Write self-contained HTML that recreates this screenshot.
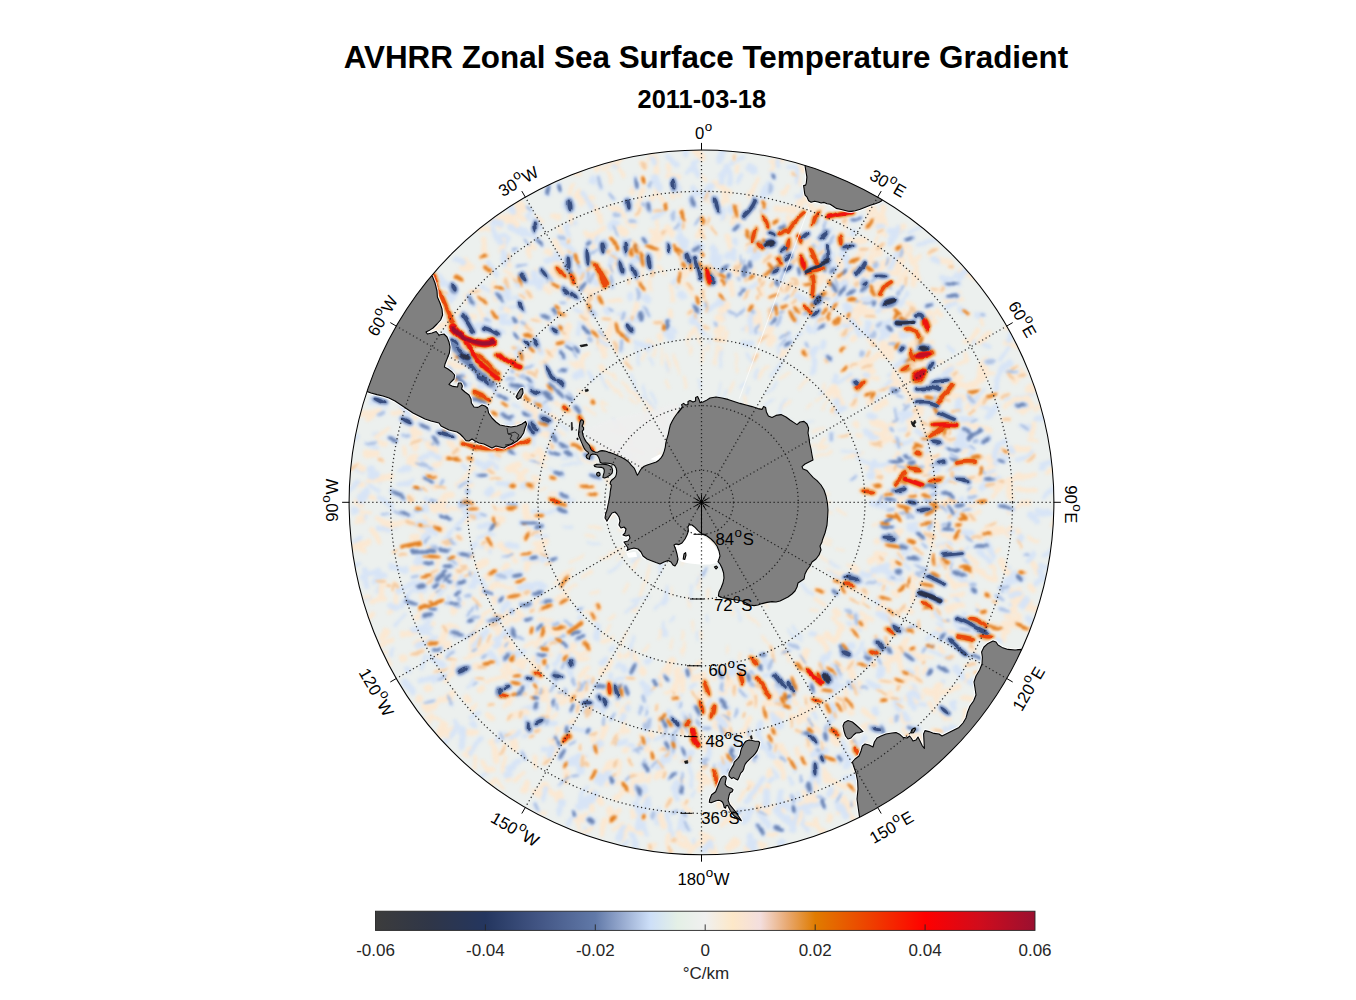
<!DOCTYPE html>
<html><head><meta charset="utf-8"><title>AVHRR Zonal Sea Surface Temperature Gradient</title>
<style>html,body{margin:0;padding:0;background:#fff}svg{display:block}text{font-family:"Liberation Sans",sans-serif}</style></head><body>
<svg width="1356" height="1000" viewBox="0 0 1356 1000">
<defs>
<clipPath id="clip"><circle cx="701.5" cy="502.3" r="352.4"/></clipPath>
<linearGradient id="cb" x1="0" x2="1" y1="0" y2="0"><stop offset="0.00%" stop-color="#3c3c3c"/><stop offset="8.33%" stop-color="#2f3648"/><stop offset="16.67%" stop-color="#24365f"/><stop offset="25.00%" stop-color="#435685"/><stop offset="33.33%" stop-color="#6179a8"/><stop offset="37.50%" stop-color="#98abd0"/><stop offset="41.67%" stop-color="#cddff8"/><stop offset="45.83%" stop-color="#e4f0e6"/><stop offset="50.00%" stop-color="#f0f0f0"/><stop offset="54.17%" stop-color="#fde8c8"/><stop offset="58.33%" stop-color="#f3dede"/><stop offset="62.50%" stop-color="#e8a870"/><stop offset="66.67%" stop-color="#e07c00"/><stop offset="75.00%" stop-color="#ee4000"/><stop offset="83.33%" stop-color="#ff0000"/><stop offset="91.67%" stop-color="#d00c1c"/><stop offset="100.00%" stop-color="#9a1030"/></linearGradient>
<filter id="b1" x="-5%" y="-5%" width="110%" height="110%"><feGaussianBlur stdDeviation="0.9"/></filter>
<filter id="b2" x="-5%" y="-5%" width="110%" height="110%"><feGaussianBlur stdDeviation="1.8"/></filter>
</defs>
<rect width="1356" height="1000" fill="#fff"/>
<g clip-path="url(#clip)">
<rect x="347.1" y="147.90000000000003" width="708.8" height="708.8" fill="#ecf0ee"/>
<filter id="nb1" x="-3%" y="-3%" width="106%" height="106%" color-interpolation-filters="sRGB"><feTurbulence type="fractalNoise" baseFrequency="0.05" numOctaves="2" seed="5" result="t"/><feDisplacementMap in="SourceGraphic" in2="t" scale="8" xChannelSelector="R" yChannelSelector="G" result="d"/><feGaussianBlur in="d" stdDeviation="1.5"/></filter>
<g filter="url(#nb1)" fill="none" stroke-linecap="round" stroke-linejoin="round">
<path stroke="#fbe8d2" stroke-width="2.6" d="M669.1 540.8l-2.3 7.3M709.8 589.3l.1 9M699.7 576.2l-.3 13.5M642.4 583.3l-3 15.2M749.9 371l2.7 -6.5M621 548.9l-12.7 3.8M720.3 360.2l0 -11.7M718.9 501.4l15.9 6.2M660.9 419.9l-7.9 -10.3M791.4 521.8l15.4 2.8M734.1 512.4l7.6 .7M657.7 486.5l-11.7 .1M820.3 537l11 2M743.1 493.2l7.3 -3.1M606.5 411.9l-4.9 -8.8M727.9 546.2l9.4 7.3M696.9 521l.2 15.3M594.2 536l-8 -.6M717.6 457.1l3.1 -5.2M670.2 501l-12.2 6.2M614.7 613.8l-6.1 5.4M664.4 518.4l-9.9 7.7M701.3 463.3l-5.1 -14.1M747.6 531.2l5 3.2M576.4 585.3l-11.5 4.9M609.3 553.8l-9.3 4.5M589.2 399.1l-10.1 -9.7M648.5 644.2l-5.9 8M625.3 636.3l-3.6 5.6M690 445.1l.9 -6M811.8 445.8l12.6 -.8M788.3 469.4l6 -9.3M675.7 437.6l-1.7 -9.7M602.2 528.7l-11.3 -2.1M735 475.9l15 -4.4M717.1 438.3l3.9 -3.9M760 518.4l11.8 -4M846.2 458.3l15.7 -6.8M838 549l6.8 2.5M692.6 538.2l-.6 9.4M700.4 345.1l-2.8 -11M688 596.6l1.4 10.6M723.2 485.8l6.6 -5M634.9 605.4l-3.5 4.8M758.7 378.7l9.4 -12.7M660.7 458.4l-2.9 -9.2M744.8 405.2l-.2 -8.9M629.5 503.1l-11 4.1M730.8 393.7l2.9 -13M758.1 431l10.3 -9.3M650.6 566.8l-6.2 14.8M779.8 378.6l9.9 -5.8M637.2 602.3l-2.9 9.2M732.5 434l3.3 -4.5M683.9 421.7l.1 -14.4M559.4 494.2l-9.6 -.2M765.9 600.3l3.4 6.3M743.2 442.2l-.4 -7.8M613.7 456.4l-12 -1.2M823.7 542.3l6.7 1.4M783.9 488.4l11 .3M843.8 459.3l15.4 -3.1M768.7 456.5l3 -6M763.8 479.9l10.7 -11.2M672.3 467.8l-14.1 -6.2M648.1 539.1l-8.9 6.6M714.3 362.9l3.5 -16.6M625 433.6l-5.4 -9.6M774.4 571.8l3.8 8.2M653.1 356.8l1.3 -6.5M766.2 559.3l4.5 5.5M835.3 414.5l8.3 -4.8M809.9 534.5l9.7 6M762.2 637.1l5.4 7.1M633.6 470.5l-5 -5.6M823 513.3l10.3 .4M801.7 563.8l8.4 5.1M823.4 409.5l6 -11.5M707.4 351.1l1.5 -8.6M626 633.5l-6 14.5M743.6 524.3l16.1 2.3M728.7 506.2l16.3 .6M729.8 460.8l7.3 -9.3M727.5 599.5l4.4 15.3M737.4 370.7l-1.6 -14.7M684.5 536.9l-4.8 3.9M675.7 543.5l-6.2 9.9M576.4 414.8l-12.7 -2.2M694.7 474.1l-6 -6.6M545.9 488.8l-6.9 .9M662.9 365.3l-.6 -15.1M613.3 377.9l-10.1 -8.9M583.6 555.7l-14.2 8.5M747.4 613l11.8 12.6M671.9 640.7l0 8.5M632.3 444.6l-3.3 -7.6M769.5 549.9l11.3 7.1M821.3 497.6l7.7 -1.8M662.6 425.3l0 -17.1M593 570.1l-11.1 6.8M689.6 354.5l-.5 -5.6M753 482.6l14.4 -6.1M596 461.5l-15.5 -3.1M565.1 475l-6.4 .4M820.2 556.3l11.7 5.6M744.6 562l3.2 10.3M695.9 459.8l3 -6.5M707.8 542.1l7.3 7.7M744.7 562.2l9 8.1M812.6 506.9l16.9 -3.9M616.4 488.3l-10.8 -8.5M819.1 502l3.5 4.3M685.1 544.1l-5.8 10M783.7 409.9l7.6 -9M650.1 402.1l-13 -8.4M615 380.7l-1.4 -6.2M680.7 632.3l1.5 6M695.5 455l-5.5 -13.3M654.3 408.2l-9.2 -7.1M677.8 498l-6.8 -.1M650.3 484.2l-10.9 -6.5M838.9 509l7.8 5.6M796 439.8l4.5 -5.6M642.8 465.9l-9.8 -6.9M740.2 653.4l-.9 6.7M773.1 559.6l8.8 6.3M624.4 553.1l-7.7 5.9M762.1 515.2l9.7 6.9M610.4 479.8l-7.7 -2.1M615.2 392.6l-8.1 -12.5M725.6 478.4l8.9 -6.1M687.4 389l-2.4 -13.2M834.8 574.5l7.6 2.9M773.7 502.5l15.1 5M681.5 502l-16.7 2.8M564.5 436l-8 -3.8M755.5 418.9l6.2 -8.5M668.9 389.9l-3.7 -7.2M654.1 415l-7.3 -13.3M812.8 433.6l9.9 -4.3M833.9 413.3l5 -2.2M670.1 447.8l-1.8 -5.6M817 457.1l14.3 -6.1M686.3 346l.1 -7.3M801.6 496.1l16.3 4.2M806.4 408.4l4.7 -3.4M626.6 486.9l-5.9 -2.1M722.5 511.2l11.3 2M756.1 468l8.2 -2.3M629.3 583.9l-6.1 8.6M605.5 456.3l-12.8 -4.4M668.3 373.5l.7 -5.7M751.3 559.1l3 15.1M773.7 543.4l5.4 5.2M691.3 621.8l1.8 9.7M644.7 453.4l-12.7 -4.1M809.5 530.8l6.8 5.6M685 640.7l1.1 8.6M614.6 452.4l-14.3 -7.1M789.9 461.8l12.1 -.9M607.3 404.2l-5.2 -2.8M673.3 418.4l-.1 -11.3M639.8 556.3l-6.5 13.1M620.4 509.1l-11.7 7.3M631.4 523.5l-10.1 5M815.9 401.8l6.6 -5.9M640.1 399.4l-7.2 -7.2M620.7 463.8l-11.2 -10.5M636.6 404.2l-6.9 -5.5M630.5 390.6l-4.2 -4.2M609.3 625.1l-7.5 9.6M748.8 485.3l12.9 -10.3M595.7 415.6l-11.1 -6.2M668.1 529.2l-11.1 11.5M702.4 362.3l.2 -11.4M679 372.7l-3.5 -16M801 462.9l6.6 -5.8M660.5 630.1l-2.2 8.7M622.6 396.9l-5.2 -6M622.6 434.2l-12.2 -4.2M828.4 568.7l14.8 5.2M832.1 573.5l5 5.8M688.3 473.5l-3.1 -6.7M846.5 565.7l7.2 6.5M639.8 402.4l-5 -11.4M687.4 558.5l-4.3 5.9M693.6 526.7l-.4 15M728.4 551.5l2.4 6.1M815.2 598l10.3 6.6M599.4 609.1l-12.9 5.1M799.2 389l9.4 -10.9M736 446.9l3.8 -15M620 455.2l-4.6 -6.5M647.9 422.7l-3.4 -14.9M784.1 532.5l13.1 -0M701.2 630.5l1.3 9.6M671.6 367.5l-3.8 -11M572.2 570.8l-6.7 5.5M786.8 435.2l2.9 -6.1M670 586.2l.5 9.2M630.5 393l-8.6 -11.4M683.5 647.8l.5 5.5M749.8 488.1l10.4 -5.4M598.6 592.3l-7.7 2.3M819.4 445.5l4.9 -7.2M737.7 520.1l10.9 .5M564.3 575.5l-9.4 7.1M642.3 359.6l2.4 -8.4M812.4 609.6l7.3 1.2M787.2 493l16.6 -3.8M669.8 543.1l-5.2 9.9M721.1 533.8l6.8 11.6M725.8 644.2l1.4 7.5M700 481.7l-0 -6M627.6 360.1l-3.7 -4.1M817.8 449.5l10.1 -3.9"/>
<path stroke="#d7e4f6" stroke-width="4.0" d="M832.9 175.8l9.9 7.1M630 745.8l2.6 1.5M988.5 477.2l4.2 7.9M503.1 333.4l-7.4 -3M966.5 423.3l5.9 -5M701.2 737l-4.3 5.7M692.5 172.7l.4 -5.6M940.5 633.7l1.3 4.1M935.5 545.3l16.4 -1.4M687.4 241l-9.6 -3.2M647.4 705.5l-2.3 2.4M842.3 740.5l1.9 8.9M1008.8 665.3l1.7 -11.9M909.8 370.9l10.7 -12.5M492.2 547.5l-11.4 -.5M455.3 669.3l-6.2 6M473.4 679.5l-5.5 8.6M682.1 815.9l-5.3 14.9M719.9 264.8l-.6 -7.6M824.4 643.6l4.7 10.9M711.2 700.4l-6.1 10.5M1036.9 514.9l15.3 -2.5M427 655.3l-6.2 12.2M472.6 336.4l-5.1 -13.9M379 433.8l-3.9 .3M842.3 337.8l9.6 -8.8M578.4 334.2l.3 -11.5M447.4 506.6l-5.1 1.3M433.5 469.7l-9.7 -3.1M664.2 738.1l-5.5 -1.3M598 350.6l1.3 -7.7M525.4 715.9l.9 5.9M925.5 603.2l15.2 9.6M448.4 429.5l3 -3M454 720.8l6.9 11.8M988.4 472.4l3.7 -2.6M411.4 514.9l-2.8 2M926.9 638l14 -5.8M855.9 623.2l10.5 3.7M883.7 324.7l6.9 -5M619.1 252.2l5.8 -13.5M448.4 650.6l1.2 5.8M884.4 520.3l3.8 1.8M768.3 739.6l11.8 13.1M534.9 582.7l-4.2 6.5M587.7 787l-8.6 13.8M802 203.3l2.4 -15.9M682.8 821.1l2 3.3M787.3 775.8l5.3 7.6M846.2 310.2l1.5 -16M740 810l11.1 3.9M881.6 388.7l9 -7M796.4 335.8l3.2 -2.2M545.8 794.6l-.2 4M674.1 739.7l9.4 10.1M612.1 646.4l-1.5 3.3M491.6 469.9l-15.2 -9.2M671.9 726.8l2 8.4M397.5 526.8l-6.8 -4.5M630.1 208.4l1.3 -5.1M453.1 529l-10.7 11.9M448.7 597.7l1.3 4.1M363.3 471l-7.1 -3.2M676.5 333l-3 -3.5M937.3 625.5l6.5 8.4M872.5 579.3l13.4 9.9M866.5 197.7l-3.7 -10.3M684.5 671.4l-4.5 9.7M515.4 305.1l-13 1.8M956.5 574.6l8.2 9M972.3 399l6.4 -5.6M498 459l-10.6 -7.3M740.6 217.4l-3.1 -8.7M625.9 841.5l-4.2 4.4M695.3 790.4l-4 4.8M545.2 587.1l-9.3 -5M935.9 565.9l10 -7.5M491.3 457.2l-2.8 -6.3M761.1 334.7l-3.3 -6.9M517.6 372.1l.6 -16.3M482 353.8l-12.5 4.1M881.7 208.5l-2.2 -12.3M1015.8 397.8l16.4 -4.7M540.5 286.8l-6.7 -11.2M465.4 665.3l-5.9 3.8M899.1 558.2l11.1 11.7M590.6 379.2l-2.9 -6.9M403.1 471.1l-5.8 .7M966.3 500.5l14.4 3M569.5 651.9l-1.5 2.6M506.9 315.3l-16.5 -3.6M690.2 768.5l2.1 16.7M418.5 589.9l-6.6 2.9M802.7 813.7l2.4 16.6M422.9 345.7l-15.9 5.6M596.7 301.5l-1.7 -8.3M594.9 242.9l2.3 -5.7M919.3 323l11.1 -5M853.6 654.9l9.7 -13M1010.1 604l6.5 -4.9M589.2 315.2l-15.8 -5.2M874.6 310.8l15 -5.7M808.1 703.9l9.1 13.9M465.6 312.5l-3.2 -.9M505 245.3l3.8 -7.3M520.4 668l-3.9 3.8M765.1 676.9l10.4 -2.3M449.7 303.1l6.6 -11M363.8 515.4l-1.5 6.2M825.2 235.1l6.2 -5.6M490 291.6l-8.3 -4.7M931.2 595.3l12.6 9.4M900.2 364.1l7.9 -8M913.6 688.1l2.5 3.3M359.6 537.5l-8.8 12.8M801.9 825.2l6.7 8M973.2 402.1l11 -10.9M915.8 705.1l11.7 -1.7M743.1 330.1l7.3 -4.7M837.4 266.4l-.1 -3.7M436.6 285l-2.8 -1.9M721.9 318.8l-0 -4.1M508.7 297.2l-10.3 -8M429.7 621.7l-10.9 5.1M427.7 502l-1.9 5.6M407 413.2l-2.6 -2M901.2 304.2l6.4 -11.8M651.3 658.2l-5.5 3.1M901.1 700.4l-2.7 11.4M584.8 827.9l1.8 10.3M947.3 345.7l4.7 4M533.5 731.7l-9.7 4.5M926.6 455.6l4.9 -16.6M468.3 397.4l-5.7 -.5M543.8 692.5l-5.5 -.5M877.6 739.6l.5 5.9M438.6 385.1l-12.2 -7.6M497.4 467.2l-6.2 -3.8M605.9 658.4l-5.5 4.7M895.3 366l7.7 -5.8M852.3 679l6.4 12.7M731 163.1l11.3 -5.9M681.3 247.5l-3.2 -2.8M782.3 251l16 -4.4M571 241.4l-6 -13.8M624.3 676.8l-10.3 3.8M611.9 672.7l-.6 8.5M372 597.6l-14.6 3.8M535.3 441.4l-6.5 -12M554.5 750.6l-12.8 -.8M404.1 615.3l-8.2 10.9M898.2 555.4l13.9 -7.3M877.5 600.6l1.4 5.7M728.5 314.5l-5 -10.9M571.4 817.4l-3.8 8.5M632.9 264.1l-.9 -10.1M964.6 613.5l-1.8 4.4M442.7 505l-14.3 1.4M896.4 579.5l5.6 .2M856.9 457.2l13.4 7.8M957.3 551.6l1.6 3.1M494.8 535.4l-16.6 1.8M941.9 681.1l-2.4 5.3M587 804l-3 -2.6M789.7 256.2l2.5 -12M567.9 205.3l.4 -7.5M535.9 703.9l-13.1 7.1M681 694.3l-3.3 10.2M727.9 195.5l-7.3 -14.7M476 626.9l-2.4 6.3M776.9 684.5l5.7 3.4M666.9 812.3l2.7 13.2M402.1 383.7l-8.7 -12.2M442.5 325.4l-5.8 .5M446.5 737.9l-2.9 4.7M908.4 525.2l10.7 -.6M832.7 683.8l-2.2 12.5M771.7 769.4l5.4 7.4M525.9 217.2l3.1 -6.1M439.5 672.6l-4 7.8M925.9 647l15.9 7.1M576.6 224l-11.1 4M449.4 551.8l-15.8 -5.9M1043.5 555.3l7.4 -5.6M919.2 243.7l17.3 -4.2M1000 359.8l8.9 -13M380.3 491.5l-13.1 -7.6M742.6 291.5l15.3 -9.4M381.1 482l-.1 -4.7M982.6 470.7l16.1 7.2M979 403.4l15.7 5.3M391.6 650l-1.4 7.3M693.8 839.1l3.7 8.3M922 484.3l3.7 -.4M686.6 173.8l11.5 -13.1M642.7 820.6l5 14M434.3 535l-8 -1.8M955 275.4l7 -5.2M661.8 675.2l-7.8 9.1M848.4 624.2l13.1 5.7M429.5 442.7l-8.9 -4.1M781 355.9l-1.3 -9.9M899.7 495.3l16.4 -3.7M386.1 407l-15.7 -3.6M761.4 736.4l-1.7 12.3M626.2 317.6l-7.8 -4.3M404.6 356.6l-16 -2.1M638.6 296.2l.8 -3M377.3 447.8l-9.1 -2.7M519.4 407.1l-5 -2.6M734.3 222.8l-3.6 -15.4M889.6 239l13.6 -9.2M527.7 675.5l-1.9 11.4M954.1 595.3l7.1 10M870.3 789.8l-1 7.5M658.5 809.1l-1.5 14.1M918.1 446.5l5.9 -4.7M489.4 552.1l.5 -7.7M435.8 580.8l-15.2 -4.2M815.8 323.3l10.3 2M487.1 772.3l-10.3 6.8M778.4 799l13.7 10.2M952.8 647.8l8.4 1.1M765.9 256l6.6 -16.3M446.6 585.5l-8.3 9.6M547.9 624.7l-4 -.5M1006.4 585.4l6.4 -5M837.4 383.7l13.3 -8.3M597.2 684l-4.4 2.8M771.3 693.1l5.5 1.6M819 768.4l-.6 14.3M678.4 286.6l.1 -3.4M412.5 480.2l-13.7 4.8M789.4 167l9.4 1.4M911.2 440.9l10.7 6.5M957.4 551.2l11 -5.3M861 786.7l6.8 2.9M466.2 467.5l-3.3 -3.2M765.9 197.4l2 -12.8M461.7 576l-1.4 16M853.4 396.8l9.5 -8.3M948.3 559.1l4.5 -.3M748.9 250.9l2.6 -15.9M972.7 339.6l15 7.4M858.9 659.4l-1.9 7.6M1000 560.8l10.3 6.5M382.8 583.5l-4.4 8M618.7 167.2l-11.4 -5.5M837.7 328.1l3.9 -3M1016 461.1l14.8 -9.1M779.8 801.4l-5.3 9.5M471.8 665l-9.7 7.7M889.8 375.8l3.1 -1.9M931.1 490.7l4.5 -5.9M797.6 794l1.8 5.7M843.1 182.8l-.6 -4.8M883.1 329.1l5.7 -4.3M429.8 634l-16.3 -5.5M529.1 293.3l-15.8 3.3M668.9 824.5l5.6 13.7M909.8 231.7l11.1 -5.8M901.3 428.5l9 .1M585.3 756.3l-14.6 6.9M807.2 715.7l-.6 17.5M922.8 331.5l3.4 -6.3M470.6 483.1l-9.6 3.8M441 277.4l-13.5 -6.2M721.5 314.1l-2.6 -13.6M877.2 399.3l-.2 -4.3M619.4 663.9l-2.2 3M881.5 427.5l8.2 -1.5M999.1 531.2l16.7 -.8M681.3 270.1l.8 -6.8M386.2 391.9l-8.2 -4.5M1044.2 497.7l10.8 -11.6M1005.4 399l3.4 -.4M526.4 228.9l-6.9 -.7M941.9 444.4l14.5 -7.9M881 217.7l2 -5.1M891.8 739l14.4 7.6M430.7 368.4l-.6 -11.5M476.6 603.9l.6 4.4M916 467l6.8 -2.3M464.6 364.8l-4 -3.2M676 730.7l-6.5 7.7M567.7 659.2l-6.2 8.3M522.9 752.2l1.4 8.9M886.2 264l2.1 -5.9M431.1 468.1l-9.2 -5.3M968.4 445.4l8.2 3.6M714.4 764.2l2.9 8.4M753.2 241.5l7.8 -.4M862.7 304.6l9.9 -2.2M743.4 270l2.1 -10M740.8 689.1l5.4 8.5M640.7 261l-3.5 -4.2M825.9 230.1l.5 -8.6M627.4 241.9l4.1 -2M485.3 422.4l-4 -1.7M442.8 347.4l-2.7 -5.6M575.9 356.3l-2.5 -8.6M890.5 289.7l-.5 -5.6M755.7 333.4l3.3 -9M509.5 643l-2.5 3.6M908.6 479l3.3 1.5M516.7 249.8l-4.7 .6M418 576l-5 1.2M615.6 711.5l-3.9 8.4M916.4 565.1l10.6 1.9M408.6 597l-2.5 4.2M484.9 516.6l-5.4 -1.6M802.8 314.5l8.4 -5.4M433.6 699.4l-9 2.5M437.5 437.8l-7.4 5.5M646.2 709.7l-.1 5.2M695.3 225.5l5.1 -9.7M894.7 533.8l3.9 3.6M511.9 553.7l-8.8 3.8M538.7 464.6l-8.4 -5M920.1 390.5l4.2 -.7M573.9 741.3l-4.2 3.3M579.3 683.1l-.3 6.3M562.7 691.8l-4 1M892.4 420.6l5.5 -1.8M895.4 417.9l-1.6 -9.1M637.8 251.4l-.9 -5.4M780.2 757.1l4 4.9M837.5 668.2l4.3 7.7M855.1 301.1l3.3 .6M673.4 230.5l4.3 -7.1M907.5 627.3l8.6 -2.1M819.6 296.7l8.2 1.1M918.8 341.5l3.2 .6M967.2 489l3.9 -3M388.2 513.2l-7.3 .1M934 398.4l2.6 -2M488.3 330l-3.9 .3M641.1 706.2l-1.5 6.9M902.5 406l5.6 1.1M639.7 747.1l-3.7 5.9M612.7 309.8l-4.5 -2.1M781.4 652.7l9.1 -1.9M450 696.1l1.6 8M776.6 684.1l2.2 3.7M850.7 478.4l5.6 -2.4M636.6 279.5l-.6 -4.6M780.3 282.1l4.5 -10.2M878 504.7l4.6 -10.1M470.3 576.6l-1.1 -4.8M891.1 344.9l5.5 -.7M649.6 211.5l-4.6 -7.6M500.1 733.1l3.8 7M677.7 811.4l-5.1 1.6M740.6 293.1l.5 -5M556.1 702.4l1.3 6.8M543.6 688.6l-3.3 5.1M1001 585.3l2.4 6.6M899.4 513.6l3.4 -1.9M928.6 499l4.2 .5M563.8 633.5l-7 5.8M938.2 506.4l7.4 6.3M927.8 644.2l5.9 .8M532.9 366.4l-10.2 2.5M952 563.7l-0 5.2M521.5 358.2l-2.8 -8.5M826.3 724.5l1 10.9M873.3 337.3l1.5 -5.5M974.7 608.9l3.9 .7M522.2 428.7l-.1 -4.5M645 204.9l-2.9 -1.7M549 400.1l-6.3 4.4M613.5 275.5l-4.5 -9.4M475.3 632.6l-7.1 4.7M961.8 462.4l3.3 -2.4M444.5 677l-5.8 2.6M946.8 618.4l1.9 2.6M477.1 649.1l-4.7 .7M528.6 342.5l-3 -1.5M376.7 442.1l-10 2.6M546.3 664.5l-.3 3.5M735 314.6l-8.1 -3.6M384.4 412.8l-6.8 3.2M898 624.8l7.9 6.3M741.3 265.9l-.3 -10.7M865.3 581.5l10.9 .3M665.3 729.8l-2.3 6.2M799.6 775.7l3 6.9M422.1 490.7l-9.2 -1.2M642.4 747.7l-9.3 3.9M572.3 628.3l-7.7 -7.8M408.7 405.3l-6.8 .6M808.1 719.5l3.8 7.1M461.4 529.7l-4.1 .5M477.6 682.8l-4.1 3.2M547.5 282.3l-.5 -8.6M863.9 651.7l5.7 1.9M751 237.9l3.7 -5.3M401.8 514.9l-9.1 -3.9M528.8 209l-3.9 -3.2M973.7 442l4.6 -.7M838.2 288.6l-3.1 -10.1M546.4 643.7l-6.8 3.5M536.7 406.9l-2.5 -6.5M928.5 463l9.4 .6M971.5 421.9l5.3 -2.1M439.2 589l-4.2 2.2M716.6 326.1l-.9 -3.3M690.8 714.6l-1.1 10.2M767.2 743l3 6.5M569.5 776.8l-8.2 6.5M926.4 645.6l-3.7 6.5M783.7 299.2l4.2 -4.2M605.8 335.2l-5.8 -5.2M832.7 675.3l3 3.6M852.1 737.2l4.1 9.2M556.6 683.9l-5.9 6.8M473.3 553l-4.9 -.5M835.8 665.7l8 7.6M980 468.2l3.7 4.5M900 290.5l3.9 -3.6M726.1 283.5l1.3 -4.1M734.8 733.7l1.5 10M886.6 510.7l6.5 -.8M479.6 443.2l-8.4 -6.7M706.4 568l-3.4 7.9M486.7 443.2l-9.8 2.3M809 347.9l-3 -4.1M739.3 280l-.7 -3.5M816.8 795.5l9.2 4.1M849.8 802l.8 5.3M574.4 397.7l-4.4 -5.5M759.1 810.8l7.5 3M524.3 265.6l-8.5 .2M828.9 719.5l1.1 9.1M586 682.7l-4 1.6M962.9 558.3l5.4 6.9M965.5 536.4l5.9 3.7M898 395.3l5.2 1.8M568.5 296.5l3.6 -6.4M524.4 324.4l-3.2 -2.7M616.8 235.5l-4.4 -8.6M432.8 291.6l-5.9 2.6M951 453.8l7.3 3.4M577.1 775.4l-5.1 .7M860.9 687.3l6.4 1.2M686.7 716.3l-.2 5.9M895.6 466.3l9.6 2.7M628.9 338.8l-2.8 -3.4M425.4 465.9l-9.7 -2.8M839.1 794.7l-1.7 6.2M800.4 654.4l5.6 9M781.8 345.6l4.5 -6.3M683.5 822.4l4.4 7M582.8 683.9l-5.7 5.8M891.1 388.6l6.5 2.3M565 689.5l-.3 5.6M900 256.9l2.4 -8.6M681.5 773l0 10.2M735.4 316.9l7.7 -7.3M449.5 604.1l-5.1 0M606.5 683.5l3.4 4.2M473.5 607.4l-5.3 7.8M644.7 722.9l.4 4.7M1024.5 555.8l4.3 -.9M604 717.4l-1 8.7M743 272.9l.1 -3.2M899.5 512.8l4.2 0M680.5 722.7l5.3 7.8M877.8 658l3.1 6.2M917.9 575.5l3.7 .3M528.4 243l-3.6 -4.2M721.4 714.3l7.2 6.4M963.4 512.2l7.1 -2.4M749.1 727.4l-1.2 7.2"/>
<path stroke="#fbe8d2" stroke-width="4.0" d="M362.5 521.6l-5.7 1.5M939.6 646l3.3 5.6M970.3 573.1l1.1 4.4M543.5 467.5l-9.3 -6.9M370.8 596.6l-13.5 3.4M503.7 790.3l-8.5 -12.2M881.2 504.6l4.5 -.8M867.4 334.4l4.8 -7.2M550.4 654.4l-3 1.1M542.1 449.7l-4.1 -.3M784.1 692.6l9.2 -1.8M496.8 448.5l-7.4 1.8M761.1 787.7l-.8 6.2M852.1 567.8l5.1 2.7M408 361.3l-10.6 8.1M587.1 812.3l-11.8 7.3M508.9 265.2l-.3 -9.1M584.1 800.8l-6.1 7.9M917.6 574l15.4 -.4M982.3 325.2l-2.1 -11M501.6 669.7l7.6 12.8M725.9 817.6l4.3 5.1M495.2 602.8l-7.4 -14.4M841.3 809.7l-3.4 2.4M553.8 332.6l-8.3 -11.7M936.4 630.9l17.1 2.5M707.1 179.7l-12.7 -9.9M522.7 774.8l-8 4.9M616.2 696.8l3.1 7.6M460.7 571.3l-10.6 -3.6M500.6 351.1l-14.2 -7.3M556.8 392.9l-3.6 .2M873.6 526.8l6.7 -1.1M701.4 706.9l10.7 8.7M385.2 652.7l-3.6 -.1M435 386.6l-2.5 -8.2M1005.6 328.9l3 -3.7M403.2 403.4l-3 -1M590.1 668.4l-10.1 8.4M734.6 816.9l-13.9 8.3M457.6 406.8l-3 1.9M645 720.1l6.9 15.7M832.8 618l12.1 11.2M384.5 445l-5.9 -3.7M396.9 523.2l-8.7 -2.5M762.1 295.1l-.2 -5.5M684.1 835.3l7.2 11.4M1007 511l14.4 -9.4M1003.7 612.4l16.5 1.4M492.3 643.6l-8.1 6.4M897.1 389.2l8.7 -9.4M716 333l3 -6.9M824.4 768.6l5.4 6.6M538.8 810.6l5.4 2M405.5 369.3l-4.7 -2.7M884 432.9l5.3 -1.4M677.1 282.3l-.4 -7.6M737.4 812.4l6.1 8.2M901.9 649l9.8 -.1M546.7 552.7l-8.4 -6.1M514.5 589.1l-16.8 -4.9M478.4 342.5l-10 -.8M912 250.6l-1.1 -3.3M923.2 333.7l12.8 -12M930.8 255.8l-.2 -3.6M611.9 636.3l-10.2 5.1M858.9 749.2l-1 8.9M824.1 829.9l.9 4.4M802.1 169.4l-1.7 -3M990.9 496.6l14 -11.3M827.8 308.6l-5.8 -16M561.2 789.8l.2 12.6M571.2 225.2l.3 -8.7M881.3 310.1l5.7 -2M442.8 722.1l-9.8 -5.7M904.3 729l1.5 5M940.2 713.5l9.9 5.4M536.6 686.4l1.7 10.7M848.1 381.1l4.6 -2.4M824.1 388.4l.5 -3.7M561.3 235.5l-4.4 -9.2M699.7 662.7l-11.9 11.1M863.1 739.4l2.2 6.2M738 230.1l-5.2 -7.3M438.5 562.7l-3.6 17.3M580.9 690.1l.5 7.1M558.9 316.6l-2.3 -4.7M775.5 760.1l6.1 12.1M395.8 360.1l1.1 -4.1M732.6 192.9l-13.7 -6.9M849.9 813.8l5.9 8.3M445.2 730.4l1.3 5.2M986.9 672.8l9.7 7.2M476.7 703.5l-3.9 5.1M576.4 814.8l1.3 16M918.3 345.6l15.4 -2.9M693.8 297.2l-8.7 -12.3M761.7 220.9l3.1 -12.9M1045.9 473.9l11 -6.4M934.1 699l11.5 9.1M671.8 689.2l-7.5 4.9M454.6 661.8l-3.7 8.2M869 262.1l1.8 -4.6M859.6 614.6l13.6 5M899.9 351.3l13.6 -8.8M420.7 411.1l-9.9 11.6M467.2 437.6l-9.8 -11.3M876.8 265l12.8 -5.4M500.7 492.7l-9.9 4.5M546.6 539.7l-12.3 5.1M934.8 600.2l-.6 17.3M503.2 676.7l-16.7 4.8M858.8 682.1l1.3 6.1M608.6 667.2l-7.7 1.1M905.2 404.2l4.8 -3M1001.1 587.5l9.9 .2M869 401.8l3.6 -8.6M472.9 328.9l-3.5 7M761.4 656l1 9.2M451.1 456.2l-10.6 4.3M528.9 355.6l-3.2 -1.6M906.5 376.3l4.4 -8.4M887.5 223.6l-6.3 -12.4M818.5 667.6l4.1 10M1005.7 454.6l7.5 -.7M950.3 505.3l8.4 -1.6M862.3 294.3l3.1 -11.4M925.6 576.8l-2.4 7M842.9 728l7.4 10.2M611 181l-2.7 -8.3M440 362.8l-15.7 2.4M707.1 684.4l-5.4 9.3M660.4 341.7l4.6 -12.1M981.5 374l11.2 -1.3M539 599.8l-8.5 6.3M719.7 286.4l5.3 -7.2M620 763.4l-7 16.4M932.7 402.9l3 -1.2M466.9 302.6l-2.1 -7.5M970 505.9l4.8 1M871.4 251.6l5.6 -14.4M746.2 248.2l8.8 -9.5M1019.5 589.2l3.9 6M1011.6 656.2l3.3 .4M467.1 443.3l-4 -.1M564.3 269.7l-7.3 -11.2M1046.8 463.5l3.3 .4M842.4 272.6l-3.9 -14.2M520.5 618.2l-5.3 2.9M544.1 452.1l-5.6 13.6M1029.2 473l5.2 .9M482.7 348l-4.6 -.4M914.6 336.7l2.2 -2.9M478.3 514l-5.5 -3.2M525.5 364.2l-17.1 .1M514.4 670.8l-8.9 2.3M434.6 328.1l-2.8 4.5M674.3 301.5l-2.5 -17.5M744.9 790.1l-6.4 11.1M844.2 324.8l9.1 -5.4M689.3 338.8l2.8 -4.4M925.4 692.5l7.1 3M426.1 638.3l-10.6 3.9M554.2 270.1l-0 -3.4M459.2 554.1l-.4 12.4M770.8 300.5l6.1 -12.3M536.6 413.7l-11.5 -9.9M402.6 417.2l.7 -11.7M978 683.4l15.1 -3.9M722.7 680.9l3.1 10.3M779.4 761l3 16.3M875.5 288.6l14 -5.9M558.3 403.9l-9.9 -1.4M933.4 317.1l-0 3.6M800.2 184l-1.1 -6.2M657.9 241.3l-1.1 -13.8M941.4 439.7l8.5 .3M979 370.6l7.3 -3.5M624.1 822.8l-9.6 7.5M892.3 647.1l12.3 7M472.3 486.1l-6.6 2.1M404.2 364l-10.1 -9.8M387.4 428.9l-10.4 7.9M548.7 378.5l-8 -16.1M909.7 322.1l-1.4 -5.6M468.2 508.6l-16.2 -1.1M497.2 377.5l-5.7 -1.1M645.5 796.9l-.3 8.8M915.6 337.4l13.2 -5.5M750.5 687.7l2 9.5M476.2 396.9l-10.5 -1.8M636.1 307.5l2 -11.8M939.3 493.6l2.9 1M924.7 365.6l16.7 -3.5M997.2 576.4l-2.7 -10.3M423.8 602.2l-5.3 10.5M430.5 525.6l-6.4 -8M867.4 468.9l13.6 4.4M997.9 680.3l7.3 -1.3M714.2 768.2l6.8 0M874.4 298.1l10.3 -13.4M706.6 817.1l5.8 1.3M946.3 300.5l17.1 -1.3M570.4 194.4l3 -11M422.1 599.7l-1.3 -5.9M579 654.1l-12.1 -8.8M557.5 789.9l.2 10.9M687.4 260.2l.5 -4.3M630.3 824.9l-8.8 14.3M628.7 826.7l14 5.9M831.1 758.2l3.9 2M757.1 324l-5.8 -8.1M954 583.1l11.2 2.7M649.2 773.1l-1.8 8.5M604.4 684.2l2.9 17.5M863.3 375.9l14.4 3.3M915.8 668.6l5 15.4M781.5 745.7l1.6 3.4M626.5 688l-9.8 4.3M512 698.4l-8.6 7.7M842.3 189.3l6.2 -8.4M876.8 580l17.2 3.4M847.8 654.4l.9 3.1M989.5 553.3l9.3 -3.7M434.5 623l-4.2 4.5M398.8 590.7l-3.8 11.9M740 221.8l-2.8 -16.9M374.3 497.6l-14.1 -2.8M559.5 600.4l-5.6 -.4M620.4 300.2l-10.8 -.6M967.8 362.8l-1.5 -9.4M516.3 618.7l-12.7 5M543.9 783.7l-8.3 11.3M551.6 417.6l-5.5 -2.2M980.6 694.1l1.5 2.9M391.6 640.1l-11.6 4.3M390.2 394.3l-2 -3.5M603.9 170.2l9.1 -9M826.5 322l4.5 -1M504.6 217.9l-4.3 -1.5M780.7 193l5.3 -6.8M925.3 531.8l10.5 14.6M759.3 844l5.1 0M434.9 316.8l-.7 -5.6M871.6 442.5l-.8 -4.6M956.5 365l12.7 -4.8M474 466.5l-10.5 12.3M972.1 567.7l9.1 4.4M832.4 724.9l2 3.3M853.7 573.9l5.1 5.1M933.8 291l3.2 -3.7M915 654.5l16.1 2.8M560.7 625l-5.5 1M538.5 534.9l-10.7 -4.2M876.7 220.8l-3.1 -8.9M764.6 832.3l11.9 1.1M1028.4 440.3l7.6 2M655.5 224.3l1.4 -8.1M952 549.8l10 3M727.8 667.4l2.2 3.4M1011.4 446.4l6.5 -1.5M447.1 459.7l-4.7 -.7M869.1 590.4l-7.9 14.4M576.3 367.2l-7.6 -4.4M893.3 684.1l7.9 1.3M557.2 244.3l-3.1 -3.5M644.1 779.9l-4.9 1.2M883.7 656.9l7.6 -.6M974.3 515l4.4 -3.2M989 563.1l4.6 1.9M537.2 679.3l-2.2 3.2M700.9 730.2l-1.4 8.2M478.3 393.4l-4.7 -5.9M908.5 346.3l13.1 -4.6M753.4 194.2l4.4 -16M589.2 798.3l2.2 11.4M460 427.5l-7.4 -1.7M964.5 340l4.3 -.9M771 174.3l5.2 -12.8M910.9 690.8l12.6 6.4M438.9 499.9l-6.1 6.3M760.9 843.3l2.9 7.7M601.5 744l-.3 6.5M792.8 716.4l12.6 2.4M1019.4 529.5l1.9 7.6M880.6 435.5l7.8 2.7M429.1 537.8l-10.7 -9.7M552.9 789.4l5.1 7.9M770.6 806.8l5 -.9M540 418.3l-12.4 10.9M435.1 590.1l-4.4 6.8M885.6 235.4l-10.6 -10.4M546 437.5l-3 -2.2M545 756.7l-.1 6.3M432.4 719.5l-3.1 3.6M829.3 273.8l10.9 6.6M881.9 772.8l8.4 8.3M864.8 616.7l2.2 11.3M474 654.4l-4.4 -1.8M590.1 342.7l-4.4 -7.9M402.4 408.5l-4.6 -9M975.9 605.2l9.7 12.1M662 271.5l-3.3 -6M942.4 316.2l-4.6 -4.6M510.3 777.7l-3.2 1.6M532.9 639.9l-8 6.8M432.1 713.6l-5.6 4.4M857.1 435.6l3.5 .5M590.9 651.7l-9.9 1.8M516 330.4l4.7 -17.1M898.2 338.1l2.5 -7.9M687.5 258.3l10.6 -6.7M593.1 825.5l-10.7 9.2M528.8 257.1l-1.5 -9.1M631.4 651.5l-6.9 6M770.4 710.8l1.9 3.4M608.7 255.5l4.4 -7.1M606.5 335.5l1.6 -6.3M542.3 221.8l-6.5 -5.7M468.8 554.4l-15 6.3M384 598.2l-11.7 3.1M499 629.3l-6.5 -.3M845.8 690.8l1.7 4.7M519.9 365.9l-12.8 -12.1M714.8 728.6l11.5 5M736.7 170.6l.3 -5.4M738 275.5l2.2 -6.2M615.8 212.1l-6.5 -4.4M910.9 262.7l9.9 -6.1M912.4 761.3l4.9 5.4M909 679l8.1 3M402.3 373.5l-11.5 -6.7M941.4 546.2l10.1 10.9M553.5 621.3l-15.4 -2.1M755.3 311.8l-8.3 3.4M869 258.6l9.1 5.6M881.8 768.5l.3 5.2M814.8 780.4l.8 7.8M392 606.3l-3.2 5.5M716 846.5l.8 6.1M704.1 836.5l2.1 5.3M964.5 723.5l.3 5.3M969.1 675.1l-2.9 6.8M919.3 428l5.6 -1.5M723.8 745.1l7.5 9M367.6 511.6l-13 -2.8M723.2 342.7l3.7 -10.2M623.8 176.7l-4.3 -7.9M718.7 183l-3.3 -2.7M390.3 665.3l-3.3 -4.1M447.7 343.5l-6.3 -2.3M996.3 654.1l11.5 7.3M531.7 663.4l-13.6 -2.8M512.1 277.1l-7.9 -7.5M944 369.7l6.3 .9M504.3 756l-.5 17.3M850 323.4l10.2 -8.4M558.6 671.5l-.3 6.9M476.1 362.2l-4.7 1.9M997.3 528.1l10.9 7.4M438.5 502l-13.3 .8M534.7 397.4l-10.3 .2M679.4 195.8l.1 -9.1M478 653.5l-13.7 3.6M825.3 742l-.1 7.7M659.5 240.2l-10.7 -9.9M820.9 252.2l1.7 -4.7M638.8 274l2.2 -3.2M684.8 251.5l-7.2 -8.3M843 226.9l2.1 -5.1M724.2 745.3l-7.4 .1M575.4 173.4l3.3 2.3M1053.9 516l-4.2 10.8M969.9 567.8l14.8 2.3M672.5 752l1.3 4.9M556 713.9l-10.8 7.8M483.7 317.2l-8.5 -14.1M379.6 411.8l-14.2 8.3M658.5 258.9l.7 -4.6M474.5 705.8l-3.7 1.4M539.3 480.4l-5.1 -4.6M477.7 626.1l-2.7 2.8M660 724.7l5.4 16.7M789.7 797.4l-2 3.3M608.9 283.3l2.9 -10.9M476.1 756.7l-3.5 10.3M621 824.1l-1.3 4.1M550.6 699.3l-16.4 -.5M952.3 641.2l7 -1.7M565.2 255.6l-8.3 .5M650.6 290.5l0 -8.5M944.2 394.3l11.4 -5.1M789.4 656.2l1 6.9M959.5 462.5l15.5 -4.4M491.3 609l-9.9 8.3M683.3 804.1l7.5 8.3M1029.2 538l8.3 2.9M929.5 702.3l4.4 8.3M456.2 726.6l-8.7 3.7M874.2 262.7l3.7 -.3M878.7 390.5l10.4 -3.3M448.4 293.6l-7.2 -2.9M680 727.1l1.3 7.4M929.5 253.1l7.7 -3.7M832.9 712.4l3.4 4.4M445.1 489.1l-10.2 -4.1M919.5 346.5l-3.7 -5.9M688.6 665.5l3.3 10.5M926.7 533.1l4.2 1.6M765.2 584.4l6.4 2.1M613.2 773l-1.5 5.8M849.5 368l7.2 -3.4M514.7 348.4l-4.3 -1.6M761.2 295.3l-4.9 -7.9M536.3 482.6l-5.3 3.9M485.5 666.5l-8.5 -.1M905 316.4l5 -6.1M525.9 428.7l-6.8 -4.6M508.5 259.5l-1.3 -6.4M884.2 637.8l3.2 9.2M395.4 584.4l-.8 6.8M965.9 664.9l8.3 -.1M433.8 577.1l-8 6.9M392.8 585.1l-4.8 -.7M486.2 542.6l-4 2M729.7 727.5l.1 7M509 733l-3.9 2.9M948.9 471.1l6.6 -5.9M865.4 356.1l3.7 -5.2M438.1 571.5l-8.3 2.9M915 315.2l-1.9 -6.7M878 691.1l6.3 3.8M421.6 651.1l-10.3 2.4M953.4 374.6l3.3 -2.4M975.3 672.9l7.2 1.2M938.9 399.9l9.5 1.1M744.6 713.1l-1 3.8M528.6 590.6l-4.5 2.6M923.5 661.6l-1.4 2.9M913 412.5l4.9 -4.6M538.8 532.3l-9.1 3.6M782.9 291.9l-7.2 -6.5M482.8 401.1l-4.6 -2.4M641.4 740.7l-3.8 5.8M733.2 218l4.7 -6.5M938.5 599.2l8.5 2.7M530.3 331.2l-5.3 -6.6M532.5 735.3l-3.5 1.7M921.7 421.1l5.7 4M946.1 658.2l4.6 .7M790.6 295.1l5.8 -6.3M526.2 298.9l-6 -5.4M638.6 253.8l-.1 -4.2M480.5 605.2l-6.7 -6.3M660.6 683.5l-.9 3.7M897.5 551.6l6.6 8.8M479.2 289.9l-9.2 2.6M1018.9 376.3l6.3 -2.5M385.1 581.5l-7.7 -.5M906.8 360l6.8 -3.8M720.9 668.1l-2.4 5.8M949.1 517l6.7 -6M842.1 699.1l1.7 11M565.7 775l1.5 7.6M838.7 435.9l11 -.4M495 433.2l-7.8 .9M609.5 319.3l-6.6 -.6M872 344.6l4.1 .5M506 745.6l-6.2 7.6M617 739.1l-.7 5.7M791.5 279.9l5.8 .6M578.5 705.3l-1.5 8.8M746.7 244.4l3.8 -4.7M525 693.6l-9.4 -.3M769.5 646.4l1.7 3.2M896.7 703.6l6.7 4.4M808.1 194.6l5.5 -9.6M583.9 761.8l3.3 2.9M878.1 232.1l5.1 -2.3M899.9 647.6l5.8 7.2M661.1 749.2l8.3 .6M949.1 266.9l4 -.9M1001.4 398.3l7 -3.3M836.9 697.5l7.1 4.2M500.1 455.3l-4.2 -.8M863.1 603.6l7.3 4.8M405.7 555.2l-7.5 -.2M512.8 713.7l-5 4M832.3 294.9l6.2 -4.5M866.4 316.3l8.7 -0M693.6 290.6l-5.7 -5.6M943.5 424.9l5.4 -7.1M893.5 442.1l8.5 2.4M980.4 456.8l3.6 .8M656.6 759.5l5.8 8.9M938.5 608.5l2.5 5.3M552.2 394.2l-6.3 -1.1M540.3 721.9l-7 2.5M657.4 684.8l-7.4 6.6M911.7 310.9l-.9 -3.2M901.9 628.7l9.6 2.1M871.3 663.1l4.3 1.9M757.3 805.8l.8 5.2M501.3 478.4l-10.4 .2M579.5 744.7l.8 5M554.2 356.6l-6.8 -7.7M770.3 287.7l3.4 -7M480.8 637.2l-2.5 9.8M629.7 759.4l3.6 4.7M493.6 704.5l-4.7 .2M821.3 741.8l.3 7.1M712.6 741.5l2 5.9M886.9 618.1l4.2 7.9M596.9 744.3l-.9 10M940.5 290l2.2 -4.5M594.2 677.7l-2.3 7.5M748.6 736.2l.3 9.9M745.4 298.7l2.5 -7.9M808.3 786.6l.5 4.2M445.6 670.6l-10.4 1.8M971.9 537.9l10.9 -.6M968.5 397.2l3 -1.6M539.2 321.7l-8.4 -1.5M584 291l-1.7 -6.9M945.3 528.4l5.5 1.9M720.8 340.7l-5.7 -1.4M770 651.7l4.5 10M665.5 772.2l-2.2 4.2M617.3 260.4l-5.6 -3.1M744.5 281l-.9 -9.4M724.9 671.4l3.6 8.4M896.7 613.1l3 3.5M882.6 494.3l2.8 3.5M568.3 298.7l.2 -7.8M881.5 499l6.1 -8.7M691.4 761.8l-9.1 -.6M658 724.7l.3 4.8M532.8 608.1l-4 .3M430.5 527.3l-10.8 -.9M552 562.7l-5.3 2.3M930.1 431.6l5.8 -3.6M649.1 259.3l-4.8 -4.3M935.5 729.8l8.2 1.7M717.6 233.4l-4.2 -6.9M615.5 736.3l-3.5 7.5M913.9 676.3l8.9 6.3M776.3 744.9l-1.3 6.3M749.3 784.8l-1.5 4.6M947.3 545.3l5.2 3.8M942 619.3l6.4 2.2M567.6 333.9l-5 -2M424.1 651.2l-9.2 2.7M489.6 636l-3 6.3M738.3 270.9l-3.6 -5M1017.5 539.9l2.6 9.4M631.5 368.9l-6.8 -7.1M536.5 376.7l-8 -5.6M455.2 356.8l-1.5 -5.9M925.5 438.4l10.7 -1M578 681.7l-2.9 10.6M805.6 738.7l1.3 7.3M759.2 340.9l9.4 -4.6M475.3 425l-8 -4.5M421.4 439.9l-10.3 3.4M905.4 672.7l7.5 4.1M640.5 250.3l-6.1 -8.8M790.9 718.4l2 6.4M872.8 393l-.9 8.1M455.7 660.9l-9.6 -1.4M570.7 253l-3.1 -1.9M617.1 760.3l-4.5 5.8M553.7 446.2l-3.1 -2.9M671.4 690.6l2.1 6.4M910.4 398.8l9.1 -2.6M687.1 799.3l-1 5.3M422.1 376.9l-4.2 -2M520.1 376.4l-3.3 -2.6M889.1 697.9l9.2 1.3M735.2 159.8l-0 -3.8M704.5 239.2l-3.3 -9.4M708.7 224.7l1.1 -7.2M726.1 709.7l.6 10.6M442.4 401.8l-6.8 -1.5M520.1 277l-1 -4M795.2 176.8l-2.7 -3.1M806.6 697.2l-.6 8.3M905.6 285.9l.2 -8.5M907.2 361.6l8.4 -1.9M930.8 286.8l6.8 1.4M695.6 316.9l-.3 -5.2M832.1 411.7l3.5 -4.1M669 751.8l-4.4 4.2M610.5 254.2l-5 -3M918.6 620.9l1.5 6.8M534.4 454.7l-3.2 -.7M805.2 760.2l-.7 3.1M657.5 703.9l1.1 6.2M1023.6 626l7 1.1M640.8 285.7l-3.6 -5.4M443 626.2l2.7 7.2M947.2 437.6l7.7 .2M717.9 270.4l-7.3 -6.6M762 213.1l-.6 -4.1M669.4 846.7l2.1 4.8M540.8 351l-1.6 -4.6M597.4 345l-.3 -7.3M935 391.1l5.7 -2.9M358.6 462.8l-8 6.7M716.5 273.5l3.3 -2.4M464.3 377.9l-9.3 -4.6M881.9 591l2.7 -5M472.5 573.7l-7.8 3.7M663.7 211.6l-10.5 .3M867.9 491.3l7.2 .8M484 678.6l-7.8 -.4M722.2 756.9l1.3 7.2M850.2 599.5l7.3 4.1M993 602.4l3.2 1M627.1 283.1l.3 -4M480.9 441.2l-4.8 -2.9M709.6 328.5l-4.4 -1.4M636.9 215.4l3.6 -9M556.5 643.5l-6.5 2M722.7 787.8l4.2 1.8M936.5 421.2l7.7 -4.6M580.8 289.8l-2.7 -5.1M537.3 374.8l-.7 -3.5M912 548l8.7 6M787.6 270.8l2.8 -3.9M494.9 511.4l-1.9 -3.2M773.7 258.4l8.5 -6.4M399.6 588.8l-4.6 -5.9M550.2 758.3l-5.6 5.7M816 169.3l-7.6 -2.2M479.2 347.4l-9.7 -2.7M876.2 635.6l3.1 8.4M426.3 525.7l-10.2 -1.5M516.9 282.8l-2.9 -3.9M818.3 216.9l-.3 -7.9M898.2 754.6l-.8 8.4M948.1 433.2l2.1 -5M633.3 678.5l-7.5 -.6M988.3 526.6l8.5 -3.8M521.3 340.5l-4 -4.8M853.1 684.2l3.4 10.4M507.2 635.1l-1.1 3.1M818.4 255.9l3.6 -3.9M595.7 732.9l-5.6 2M948.9 419.7l5.3 -.2M945.8 657.4l7.5 -.7M542.2 606.6l-3.5 4.4M969.7 412.4l5.7 -3.1M394.6 549.5l-2.3 2.7M426.6 491.6l-4.1 -4M556.2 735.9l-3.1 5.5M948.4 482.9l7.2 1.2M933.4 456.1l7.2 -1.2M921.4 473.9l9.2 1.1M693.7 691.5l4.5 9.1M442.4 542.2l9.1 -3.4M458.4 570.1l9.2 -2.3"/>
<path stroke="#fbe8d2" stroke-width="5.5" d="M372.5 471.8l-4.3 10.2M789.1 691.5l7.3 14.2M908.3 365.8l14 -3M761.6 328.9l-3.6 -15.5M843.8 331.9l3.7 -1.8M901.1 758.4l10.2 .2M372.2 572.3l-4.1 2.7M669.5 168.4l.3 -2.2M831 294.7l1 -8.5M480 345.6l-9.3 -7.6M597.4 212.3l-5.4 -8.1M902.5 253.1l3.9 -8.4M437.5 510.9l-3.8 -2.4M675 684.6l-.4 8.5M633.6 656.3l3 5.9M1010.2 620.2l9.3 -1.7M745.1 848.2l8.6 6M464.6 478.9l-5.6 6.9M389.7 523.4l-7.7 -2.6M920 414.8l-.2 -9.7M809.6 207.8l12.4 -.6M550 251.1l-3.1 -1M883.1 770.6l1.8 .3M454.5 670.4l-7.9 10.3M882.5 433.6l11.1 -11.5M807 696.4l-2.3 .7M910.9 428.8l6 -15.2M497.6 581.9l-5.6 4.5M561.5 387.4l-4.5 .6M887.6 785.7l3.4 1.3M1010.3 590l9.5 3.7M766.6 714.6l-.6 3.6M749.8 275l1.4 -5.3M818.3 252.7l7.5 -1.6M932.5 751.2l14.8 2.7M576 196.8l4.1 -5.5M706 280l-9.2 -6.7M905.5 318.3l2.4 -4.2M886.3 664.7l1.6 5.1M525.4 480.8l-11.8 -11.1M735.6 268.3l1.7 -5.9M955.9 294.4l2.5 -.6M603.4 686.5l-1.5 6.2M577.4 692.4l1.9 1.4M515.6 595.9l-2.4 -.4M462.4 434.8l-3.1 -2.5M522.3 218.4l-8.4 -5.8M632.1 193.1l4 -9.5M510.9 629.3l-1.5 -0M632.1 319.5l-10.7 -1.9M841.6 628.9l-4.8 9.7M475.9 512.2l-3 -.4M821.3 313.5l-.9 -1.5M911.3 737.9l4 6.2M364.9 549.9l-4.4 -2.2M911.2 726.4l7.8 13.7M581.5 277.8l-10.7 2.8M704.1 845.6l11.2 9.3M799.2 207.3l7.2 -11.2M955.2 731.4l6.9 12.5M833.6 280.1l10.4 -5.8M603.6 370.4l-1 -3.6M732.6 223.3l2.5 -6.7M438.1 551l-2.3 -1.6M557.7 696l-2.9 3.8M702.4 784l-.4 6M535 408.3l-7.8 1.7M425.4 412l-12.7 .1M1022.7 411.5l7.2 -7.9M421.2 330.2l-13.3 -5.5M384.3 582.6l-2.9 15.1M501.8 436.1l-7.7 12.4M535.4 658.1l-4.4 13.2M554.5 753.5l-.8 1.6M529.5 356.7l-3.4 -.5M948.8 573.8l5.5 11.3M812.1 790.3l4.3 14.9M903 317.8l2 -6.8M717.7 207.5l-2.6 -6.3M536.9 561.2l-5.9 2.9M669.3 317.7l.8 -5.2M387.9 368.8l-8.2 -5M968.7 556l6.8 6.8M709.8 843.9l-4.1 -.2M516 562.1l-2.4 -1.7M596.2 171.3l4 -10.6M891.6 388.3l6.2 -7M579.6 202.6l.6 -6.8M802 803.1l-2 16.3M483.6 688.2l-2 3.2M541.6 635l-5.1 8.7M848.6 240.9l2.5 -.8M886.4 470.3l14.7 .7M619.9 782.5l-11.5 .7M869.5 559.6l11.6 -3.4M1015.4 400.2l11.4 -3.5M930.2 419.9l5.6 -4M783.8 804.3l-2.3 9.7M618.7 654.4l.9 2.2M767.5 788.1l-1.7 12.9M552.2 286.5l-2.1 -4M472.6 269.4l-9.9 -1.2M942.8 692.7l14.8 -6.5M807.6 826.1l7.5 1.2M444.9 701l-6.1 -1.6M778.3 267.3l10.7 -6.3M361.9 485.5l-10.5 .4M451.5 699.4l-1.9 .7M681.4 779.5l-2 10.4M474.1 731.5l-11 1.7M606 279.1l6.4 -10.2M908.6 382.3l12.4 -5.1M887.8 600.2l-8.9 9.7M442.8 402.4l-7.7 -8.1M893.8 461.4l4.6 -6.9M405.6 453.1l-.9 -6.2M514.3 658.4l-5.1 3.6M866.5 366.2l3.8 -5.7M488.6 714.7l3.8 4.7M545.8 362.3l9.2 -12.7M522.7 664.3l-1.2 1.9M968 405.2l1.2 -2.8M508.8 667l-2.7 -.5M439.8 463.9l-6.5 .1M946.1 727.8l2.1 1.6M980.5 657l6 5.7M973.8 426.6l15.3 5.8M545.1 634.9l-4.8 3.7M891.6 264.9l7.8 -7.5M995.8 625.1l11.1 5.4M629.8 705l-7.1 6.8M915.1 575.5l.8 3.1M749.5 197.2l1.4 -2.3M673.2 195.2l-1.8 -2M916.7 761.8l3 4.2M662 771.2l-6 7.1M492.4 291.8l-.3 -11.1M890.6 357.2l-.1 -8M851.1 273.8l9.8 13.2M624 214.7l-7.7 -6.9M822.8 638.1l4.1 15.5M986.6 467.9l5.5 -4M465.1 314.6l-7.4 -2.6M535.1 758.5l.8 9.3M393.9 375.7l-14.3 -7.3M950 563.1l3 6.4M730.7 294.5l1.5 -12.9M457.1 631.1l-8.4 -4.6M446.9 510.2l-14.8 -5.2M811.4 796.7l3.8 5.7M692 335l7.8 -13.6M518.3 694.1l-9.9 9.2M720.1 282.2l-1.8 -3.9M426.2 613.8l-9.9 3.9M1008.6 481.7l12 -4.7M948.1 538.1l6.7 .8M454.4 329.2l-.3 -1.9M593.2 737.7l2.1 15.6M478 664.8l-6.3 1.5M587.2 659.2l-11.8 .6M474.7 364.8l-1.3 -1.3M452.2 494.1l-8.8 3M627.6 732.5l-8 .6M431.1 686.2l-5 3M639.2 277.1l.3 -2.1M1012.1 448.2l15.4 .1M678 670.2l-1.3 12.4M610.8 660.9l-8.9 11.2M705.7 834.8l-4.5 6.9M903.5 678.4l1.2 5.6M558 729.8l.8 1.5M507.4 263.1l-2 -6.7M710.2 201.1l2.5 -3.9M575.6 643.8l-13.9 2.6M947.2 302.4l9.1 -5.2M418 630.8l-15.6 4.5M722.8 714.7l6.2 13.2M868.9 392.7l-1.7 -2.1M839.6 398.4l3.7 4.1M627.7 749.8l-1.2 1.8M923 486.3l4.7 2.7M559.5 217.5l-6.9 -2M573.6 721.7l-7.7 6.4M869.8 221.4l-2.3 -14.9M788.4 227l-.8 -9.9M678.3 176.4l-4.6 -.6M501.7 221.7l-14.9 -2.8M912.5 285.1l-.1 -12.5M803.3 172.5l15.7 -4.2M510 637.8l-1.5 2.9M493.1 769.2l-3.7 .4M878.2 269.5l8.6 -7.4M1014.7 382.4l7.8 -11.7M885 614.2l8.5 1.2M487 254.8l-3.4 -15.4M607.4 338.1l4.7 -15.3M954.5 534.1l6.1 1.7M876.2 540.4l2.6 .1M678.3 831.7l2 4.9M402.9 522l-15 5M547.4 291.7l-4.9 -4.2M580.9 373.6l1.9 -12.9M797.6 203.2l4.6 -6.4M543.5 782.3l10.7 10.2M852.9 368l12.6 -7.6M437.4 327l-13.3 -8M461.4 603.6l-9.6 9.2M555.4 419.4l-1.4 -1.1M951.5 396.2l11.8 2.3M728.6 251.4l-1.9 -15.5M653.3 845.8l-2.7 3.4M884.7 663.4l14.3 -6.5M751.9 211.8l-.7 -7.1M637.4 205.8l5.6 -14.7M479.1 363.4l-10 -4M898.2 283.8l7.7 -13.3M565.9 593.8l-7.4 5M906.3 413.2l4.5 10.8M535.6 225.8l-2.7 -2.4M807.8 358.4l2 -5.3M951.2 525.4l4.2 5.4M497.7 626.2l-.7 8.9M913.4 584.7l-1.4 16.3M797.6 751.1l.6 4M466.2 331.5l-3.7 1.7M815.6 820.7l4.4 10.7M854.7 403l-1.8 1.2M884.5 284.2l-4.3 -8.9M857.7 426.8l-2.5 -3.3M996 488.2l6.7 -1.1M873.9 795.7l.8 14M1029.9 586.2l4.3 2.1M647.7 205.1l5.7 -7.9M623.7 712.7l-.6 15.3M683.5 675.5l-1.5 14.5M1025.2 604.4l12.1 5.1M656.6 240.2l11.6 -9.5M555.4 418.5l-9.5 -4.7M853.7 802l-7.2 9.5M906.7 699.2l8 4M829.9 780.4l13.6 9M433.5 706.8l-8.9 -2.1M801.2 711.3l-2.1 10M635.7 774.4l-4.3 .5M701 833.7l11.1 6.5M380 542.7l-9.3 -11.9M971.4 338.9l5.1 -7.8M952.8 595.7l8 -1.9M824.8 774.3l1.2 6.7M590.9 237.2l11.4 -8.4M401.8 399.1l-14 -7.6M457 607.4l-5.3 .4M439.9 298.9l-11.8 -.1M524.8 347.3l-4.4 -5.8M1031.6 435.4l3 -11.7M893.4 378.5l4.8 -9M511.9 643.7l.4 6M581.8 361.9l5.7 -7M843.1 799.1l4.7 11.9M500.4 222.6l-3.8 -1.6M984.3 629.4l2.4 7.8M982.7 572.7l12.6 6.9M949.3 299l6 -2.4M545.8 457.6l-7.5 -8M955.7 378.5l6.7 -1.8M745 296.9l.8 -2.2M869.5 794.5l1.9 10.7M952.2 371l1 2.8M594.7 247.4l-7.5 -13.3M1034.6 408.3l4.4 -2.9M551.6 741.9l4.4 11.2M502.4 510.2l-7.3 1.1M618.8 811.4l-7.4 7.8M1004.8 343.9l13.1 3.5M607.2 338.1l-5.2 -2.4M678.2 680.2l-4.3 6.4M909.9 326.6l9.7 -.7M848.9 712.3l1.4 .7M764.4 688.4l6.9 14.7M646.9 159.6l8.6 -2.9M962.9 421.6l12.1 7.6M586.1 280.9l-10.5 -9M1031.2 390.9l-2 -4.6M525.4 617.2l-11.3 -7.3M665.3 203l-9 -11.4M805.6 744.6l7.4 10M529.3 564.1l-1.7 6.2M877.8 780.9l7.6 -1.9M403.6 400.4l-4.2 -1.6M546 688.2l-2.9 6M661.5 339.6l-2.2 -3.7M810.1 724l13.3 9.4M453.2 630.3l-.4 3M804.9 793.2l2.5 10.2M1024.7 502.9l4 .3M946.3 394.5l10.9 -7.9M926.3 569.7l3.4 .6M720.4 310.6l5.5 -7.2M530.2 671.7l-3.6 5.1M857.9 257.2l5.1 -2.5M587.1 292.6l1 -5.7M473.6 316.8l-5.4 -.6M855.5 588.1l6.1 .5M572.5 693.4l-11.8 9.3M462.6 368.5l-13.1 -6.3M741.6 731l0 3M746.3 329.6l5.9 -1.8M1028 601l1.6 .1M971.5 650.3l3.3 1.5M617.8 163.6l4.4 -7.9M725.1 219l-5.9 -12.8M964.9 385.8l7.2 -4.1M532.6 277.3l1.9 -7.2M671.2 234.5l-5.1 -8.5M965.3 710.7l-1.1 10.3M872.2 298.2l9.3 3M1033.2 563.5l2.5 10.4M656.7 252.8l.4 -4.4M909.3 304.1l3.3 2M764.9 702.7l13.3 -.6M955.8 538.9l6.8 -2.6M526.4 376.3l-9.7 -11.6M954.6 438.8l4.9 .2M538.3 319.9l-1.4 -1.3M1008.8 529l3.4 -2.3M454.8 694.7l-9.4 4.4M489.1 576.7l-2.4 -2.1M372.4 613.6l-7.8 6.3M604 821.2l-2.5 13.3M678.5 177.2l-11.1 -3.2M433.7 479.7l-4 4.5M886.3 348.8l9.2 -9.4M635.4 783.1l-3.6 9.8M719.4 796.9l.4 9.8M888.3 272l5.8 .1M495.3 748.1l1.7 14.4M1016.5 475.1l13.4 -1.1M600.7 703.9l-3.5 3.5M876.1 254.9l1 -7.7M522.7 431.3l-7.5 -7.8M500.1 250.9l2.9 -6.7M546 540.8l-9.4 12.4M811.8 307.4l3.1 -6.8M1014.9 622.3l.8 1.8M484 324.9l.7 -8.7M513.7 650.9l-4.3 1.3M985.1 478.5l8.4 -3.9M721.2 331.6l1.8 -3.2M1009 652.7l13.4 2.5M822.4 690.5l9.1 1.1M809.6 705.7l-3.9 14M938.2 290.1l1.1 -1.7M792.9 210.8l-1.5 -2.5M880.1 253.8l.1 -1.8M482 762.1l4.8 8.4M1002.7 630.3l1.7 9.8M609 764.1l-5.6 10.3M556.2 436.9l-11 -3.5M669.5 833.3l-.9 10.2M897.3 656.1l6 12.3M762.3 805.1l5.3 5.5M459.9 437.6l-5.4 -7.1M869.6 359.2l8.9 -3.8M884.6 539.6l8.3 -4.8M937.8 703.1l7.1 14.2M624.2 789.2l-7.5 9.3M749.1 781.2l8 8.2M916.7 329.8l9.5 5.4M815 245.4l1.6 -3M918.5 658l3.9 3.6M405.4 656.2l-3.7 2.4M879.8 554.5l5.6 .1M562.3 693l-7.2 5.9M712.8 774.1l4.8 9.8M651.1 155.3l-.4 -2.7M502.8 240.1l-2.7 -2.2M540.7 448.1l-13 9M769.6 770.2l-.9 6.2M753.8 274.7l-2 -8.4M548.9 705.1l-4.4 13.1M698.7 842.8l-7.9 10.2M820.9 301.3l2.2 -6.8M864.2 362.8l-1.5 -8.1M571.9 644.2l-6.5 5.3M419.6 698.3l-.5 1.9M766 233.6l1.2 -6.7M829.5 815l-.7 3.9M419.9 433.7l-7.7 -5.4M1003.3 623.3l5.8 1.1M488.7 228.2l-13.2 -.7M948.6 609.2l13.6 -4.1M899.9 715.6l8.7 8.5M501.9 519.4l-7.7 -.1M652.1 734.4l-11.4 9.8M424.4 457.9l-5 -.1M714.2 257.6l-0 -8.1M526.4 470.6l-8.3 8.1M631.6 810.6l1.4 4.5M500.1 647.7l5.2 15.3M577.2 268.5l-.9 -4.9M935.6 521.8l8.3 14.3M506.7 566.1l-3.1 2.7M713.5 675.9l-.6 1.4M806.6 246.9l3.1 -15.4M440.6 699.4l-12.1 9.1M979.4 342.2l9.4 -7.9M891.9 721.9l3.8 -2.5M820.6 750.5l-6 14.8M489.7 465.7l-7.1 8.5M1013.6 596.1l2.6 .6M792.3 817.4l4 6.1M535 519.3l-13.7 3M899.5 498.9l12 -5.9M593.7 197.5l-8.6 3.1M360.8 516.9l-1.6 .8M935.7 312.5l1.1 -1.1M485.1 440.4l2.7 7.5M518.4 611l-6.5 -.3M720.5 338.5l-.6 -2.3M900.8 612.4l10.6 -1.7M632.4 319.6l5.5 -15.5M701.2 737.4l6.3 14M865.3 662.5l7.3 -.8M607.2 284.1l-14 7.3M591.7 335.4l-4.5 -6.3M872 213l-.7 -6.5M381.4 383l-1.6 -6.3M1007.2 405.3l8.6 -3M535.8 516.3l-10.1 5.3M845.4 284.4l-0 -13.5M919.9 432.5l9.8 -.3M651.5 345.5l-3.4 -3.9M937 441.7l8.5 6.1M962.6 697.5l12.7 2.8M507.9 309.8l-2 -2M975.5 405.8l6.1 -4.8M840.5 666.7l3.4 3.2M716.4 208.8l6.8 -7.4M591.1 327.4l-2.3 -6M778.2 745.5l7.8 9.5M656.8 172l-.6 -11.8M474.1 371.1l-9.7 -5.4M880 795.7l6.6 9.7M750.8 718.3l-7.6 14.4M403.3 406.9l-2.1 -3.1M424.1 396.2l-2.5 1M893.6 591.5l4 3.5M619 762l-8.3 .3M770.9 163.3l12.3 -4.7M397.5 362.9l-8.5 5.4M561.8 254l-6.6 -13M487.4 544.7l-1.3 4.1M492.9 781.1l-3 3.7M385.5 523.3l-8.9 -5.4M423.1 564.8l-9.8 5M888.6 472.5l12 -7.4M1019.4 488.8l15 2M532.3 246.4l-2.5 -3M871.5 286.5l15 -5.5M904.4 388.8l12.4 6.9M934 406.9l5.8 -1.4M403.1 411l-8.9 2M435.4 442.9l-8 .9M540 433.9l-4.1 -10.3M809.6 206.3l.2 -10.8M774.8 685.2l2.7 15.3M717.7 723.7l-.7 3M905.6 467l4.5 .7M850.8 301.1l9.4 1.2M569.2 736.3l-5.2 5.1M606.7 274.6l-3.6 -3.6M930.2 533l3.8 3M486.9 398.6l-2.5 -3.1M920.2 537.9l1.5 .9M467.7 348.7l-8 -1.8M987.4 485.5l7.4 -1.6M1000.2 481.6l2.7 1.2M580.8 279.3l1.3 -6.7M836.1 663.2l2.9 2.4M819.7 663l2.8 5.5M452.8 543.3l-8.8 -.6M568.1 243.5l1.1 -2.3M918.6 315.2l-1.4 -3.3M460.7 538.8l-2.8 -1.5M498.1 523.3l-3.2 3.6M940.8 559.4l4.9 6.5M911 362.2l4.6 4.7M723.4 729l1.5 4.9M841.8 334.8l3.4 -4M587.5 304.1l3.9 -7.7M901 647.7l2 5.9M769.2 318.3l.2 -7.8M517.5 364.7l-3 -5M760.2 286.1l4.4 -3.9M459.6 571.6l-3.9 -1M546.5 716l-5.6 1M616.1 350l-2 -8.6M893.6 470.4l1.4 -4.3M904 606.7l-2.3 5.8M911.6 372.3l7.1 .3M777.2 703.4l8 4.9M965.7 477.7l8 -1.5M591.4 706.6l-5.3 6.1M881 681l7.9 1.7M953 473.9l.5 3.6M881.2 557.7l1.1 1.6M873 442.8l7.6 4M451.2 420.1l-7.2 -1.2M507.8 287.3l-2.1 -8.3M940 432.6l4.8 4M471.7 505.7l-7.1 -5.4M745.5 668.8l-.6 8.9M851.7 403.6l3 -3.9M663.6 233.1l.6 -1.6M670.8 799.3l-3.8 7.1M648.8 846.3l.7 2.8M759.3 281.9l.3 -2.8M464.1 404.7l-7.3 1.4M763.5 261.8l6.2 -5.5M705.2 199.3l3.3 -5.7M707.6 310.7l-2 -9.3M847.1 615.7l6.1 2.2M851.9 739.1l-1.7 4M442.3 586.4l-2.1 -1M843 221.9l2.4 -3.4M591.2 706.8l-4.7 8.4M794.8 284.1l2.3 -1.4M972.3 644.7l1.6 3.2M737.7 268.1l2.8 -3M926 433.5l1.9 -.3M569.3 732.3l-1.2 2.8M908.1 434.4l2.4 -1.4M794.6 312.4l7.7 -3.5M853.6 284.9l3.7 -2.3M953.3 411.7l6.8 -2.3M675.1 839.5l-.2 2.2M691.1 757.2l-.6 4.9M464.7 565.4l-3.7 1M718 274.7l-3.8 -3.1M651.4 275.2l1.3 -4.2M537.8 666.3l.1 2.7M792.1 263.6l.4 -3.1M644.8 168.3l-3.8 -5.2M382.1 460.1l-2.7 -.7M755 251.1l.2 -4M786.1 290.5l4.5 -6.2M687.7 313l3.8 -2.8M522.5 713.5l-1.2 3.7M457.5 448.7l-4.1 4.9M493.6 472.6l-5 -3.5M583 757.5l-1.3 6M539.7 729.8l-4.9 .5M727.2 283l-2.3 -5.1M852.3 661.7l-2.6 6.5M782 312.6l1.7 -2M917.9 343.3l4.5 3.7M968.8 516.7l5.5 4M414.3 522.8l-6.6 -1.8M495.3 624.7l-5 1.5M544.9 690.8l-4.4 1.7M798.5 729.1l6.4 3M660.8 322.7l-4.9 -.1M463.2 340.1l-3.3 .9M426.3 478.6l-2.5 .1M818.1 320.6l7.3 -3.3M782.7 313.3l2 -8M587.1 270.1l4.9 -6.8M547.2 365.1l-2.2 -3.8M681.1 259.6l-1.7 -8.2M466.2 441.2l-3.2 -4.6M899.3 687.2l-2.6 3.2M1004 420.2l6.1 -.9M501.9 617l-6.2 -1.4M902.3 512l6.3 .2M1012.6 370.2l4 -3.7M682 228.6l.2 -4.6M860.7 250.5l5.9 -.4M437.1 367.4l-1.4 -4.6M864 588.7l2.5 3.4M785.7 335.1l1.1 -1.9M757.5 298.3l.3 -2.6M633.4 319.9l-.2 -4.9M735.4 686.2l-.6 8M585.9 685.1l-1.7 4.5M751.4 677l7.8 2.7M940.2 386.1l8 2.1M753.7 360.1l3.2 -5.9M474.7 518.1l-3.5 -2.6M755.7 696l-.4 9.5M877.8 443.3l2.7 .2M917.9 590.8l7.7 -.1M877.3 248.7l6.9 -4.6M587.7 319l-7.5 -3.3M750.3 703.2l-3 1M437.1 552.4l-7.4 -5M954.7 465.9l6.6 -3.6M546.5 554.8l-4 -1.1M879 477l2.5 1M862.9 368.7l7.3 -3.6M706.7 765.1l-3.3 4.8M940.6 509.3l5.1 -4.6M559.9 276.4l-1.8 -4.3M783.8 652.1l3.2 1.2M984.8 402.5l2.5 -3.4M948.9 500.3l6.4 1.6M704.7 298l.2 -8.1M851 273l6.1 -5.5M472.7 555.1l-4.7 .8M920.6 390.6l7.6 -5.3M635.2 775.9l-4.3 2.3M531.3 296.9l-3.3 -5.6M620 264.9l-3.9 -.7M1008.8 372.6l5 7.5M411.4 499.7l-3.1 -4.1M755.4 685.2l1.9 1.5M961 548.3l1.5 3.5M1027.1 459.7l5.8 -4.4M922.6 401.9l4 -.2M793.8 302.8l1.4 -3.3M948.8 517.1l3.1 -2.9M826.5 361.5l.1 -2.5M538.1 689l-2.5 4.8M795.3 259.7l2.5 -2.6M781.2 308l6.7 -2.5M574.7 695.9l-4.1 5.4M503.2 289.9l-8.7 -3.2M852.4 629.6l5.6 7.6M933.3 554.8l1.7 9.1M773.3 222.7l4.3 -3M780.9 696.8l2.5 8.9M912.6 450.3l4.8 -5.4M723.1 299.4l-2.4 -5.3M507 405.9l-5.9 -3M898.4 480.5l8.1 3M838.5 324.7l1.2 -7.9M476.5 508.7l-8.7 .3M835.3 325.4l3.6 -3.1M1004.4 449.6l3.8 1.4M470.9 502.1l-8.7 .7M823.4 690.7l8.4 1.4M527.3 524.3l-4.5 -.5M457.7 379.6l-3.2 -2.2M773.6 268.1l6.1 -2.5M923.7 610l7.4 -3M922 438.2l5.7 .5M950.7 391.4l1.8 -6.1M455.4 556.8l-6.1 2.4M910.3 578.4l-2 7.2M921 525.2l6.3 -2M496 525.8l-3.9 -7.6M842.1 351.5l3.1 -3.8M907.6 736.7l4 3.9M566.9 654.8l-2.1 5.2M961.3 515l5.2 5M926.2 644.5l7.3 .5M430.1 575.6l-8.5 1.7M781.1 259.1l-.8 -4.1M566.9 578.7l-6.4 6.5M702.4 255.9l-2.1 -3.9M768.3 297.4l8.4 -2.9M848.7 317.3l1.6 -3.9M832.6 307.8l4 -3.8M697 302.9l1.2 -5.5"/>
<path stroke="#fbe8d2" stroke-width="7.0" d="M432.5 323.9l-.6 -.7M433.1 447.1l-3.8 -1.4M753.4 759.7l1.3 1.9M972.8 384l9.6 -7.3M853.7 242.7l9.1 -2.4M515.4 671.6l-4.7 .8M517.4 661.4l.8 1.2M493.2 742.4l-.7 -.6M470.7 515.3l-10.6 -8.2M528.3 785.2l-4.8 5.9M874.5 421.1l12.9 7.4M498.4 392.5l-1.6 -.8M998.3 452l-.5 -1.4M849.8 324.7l-.5 -14.9M981.2 537.4l10.2 -9M720.1 319l-.1 -1M980.1 373.5l4.6 -13.2M569.5 647.5l-7.7 6.3M896.9 271.9l3.4 -11.1M835.8 759.6l5.8 -.9M605.1 346.3l-.6 -5.9M852.3 340l1.7 -1.6M817.4 284.8l5.1 -7.7M445 627.7l-3.3 13.6M606.8 333.3l.2 -.9M844.2 279.7l5 -8.9M526.3 712.9l-13.5 1.7M843.1 316.6l3.8 -2M434.8 486.5l-2.7 -12.6M556.9 632.9l-12.7 -7.5M879 553.5l1.3 10.1M657.5 233.7l-1 -1.4M376.2 453.5l-10 1.6M359.2 502l-.6 -.8M935.9 505.9l12.1 -3M1014.5 601.8l6.8 -2.2M736.3 841.4l-7.1 8.3M372.7 414.1l-13.1 -.5M525.6 275.7l-1.1 -.7M871.7 342.1l-3.4 -11.8M904.7 778.8l.3 .5M782.3 356.3l8 -10.3M828 634.5l5.9 5.8M782.5 286.5l.1 -.6M972.4 490.1l2 .3M415.4 445.9l-2 -13.3M856.8 625.6l7.8 -1.4M794.3 258.1l10.8 -9.5M721.8 311.1l2.9 -3.5M528.3 730.6l-1.5 .2M438.8 655.4l-.6 0M829.4 731l8 12.1M997.4 532.4l5 -2.3M679.9 843.6l5.7 3.1M925.3 670.6l.4 .7M862.2 709.7l11.5 7.3M515.2 215.8l3.9 -12.6M362.9 466.6l-3.2 -1.5M779.9 680.1l4.5 1.1M474.1 747.3l-3.6 .9M850.7 661.8l3.6 14.2M790.8 311.7l12.5 -3.5M728.8 277l8.6 -10M520.9 210.1l-.5 -5M385.2 632.3l-3.2 5.2M516.4 224.6l-7.5 -5.6M892 562.8l1.7 5.5M901.4 648.3l4.5 -7.3M865.3 727.5l10 -1.8M652.1 248.8l1.9 -10.8M878.9 444.6l11.6 -6.9M448.1 645l-8.6 2.9M538.8 417.6l-10.5 -2.6M882.3 232l-1.4 -13.1M933 730.9l.7 1.7M833.7 793l-.6 2.1M604.5 728.1l-4.1 13.5M660.7 816.1l1.8 8M518.5 464.7l-10.5 3.7M432 561.1l-5.3 -1.3M504.7 736.2l-2.8 0M496.6 298.3l-.5 -.5M871.7 272.7l-.1 -14.9M804.8 651l-2 11.4M835.5 611l1.5 3.1M898.6 230.4l2.9 -4.2M939.3 685.6l-1.8 3.9M682.4 279.1l4.1 -9.6M474.5 634.7l-1.3 12.5M503.2 645.3l1.1 5.4M534.6 792.1l5.3 3.1M588.3 705l-13 -1.3M600.2 221.4l-.1 -3.1M990.2 459.2l1.9 -.6M625.7 233.1l-7 -3.7M703.8 692.8l-4.9 12.1M416.1 538.1l-3.3 1.1M889.1 467.9l5.7 -9.4M906.7 764l5.7 -.6M936.4 259.8l13.6 1.8M918 277.8l-1.9 -11.7M861.3 311.3l9.7 -.2M879.6 218.5l3.3 -11.1M836.2 397.1l.8 -3.7M389.1 478.7l-14.9 .2M575.8 364.4l-.6 -1.1M1019.1 408.9l7.4 -8.6M383.6 529.4l-.4 -.5M481.7 588.6l.8 4.8M770.4 341.9l1.7 -3M1001.3 560.9l6.7 10.5M812.9 801.3l.1 2.7M484.7 561.4l-5.5 3.8M469.3 519.6l-.7 .7M587.8 679l-3.5 11M510.1 554l-9.9 -8.7M914.4 576.8l.6 .2M726.5 199.5l-3.9 -11.4M875.3 406.9l10.2 -4M511.3 736.1l5.2 11.6M467.7 698.9l-.6 0M701.8 157.5l-8.7 -9.8M589 314.1l-2.6 -2.6M872.2 432.8l9.1 2.4M962.3 271.1l11.1 7M976.7 479.1l9.8 -1.5M950.7 379.5l12.6 7.1M962.7 450.3l2.5 -1.5M701.7 675l-7.5 3.8M645.5 739.6l1.5 9.6M673.5 662.2l-8.5 10.3M413.9 455.2l-2.9 4.1M427.1 605.9l-3 -4M581.8 816.6l.2 1.8M847.9 576.7l6.1 12.2M996.9 483.3l3.9 2.5M445.1 503.1l-3.2 2.4M797.3 259.8l2.3 -9M856.7 768.5l1.3 .1M852.1 312.5l12.5 -7.6M973.7 704.4l-.8 11.9M386.5 400.9l-6.8 .3M755.9 788.6l-3.6 8.2M470.9 269.1l-7.1 -9.2M565.5 771.8l1.2 6.5M927.3 325.6l.8 -2.8M922.6 743.3l3.3 -0M926.9 314l2 -.9M949.8 380l-.5 -12.5M367 541.6l-11.4 5.8M568.1 340.5l.6 -13.9M641 668.8l2.8 3.2M451.9 446l-1.7 -2M486.2 645.3l-4.8 7.7M639.6 816l5.1 3.5M416.2 463.5l-5.6 .2M884.3 355.7l-.5 -12.5M641.8 773.4l-1.5 1M501 224.7l-2.5 -5M453.1 322.2l-11.7 3.9M809.1 673.7l6.1 2.1M927.4 442.4l2 -4.6M866.7 368.3l4.9 3.1M1011.9 624.2l6.5 -2.8M443.9 724.2l-4.5 10.9M491.4 376.6l-.4 -1.3M924.8 470.9l5.5 -13.9M483.1 620.9l-2.1 2.2M727.8 803.5l2.2 5.4M731.1 681.7l-9.2 10M509.3 613l-1.6 2.2M558.2 266.7l-3.5 -12.2M468.9 752.8l-2.4 .6M885.4 788.4l-5.7 12M885.9 695.7l2.3 -.9M896.1 536.2l4 -3.1M767.8 335.5l3.7 -7.9M931.9 485.2l11.2 -7M768.7 231l-6.4 -12.7M807.9 705.9l4.8 3.6M512.2 732.3l-12.4 6.9M441.8 529.8l-12.1 -5.3M698.9 776.2l8.9 5.9M909.4 259.3l-.8 -3.3M849 328.6l8.3 -5.4M1006.3 616.4l7.7 -8.1M913 357.4l5 -12.5M928.9 691.9l8.5 3.9M454 578l.3 5.4M434.2 451.2l-.4 -.4M699.5 234.8l3.8 -4.5M608.5 810.8l3.1 8.3M775.4 713.2l5.9 3.7M1027.2 388.5l12 -1.7M778 210.1l13.9 -.5M893.7 336.9l.6 -.3M846.8 586.8l3.5 .7M828.3 393.5l5.9 -5.3M867.8 572.2l4.4 .1M816.6 637.7l5.4 2.9M525 507.1l3.5 11.7M506.1 598.1l-12.6 2.6M633.7 225.8l-6.2 -3.1M603.1 355.2l-3.1 -6.8M860.7 285.6l4.9 -11.9M421.2 311l-3.4 .6M960.9 514.7l10.3 4.8M1010.7 485.5l1.4 10.8M527.9 454.9l-2.3 .6M594.1 791.5l6.8 11.8M560.6 269.5l-6.5 4M548 690.2l-5 6.2M670.2 670.4l-8.8 6.5M641.4 281.4l-2.1 -7.5M764.6 275l4.6 -4.5M563.1 342.2l-6.6 1.5M899.7 589.6l5.1 -4.7M462.3 280l-7.2 -4.2M615.2 818l-4.9 4.3M848 299.6l6.9 -.8M446.5 432.1l-4.1 2.5M860.6 622.2l2.3 2.5M543.3 629l-2.3 7.5M904.6 508.5l1.5 2.5M544.5 660.8l-1.2 2.7M896.1 514.4l4 6.3M933.9 407.1l4.6 5.6M930.8 502.6l4.6 4.8M589.6 310.1l-2 -4.3M530.8 336.5l-5 -2.7M813.3 305.1l3.1 -4.4M516.2 694.1l-4.3 1.9M534.8 684.8l2.1 2.5M829.5 318.1l.6 -6.8M790.7 689.3l1.9 3.9M432.8 603.2l-2.6 -1.9M804.8 283.3l6.3 -.2M823.6 312.3l2.5 -5.6M519.3 674.7l-4 1M853 750.8l2.5 3.5M899.6 746.3l4 3.1M643.6 816.3l.1 2.8M682.5 250.9l-5.6 -2.5M461.4 357.4l-4.6 -.5M672.4 697.6l4.9 .5M534.2 698.5l-2.5 -1.4M769.1 245.7l-6 -5M842.2 587.3l3.1 5.8M725.8 278l-4.9 -4.5M563.8 316l-5.2 -2.5M811.4 278.5l1.5 -4M834.6 322.4l3.5 -5.2M805.5 355.8l-1.3 -3M831.4 284.9l-2.5 -3.3M492 545.8l-4 -5.7M514 656.1l-2.7 2.6M938.7 477l4.4 .5M567.1 762.1l-3.3 3.6M973.4 458.1l6.9 -1M894.4 317l2 -4.7M594.3 772.1l-3.8 5M821.6 296.2l3.5 -3.3M597.1 335.5l-5.1 -4.9M634.1 255.1l-.8 -4.3M492.4 662.9l-7.8 1.2M486.3 256.3l-4.8 1.3M776.5 315.1l-2.1 -6.6M518.9 684.6l-7.7 -1.1M643.1 291.5l-1.9 -7.2M871 757.3l4.5 6.1M513.4 484.3l-2.4 -.6M894.8 679.4l7.4 2.7M784.3 707.8l4.9 1.9M531.1 627.3l-.9 3.4M945.2 554.8l4.8 -1.4M749.3 311.1l3.8 -3M942.6 433.5l1.5 -6.3M925.7 521.7l4.4 -0M569.7 737.3l-2.6 -1M912.1 650l2.4 -1M955 538l3.2 -2.1M988.3 397.6l7.6 -3.3M871.7 396.4l1.3 -3.1M683.4 266.7l-.3 -3.5M596.9 263.7l-5.4 -2.4M978.8 473l1.9 -6.5M932.5 506.8l2.2 -4M956.1 538.2l2.8 -7.4M825.3 705.9l3.6 5M666 715.6l-6 3.7M903.6 670.9l3.8 2.9M926.1 513.4l6.7 -4.3M594.6 747.4l1.5 6.3M882.1 700.2l2.6 .1M841.5 370l3.5 -1.8M472.4 459l-3.3 -1M637.9 253.6l-1.5 -8.3M907.9 541.4l4.7 1.8M767.9 264.8l3.2 4.3M893.8 309.9l6.3 4.2M849.8 263.1l8.4 -4.2M837.9 276.1l4.3 -4.3M866.8 265.9l5.3 3.2M867.9 228.2l4.2 -6.3M733.9 205.8l3.1 10.4M762.9 201.8l2.2 4.4M747.8 278.1l4.4 -2.2M721.9 279.8l2.2 4.4M790.9 311.8l4.2 8.4M795.9 307.8l3.2 4.3M963.8 310.9l4.3 3.2M899.1 343.8l-3.2 4.3M745.9 229.8l2.1 6.4M895.8 250.1l4.3 -3.2M871.9 285.8l4.2 8.4M899.8 318l5.4 1.1M919.9 342.2l2.2 -4.4M907.9 362.1l4.3 -4.3M924.8 396l7.4 1.1M915.8 446l4.4 1.1M873.8 485.6l4.4 -.7M885.8 495l7.4 0M897.8 506l10.4 2.1M908.8 496l6.4 0M922.8 495l6.4 0M887.8 516l8.4 1M881.8 524l7.4 1.1M887.8 544l10.4 2.1M866.8 395.1l3.3 -2.2M967.8 392l10.4 -2.1M903.8 372l8.4 -2.1M959.8 519l6.4 1.1M956.8 525l3.4 0M984.8 535l7.4 0M978.8 502l4.4 -1.1M896.8 562.9l3.3 2.2M942.8 558.9l5.3 3.2M962.8 568l7.4 1.1M620 685.8l2.1 10.4M827.8 667.9l8.3 6.2M791.9 677.8l3.1 10.4M797.9 664.8l4.2 5.3M764 707.8l2.1 8.4M770 735.8l1.1 6.4M774 727.8l1.1 4.4M807.9 727.9l4.3 4.3M825.8 755.9l8.4 4.2M847.8 785.9l6.3 4.2M623.9 783.8l3.2 6.4M673 743.8l1.1 4.4M652 751.8l1.1 6.4M667.9 719.8l2.1 6.4M787.9 759.8l5.2 8.3M801.9 757.8l2.2 4.4M845.9 699.8l4.2 6.3M835.9 703.8l4.2 6.3M859.8 664l6.4 1.1M841.9 645.8l3.2 4.3M727.9 755.8l2.2 4.4M643 737.8l1.1 5.4M782.9 693.8l2.1 6.4M518.9 352.8l3.2 6.4M554.8 307.9l3.3 2.2M559.9 326.9l2.3 2.3M529.8 347.9l4.3 3.2M484.8 268.9l4.4 2.2M519 276.8l2.1 8.4M552.8 282.9l4.3 3.2M478.8 296.9l6.3 5.3M493.9 310.8l3.2 6.4M598.9 296.8l3.2 6.4M448.8 460l8.4 -2.1M474.8 394.9l8.3 6.2M536.1 403l3.3 3.3M540.6 422.6l4.9 2.4M492.5 413.5l3.4 1.7M572.2 445.1l7.9 3.2M448.8 458.7l10.9 1.6M528.6 484.3l4.9 .8M558.7 503.9l6.4 .8M581.2 485.1l9.4 .8M588.7 493.3l6.4 1.6M507.5 509.2l7.9 -.8M536.1 515.2l6.4 -.8M549.6 477.5l4.9 .8M591.8 402.2l1.8 1.8M548.2 386.4l3.2 4.8M524.1 397l4.8 3.2M929.8 572.9l8.4 3.1M921.8 584l8.4 2.1M833.8 579.9l4.4 2.2M879.8 596.9l10.4 3.1M887.8 611.9l4.3 3.2M989.8 626l10.4 1M1015.8 623.9l10.4 4.1M981.8 611l4.4 1.1M986.8 594.9l2.4 1.2M907.8 628.9l4.4 2.2M1019.8 572.9l3.4 1.1M815.8 589.9l4.4 2.2M965.8 571l4.4 1.1M643 177.8l1.1 4.4M666 203.8l1.1 5.4M683 209.8l1 10.4M701.9 217.8l2.1 6.4M574.9 254.8l2.1 7.4M647.8 245.9l8.4 3.1M641 253.8l2.1 10.4M673.9 244.8l5.2 9.3M689 258.8l1 11.4M616 323.8l2.1 8.4M619.9 331.8l8.2 10.3M678 271.8l1 10.4M699.9 262.8l2.1 5.4M663.9 325.8l1.1 3.4M427.8 475l6.4 1.1M414.8 487.9l3.4 1.1M416.8 508.5l3.4 .9M423.8 556l15.4 1M434.8 529l4.4 1.1M419.8 525l2.4 .5M524.9 539.2l4.2 -5.3M520.8 554l10.4 -1M516.8 582l8.4 -2.1M510.8 598l8.4 -2.1M490.8 572l4.4 -1.1M542.8 609l8.4 -2.1M560.8 603.1l6.3 -4.2M554.8 629l8.4 -2.1M556.8 640l4.4 1.1M584.9 642.8l5.2 7.3M542.8 646.9l4.4 2.2M428.8 643l8.4 -1M592.9 614.8l2.2 4.4M596.9 604.9l2.3 2.3"/>
<path stroke="#d7e4f6" stroke-width="5.5" d="M475.7 543.1l-2.8 2M607.1 772.9l-5.4 10M597.1 625.5l-.1 14.6M411 595.5l-10.7 10M622.6 666.6l.6 2.7M495.2 274.1l-6.7 -9.2M1040.2 468.7l2.1 .1M490 654.4l7 8.7M485.7 585.7l-3.4 -.5M510.2 632.9l-1.9 2.4M830.2 790.6l-.3 3.2M914 337.8l4.7 -11.7M919 430.9l8.6 9.8M843.5 685.9l-.4 1.8M522.5 234l-10.8 -7.7M606.6 344.6l-8.7 -6.8M755.3 791.5l-9.9 11.5M406.7 668l-.1 2.8M1021.4 603.9l5.5 -5.6M463.9 262.9l-7.9 -4.8M945 727.9l1 2.8M903.1 443.8l4.6 -.1M995.3 457.2l5.3 -12.8M778.2 164.5l-.3 -3.1M812.5 373l1.3 -12.5M858.7 781.8l3.5 4.9M695.6 685.4l-3 2.2M649.1 346.3l-14.3 -3.5M591 682.9l-13.3 4.2M716.7 716l8 9.7M847.1 326.7l-1.8 -.4M512.6 422.6l-6.6 2.1M878.3 226.9l4.6 -1.2M792.5 765.5l.1 4.5M654 163.3l-2.6 -5.1M1006.4 580.1l11.9 -.5M551.7 748.5l-1.5 7.2M995.4 389.4l2.6 -15.5M355.9 437.1l-1 -1.3M580.7 374.7l-.5 -2.3M896.3 461l7.1 -1.2M900.3 304.7l2.9 -1.6M763 779l-6.8 9.7M746.8 235.1l1.7 -1.7M750.1 835.5l2.7 14.1M864 300.8l8.3 -3.5M517.7 731.2l-6.7 6.1M473.8 723.4l-1.1 1.5M485.5 633.1l-10.8 12.2M751.8 810.7l-3 8.3M440.6 458.4l-11.1 -6.7M544.9 652.9l-7.3 8.5M678 231.4l2.7 -14M560.9 655.4l-6 9.6M891.4 529.3l1.2 1.2M887.6 334.5l3.3 -3.5M760.7 722.7l-1.3 12.1M507.9 482.9l-9.8 2M969.9 682l8.9 -1.4M677.4 782.4l-2.5 4M682.5 823l.8 4.2M517.9 359.8l-3.3 -11.1M557.2 677.4l-3.4 2.6M796 195.9l5 -0M870.1 477l3.4 -1.6M822.4 658.5l-.4 9.8M954.5 622.5l5.7 9.4M867.7 682.4l11.2 5.3M649 346.7l-1.4 -1.4M464.6 519.2l-8.2 8.5M495.3 524.4l-13.9 2.2M462.5 730.5l-2.9 3M499.1 241.8l-5.8 -14M574.1 250.6l-11.5 -8.2M898.6 776.2l9.7 12.8M1041.6 465.1l11.5 -.5M591.7 206.9l-7 -13.5M677 163.8l-7.9 -7.2M760.9 745.9l13 10M555.6 724l-11.9 1.3M505.1 365.4l-4.4 -4.5M925 499.8l2.1 -.3M378.8 579.7l-3.5 .8M1038.6 572.5l2.8 5.7M751.5 331.2l-1.7 -14.4M831.9 306.4l5 -9.5M777.7 700.9l10.9 1.4M468.3 509.7l-4 1.2M720.5 764.2l6.4 12.4M559 809.5l.7 4.1M816.7 254l4.2 -9.4M1004.1 442.1l1.5 -2.1M861.5 573.8l8.1 -.1M963.4 532.9l9.5 1.1M426 456.1l-6.2 2.5M525 652.7l-10.2 3.1M809.6 805.8l8.7 -1.4M514.2 213.9l-6.1 -12.7M986.6 542.5l5.7 12.7M376.5 570.5l-14.6 6.4M823.6 346.7l1.1 -4.4M409.1 483.4l-6.6 .2M723.3 218.8l-.4 -9.1M473.2 355.8l-4.5 -1.7M859.1 333.8l-7.9 -12.9M832.6 666l9.3 12.1M419.1 583l-10.4 2.3M486.8 475.2l-9.7 -2.1M853 234.1l1.9 -2.9M488 448.9l-6.9 -5.1M530.5 438l-2.7 .8M907.4 670.1l4.9 3.4M871.3 436.7l5.3 .2M596 703.8l7.6 6.5M977.2 703l3.3 -5.6M937.9 378.6l12.7 -9.8M556.6 437.6l-10.8 -9.8M838 412.5l7.4 -5.2M703.6 332.3l-10.2 -12.3M656.5 737.7l9.6 -1.1M749.6 753l-3.6 10.6M409.6 468.6l-5.8 .6M994.2 462.5l2.6 -1.7M977.7 316.6l.3 -2M795.5 181.4l2.3 -10M690.6 757l-6.2 4.4M1029.6 562.3l4.9 -7.9M1007.7 341.9l5.1 -11.9M827.2 243.3l8.1 -2.7M503.9 263.1l-1.8 -12.5M828.5 654.6l-1.4 5.1M947 657.6l2 .8M956.1 442.6l6.3 -10.1M890.2 490.2l3.4 2.1M557.8 258l-11.8 3.3M812 331.5l1.7 -3.8M941.9 277.9l9.4 .2M793.5 821.7l-3.2 9M667.8 724.6l-.1 2.2M559.3 258.9l-3 -6.2M497.1 622.4l-3.7 1M733.9 243l.3 -1.9M457.3 725.8l-6 9.5M838.5 404.1l-1.8 -3.5M1005.5 582l11.6 -2.4M509 603.3l-6.2 7.7M973.1 638.5l1.5 -9.5M734.8 711.9l-.7 2.4M865.2 648.7l2.6 15.8M581.9 274.2l1 -3.3M721.7 181.6l.2 -7.8M483.3 580l-4.5 1.7M429 501.4l-2.2 -1.6M533.2 282.3l-8.4 .6M811 633.3l3.4 1.6M954.1 702.3l0 4.3M709.4 842.9l2.8 4.1M409.3 413.9l-9 -11.9M358.6 564.8l-5.5 2.8M890.9 243.8l7.2 -13.1M403.3 682.2l9.1 10.6M761.7 656.9l6.1 9M882.8 568.9l7.9 6.1M799.3 806.6l-4.8 12.4M515.7 545l-10.3 -.7M607.5 265.6l7.8 -9.3M731.9 663.7l7.7 10.6M433 676.9l-13.9 4.2M624.5 714.1l-2.4 6.6M908.6 697.3l5.6 11.7M820.6 699l1.5 1.8M804.2 804.9l4.3 7.1M535.6 234.2l-8.9 -1.6M936.5 739.1l4.1 -2.6M501.2 242.4l-6.1 -7M508.5 258.2l-4.3 -4.7M389.7 529.7l-11.1 -.1M629.4 298.7l-1 -3.1M711.4 745l-5.6 15.3M434 531.4l-12.4 -6M450.6 347l-1.8 2.4M581.4 617.9l-1.9 .8M864.9 738.9l-6.4 6.6M672.6 752.9l-8.9 3.2M427.7 510.9l-5.1 -.6M364.7 571l3.1 13.5M814.7 256.6l-2.4 -5.8M1003.4 455l4.3 2.5M625 826.4l-6 12.3M652.4 218.5l14 -7.4M674.4 787.8l3 11.7M791.3 247.8l5.7 -6.1M1014.3 572.2l-7 6.7M814 777.2l-2.7 7.4M882.8 799.9l-5.7 2.3M871.4 470.2l3.1 -7.3M987.9 417.3l9.4 -11.4M834.5 381.9l.8 -6.2M892.6 233.9l5.4 -8.2M971.4 455.2l2.1 -1.6M979.9 551.6l8.2 8M890.2 576.8l-.1 2.1M936 611.1l5.8 10M541 396.6l-2.2 -4.9M826.5 689.8l9 1.7M674.2 281.3l3.2 -4.4M957.4 444.2l9 -7.9M639.1 817.4l-.3 10M478.1 713.8l-6.6 3.6M643.4 826.7l-1.7 -.1M1037.7 509.6l10.6 -.5M648.4 737.9l-10.2 11.9M389.2 565.1l1.2 1.7M609.2 702.8l-1.2 1.3M635.1 802.2l4.1 9.5M508 293.1l-2.7 -6.4M743.3 342.7l7.4 -.4M635.5 260.2l2.8 -1.4M625.5 741.6l-7.9 1.3M457.3 343.3l-12 -8.6M1025.3 429.1l3.7 -1.4M946.8 470.2l14.1 -2.5M541.3 228l-9.4 -10.2M913.1 694.6l3.5 1.7M786.9 816.6l5.7 14.6M982.2 487.9l4.2 -2.2M758 256.6l-7.6 -10.3M957.9 506.4l3.4 -7.6M629.4 669.1l1.4 2M729.5 183.5l-1.1 -14.7M508.2 686.2l-2.1 8M947.9 308.8l7.3 -4.2M796.9 321.7l-3.9 -10.4M896.9 414l8.7 -.4M862.3 299.2l4.8 -.1M546.2 787.9l-1.2 11.3M469.4 386.2l-2.2 .2M956.9 442.8l14.1 4.4M629.5 707.6l.5 1.6M560.7 327.5l-2.1 -.3M958.4 438.8l6.2 -2.5M1039.6 566.6l8 3.7M772.8 779.6l-2.8 3.6M873.3 466.8l15.7 -2.4M958.7 278.6l12 -10.7M425.6 523.8l-9.3 -.8M383.7 575.9l-12.3 -3.3M476 574.6l-4.9 12.6M583 730.4l-9.9 -2.4M390.8 506.2l-11.1 -8.3M403.6 372.2l-4.4 -1.4M866.3 650.9l1.9 .2M425.7 536l-6.5 8.3M577.3 347.5l-8.9 -4.1M431.3 627.1l-15.6 2.2M710.2 310l11.8 -10.8M903.7 714.7l4.4 4.9M844.9 648.9l6.5 -4M1019.6 539.7l2.2 -2.2M524.4 677.6l-7.7 3.9M762.9 657.6l1.1 4.5M755.4 842.8l.4 12.7M395 606.3l-7.2 -1.5M521.6 433.5l-4.6 9.6M403.9 569.6l-14.8 -5.3M865.5 375l2 .4M535.7 560.2l-11 -2M563.5 641.6l-12.5 -.4M701.2 246.5l-5.1 -3.1M947 551.6l4.4 12.7M1013.3 596l7.6 -2M750.4 843.1l-1.4 2.4M786.2 344.6l3.8 -6.4M685.5 155.1l-1.6 -5.9M880.3 338.7l3 -2.1M460.9 730.4l1.6 15.1M412.4 585l-12.3 6.7M509.9 774.1l-3.9 .6M868.6 749.5l.4 3.1M889.9 267l7.2 -13.3M806.7 331.2l-.3 -3.6M995.8 639.6l5.4 2.1M434.5 637.9l-10.5 5.6M1036 582.5l11.9 -5.4M528.1 484l-5.2 .7M956 428.5l1 -4.5M489.4 463.4l-5.6 3.4M513.6 492.9l-11.5 4M685 713.9l-1.8 10.6M679.4 189.3l-4.1 -9.2M479.9 440.9l-1.5 1.4M874.2 766l-3.3 8.8M780.7 791.7l-2.1 15M1005.6 588.6l3.3 1.5M894.5 700.4l4.1 10M579 756.5l-14.6 7.1M879.1 614.6l11.1 7.8M647.6 300.2l-3.1 -1.7M505.2 235.2l-3.4 -.1M503.5 222.9l-10.8 -1.2M1011.5 447l1.3 3.6M738 180.5l3.8 -5.9M480.2 738.9l-9.1 13.7M937.6 485.9l13.5 -5.3M855.1 616.3l2.8 7.3M454.1 651.9l-7.3 5.6M984.7 439.9l1.5 1M564.9 303.2l-2.7 .1M435.4 500.2l-3 -.1M582.9 608.9l-3.7 -.1M578.1 265.9l-1.4 -2.1M739.3 813l-2.2 1.5M1008.4 373.2l9 -.7M455 562.4l-5.6 -4.4M697.2 251.2l.9 -1.6M875.2 265.7l2 -2.4M683.4 813.3l1.6 2.6M967.7 396l6 4.1M1000.4 609.9l7.2 2M673.1 218.5l2.7 -8.1M896.4 294l1.8 -2.4M861.1 355l1 -3.2M645.4 760.2l1.8 9.2M467.2 491.4l-1 2M622.6 318.7l1.6 -7.4M903.6 410.5l4.8 -4.8M512.4 378.5l-5.1 0M829.2 267.1l2.6 -1.3M1021.6 425.9l6.1 4.4M996.5 596.9l7.1 1.9M769.6 194.4l.8 -8.5M516.1 389.8l-5.2 -7.6M655.9 762.3l-3.8 4.4M707.1 759l-3.9 2.2M490.8 321l-3.2 -1.8M467.4 503.7l-7.2 2.7M901.7 478.1l5.7 -1.4M571.2 708.2l-.6 4.8M942.9 526.1l5.6 -1.7M872.9 281l2.4 -3.3M455.5 635.1l-1 1.8M917.7 573.4l6.8 -4.6M969.2 585.9l5.4 -.1M524.5 376.7l-.4 -1.9M573 678.1l.3 5.2M681.6 703.7l-.5 3.6M985.9 360.4l7.8 -.5M696.2 720.6l1.8 3.4M897.4 438.1l1.4 9M672.5 738.3l1 6M771.9 660.6l-1 9.2M438.1 548.6l-4.8 -1.8M469.8 596.7l-2.9 -.5M780.6 313.6l2.9 -1.8M443.6 481.9l-2.4 2.2M455.9 374.9l-6.4 -7M504.3 577.5l-8.5 -2.7M849.1 681.8l3 6.7M914.2 351.6l7.6 -5.4M931.8 492.9l4.9 -.9M653.7 813.2l-.4 5.3M465.7 502.1l-6 1M454.5 544.3l-5.3 -4.8M816.7 224.7l1.1 -5.5M649.6 187.2l2.3 -4.5M458.5 606.1l-5.9 -.4M648.1 314.7l-3.7 -7.9M529.2 378l-8.5 -1.4M981.8 313.8l2.4 -.1M635.5 222.5l-5.3 -.7M615.4 215.4l3.3 -.2M705.6 306.5l-.6 -2.6M930.3 527.2l.5 -4.8M629.1 778l-1.9 2.4M428.9 538.6l-2.9 2.7M547.1 601.3l-5 1.6M558.2 623.3l-3.5 2.3M720.3 726.2l2.6 7.5M734.7 708.7l-.8 8.1M598.4 249.8l-8.9 3.4M459.4 597.3l-.7 3M751.7 682.7l.7 2.5M722.8 684.6l-.4 5.2M905 363.4l4.4 -4.2M923.3 543.7l3.3 2M513.6 371.6l-1.6 -.7M595 314.8l-5.6 -5M485.8 655.9l-1.8 1.3M612.5 281.5l-1 -2.2M829.5 244.2l3.7 -7.4M515.6 505.9l-6.4 -1.6M422.2 510.8l-7.1 -.1M790.4 644.6l6.6 3.2M572.8 256.5l-3.1 6M703.9 759.9l1.8 4.9M563.3 239.5l-4.2 -2.6M906.6 514.8l1.5 1.6M531.6 386.1l-4.2 -1.3M685 716.4l-.8 9.2M860.9 283.9l2.9 -5.3M552.8 279.9l-6.1 -5.3M601 186.2l-2.7 -7.8M1000 587.8l8.9 -2.3M673.4 747.9l-0 3.9M877.4 326.8l3 -3.3M748.3 745.4l-2.5 4.8M588.8 341.3l-.6 -4.3M831.3 439.7l0 -6.6M643.1 695.3l1.2 4.7M512.5 610l-.2 2.7M929.6 590.9l1.5 7.6M846.3 611.5l3.4 2.8M961.7 629.5l7.7 1.6M771.4 311.4l4.6 -5.5M790.5 795.7l3.6 5.5M591 281.9l3 -7.9M819.2 673.9l-.3 9.6M467.9 482.5l-7 4.2M496.8 390.7l-.3 -2.6M649 719.8l-2.2 8.8M777.2 325l3.4 -7.9M533.5 802.7l4.4 5.5M925.5 498.6l3 2.3M816.5 749.6l2.1 .4M813.5 249l-.1 -2.4M969.3 496.2l7.1 -.6M449.2 577.7l-9 1.3M742.6 670.1l-5 2.7M896.3 717.3l.3 3.2M454.3 343.8l-7.9 -2.6M589.1 281.5l-1 -9.5M522.4 638l-3.3 -.5M546.7 720.5l0 4.1M408.7 433.8l-5.5 .4M638.2 298l-1.1 -7.5M611.6 286.8l-.6 -8.4M702.7 727.8l6.9 1.5M905 511.8l7.9 4.9M753.2 754.2l2.3 7.4M749 273.9l-2.8 -5.1M753.3 313.9l-1.7 -1.8M750.7 671.6l3.6 3.2M479.1 616.3l-6.8 1.3M620.9 349.7l.9 -8M932.8 485.9l4 -2.9M891.3 427.6l2.8 1.6M735.6 756.8l.7 8.2M780.6 337.8l8.4 -4.7M871.5 335.6l2 -2.5M612.8 198.5l-3.9 -6.1M891.7 577.5l2.3 .5M512.4 629.3l4.2 8.6M875.2 649l1.2 4.8M537.8 698.1l-4.8 -.7M665.1 674.7l4 4.7M998.5 460.5l5 1.3M772.1 323.5l3.5 -4.3M621 685.4l-4.5 5M485.9 474.4l-7.2 .2M809.6 783.7l-1.3 4.2M444.5 517.2l-3.2 -2.4M573.8 349.9l-7.6 -5M817.3 328.7l7.7 -4.9M728.8 770.5l5.2 4.9M512.1 415l-6.5 2.1M579.6 351.3l-4.1 -4.3M449.2 575.8l-5.8 5.7M451.6 582.3l-4.9 -1.6M491.3 592.7l-7.7 -.7M495.3 524.1l-4.1 7M572.7 811.6l1.9 4M515.6 454.5l-5.5 -3M947.4 507.9l5.4 6.4M604.5 685l-9.2 2.6M948.4 527.7l1.2 -4.8M457.5 603.7l-8.9 .4M873.6 304.3l1.1 -3.7M554.7 699.4l-1.5 6.2M582.1 291l4.3 -8.3M564.7 750l-5 8.2M573.4 705l-2.5 8M462.1 376.3l-8.5 1.1M760.4 653.7l3.8 1.8M540.9 244.3l-4.3 -5.4M675.6 773.1l-5 4.7M567.9 727.7l-.9 6.3M516.6 322.2l-3.5 -4.2M841.5 273.4l3.4 -3.8"/>
<path stroke="#d7e4f6" stroke-width="7.0" d="M924.1 326.1l2.9 -.7M741.6 749.6l3.6 2.2M759.2 253.7l3.7 -9.8M738 664.9l-8 8.9M781.5 682.8l1.3 .2M842.6 754.5l6.4 4.1M673.1 337.4l-5.8 -5.4M489.7 324.4l-13.6 2M813.2 753.7l11.7 -4.5M725.7 256.3l.3 -.5M832.1 681.8l5.6 4.7M1028.6 616.4l3.4 5.3M683 296.7l-1.5 -2.5M561.3 802.4l-.2 1.3M375.6 474.7l-5.7 1.1M507.1 631.2l-11.2 9M567.3 206.7l-.3 -3M797.2 296.1l11.4 6.8M569 666.2l1.4 5.9M692.2 320.3l6.1 -10.9M721 174.2l4.8 -8.4M432.9 372.6l-.7 -8.4M542.2 351.5l-2 -1.4M840.1 805.6l7.7 12M366.3 491.5l-5.9 7M903.3 419.4l5.9 -4.1M449.2 297.2l2 -4.7M830.9 705.9l2.1 12M596.7 704.2l-11.4 7.5M441.6 666.2l-8.5 -8.2M539.3 286.6l4.3 -9.4M585.6 800.3l-7.1 6M500.2 644.4l-4.3 2.6M606.1 311.5l-.5 -.8M384.8 399.2l-9 -.9M956.2 514.5l.9 -.7M517.4 284.2l.1 -1.2M962.7 419l9 -1.1M960.2 409.4l-1.5 -8.5M704.2 197.1l9.2 -11.6M777.9 686.9l6.9 11.2M600.7 743l-7 7.4M901.3 335.1l14.3 -1.4M872.6 502.6l11.9 3.8M512.6 321.6l-5.1 1.1M936.3 737.3l3.8 6.3M773.3 714.2l6.2 10.5M956 667.1l7.5 10.1M762.8 198.3l2.9 -8.9M697.1 174.7l-3.6 -9.6M881.9 331.9l5.2 -.2M545.6 410.7l-8.1 -9.4M469.6 514.5l-1.3 -.4M539.4 585.1l.5 3.5M744.3 818.8l-.2 1.4M646.7 806.3l-3.5 7.8M866.9 432.8l4 1.6M816.3 317.4l5 -3.7M772.7 233.6l-.9 -2.5M1036.5 418.3l6.7 -.9M509.7 573.5l-12.3 4.4M708.6 842.8l-4.8 8.8M536.2 282.5l-2.5 -10M448.5 284.6l-11.6 -4.7M755.5 169.2l-6.7 -2.7M934 260.4l2.7 .8M504.5 735.2l-7.1 4.2M945.5 375.7l.5 -.3M642.9 788l1.2 2.4M639.9 790.9l-1.4 6.6M658.3 188.9l-3 -11.2M910 530.1l7 .6M855.2 775.9l-9.8 3.1M715.8 278.1l1.2 -8.4M357.2 483.2l-7.7 7.8M502.9 323.9l-1.4 -8.6M804.2 265.8l2.8 -5.5M732.3 257.9l-.2 -6.9M545.7 555.7l-2.6 3.7M596.4 793.4l-6.2 4.9M586.4 278.1l-9.2 -7.5M915.3 695.8l2.8 1.4M810.9 677.5l12.4 -6.5M781.4 802.6l11.8 5.1M843.1 285l-.3 -.5M960.9 310.4l4.3 1.4M848.5 763.3l-1 2.3M417.5 562.1l5 -11.5M422.8 588.6l-8.7 -5M642.4 683.7l5.5 8.5M762.6 210.6l3.4 -1.7M785.4 703.7l-.3 5.2M597.5 281.7l-.8 -.7M723.9 762.3l4.5 5.4M1001 370.1l9.1 -7.3M899.7 368.2l3.4 -2.2M610 228.4l5.2 -4.7M730.6 211.2l.6 -2.7M356 509.5l-.5 .4M478.7 515.9l-2.1 .1M593.1 180.8l-.5 -.3M667 754.5l-1.8 5.8M423.4 644.1l-4.7 1.5M482.8 386.1l-2.5 1M691.6 752.9l.1 .7M576.5 376.1l.3 -1.4M812.5 354.7l4.3 -5.4M670.2 712.2l-1.7 10.6M872.9 568.6l13.3 -1.7M849.8 310.5l-3.8 -4.9M406 569.6l-.4 .4M685.2 245.9l-5 -7.9M598.7 775.9l-1.3 3.3M807.5 312.8l4 -8.9M848.2 266.9l-5.1 -11.8M781.7 842.4l-.3 .5M663.5 760.2l-5.7 7.2M759.9 812.7l8 12.1M534.8 679.2l1.2 3M688.1 754.6l.8 8.3M638.1 318.9l-6.4 -.2M813.1 263.1l11.8 -2.8M871.4 415.1l3 1.6M631.9 834.7l3.2 13.1M888.8 755.3l4.8 5.9M648.4 800.9l.7 4.7M371.1 471.1l-1.3 -2.9M716.2 263.5l-3.2 -14.1M891.1 230.5l1.5 -.7M1031.5 514.7l5 6.9M579.7 764.8l-.8 6.8M930.2 473.3l5.6 -5.5M881.1 669l-2.2 6.5M573.6 761.2l-1.1 .5M531.8 585.4l-10.5 2.2M951 727.8l5 2.4M490.9 491.7l-2.4 2.9M517.9 761.5l-7.9 7.2M866.6 332.8l1 -8.2M718.9 160.6l5.3 -8M469.6 328.9l-9.4 -11.2M876 709l1.7 3.2M766.5 793.8l.3 9.9M697.2 193.9l-3.3 -3.5M754.9 257.7l.6 .2M933.4 490.5l1.2 .3M1003.9 611.1l.6 .1M775.7 809.3l10.2 10.4M830.7 269.2l1.4 -14M503.1 597.8l-2.9 3.1M864.9 289l2.3 -2.3M640.8 319.7l.1 -8.2M970.8 590.2l3.4 1.5M536.5 704.4l-1.5 3.1M563.9 369.6l-3.7 -.6M893 490.7l3 -.3M536.1 558.1l-3.7 .9M798.8 273.7l-1.1 -3.9M697.9 310.7l-4.5 -5.2M646 242.4l-2.8 -3.5M396.1 391l-6.7 .5M555.7 672.7l1 5.9M861.6 289.6l6.7 -3.5M521.8 688l-4.9 6.5M886 647.9l4.7 5.3M922.7 487.5l3.9 -1.4M547 193.5l1.4 -6.9M461.1 590.2l-4.3 3.8M757.5 825.4l3.9 7.4M943.3 634.5l-2.2 4.4M909.4 463.2l2.7 -1M555.4 738.8l3.6 6.6M909.9 727.4l5.8 1.7M681.7 786.5l-.6 3.7M775.4 827.8l6.5 2.4M886.4 523l4.6 -4.2M722.9 270.9l3.5 -4.7M839.2 646.5l2.5 6.8M445.5 571.6l-4.5 6.5M510.5 653.9l-5.6 4.6M951.3 459.1l7.1 1.9M840 293.6l3.2 -5.3M431.1 351.3l-2.5 -1.3M892.8 392.5l5.1 -1.7M589.6 817.7l3.4 3.1M731.2 751.2l2 5.7M487 410.5l-4.4 -1.9M750 266.6l1 -3.2M477.6 427.9l-5.8 -4.7M804.6 731.5l3.6 1.2M548.3 318.4l-4.7 -2.5M917.6 534.4l7.5 2.7M773.7 177.7l-.5 -2.4M880.1 726.1l2.4 7M899.2 459.1l2.6 2M776.6 284.9l-1.2 -3.2M588.5 729.8l-1.2 2.1M497.8 618.5l-7.5 3.1M824.9 271.3l1.3 -6M540.8 526.5l-3.5 2M544.8 654.1l-6.2 .6M587.7 243.3l2 -1.4M832 590.7l3.8 2.9M625.4 688l2.5 7.9M743.3 274.4l2.9 -7.1M962.6 429.8l6.3 4.8M562.7 357.5l-2 -5.7M547.7 396.1l-5.1 -2.3M517.8 337.5l-2.6 -4M956.3 505.9l7.6 -.8M570.1 272.7l-1.4 -2.1M932 670.4l-2.4 2.7M693.5 250.4l4.4 -3.6M732.1 748.7l1.2 3M528.6 602.5l-6.8 .7M751.4 753l4.1 4.6M436.3 441.9l-1.9 -5.3M823.1 261.2l2.4 -4.4M779.8 227.1l4.4 -2.2M830.9 272.1l4.3 -4.3M945.8 283l10.4 1M947.8 297l8.4 -1M925.8 306.1l4.4 -2.2M739.9 294.2l3.2 -4.3M729.9 278.2l1.1 -3.4M851.8 220l8.4 -2.1M828.9 354.8l1.1 3.4M787.8 345.1l3.3 -2.2M733.9 230.1l4.3 -4.3M831.9 283.8l4.2 6.3M847.9 294.1l4.3 -4.3M887.8 327.9l4.4 2.2M906.8 240.1l5.4 -2.1M947.8 448l10.4 1M888.8 462l10.4 0M928.8 485l7.4 1.1M985.8 479l8.4 0M943.8 493.9l8.4 4.2M881.8 528l12.4 1M899.8 544.9l5.4 2.1M975.8 546l10.4 0M943.8 530l8.4 0M999.8 506l10.4 1M1017.8 406.1l5.4 -2.1M885.8 500l8.4 1M908.8 558l9.4 1M855.9 384.1l2.3 -2.3M905.8 455.9l3.3 2.2M983.8 441l4.4 -1.1M629.9 672.2l4.2 -8.4M654 681.8l1.1 4.4M687 669.8l1.1 6.4M695.9 707.8l3.2 6.4M717.9 671.8l4.2 6.3M811.9 683.8l3.2 6.4M865.8 656l4.4 1.1M760.9 665.8l2.2 4.4M748 675.8l1.1 4.4M784.8 698.1l3.3 -2.2M837.9 755.8l3.2 4.3M826 733.8l1.1 4.4M665.9 743.8l2.2 4.4M682.9 747.8l2.1 6.4M732.9 759.8l2.2 4.4M809 785.8l1.1 4.4M794 805.8l1.1 4.4M822.9 799.8l2.1 6.4M720.9 699.8l4.2 6.3M644.9 763.8l2.1 6.4M637.9 787.8l2.1 6.4M610.9 777.8l2.2 4.4M662.9 719.8l2.1 6.4M496.8 294.9l6.3 5.3M552.9 310.8l2.2 3.3M583.9 325.8l4.2 5.3M550.9 384.8l6.2 8.3M510.8 385l8.4 2.1M530.8 388.9l6.3 4.2M541.8 418.9l5.3 4.2M420.8 424.9l8.4 3.1M388.8 438.9l6.4 2.1M456.9 376.9l8.3 8.3M468.9 296.8l4.2 6.3M551.2 436.1l4.8 4.8M560.2 443.6l6.4 3.2M551.1 451.2l7.9 2.4M566.2 451.8l4.8 4.8M515 385l6.4 1.6M545.1 397l4.8 3.2M557.2 392.5l6.4 3.2M567.7 395.5l4.8 3.2M527.1 377.4l3.3 3.3M503 415l6.4 3.2M500 395.5l6.4 2.4M472.9 398.5l12.4 3.9M442.8 434.6l9.4 3.1M554.1 472.3l9.4 2.4M560.2 494.8l7.9 2.4M558.7 508.3l6.4 2.4M591.8 475.3l7.9 2.4M442.8 515.9l6.4 2.4M584.2 452.7l6.4 3.2M524.1 412l6.4 3.2M575.3 407.5l4.8 6.3M971.8 656l8.4 2.1M905.8 653.9l8.3 6.2M939.8 666.9l6.4 3.2M1016.9 575.9l4.3 4.3M955.8 571.9l8.4 4.2M895.8 572l4.4 1.1M648 203.8l1.1 5.4M635 179.8l1 8.4M692 198.8l1.1 5.4M559 184.8l1.1 5.4M667 321.8l1.1 6.4M424.8 477.9l7.4 3.2M392.8 492.9l10.4 4.1M400.8 512.9l6.4 2.1M520.8 523l16.4 1M440.8 549l8.4 1M460.8 554l8.4 1M423.8 563l7.4 1.1M445.8 567l4.4 -1.1M436.8 579.1l6.4 -2.1M432.8 585.1l4.4 -2.2M418.8 587l4.4 -1.1M458.8 583l5.4 -1.1M404.8 601.9l10.4 3.1M428.8 609l6.4 1.1M423.8 617l8.4 -1M450.8 634l12.4 2.1M434.8 649l6.4 -1.1M532.8 593l8.4 -1M512.8 576l8.4 -1M524.8 619.1l4.4 -2.2M536.8 629.1l5.3 -3.2M545.8 603l4.4 -1.1M569.8 633l7.4 -1.1M576.8 638l6.4 -1.1M562.9 641.9l2.3 2.3M551.8 559.1l3.4 -1.1M468.8 621.1l2.4 -1.2"/>
<path stroke="#d7e4f6" stroke-width="2.6" d="M665.4 585.6l-3.2 16.6M713.3 435.3l-1.1 -6.1M727.6 445.7l2.4 -8.3M650.9 518.3l-10.7 5.8M683.9 417.9l-3.4 -12.2M632.9 478.2l-11.9 -5.7M634.3 637.1l-5.5 12.1M787.3 543.3l12.2 10.9M733.5 605l7.3 15.7M787.4 503.2l9.6 5.1M647.2 351.7l-5.5 -7M646.4 396.8l-1.8 -12.4M818.8 394.3l3.8 -4.2M789.7 483.6l11.1 -6M800.7 584.4l11.5 9.2M574.2 500.1l-6 1M697.2 632.2l-.4 7.4M751.8 362.5l-4.2 -10.1M599.3 545.6l-11.2 -3.1M706.5 443.3l2.4 -8.2M771 477.7l10.2 -6.7M557.9 473.6l-8.8 -5.1M650.8 402.7l-10 -7.2M572 459.7l-9.4 -.7M681.8 464.9l1.1 -16.5M709 343.6l-.4 -8.5M696 451.7l2.1 -11.6M725.2 487.1l7.9 -9.8M830.7 560.2l7.6 5.5M577.8 464.9l-15.1 1.2M842.9 451.3l16.4 .5M802.1 424l11.5 -2.4M780 435.7l11.1 -13M780.2 415l5.9 -15.8M722.1 496.6l14.5 -5.3M638.8 364.3l-4.1 -16.8M618.4 426.1l-6.1 -7.6M675 534.9l-4.3 12.9M748.2 455.4l3 -7.3M687.4 426.1l.4 -6.5M630.5 456.8l-12 -10.6M770.7 528.8l14 -1.5M714.6 551l-.7 10.8M674.2 616.9l-3.4 5.2M568.6 503.8l-12.5 4.5M793.1 633.4l2.7 4.9M723 400.7l5.2 -8.5M637.1 389.9l-5 -15.5M733.4 467.4l-.8 -9.8M725.8 456.8l6 -8.2M689.4 544.2l-1.6 6.5M765 487.1l10.6 -5.6M662.6 510.1l-14 5.9M746.7 393.9l2.9 -5.4M790.9 529.7l14.1 3.1M665.7 590.4l-2.3 15.1M543.5 511l-11.3 -.1M765.1 391.9l11.6 -9.6M683.8 463.8l-3.9 -16.4M637.6 602.1l-10.9 9.1M769.5 375.6l8 -10.7M734.6 462.3l13 -10.2M663.3 627.5l-1.4 8.2M659 410.3l-9.6 -8.3M699.5 388.9l-.9 -8.7M557 452.4l-9.3 -6.3M763.2 407l9.8 -9.2M630.9 644.3l-1 12.5M606.4 386.6l-5.7 -12.5M691.4 445.9l-.5 -5.5M622.3 562.5l-14.8 8.6M717.3 477l4.2 -5.6M738.3 451.7l6.3 -10.9M669.4 552.3l-9.7 13M654.6 550.4l-7.7 8.2M691.5 584.3l-1.1 16.3M697.5 454.2l-1.8 -14.9M653 510.6l-16.6 .1M639.6 554.9l-5.8 6.8M580.9 463.7l-6 -9.5M668 372.6l-.9 -10.1M557.3 508.9l-14.8 3.9M708.7 470.7l5.6 -7M656.6 403.1l-6 -10.7M762.2 517.7l6.3 -2M717.1 556.7l5.6 11.5M788.4 630.3l12.2 9.8M762 452.4l2.2 -14.7M637.8 601.5l-2.8 4.8M719.6 367.2l1.5 -14.6M828.6 571.1l12.8 8.5M773.7 570.9l8.8 5.4M647.5 595.5l-15.3 5.4M761.7 511.8l9.5 .7M677.1 475.1l-11.9 -9M775.1 371.1l9.8 -13.4M690 519.4l-7.7 9.8M694.6 416.6l5.2 -14.4M716.9 399.7l3.4 -16.6M653.6 509l-9.4 -2.4M742.9 474.1l14.9 -7.6M706.7 615.5l.8 6.3M666.3 600.1l-11.4 9M749.6 649.3l6.2 7.2M765.8 482.3l7.2 -4.1M664.4 622.8l.1 14.3M705.2 449.3l-1.8 -16.5M689.5 517.2l-9.3 6.8M786.2 457.7l8.2 -3.1M547.3 536.7l-10.9 -.4M741.3 388.5l4.1 -4.3M698.7 577.4l-2.2 7.2M789.9 544.9l11.9 7.8M792.8 626.1l8.6 9.7M571 527.6l-6.4 -.3M651.9 363.5l-2.9 -5.7M755.7 379.4l2 -8.8M567.1 431.2l-9.5 -7.6M742.8 523l10.6 4M663 562.6l-1 10.4"/>
<path stroke="#fbe8d2" stroke-width="8.5" d="M507.5 697.5l-8.6 -2.3M568.2 736.2l-5 5.4M540.1 675.8l-7.4 -3.1M751.9 240.5l3.3 -12.1M757.6 242.6l5.8 5.8M763.8 215.5l4.4 11M779.6 233.4l6.8 -5.7M812.8 224.5l4.3 -13M839.9 235.5l1.1 11.1M801.6 256.4l2.7 12.2M805.7 305.5l4.6 6.9M777.8 258.5l2.4 6M924.5 318.4l3.9 13.2M915.3 356.7l17.3 -4.3M914.6 378.4l9.7 -5.8M902.5 371.3l8 -4.5M911.8 349.5l3.3 11.1M859.7 387.4l4.7 -5.9M790.1 238.5l-2.2 10.1M798.8 234.5l2.3 8.1M914.7 379.5l10.6 -7.1M914.5 453.9l7.1 1.2M908.5 466.9l11.1 2.2M929.5 481.1l11.1 -1.1M861.5 490.9l11.1 1.1M856.6 389.3l4.9 -3.7M699.8 701.5l3.3 11.1M688.4 719.6l-4.8 4.8M703.8 681.5l5.4 13M715.1 705.5l-3.3 13.1M608.9 682.5l1.1 10.1M750.6 655.6l7.7 8.8M739.8 673.5l3.3 11.1M817.8 671.5l3.3 11.1M814.6 698.7l4.9 3.7M831.6 728.6l5.7 6.8M853.8 747.5l4.5 9M506.4 447.3l10.2 -2M558.7 268.6l6.7 8.9M570.8 274.5l4.5 9M600.8 276.5l4.5 9M580.8 418.5l1.5 3M564.5 405.7l3.8 3.8M550.8 500.8l8.6 1.7M579.5 417.8l3 3M587.8 447.1l2.3 2.3M922.5 602.7l10 5.5M845.5 584.9l9.1 1.1M979.5 634.9l11.1 1.1M885.5 628.7l6.9 4.6M870.5 649.8l7 2.3M707.7 268.4l2.1 13.3"/>
<path stroke="#d7e4f6" stroke-width="8.5" d="M561 676.2l-6.4 -1.8M873 728.6l6 .7M599 695.1l1.2 4.4M531.1 679l-4.9 -1.9M464.8 667.7l-7 3.9M499.2 689l-.4 4.8M571.1 659.4l2.4 6M528.4 723.6l-.2 6.3M542.4 720.1l-6.5 3.1M507.1 687.1l-4.2 1.9M590.8 703.7l-7.6 -.2M764.4 245.5l10.2 -2.9M770.5 232.8l5 2.5M781.5 250.3l5.9 -3.6M785.7 259.4l4.7 -5.9M801.6 238.4l6.8 -5.7M820.6 238.4l6.8 -6.8M771.5 272.2l6 -2.4M785.6 270.4l3.8 -3.8M843.5 249.1l11.1 -2.2M875.5 274.9l11.1 1.1M863.5 284.3l3.9 -2.6M882.4 304.5l13.2 -3.9M920.4 346.7l9.3 1.5M927.6 370.4l5.7 -6.8M900.6 350.4l2.8 -2.8M811.6 315.4l6.8 -5.7M815.6 302.4l4.8 -4.8M855.6 382.6l2.8 2.8M931.5 383.1l17.1 -3.2M937.5 382.1l11.1 -2.2M931.5 440.9l9.1 1.1M937.5 462l6.1 0M896.5 490.2l8.1 -2.3M907.5 501.9l9.1 1.1M917.5 510.1l11.1 -2.2M957.5 478.9l11.1 2.2M883.5 537.9l11.1 1.1M614.8 685.5l3.3 11.1M603.8 697.5l2.3 7M673.8 719.5l3.5 7M787.8 681.5l4.5 9M823.3 672.5l5.5 11M841.5 651.8l7 3.5M808.6 735.6l6.7 7.8M821.9 755.5l1.3 5.1M814.9 763.5l1.1 11.1M456.6 348.6l6.8 6.8M468.6 364.6l6.8 6.8M452.6 340.6l4.8 4.8M476.5 375.7l8.9 5.6M459.5 354.3l9 4.5M451.8 284.5l2.3 7M520.7 274.6l4.7 5.9M518.7 302.5l4.5 8M541.6 270.6l5.7 6.8M562.6 288.7l4.9 3.7M570.5 292.7l6.9 4.6M551.5 328.7l5.9 3.6M524.6 341.6l3.8 3.8M534.7 340.6l3.7 4.9M546.7 366.5l6.6 10.9M532.7 423.6l4.7 5.9M374.5 398.8l11 4.4M402.5 418.8l9 4.5M440.5 432.8l13 4.3M528.4 425.2l5.2 6.9M541.8 417.9l7 3.5M529.8 389.4l8.5 3.4M551 374.1l5.2 6.9M558.5 380.1l5.2 6.9M481.7 377.1l8.3 8.3M845.5 577.9l13.1 2.2M891.5 625.7l6.9 4.6M877.7 641.5l4.6 6.9M941.6 707.6l6.8 5.7M568.9 200.5l1.1 10.1M534.9 221.5l1.1 9.1M566.9 257.5l1.1 11.1M602.9 243.5l1.1 9.1M587 249.5l1.1 13.1M619.9 261.5l2.2 11.1M626.9 243.5l1.1 9.1M631.8 265.5l3.4 9M647.9 255.5l2.2 11.1M666.9 244.5l1.2 8.1M686.9 253.5l2.3 9.1M711.9 273.5l1.1 9.1M714.8 199.5l3.3 11.1M627.9 200.5l1.2 8.1M672.9 179.5l1.1 9.1M627.7 325.5l4.6 6.9"/>
<path stroke="#fbe8d2" stroke-width="10.0" d="M454 328Q460 335 464 337.2Q468 339.4 472.5 341.2Q477 343 482 343.5Q487 344 493 342"/>
<path stroke="#fbe8d2" stroke-width="8.6" d="M828 216Q840 213 852 211M933 425Q944 424 955 425M906 479Q914 482 922 485M691 728Q693 738 698 745M808 670Q816 678 822 683M466 342Q472 353 475.5 358Q479 363 483.5 367Q488 371 498 378.6M499 355Q505 361 508.5 362.5Q512 364 521 367"/>
<path stroke="#d7e4f6" stroke-width="8.6" d="M807 271Q816 267 820 265Q824 263 829 261M898 323Q906 324 912 322M452 344Q460 353 464.5 359Q469 365 475 371Q481 377 493 385M920 593Q930 596 940 601"/>
<path stroke="#fbe8d2" stroke-width="7.6" d="M788 230Q794 220 802 214M811 250Q815 260 818 264M808 271.6Q816 270.4 824 268.4M814 276Q816 286 814 296M881 295Q886 286 892 283M906 330Q912 328 918 337M938 402Q947 395 952 385M930 436Q938 432 941 427M895 484Q902 476 906 473M957 463Q966 461 974 462M758 678Q762 688 770 696M714 770Q717 778 716 786M476 354Q483 358 486 361.5Q489 365 497 374M434 277Q438 287 440 292.5Q442 298 444.5 304Q447 310 453 323M463 443Q475 448 482 449Q489 450 496 449.3Q503 448.6 509 447.3Q515 446 529 439.4M474.6 392.6Q482.1 395.6 489.6 400.1M970 618Q978 620 986 626M958 637Q966 638 974 640M595 264Q600 274 606 284"/>
<path stroke="#d7e4f6" stroke-width="7.6" d="M744 217Q752 210 755 202M826 246Q829 254 828 261M856 274Q862 267 864 263M915 315Q922 313 923 318M918 388Q928 386 940 390M918 402Q926 400 936 405M940 413Q948 417 954 419M944 555Q952 554 962 553M776 676Q781 682 784 686M463 315Q469 323 473 331M485 329Q493 331 498 335M926 576Q936 580 944 584M956 618Q966 622 971 625Q976 628 985 632M950 640Q958 648 966 654M694 258Q697 268 700 278"/>
<path stroke="#d7e4f6" stroke-width="6.4" d="M968 439Q974 435 979 432M413 551Q423 550 435 551"/>
<path stroke="#fbe8d2" stroke-width="6.4" d="M610 240Q616 246 618 250M401 547Q411 545 421 543M419 610Q425 606 430 605Q435 604 441 601M567 631Q575 627 581 623"/>
</g>
<filter id="nb2" x="-3%" y="-3%" width="106%" height="106%" color-interpolation-filters="sRGB"><feTurbulence type="fractalNoise" baseFrequency="0.05" numOctaves="2" seed="5" result="t"/><feDisplacementMap in="SourceGraphic" in2="t" scale="7" xChannelSelector="R" yChannelSelector="G" result="d"/><feGaussianBlur in="d" stdDeviation="1.0"/></filter>
<g filter="url(#nb2)" fill="none" stroke-linecap="round" stroke-linejoin="round">
<path fill="#f3cda6" d="M873.3 262.7a2.8 1 -5.3 1 0 5.5 -.5a2.8 1 -5.3 1 0 -5.5 .5zM904 466.7a3.9 1.5 8.3 1 0 7.7 1.1a3.9 1.5 8.3 1 0 -7.7 -1.1zM877.9 390.8a6.4 1.2 -17.7 1 0 12.1 -3.9a6.4 1.2 -17.7 1 0 -12.1 3.9zM449.2 294a4.8 1.2 -157.9 1 0 -8.9 -3.6a4.8 1.2 -157.9 1 0 8.9 3.6zM849.2 300.9a6.4 1.6 7.3 1 0 12.7 1.6a6.4 1.6 7.3 1 0 -12.7 -1.6zM570.3 735.1a5.3 1.6 135.7 1 0 -7.6 7.4a5.3 1.6 135.7 1 0 7.6 -7.4zM679.9 726.2a4.7 1.2 80.1 1 0 1.6 9.2a4.7 1.2 80.1 1 0 -1.6 -9.2zM928.7 253.5a5.2 1.4 -25.6 1 0 9.3 -4.5a5.2 1.4 -25.6 1 0 -9.3 4.5zM607.8 275.7a4.2 1.6 -135.3 1 0 -6 -5.9a4.2 1.6 -135.3 1 0 6 5.9zM928.9 531.9a4.1 1.5 38.6 1 0 6.4 5.1a4.1 1.5 38.6 1 0 -6.4 -5.1zM832.4 711.7a3.7 1.2 52.4 1 0 4.5 5.8a3.7 1.2 52.4 1 0 -4.5 -5.8zM487.9 399.9a3.6 1.5 -128.7 1 0 -4.6 -5.7a3.6 1.5 -128.7 1 0 4.6 5.7zM446 489.4a6.4 1.3 -158.2 1 0 -11.9 -4.7a6.4 1.3 -158.2 1 0 11.9 4.7zM918.8 537a2.5 1.5 31.1 1 0 4.3 2.6a2.5 1.5 31.1 1 0 -4.3 -2.6zM919.9 347.3a4.4 1.3 -121.8 1 0 -4.6 -7.5a4.4 1.3 -121.8 1 0 4.6 7.5zM688.3 664.6a6.4 1.3 72.5 1 0 3.8 12.2a6.4 1.3 72.5 1 0 -3.8 -12.2zM469.3 349.1a5.7 1.6 -167.2 1 0 -11.2 -2.5a5.7 1.6 -167.2 1 0 11.2 2.5zM925.9 532.8a3.2 1.4 20.9 1 0 5.9 2.3a3.2 1.4 20.9 1 0 -5.9 -2.3zM764.3 584.1a4.3 1.2 18.5 1 0 8.1 2.7a4.3 1.2 18.5 1 0 -8.1 -2.7zM613.5 772.1a3.9 1.1 104.9 1 0 -2 7.5a3.9 1.1 104.9 1 0 2 -7.5zM848.7 368.4a4.9 1 -25.6 1 0 8.8 -4.2a4.9 1 -25.6 1 0 -8.8 4.2zM515.5 348.7a3.2 1.2 -159.6 1 0 -6 -2.2a3.2 1.2 -159.6 1 0 6 2.2zM761.7 296.1a5.5 1.4 -121.9 1 0 -5.8 -9.4a5.5 1.4 -121.9 1 0 5.8 9.4zM537.1 482a4.2 1.3 -216.3 1 0 -6.7 4.9a4.2 1.3 -216.3 1 0 6.7 -4.9zM486.4 666.5a5.2 1.3 180.8 1 0 -10.3 -.1a5.2 1.3 180.8 1 0 10.3 .1zM985.7 485.9a5.4 1.7 -12.4 1 0 10.6 -2.3a5.4 1.7 -12.4 1 0 -10.6 2.3zM904.4 317.1a4.8 1.2 -51 1 0 6.1 -7.5a4.8 1.2 -51 1 0 -6.1 7.5zM998.7 480.9a3.1 1.7 24 1 0 5.7 2.5a3.1 1.7 24 1 0 -5.7 -2.5zM580.5 280.9a5.1 1.6 -79 1 0 1.9 -9.9a5.1 1.6 -79 1 0 -1.9 9.9zM834.9 662.1a3.6 1.4 39.7 1 0 5.5 4.6a3.6 1.4 39.7 1 0 -5.5 -4.6zM818.9 661.5a4.7 1.6 63.2 1 0 4.3 8.5a4.7 1.6 63.2 1 0 -4.3 -8.5zM454.5 543.4a6.1 1.6 184.1 1 0 -12.1 -.9a6.1 1.6 184.1 1 0 12.1 .9zM567.4 245a2.9 1.5 -65.4 1 0 2.4 -5.3a2.9 1.5 -65.4 1 0 -2.4 5.3zM526.6 429.2a5 1 -146 1 0 -8.3 -5.6a5 1 -146 1 0 8.3 5.6zM919.2 316.8a3.5 1.6 -112.3 1 0 -2.6 -6.4a3.5 1.6 -112.3 1 0 2.6 6.4zM508.7 260.4a4.1 1.2 -101.1 1 0 -1.6 -8.1a4.1 1.2 -101.1 1 0 1.6 8.1zM883.9 636.9a5.8 1.4 71.1 1 0 3.7 10.9a5.8 1.4 71.1 1 0 -3.7 -10.9zM395.5 583.5a4.3 1.3 96.4 1 0 -1 8.6a4.3 1.3 96.4 1 0 1 -8.6zM965 665a5.1 1.3 -.5 1 0 10.1 -.1a5.1 1.3 -.5 1 0 -10.1 .1zM434.4 576.5a6.2 1.3 139.5 1 0 -9.4 8a6.2 1.3 139.5 1 0 9.4 -8zM462.1 539.6a3.2 1.5 208.3 1 0 -5.7 -3.1a3.2 1.5 208.3 1 0 5.7 3.1zM499.2 522.1a4 1.6 131.2 1 0 -5.3 6.1a4 1.6 131.2 1 0 5.3 -6.1zM393.7 585.2a3.3 1.4 188.7 1 0 -6.6 -1a3.3 1.4 188.7 1 0 6.6 1zM487 542.2a3.1 1.4 153.4 1 0 -5.6 2.8a3.1 1.4 153.4 1 0 5.6 -2.8zM729.7 726.6a4.4 1.2 89.5 1 0 .1 8.8a4.4 1.2 89.5 1 0 -.1 -8.8zM939.8 558.1a5.7 1.7 53.2 1 0 6.9 9.2a5.7 1.7 53.2 1 0 -6.9 -9.2zM509.7 732.5a3.3 1.2 143.6 1 0 -5.4 4a3.3 1.2 143.6 1 0 5.4 -4zM909.9 361a5 1.5 45.4 1 0 7 7.1a5 1.5 45.4 1 0 -7 -7.1zM722.9 727.4a4.2 1.5 72.8 1 0 2.5 8a4.2 1.5 72.8 1 0 -2.5 -8zM948.2 471.7a5.3 1.2 -41.9 1 0 7.9 -7.1a5.3 1.2 -41.9 1 0 -7.9 7.1zM864.8 356.9a4.1 1.4 -54.3 1 0 4.8 -6.6a4.1 1.4 -54.3 1 0 -4.8 6.6zM439 571.2a5.3 1.3 160.4 1 0 -9.9 3.5a5.3 1.3 160.4 1 0 9.9 -3.5zM915.2 316.1a4.4 1.1 -106.1 1 0 -2.4 -8.4a4.4 1.1 -106.1 1 0 2.4 8.4zM877.2 690.6a4.6 1.2 30.8 1 0 7.9 4.7a4.6 1.2 30.8 1 0 -7.9 -4.7zM422.4 650.9a6.2 1.3 166.7 1 0 -12 2.8a6.2 1.3 166.7 1 0 12 -2.8zM840.8 336.1a4.3 1.6 -50 1 0 5.5 -6.5a4.3 1.6 -50 1 0 -5.5 6.5zM952.7 375.1a3 1.4 -36.6 1 0 4.7 -3.5a3 1.4 -36.6 1 0 -4.7 3.5zM974.4 672.8a4.6 1.1 9.2 1 0 9 1.5a4.6 1.1 9.2 1 0 -9 -1.5zM938 399.8a5.7 1.2 6.8 1 0 11.3 1.3a5.7 1.2 6.8 1 0 -11.3 -1.3zM744.8 712.3a2.9 1.2 104.9 1 0 -1.5 5.5a2.9 1.2 104.9 1 0 1.5 -5.5zM529.4 590.2a3.5 1.3 150.6 1 0 -6.1 3.4a3.5 1.3 150.6 1 0 6.1 -3.4zM923.9 660.8a2.5 1.4 116.8 1 0 -2.3 4.5a2.5 1.4 116.8 1 0 2.3 -4.5zM912.4 413.2a4.3 1.1 -42.8 1 0 6.3 -5.8a4.3 1.1 -42.8 1 0 -6.3 5.8zM586.8 305.6a6 1.6 -63.4 1 0 5.3 -10.6a6 1.6 -63.4 1 0 -5.3 10.6zM900.5 646.1a4.8 1.4 70.9 1 0 3.1 9a4.8 1.4 70.9 1 0 -3.1 -9zM769.2 320a5.6 1.7 -88.5 1 0 .3 -11.1a5.6 1.7 -88.5 1 0 -.3 11.1zM518.3 366.1a4.5 1.5 -121.2 1 0 -4.7 -7.8a4.5 1.5 -121.2 1 0 4.7 7.8zM539.7 531.9a5.8 1.2 158.5 1 0 -10.8 4.3a5.8 1.2 158.5 1 0 10.8 -4.3zM783.6 292.5a5.7 1.3 -137.7 1 0 -8.5 -7.7a5.7 1.3 -137.7 1 0 8.5 7.7zM758.9 287.2a4.6 1.4 -41.9 1 0 6.8 -6.1a4.6 1.4 -41.9 1 0 -6.8 6.1zM483.6 401.5a3.5 1.4 -152.7 1 0 -6.2 -3.2a3.5 1.4 -152.7 1 0 6.2 3.2zM641.9 740a4.4 1.2 123.2 1 0 -4.8 7.3a4.4 1.2 123.2 1 0 4.8 -7.3zM461.2 572a3.7 1.5 194.6 1 0 -7.1 -1.8a3.7 1.5 194.6 1 0 7.1 1.8zM548.2 715.7a4.5 1.6 170.4 1 0 -8.9 1.5a4.5 1.6 170.4 1 0 8.9 -1.5zM732.7 218.7a4.9 1.4 -53.9 1 0 5.8 -7.9a4.9 1.4 -53.9 1 0 -5.8 7.9zM937.7 598.9a5.4 1.1 17.4 1 0 10.2 3.2a5.4 1.1 17.4 1 0 -10.2 -3.2zM530.8 331.9a5.1 1 -128.8 1 0 -6.4 -8a5.1 1 -128.8 1 0 6.4 8zM533.4 734.9a2.8 1.4 154.2 1 0 -5.1 2.5a2.8 1.4 154.2 1 0 5.1 -2.5zM921 420.6a4.4 1.4 35.2 1 0 7.2 5.1a4.4 1.4 35.2 1 0 -7.2 -5.1zM616.5 351.6a6.1 1.5 -103.3 1 0 -2.8 -11.8a6.1 1.5 -103.3 1 0 2.8 11.8zM945.2 658.1a3.2 1.3 8.4 1 0 6.3 .9a3.2 1.3 8.4 1 0 -6.3 -.9zM789.9 295.7a5.2 1.3 -47.3 1 0 7 -7.6a5.2 1.3 -47.3 1 0 -7 7.6zM526.9 299.5a4.9 1 -138.2 1 0 -7.4 -6.6a4.9 1 -138.2 1 0 7.4 6.6zM638.6 254.7a3 1.1 -91.2 1 0 -.1 -6a3 1.1 -91.2 1 0 .1 6zM893.1 472a3.9 1.5 -71.9 1 0 2.4 -7.5a3.9 1.5 -71.9 1 0 -2.4 7.5zM904.6 605.2a4.8 1.6 111.3 1 0 -3.5 8.9a4.8 1.6 111.3 1 0 3.5 -8.9zM909.9 372.2a5.2 1.6 2.1 1 0 10.4 .4a5.2 1.6 2.1 1 0 -10.4 -.4zM775.8 702.5a6.3 1.5 31.6 1 0 10.8 6.6a6.3 1.5 31.6 1 0 -10.8 -6.6zM481.2 605.9a5.5 1.1 223.3 1 0 -8 -7.5a5.5 1.1 223.3 1 0 8 7.5zM660.8 682.7a2.8 1.1 103.9 1 0 -1.4 5.5a2.8 1.1 103.9 1 0 1.4 -5.5zM896.9 550.8a6.4 1 53 1 0 7.7 10.2a6.4 1 53 1 0 -7.7 -10.2zM480.1 289.7a5.7 1.4 -195.9 1 0 -11 3.1a5.7 1.4 -195.9 1 0 11 -3.1zM1018.1 376.6a4.3 1.3 -21.6 1 0 8 -3.2a4.3 1.3 -21.6 1 0 -8 3.2zM386 581.6a4.8 1.3 183.8 1 0 -9.5 -.6a4.8 1.3 183.8 1 0 9.5 .6zM964 478a5.7 1.5 -10.4 1 0 11.2 -2.1a5.7 1.5 -10.4 1 0 -11.2 2.1zM592.4 705.3a5.7 1.4 130.8 1 0 -7.5 8.6a5.7 1.4 130.8 1 0 7.5 -8.6zM879.4 680.6a5.7 1.4 11.8 1 0 11.2 2.3a5.7 1.4 11.8 1 0 -11.2 -2.3zM952.8 472.2a3.5 1.7 82.5 1 0 .9 6.9a3.5 1.7 82.5 1 0 -.9 -6.9zM906.1 360.4a4.8 1.1 -29.4 1 0 8.3 -4.7a4.8 1.1 -29.4 1 0 -8.3 4.7zM880.3 556.3a2.6 1.6 56 1 0 2.9 4.3a2.6 1.6 56 1 0 -2.9 -4.3zM871.5 442a5.9 1.5 28 1 0 10.5 5.6a5.9 1.5 28 1 0 -10.5 -5.6zM452.8 420.4a5.3 1.5 -170.3 1 0 -10.5 -1.8a5.3 1.5 -170.3 1 0 10.5 1.8zM508.2 288.9a5.9 1.7 -104.5 1 0 -3 -11.5a5.9 1.7 -104.5 1 0 3 11.5zM721.3 667.3a4 1.1 112.2 1 0 -3.1 7.5a4 1.1 112.2 1 0 3.1 -7.5zM948.5 517.6a5.4 1.3 -41.9 1 0 8 -7.2a5.4 1.3 -41.9 1 0 -8 7.2zM842 698.2a6.5 1.3 81 1 0 2 12.8a6.5 1.3 81 1 0 -2 -12.8zM938.8 431.5a4.7 1.6 39.9 1 0 7.3 6.1a4.7 1.6 39.9 1 0 -7.3 -6.1zM565.6 774.1a4.8 1.2 78.5 1 0 1.9 9.3a4.8 1.2 78.5 1 0 -1.9 -9.3zM837.8 436a6.4 1.3 -1.9 1 0 12.8 -.4a6.4 1.3 -1.9 1 0 -12.8 .4zM495.9 433.1a4.8 1.2 -186.2 1 0 -9.6 1.1a4.8 1.2 -186.2 1 0 9.6 -1.1zM610.4 319.4a4.2 1.3 -174.5 1 0 -8.4 -.8a4.2 1.3 -174.5 1 0 8.4 .8zM473 506.6a6.1 1.5 216.9 1 0 -9.8 -7.3a6.1 1.5 216.9 1 0 9.8 7.3zM871.1 344.5a3 1.3 6.9 1 0 5.9 .7a3 1.3 6.9 1 0 -5.9 -.7zM506.5 744.9a5.8 1.1 129.2 1 0 -7.4 9a5.8 1.1 129.2 1 0 7.4 -9zM617.1 738.2a3.8 1.2 97.3 1 0 -1 7.5a3.8 1.2 97.3 1 0 1 -7.5zM790.6 279.8a3.8 1.4 6 1 0 7.6 .8a3.8 1.4 6 1 0 -7.6 -.8zM745.6 667.1a6.1 1.5 94 1 0 -.8 12.2a6.1 1.5 94 1 0 .8 -12.2zM578.6 704.4a5.4 1.2 99.5 1 0 -1.8 10.6a5.4 1.2 99.5 1 0 1.8 -10.6zM850.7 404.9a4.1 1.5 -51.9 1 0 5.1 -6.5a4.1 1.5 -51.9 1 0 -5.1 6.5zM663 234.6a2.5 1.5 -71 1 0 1.6 -4.8a2.5 1.5 -71 1 0 -1.6 4.8zM671.6 797.9a5.7 1.7 118.2 1 0 -5.4 10a5.7 1.7 118.2 1 0 5.4 -10zM746.1 245a3.9 1.1 -50.8 1 0 5 -6.1a3.9 1.1 -50.8 1 0 -5 6.1zM525.9 693.6a5.6 1.1 182 1 0 -11.2 -.4a5.6 1.1 182 1 0 11.2 .4zM648.4 844.7a3.1 1.5 75.3 1 0 1.6 6a3.1 1.5 75.3 1 0 -1.6 -6zM759.2 283.5a3.1 1.6 -83.8 1 0 .7 -6.1a3.1 1.6 -83.8 1 0 -.7 6.1zM769.1 645.6a2.7 1.4 62.1 1 0 2.6 4.8a2.7 1.4 62.1 1 0 -2.6 -4.8zM465.8 404.4a5.4 1.6 -190.8 1 0 -10.6 2a5.4 1.6 -190.8 1 0 10.6 -2zM895.9 703.1a4.9 1 33.7 1 0 8.2 5.4a4.9 1 33.7 1 0 -8.2 -5.4zM807.7 195.4a6.4 1.4 -60.3 1 0 6.4 -11.2a6.4 1.4 -60.3 1 0 -6.4 11.2zM762.2 262.9a5.8 1.7 -41.5 1 0 8.7 -7.7a5.8 1.7 -41.5 1 0 -8.7 7.7zM704.4 200.7a4.9 1.4 -60 1 0 4.9 -8.6a4.9 1.4 -60 1 0 -4.9 8.6zM708 312.3a6.4 1.6 -102.1 1 0 -2.7 -12.6a6.4 1.6 -102.1 1 0 2.7 12.6zM845.6 615.2a4.9 1.6 19.5 1 0 9.2 3.3a4.9 1.6 19.5 1 0 -9.2 -3.3zM583.2 761.2a3.1 1.4 41.7 1 0 4.6 4.1a3.1 1.4 41.7 1 0 -4.6 -4.1zM852.5 737.6a3.8 1.7 112.8 1 0 -3 7.1a3.8 1.7 112.8 1 0 3 -7.1zM443.8 587.1a2.8 1.6 203.9 1 0 -5.2 -2.3a2.8 1.6 203.9 1 0 5.2 2.3zM877.3 232.5a3.7 1.1 -24.6 1 0 6.7 -3.1a3.7 1.1 -24.6 1 0 -6.7 3.1zM842 223.2a3.7 1.7 -55.2 1 0 4.3 -6.1a3.7 1.7 -55.2 1 0 -4.3 6.1zM592 705.4a6.5 1.6 118.9 1 0 -6.3 11.3a6.5 1.6 118.9 1 0 6.3 -11.3zM899.4 646.9a5.5 1 50.8 1 0 7 8.6a5.5 1 50.8 1 0 -7 -8.6zM793.4 284.9a3 1.4 -30.7 1 0 5.1 -3a3 1.4 -30.7 1 0 -5.1 3zM660.2 749.2a5 1.4 4.3 1 0 10.1 .8a5 1.4 4.3 1 0 -10.1 -.8zM948.2 267.1a2.9 1.3 -12.8 1 0 5.7 -1.3a2.9 1.3 -12.8 1 0 -5.7 1.3zM1000.6 398.6a4.8 1.4 -25 1 0 8.7 -4a4.8 1.4 -25 1 0 -8.7 4zM836.1 697a5 1.3 30.7 1 0 8.6 5.1a5 1.3 30.7 1 0 -8.6 -5.1zM501 455.4a3 1 -169.8 1 0 -6 -1.1a3 1 -169.8 1 0 6 1.1zM971.5 643.3a3.5 1.6 63.2 1 0 3.1 6.2a3.5 1.6 63.2 1 0 -3.1 -6.2zM736.6 269.3a3.7 1.7 -47.3 1 0 5 -5.4a3.7 1.7 -47.3 1 0 -5 5.4zM924.4 433.8a2.6 1.6 -9.2 1 0 5.2 -.8a2.6 1.6 -9.2 1 0 -5.2 .8zM570 730.7a3.2 1.5 113.3 1 0 -2.5 5.8a3.2 1.5 113.3 1 0 2.5 -5.8zM906.7 435.2a3.1 1.7 -30.4 1 0 5.3 -3.1a3.1 1.7 -30.4 1 0 -5.3 3.1zM862.4 603.1a5.3 1.3 33.6 1 0 8.7 5.8a5.3 1.3 33.6 1 0 -8.7 -5.8zM793.1 313.1a5.9 1.6 -24.2 1 0 10.7 -4.8a5.9 1.6 -24.2 1 0 -10.7 4.8zM406.6 555.2a4.6 1.3 181.7 1 0 -9.3 -.3a4.6 1.3 181.7 1 0 9.3 .3zM513.5 713.1a4.1 1.1 141.3 1 0 -6.4 5.1a4.1 1.1 141.3 1 0 6.4 -5.1zM852.2 285.8a3.8 1.6 -31.3 1 0 6.6 -4a3.8 1.6 -31.3 1 0 -6.6 4zM831.5 295.5a4.7 1.2 -35.8 1 0 7.7 -5.5a4.7 1.2 -35.8 1 0 -7.7 5.5zM865.5 316.3a5.2 1.2 -.3 1 0 10.5 -0a5.2 1.2 -.3 1 0 -10.5 0zM951.8 412.3a5.2 1.7 -18.7 1 0 9.9 -3.4a5.2 1.7 -18.7 1 0 -9.9 3.4zM694.3 291.2a4.9 1.3 -135.9 1 0 -7 -6.8a4.9 1.3 -135.9 1 0 7 6.8zM942.9 425.6a5.4 1.4 -52.8 1 0 6.5 -8.6a5.4 1.4 -52.8 1 0 -6.5 8.6zM892.6 441.9a5.3 1.3 15.6 1 0 10.3 2.9a5.3 1.3 15.6 1 0 -10.3 -2.9zM675.2 837.8a2.8 1.5 95.6 1 0 -.5 5.5a2.8 1.5 95.6 1 0 .5 -5.5zM979.5 456.6a2.7 1.2 12.2 1 0 5.4 1.2a2.7 1.2 12.2 1 0 -5.4 -1.2zM656.1 758.7a6.2 1.2 56.7 1 0 6.8 10.4a6.2 1.2 56.7 1 0 -6.8 -10.4zM938.1 607.6a3.8 1.2 64.5 1 0 3.3 6.9a3.8 1.2 64.5 1 0 -3.3 -6.9zM553.1 394.3a4.1 1.3 -170.2 1 0 -8.1 -1.4a4.1 1.3 -170.2 1 0 8.1 1.4zM691.3 755.5a4.1 1.5 97.4 1 0 -1.1 8.2a4.1 1.5 97.4 1 0 1.1 -8.2zM466.3 565a3.5 1.7 165.1 1 0 -6.9 1.8a3.5 1.7 165.1 1 0 6.9 -1.8zM541.1 721.6a4.6 1 160.2 1 0 -8.7 3.2a4.6 1 160.2 1 0 8.7 -3.2zM658.1 684.2a5.8 1.2 138 1 0 -8.7 7.8a5.8 1.2 138 1 0 8.7 -7.8zM912 311.8a2.5 1.4 -106 1 0 -1.4 -4.9a2.5 1.4 -106 1 0 1.4 4.9zM901 628.5a5.8 1.2 12.5 1 0 11.4 2.5a5.8 1.2 12.5 1 0 -11.4 -2.5zM870.5 662.7a3.2 1.1 24.5 1 0 5.9 2.7a3.2 1.1 24.5 1 0 -5.9 -2.7zM719.3 275.8a4.1 1.5 -140.7 1 0 -6.4 -5.2a4.1 1.5 -140.7 1 0 6.4 5.2zM757.1 804.9a3.5 1.3 80.8 1 0 1.1 7a3.5 1.3 80.8 1 0 -1.1 -7zM650.9 276.7a3.9 1.5 -72.6 1 0 2.3 -7.4a3.9 1.5 -72.6 1 0 -2.3 7.4zM537.8 664.7a3 1.5 88.9 1 0 .1 6a3 1.5 88.9 1 0 -.1 -6zM791.8 265.3a3.2 1.7 -81.8 1 0 .9 -6.4a3.2 1.7 -81.8 1 0 -.9 6.4zM502.2 478.3a6.1 1.2 -181.2 1 0 -12.2 .3a6.1 1.2 -181.2 1 0 12.2 -.3zM579.3 743.8a3.5 1.2 80.6 1 0 1.1 6.8a3.5 1.2 80.6 1 0 -1.1 -6.8zM554.8 357.2a6 1 -131.5 1 0 -8 -9a6 1 -131.5 1 0 8 9zM769.9 288.5a4.8 1.2 -64.2 1 0 4.2 -8.6a4.8 1.2 -64.2 1 0 -4.2 8.6zM481 636.3a5.9 1.4 104.3 1 0 -2.9 11.5a5.9 1.4 104.3 1 0 2.9 -11.5zM645.7 169.6a4.9 1.5 -126.1 1 0 -5.7 -7.9a4.9 1.5 -126.1 1 0 5.7 7.9zM629.1 758.6a3.9 1.1 52.4 1 0 4.7 6.1a3.9 1.1 52.4 1 0 -4.7 -6.1zM383.7 460.5a3 1.6 -166 1 0 -5.9 -1.5a3 1.6 -166 1 0 5.9 1.5zM494.5 704.4a3.3 1.1 177.7 1 0 -6.5 .3a3.3 1.1 177.7 1 0 6.5 -.3zM821.2 740.9a4.4 1.1 87.4 1 0 .4 8.9a4.4 1.1 87.4 1 0 -.4 -8.9zM754.9 252.7a3.7 1.6 -87.6 1 0 .3 -7.3a3.7 1.6 -87.6 1 0 -.3 7.3zM712.3 740.6a4 1.2 71.3 1 0 2.6 7.6a4 1.2 71.3 1 0 -2.6 -7.6zM785.2 291.9a5.5 1.7 -53.7 1 0 6.5 -8.8a5.5 1.7 -53.7 1 0 -6.5 8.8zM886.5 617.3a5.4 1.1 61.8 1 0 5.1 9.5a5.4 1.1 61.8 1 0 -5.1 -9.5zM597 743.4a5.9 1.2 95.3 1 0 -1.1 11.8a5.9 1.2 95.3 1 0 1.1 -11.8zM940.1 290.8a3.4 1.4 -64.1 1 0 2.9 -6.1a3.4 1.4 -64.1 1 0 -2.9 6.1zM594.5 676.9a4.8 1.4 107.3 1 0 -2.9 9.2a4.8 1.4 107.3 1 0 2.9 -9.2zM686.4 314a4 1.6 -36.4 1 0 6.5 -4.8a4 1.6 -36.4 1 0 -6.5 4.8zM748.6 735.3a5.9 1.1 88.5 1 0 .3 11.7a5.9 1.1 88.5 1 0 -.3 -11.7zM745.1 299.6a5 1.4 -72.1 1 0 3.1 -9.6a5 1.4 -72.1 1 0 -3.1 9.6zM808.2 785.7a3 1.1 83.1 1 0 .7 5.9a3 1.1 83.1 1 0 -.7 -5.9zM446.5 670.5a6.2 1.1 170.1 1 0 -12.2 2.1a6.2 1.1 170.1 1 0 12.2 -2.1zM971 538a6.4 1.2 -3.3 1 0 12.7 -.7a6.4 1.2 -3.3 1 0 -12.7 .7zM523 711.9a3.6 1.5 108.6 1 0 -2.3 6.8a3.6 1.5 108.6 1 0 2.3 -6.8zM458.5 447.4a4.8 1.6 -230.1 1 0 -6.2 7.4a4.8 1.6 -230.1 1 0 6.2 -7.4zM967.7 397.6a2.6 1 -27.6 1 0 4.6 -2.4a2.6 1 -27.6 1 0 -4.6 2.4zM540 321.9a5.2 1.3 -169.5 1 0 -10.1 -1.9a5.2 1.3 -169.5 1 0 10.1 1.9zM584.2 291.9a4.5 1.3 -103.7 1 0 -2.1 -8.7a4.5 1.3 -103.7 1 0 2.1 8.7zM944.5 528.1a3.8 1 18.8 1 0 7.2 2.5a3.8 1 18.8 1 0 -7.2 -2.5zM721.7 340.9a3.8 1.1 -166.3 1 0 -7.5 -1.8a3.8 1.1 -166.3 1 0 7.5 1.8zM495 473.6a4.7 1.5 -145 1 0 -7.7 -5.4a4.7 1.5 -145 1 0 7.7 5.4zM769.7 650.9a6.4 1 66 1 0 5.2 11.7a6.4 1 66 1 0 -5.2 -11.7zM666 771.4a3.3 1.4 117.3 1 0 -3 5.8a3.3 1.4 117.3 1 0 3 -5.8zM618.1 260.8a4.1 1.3 -150.6 1 0 -7.1 -4a4.1 1.3 -150.6 1 0 7.1 4zM583.3 755.8a4.7 1.6 102.1 1 0 -2 9.2a4.7 1.6 102.1 1 0 2 -9.2zM744.6 281.9a5.6 1 -95.3 1 0 -1 -11.2a5.6 1 -95.3 1 0 1 11.2zM724.6 670.6a5.5 1.3 66.7 1 0 4.3 10.1a5.5 1.3 66.7 1 0 -4.3 -10.1zM896.2 612.4a3.2 1.3 49.3 1 0 4.1 4.8a3.2 1.3 49.3 1 0 -4.1 -4.8zM882 493.6a3.2 1 50.8 1 0 4 4.9a3.2 1 50.8 1 0 -4 -4.9zM568.3 299.6a4.8 1.3 -88.8 1 0 .2 -9.6a4.8 1.3 -88.8 1 0 -.2 9.6zM541.4 729.7a4.1 1.7 174.2 1 0 -8.1 .8a4.1 1.7 174.2 1 0 8.1 -.8zM881 499.8a6.2 1.4 -54.8 1 0 7.2 -10.2a6.2 1.4 -54.8 1 0 -7.2 10.2zM692.3 761.8a5.5 1.1 183.5 1 0 -10.9 -.7a5.5 1.1 183.5 1 0 10.9 .7zM658 723.8a3.3 1.2 86.9 1 0 .4 6.6a3.3 1.2 86.9 1 0 -.4 -6.6zM727.9 284.6a4.5 1.6 -113.7 1 0 -3.6 -8.2a4.5 1.6 -113.7 1 0 3.6 8.2zM853 660.2a5.1 1.5 111.6 1 0 -3.8 9.5a5.1 1.5 111.6 1 0 3.8 -9.5zM533.7 608a2.9 1.3 176.4 1 0 -5.8 .4a2.9 1.3 176.4 1 0 5.8 -.4zM780.9 313.8a2.9 1.6 -49.8 1 0 3.8 -4.5a2.9 1.6 -49.8 1 0 -3.8 4.5zM916.7 342.2a4.6 1.5 39.1 1 0 7.1 5.8a4.6 1.5 39.1 1 0 -7.1 -5.8zM967.5 515.7a5 1.5 36 1 0 8.2 5.9a5 1.5 36 1 0 -8.2 -5.9zM415.9 523.2a5.1 1.6 194.8 1 0 -9.8 -2.6a5.1 1.6 194.8 1 0 9.8 2.6zM431.4 527.4a6.3 1 184.7 1 0 -12.6 -1a6.3 1 184.7 1 0 12.6 1zM552.8 562.4a3.8 1 156.8 1 0 -7 3a3.8 1 156.8 1 0 7 -3zM929.4 432.1a4.3 1.4 -31.4 1 0 7.4 -4.5a4.3 1.4 -31.4 1 0 -7.4 4.5zM496.9 624.2a4.3 1.5 163.3 1 0 -8.1 2.4a4.3 1.5 163.3 1 0 8.1 -2.4zM546.4 690.2a4 1.6 158.9 1 0 -7.5 2.9a4 1.6 158.9 1 0 7.5 -2.9zM649.8 259.9a4.1 1.1 -138.2 1 0 -6.2 -5.5a4.1 1.1 -138.2 1 0 6.2 5.5zM797 728.4a5.2 1.6 25.4 1 0 9.4 4.5a5.2 1.6 25.4 1 0 -9.4 -4.5zM934.6 729.6a5.1 1.1 11.7 1 0 10 2.1a5.1 1.1 11.7 1 0 -10 -2.1zM662.5 322.7a4.1 1.4 -178.7 1 0 -8.1 -.2a4.1 1.4 -178.7 1 0 8.1 .2zM718 234.1a4.9 1.1 -121.1 1 0 -5.1 -8.5a4.9 1.1 -121.1 1 0 5.1 8.5zM464.8 339.7a3.3 1.6 -194.7 1 0 -6.5 1.7a3.3 1.6 -194.7 1 0 6.5 -1.7zM427.9 478.5a2.9 1.5 -182.7 1 0 -5.8 .3a2.9 1.5 -182.7 1 0 5.8 -.3zM615.8 735.5a5 1.2 114.9 1 0 -4.2 9.1a5 1.2 114.9 1 0 4.2 -9.1zM816.6 321.2a5.6 1.7 -24.2 1 0 10.3 -4.6a5.6 1.7 -24.2 1 0 -10.3 4.6zM913.2 675.8a6.4 1.3 35.4 1 0 10.4 7.4a6.4 1.3 35.4 1 0 -10.4 -7.4zM782.3 314.9a5.8 1.6 -76 1 0 2.8 -11.2a5.8 1.6 -76 1 0 -2.8 11.2zM776.5 744a4.1 1 101.9 1 0 -1.7 8.1a4.1 1 101.9 1 0 1.7 -8.1zM749.6 783.9a3.3 1.1 107.7 1 0 -2 6.4a3.3 1.1 107.7 1 0 2 -6.4zM586.2 271.5a5.8 1.7 -54.6 1 0 6.8 -9.5a5.8 1.7 -54.6 1 0 -6.8 9.5zM548 366.6a3.8 1.5 -119.9 1 0 -3.8 -6.7a3.8 1.5 -119.9 1 0 3.8 6.7zM946.5 544.7a4.1 1 36 1 0 6.7 4.9a4.1 1 36 1 0 -6.7 -4.9zM681.4 261.2a5.9 1.5 -101.7 1 0 -2.4 -11.5a5.9 1.5 -101.7 1 0 2.4 11.5zM941.1 619a4.3 1.1 19.4 1 0 8.1 2.8a4.3 1.1 19.4 1 0 -8.1 -2.8zM467.1 442.5a4.5 1.6 -124.9 1 0 -5.1 -7.3a4.5 1.6 -124.9 1 0 5.1 7.3zM900.3 685.9a3.7 1.7 128.6 1 0 -4.6 5.8a3.7 1.7 128.6 1 0 4.6 -5.8zM1002.3 420.4a4.7 1.5 -8.2 1 0 9.4 -1.4a4.7 1.5 -8.2 1 0 -9.4 1.4zM568.4 334.2a3.6 1.1 -158.5 1 0 -6.7 -2.6a3.6 1.1 -158.5 1 0 6.7 2.6zM424.9 650.9a5.7 1.1 163.7 1 0 -10.9 3.2a5.7 1.1 163.7 1 0 10.9 -3.2zM489.9 635.1a4.4 1.1 115.5 1 0 -3.8 7.9a4.4 1.1 115.5 1 0 3.8 -7.9zM738.8 271.6a4 1.4 -126.2 1 0 -4.7 -6.4a4 1.4 -126.2 1 0 4.7 6.4zM1017.3 539a5.8 1 74.3 1 0 3.1 11.1a5.8 1 74.3 1 0 -3.1 -11.1zM503.5 617.3a4.8 1.6 192.8 1 0 -9.4 -2.1a4.8 1.6 192.8 1 0 9.4 2.1zM900.7 512a4.8 1.6 2.1 1 0 9.6 .4a4.8 1.6 2.1 1 0 -9.6 -.4zM632.1 369.6a5.8 1.3 -133.7 1 0 -8 -8.4a5.8 1.3 -133.7 1 0 8 8.4zM537.2 377.2a5.8 1.3 -145.1 1 0 -9.5 -6.6a5.8 1.3 -145.1 1 0 9.5 6.6zM1011.4 371.3a4.4 1.5 -42.8 1 0 6.4 -5.9a4.4 1.5 -42.8 1 0 -6.4 5.9zM455.5 357.7a3.9 1 -104.4 1 0 -1.9 -7.6a3.9 1 -104.4 1 0 1.9 7.6zM682 230.3a3.9 1.5 -87.2 1 0 .4 -7.9a3.9 1.5 -87.2 1 0 -.4 7.9zM859 250.6a4.6 1.5 -4.4 1 0 9.2 -.7a4.6 1.5 -4.4 1 0 -9.2 .7zM924.6 438.5a6.3 1.1 -5.5 1 0 12.5 -1.2a6.3 1.1 -5.5 1 0 -12.5 1.2zM578.3 680.9a6.4 1 105.1 1 0 -3.3 12.4a6.4 1 105.1 1 0 3.3 -12.4zM805.4 737.8a4.6 1 79.7 1 0 1.6 9.1a4.6 1 79.7 1 0 -1.6 -9.1zM758.4 341.3a6.1 1.2 -26.4 1 0 11 -5.4a6.1 1.2 -26.4 1 0 -11 5.4zM476.1 425.4a5.5 1.4 -150.8 1 0 -9.6 -5.4a5.5 1.4 -150.8 1 0 9.6 5.4zM437.6 368.9a4.1 1.4 -106.9 1 0 -2.4 -7.8a4.1 1.4 -106.9 1 0 2.4 7.8zM422.2 439.6a6.3 1.3 -198.1 1 0 -12.1 3.9a6.3 1.3 -198.1 1 0 12.1 -3.9zM863 587.4a3.8 1.7 53.7 1 0 4.5 6.1a3.8 1.7 53.7 1 0 -4.5 -6.1zM784.9 336.5a2.8 1.5 -59.6 1 0 2.8 -4.8a2.8 1.5 -59.6 1 0 -2.8 4.8zM904.6 672.3a5.2 1.4 28.8 1 0 9.1 5a5.2 1.4 28.8 1 0 -9.1 -5zM757.3 300a2.9 1.5 -83.3 1 0 .7 -5.8a2.9 1.5 -83.3 1 0 -.7 5.8zM641 251a6.2 1.1 -124.7 1 0 -7.1 -10.3a6.2 1.1 -124.7 1 0 7.1 10.3zM790.6 717.6a4.3 1.1 72.6 1 0 2.6 8.2a4.3 1.1 72.6 1 0 -2.6 -8.2zM633.5 321.6a4.1 1.7 -92.4 1 0 -.3 -8.2a4.1 1.7 -92.4 1 0 .3 8.2zM872.9 392.1a5 1.2 96.1 1 0 -1.1 9.9a5 1.2 96.1 1 0 1.1 -9.9zM456.6 661a5.7 1.2 188.3 1 0 -11.4 -1.7a5.7 1.2 188.3 1 0 11.4 1.7zM571.5 253.5a2.7 1.3 -149 1 0 -4.7 -2.8a2.7 1.3 -149 1 0 4.7 2.8zM735.6 684.5a5.6 1.6 94.4 1 0 -.9 11.2a5.6 1.6 94.4 1 0 .9 -11.2zM586.4 683.6a4.1 1.5 110.7 1 0 -2.9 7.6a4.1 1.5 110.7 1 0 2.9 -7.6zM617.7 759.6a4.6 1.2 127.8 1 0 -5.6 7.2a4.6 1.2 127.8 1 0 5.6 -7.2zM554.4 446.9a3 1.1 -137 1 0 -4.4 -4.1a3 1.1 -137 1 0 4.4 4.1zM671.2 689.7a4.3 1.1 71.9 1 0 2.7 8.2a4.3 1.1 71.9 1 0 -2.7 -8.2zM909.6 399.1a5.6 1 -16.2 1 0 10.8 -3.1a5.6 1 -16.2 1 0 -10.8 3.1zM749.8 676.5a5.8 1.6 19.1 1 0 10.9 3.8a5.8 1.6 19.1 1 0 -10.9 -3.8zM687.3 798.4a3.6 1.4 100.2 1 0 -1.3 7.1a3.6 1.4 100.2 1 0 1.3 -7.1zM422.9 377.3a3.2 1.3 -155 1 0 -5.8 -2.7a3.2 1.3 -155 1 0 5.8 2.7zM520.8 377a3 1.3 -141.8 1 0 -4.7 -3.7a3 1.3 -141.8 1 0 4.7 3.7zM938.6 385.7a5.8 1.5 14.9 1 0 11.2 3a5.8 1.5 14.9 1 0 -11.2 -3zM752.9 361.6a5 1.6 -61.8 1 0 4.7 -8.8a5 1.6 -61.8 1 0 -4.7 8.8zM476.1 519.1a3.8 1.5 217.2 1 0 -6.1 -4.6a3.8 1.5 217.2 1 0 6.1 4.6zM888.2 697.8a5.5 1.3 8 1 0 11 1.5a5.5 1.3 8 1 0 -11 -1.5zM735.2 160.7a2.8 1 -90.2 1 0 -0 -5.6a2.8 1 -90.2 1 0 0 5.6zM755.7 694.3a6.4 1.6 92.2 1 0 -.5 12.8a6.4 1.6 92.2 1 0 .5 -12.8zM704.8 240a5.9 1.1 -109.3 1 0 -3.9 -11.1a5.9 1.1 -109.3 1 0 3.9 11.1zM708.6 225.6a4.5 1.4 -81.3 1 0 1.4 -8.9a4.5 1.4 -81.3 1 0 -1.4 8.9zM876.2 443.2a3 1.6 4.2 1 0 6 .4a3 1.6 4.2 1 0 -6 -.4zM916.3 590.8a5.5 1.5 -1.1 1 0 11 -.2a5.5 1.5 -1.1 1 0 -11 .2zM726.1 708.8a6.2 1 86.7 1 0 .7 12.4a6.2 1 86.7 1 0 -.7 -12.4zM443.3 402a4.4 1.1 -167.6 1 0 -8.5 -1.9a4.4 1.1 -167.6 1 0 8.5 1.9zM520.3 277.8a3 1.4 -103.5 1 0 -1.4 -5.7a3 1.4 -103.5 1 0 1.4 5.7zM875.9 249.6a5.8 1.7 -33.9 1 0 9.6 -6.5a5.8 1.7 -33.9 1 0 -9.6 6.5zM795.8 177.5a3 1.1 -131.4 1 0 -3.9 -4.5a3 1.1 -131.4 1 0 3.9 4.5zM589.2 319.7a5.7 1.4 -156.4 1 0 -10.5 -4.6a5.7 1.4 -156.4 1 0 10.5 4.6zM751.8 702.7a3.2 1.6 161.2 1 0 -6.1 2.1a3.2 1.6 161.2 1 0 6.1 -2.1zM806.7 696.3a5.1 1.3 94 1 0 -.7 10.1a5.1 1.3 94 1 0 .7 -10.1zM905.6 286.8a5.1 1 -88.3 1 0 .3 -10.3a5.1 1 -88.3 1 0 -.3 10.3zM906.3 361.8a5.2 1.3 -12.9 1 0 10.1 -2.3a5.2 1.3 -12.9 1 0 -10.1 2.3zM929.9 286.7a4.4 1 11.6 1 0 8.5 1.8a4.4 1 11.6 1 0 -8.5 -1.8zM438.5 553.3a6.1 1.5 214.4 1 0 -10.1 -6.9a6.1 1.5 214.4 1 0 10.1 6.9zM695.7 317.8a3.5 1.3 -93.8 1 0 -.5 -7a3.5 1.3 -93.8 1 0 .5 7zM831.5 412.4a3.6 1.2 -49.4 1 0 4.7 -5.5a3.6 1.2 -49.4 1 0 -4.7 5.5zM669.7 751.2a3.9 1.3 136.4 1 0 -5.7 5.4a3.9 1.3 136.4 1 0 5.7 -5.4zM953.3 466.7a5.4 1.5 -28.6 1 0 9.5 -5.2a5.4 1.5 -28.6 1 0 -9.5 5.2zM548.1 555.2a3.7 1.5 195.6 1 0 -7.1 -2a3.7 1.5 195.6 1 0 7.1 2zM611.2 254.7a3.8 1.3 -149.1 1 0 -6.5 -3.9a3.8 1.3 -149.1 1 0 6.5 3.9zM918.4 620a4.4 1.4 77.7 1 0 1.9 8.5a4.4 1.4 77.7 1 0 -1.9 -8.5zM535.3 454.9a2.5 1.1 -167.8 1 0 -4.9 -1.1a2.5 1.1 -167.8 1 0 4.9 1.1zM877.5 476.4a3 1.6 21.1 1 0 5.5 2.1a3 1.6 21.1 1 0 -5.5 -2.1zM805.4 759.4a2.5 1.2 103 1 0 -1.1 4.9a2.5 1.2 103 1 0 1.1 -4.9zM657.3 703a4 1.3 79.7 1 0 1.4 7.9a4 1.3 79.7 1 0 -1.4 -7.9zM1022.7 625.9a4.5 1.2 9.3 1 0 8.8 1.4a4.5 1.2 9.3 1 0 -8.8 -1.4zM641.3 286.5a4.1 1.2 -124 1 0 -4.6 -6.9a4.1 1.2 -124 1 0 4.6 6.9zM861.4 369.5a5.7 1.5 -26 1 0 10.3 -5a5.7 1.5 -26 1 0 -10.3 5zM707.7 763.7a4.5 1.5 124.2 1 0 -5.1 7.5a4.5 1.5 124.2 1 0 5.1 -7.5zM939.3 510.4a5.1 1.7 -41.7 1 0 7.6 -6.8a5.1 1.7 -41.7 1 0 -7.6 6.8zM442.7 625.3a4.8 1.2 69.3 1 0 3.4 8.9a4.8 1.2 69.3 1 0 -3.4 -8.9zM946.3 437.6a4.7 1.4 1.8 1 0 9.5 .3a4.7 1.4 1.8 1 0 -9.5 -.3zM560.5 277.9a4 1.6 -112.8 1 0 -3.1 -7.3a4 1.6 -112.8 1 0 3.1 7.3zM782.3 651.5a3.4 1.5 21.3 1 0 6.3 2.4a3.4 1.5 21.3 1 0 -6.3 -2.4zM718.6 271a5.8 1.3 -138 1 0 -8.7 -7.8a5.8 1.3 -138 1 0 8.7 7.8zM762.1 214a3 1.3 -97.9 1 0 -.8 -5.9a3 1.3 -97.9 1 0 .8 5.9zM669 845.9a3.5 1.1 65.9 1 0 2.9 6.5a3.5 1.1 65.9 1 0 -2.9 -6.5zM541.1 351.8a3.3 1 -108.9 1 0 -2.1 -6.3a3.3 1 -108.9 1 0 2.1 6.3zM597.4 345.9a4.5 1.2 -92.2 1 0 -.3 -9.1a4.5 1.2 -92.2 1 0 .3 9.1zM983.8 403.8a3.7 1.6 -53.5 1 0 4.5 -6a3.7 1.6 -53.5 1 0 -4.5 6zM934.2 391.5a4.1 1.1 -27.1 1 0 7.3 -3.7a4.1 1.1 -27.1 1 0 -7.3 3.7zM947.3 499.9a5 1.7 14.2 1 0 9.6 2.4a5 1.7 14.2 1 0 -9.6 -2.4zM359.3 462.3a6.1 1.2 -219.7 1 0 -9.4 7.8a6.1 1.2 -219.7 1 0 9.4 -7.8zM715.8 274a2.9 1.3 -36.5 1 0 4.7 -3.5a2.9 1.3 -36.5 1 0 -4.7 3.5zM465.1 378.3a6.1 1.1 -153.5 1 0 -10.9 -5.4a6.1 1.1 -153.5 1 0 10.9 5.4zM704.6 299.6a5.7 1.5 -88.8 1 0 .2 -11.4a5.7 1.5 -88.8 1 0 -.2 11.4zM881.5 591.8a3.7 1.1 -61.2 1 0 3.6 -6.6a3.7 1.1 -61.2 1 0 -3.6 6.6zM473.4 573.3a5.2 1.1 154.6 1 0 -9.4 4.5a5.2 1.1 154.6 1 0 9.4 -4.5zM849.8 274.1a5.8 1.5 -41.8 1 0 8.6 -7.7a5.8 1.5 -41.8 1 0 -8.6 7.7zM474.3 554.8a4 1.5 170.4 1 0 -7.9 1.3a4 1.5 170.4 1 0 7.9 -1.3zM919.3 391.5a6.3 1.6 -34.8 1 0 10.3 -7.2a6.3 1.6 -34.8 1 0 -10.3 7.2zM664.6 211.5a6.2 1.3 -181.4 1 0 -12.3 .3a6.2 1.3 -181.4 1 0 12.3 -.3zM636.7 775.1a4.1 1.5 152.3 1 0 -7.2 3.8a4.1 1.5 152.3 1 0 7.2 -3.8zM867 491.1a4.5 1.3 6.5 1 0 9 1a4.5 1.3 6.5 1 0 -9 -1zM532.1 298.3a4.9 1.4 -120.2 1 0 -4.9 -8.5a4.9 1.4 -120.2 1 0 4.9 8.5zM484.9 678.7a4.8 1.1 182.7 1 0 -9.6 -.5a4.8 1.1 182.7 1 0 9.6 .5zM722 756a4.5 1.1 79.6 1 0 1.6 8.9a4.5 1.1 79.6 1 0 -1.6 -8.9zM849.4 599.1a5.1 1.3 29.1 1 0 8.9 4.9a5.1 1.3 29.1 1 0 -8.9 -4.9zM621.7 265.2a3.6 1.5 -169.5 1 0 -7.1 -1.3a3.6 1.5 -169.5 1 0 7.1 1.3zM992.1 602.1a2.6 1.4 17.4 1 0 4.9 1.5a2.6 1.4 17.4 1 0 -4.9 -1.5zM627 284a2.9 1.3 -86.2 1 0 .4 -5.8a2.9 1.3 -86.2 1 0 -.4 5.8zM1007.9 371.2a6.2 1.6 56.2 1 0 6.8 10.2a6.2 1.6 56.2 1 0 -6.8 -10.2zM481.7 441.6a3.7 1.1 -149.1 1 0 -6.3 -3.8a3.7 1.1 -149.1 1 0 6.3 3.8zM412.4 501a4.2 1.5 -127.6 1 0 -5.2 -6.7a4.2 1.5 -127.6 1 0 5.2 6.7zM710.5 328.8a3.2 1.1 -162.2 1 0 -6.1 -2a3.2 1.1 -162.2 1 0 6.1 2zM636.5 216.2a5.8 1 -68 1 0 4.3 -10.7a5.8 1 -68 1 0 -4.3 10.7zM557.4 643.3a4.3 1.3 162.9 1 0 -8.2 2.5a4.3 1.3 162.9 1 0 8.2 -2.5zM721.9 787.4a3.2 1.4 22.9 1 0 5.9 2.5a3.2 1.4 22.9 1 0 -5.9 -2.5zM935.7 421.6a5.4 1.1 -30.8 1 0 9.2 -5.5a5.4 1.1 -30.8 1 0 -9.2 5.5zM581.3 290.6a3.8 1 -117.8 1 0 -3.5 -6.7a3.8 1 -117.8 1 0 3.5 6.7zM537.5 375.7a2.7 1.3 -101.8 1 0 -1.1 -5.2a2.7 1.3 -101.8 1 0 1.1 5.2zM911.2 547.5a6.2 1.4 34.7 1 0 10.2 7a6.2 1.4 34.7 1 0 -10.2 -7zM787.1 271.5a3.3 1.2 -53.8 1 0 3.9 -5.3a3.3 1.2 -53.8 1 0 -3.9 5.3zM495.4 512.2a2.7 1.1 239.7 1 0 -2.8 -4.7a2.7 1.1 239.7 1 0 2.8 4.7zM773 259a6.2 1 -36.9 1 0 9.9 -7.4a6.2 1 -36.9 1 0 -9.9 7.4zM400.2 589.5a4.7 1.2 232.1 1 0 -5.7 -7.3a4.7 1.2 232.1 1 0 5.7 7.3zM550.8 757.7a4.9 1.4 134.9 1 0 -6.9 6.9a4.9 1.4 134.9 1 0 6.9 -6.9zM754.1 684.2a2.9 1.5 37.5 1 0 4.5 3.5a2.9 1.5 37.5 1 0 -4.5 -3.5zM816.9 169.6a4.9 1.1 -163.7 1 0 -9.4 -2.7a4.9 1.1 -163.7 1 0 9.4 2.7zM480 347.7a5.9 1.1 -164.5 1 0 -11.4 -3.2a5.9 1.1 -164.5 1 0 11.4 3.2zM875.8 634.7a5.4 1.1 69.8 1 0 3.7 10.1a5.4 1.1 69.8 1 0 -3.7 -10.1zM960.4 546.8a3.5 1.4 66.7 1 0 2.8 6.5a3.5 1.4 66.7 1 0 -2.8 -6.5zM427.2 525.8a6.1 1.1 188.1 1 0 -12 -1.7a6.1 1.1 188.1 1 0 12 1.7zM1025.8 460.7a5.3 1.6 -37.4 1 0 8.4 -6.4a5.3 1.6 -37.4 1 0 -8.4 6.4zM517.5 283.5a3.3 1.4 -127.1 1 0 -4 -5.3a3.3 1.4 -127.1 1 0 4 5.3zM818.3 217.8a4.8 1.4 -92.5 1 0 -.4 -9.7a4.8 1.4 -92.5 1 0 .4 9.7zM898.3 753.7a5.1 1.1 95.2 1 0 -.9 10.2a5.1 1.1 95.2 1 0 .9 -10.2zM947.7 434.1a3.6 1.3 -67 1 0 2.9 -6.7a3.6 1.3 -67 1 0 -2.9 6.7zM634.2 678.6a4.7 1.1 184.4 1 0 -9.3 -.7a4.7 1.1 184.4 1 0 9.3 .7zM987.5 527a5.6 1 -24 1 0 10.1 -4.5a5.6 1 -24 1 0 -10.1 4.5zM521.9 341.1a4 1.3 -129.9 1 0 -5.1 -6.1a4 1.3 -129.9 1 0 5.1 6.1zM921 402a3.6 1.5 -3.6 1 0 7.3 -.5a3.6 1.5 -3.6 1 0 -7.3 .5zM852.8 683.3a6.4 1.2 71.8 1 0 4 12.1a6.4 1.2 71.8 1 0 -4 -12.1zM793.1 304.3a3.5 1.5 -66.8 1 0 2.7 -6.4a3.5 1.5 -66.8 1 0 -2.7 6.4zM507.5 634.2a2.5 1.3 108.9 1 0 -1.6 4.8a2.5 1.3 108.9 1 0 1.6 -4.8zM817.8 256.5a3.5 1.4 -47.4 1 0 4.8 -5.2a3.5 1.4 -47.4 1 0 -4.8 5.2zM596.5 732.6a3.9 1.1 160.1 1 0 -7.3 2.6a3.9 1.1 160.1 1 0 7.3 -2.6zM948 419.8a3.6 1.4 -2.2 1 0 7.1 -.3a3.6 1.4 -2.2 1 0 -7.1 .3zM944.9 657.5a4.7 1.1 -5 1 0 9.3 -.8a4.7 1.1 -5 1 0 -9.3 .8zM542.7 605.9a3.7 1 128.5 1 0 -4.6 5.9a3.7 1 128.5 1 0 4.6 -5.9zM947.6 518.2a3.8 1.6 -43.2 1 0 5.5 -5.2a3.8 1.6 -43.2 1 0 -5.5 5.2zM968.9 412.8a4.2 1.4 -28.4 1 0 7.3 -4a4.2 1.4 -28.4 1 0 -7.3 4zM826.5 363.1a2.9 1.6 -88.5 1 0 .2 -5.8a2.9 1.6 -88.5 1 0 -.2 5.8zM538.8 687.5a4.4 1.5 117.2 1 0 -4 7.8a4.4 1.5 117.2 1 0 4 -7.8zM794.1 260.9a3.5 1.5 -45.4 1 0 4.9 -4.9a3.5 1.5 -45.4 1 0 -4.9 4.9zM395.2 548.8a2.7 1.1 131 1 0 -3.5 4a2.7 1.1 131 1 0 3.5 -4zM427.2 492.2a3.8 1.3 -135.4 1 0 -5.4 -5.3a3.8 1.3 -135.4 1 0 5.4 5.3zM556.6 735.1a4 1 119.9 1 0 -4 7a4 1 119.9 1 0 4 -7zM762.9 276.6a5.6 2.3 -44.2 1 0 8.1 -7.9a5.6 2.3 -44.2 1 0 -8.1 7.9zM565.4 341.7a5.8 2.3 -192.8 1 0 -11.3 2.6a5.8 2.3 -192.8 1 0 11.3 -2.6zM897.9 591.2a5.8 2.4 -42.4 1 0 8.6 -7.9a5.8 2.4 -42.4 1 0 -8.6 7.9zM464.4 281.2a6.6 2.5 -149.9 1 0 -11.3 -6.6a6.6 2.5 -149.9 1 0 11.3 6.6zM617 816.4a5.7 2.5 138.7 1 0 -8.5 7.5a5.7 2.5 138.7 1 0 8.5 -7.5zM845.6 299.9a5.9 2.5 -6.9 1 0 11.6 -1.4a5.9 2.5 -6.9 1 0 -11.6 1.4zM448.5 430.9a4.8 2.5 -211.2 1 0 -8.2 5a4.8 2.5 -211.2 1 0 8.2 -5zM859 620.5a4.1 2.3 48 1 0 5.5 6.1a4.1 2.3 48 1 0 -5.5 -6.1zM779.7 308.6a5.3 2 -20.5 1 0 9.8 -3.7a5.3 2 -20.5 1 0 -9.8 3.7zM544.1 626.7a6.3 2.5 107.3 1 0 -3.8 12.1a6.3 2.5 107.3 1 0 3.8 -12.1zM575.7 694.6a5.1 2.1 127.3 1 0 -6.1 8a5.1 2.1 127.3 1 0 6.1 -8zM504.8 290.5a6.3 2.1 -159.6 1 0 -11.8 -4.4a6.3 2.1 -159.6 1 0 11.8 4.4zM903.4 506.4a3.8 2.4 59.4 1 0 3.9 6.6a3.8 2.4 59.4 1 0 -3.9 -6.6zM545.5 658.6a3.9 2.3 114.5 1 0 -3.2 7a3.9 2.3 114.5 1 0 3.2 -7zM851.4 628.3a6.4 2.1 53.6 1 0 7.6 10.3a6.4 2.1 53.6 1 0 -7.6 -10.3zM933 553.1a6.3 2.1 79.6 1 0 2.3 12.3a6.3 2.1 79.6 1 0 -2.3 -12.3zM894.8 512.3a6.1 2.4 57.5 1 0 6.6 10.3a6.1 2.4 57.5 1 0 -6.6 -10.3zM932.4 405.2a6 2.3 50.2 1 0 7.7 9.2a6 2.3 50.2 1 0 -7.7 -9.2zM929.1 500.9a5.7 2.5 45.9 1 0 8 8.2a5.7 2.5 45.9 1 0 -8 -8.2zM590.6 312.3a4.8 2.3 -114.9 1 0 -4 -8.6a4.8 2.3 -114.9 1 0 4 8.6zM772 223.7a4.3 2 -35.1 1 0 7 -4.9a4.3 2 -35.1 1 0 -7 4.9zM780.5 695.2a6.3 2 74.1 1 0 3.4 12a6.3 2 74.1 1 0 -3.4 -12zM532.9 337.6a5.3 2.4 -151.8 1 0 -9.3 -5a5.3 2.4 -151.8 1 0 9.3 5zM811.9 307.1a5.1 2.2 -54.4 1 0 5.9 -8.3a5.1 2.2 -54.4 1 0 -5.9 8.3zM518.4 693.1a4.8 2.2 155.8 1 0 -8.7 3.9a4.8 2.2 155.8 1 0 8.7 -3.9zM911.5 451.5a5.3 2 -48.8 1 0 6.9 -7.9a5.3 2 -48.8 1 0 -6.9 7.9zM533.2 682.9a4 2.4 49.8 1 0 5.2 6.1a4 2.4 49.8 1 0 -5.2 -6.1zM723.8 300.9a4.5 2 -114.7 1 0 -3.8 -8.3a4.5 2 -114.7 1 0 3.8 8.3zM829.3 320.5a5.8 2.3 -84.8 1 0 1.1 -11.6a5.8 2.3 -84.8 1 0 -1.1 11.6zM789.7 687.2a4.5 2.3 64.1 1 0 4 8.2a4.5 2.3 64.1 1 0 -4 -8.2zM508.5 406.6a5 2.1 -153.1 1 0 -8.8 -4.5a5 2.1 -153.1 1 0 8.8 4.5zM434.7 604.7a4 2.4 216.7 1 0 -6.5 -4.8a4 2.4 216.7 1 0 6.5 4.8zM896.9 479.9a6 2.1 20.1 1 0 11.2 4.1a6 2.1 20.1 1 0 -11.2 -4.1zM802.4 283.3a5.5 2.5 -1.6 1 0 11.1 -.3a5.5 2.5 -1.6 1 0 -11.1 .3zM838.2 326.3a5.6 2 -81.5 1 0 1.7 -11.1a5.6 2 -81.5 1 0 -1.7 11.1zM822.7 314.5a5.5 2.2 -65.8 1 0 4.5 -10a5.5 2.2 -65.8 1 0 -4.5 10zM521.6 674.1a4.4 2.3 166.4 1 0 -8.6 2.1a4.4 2.3 166.4 1 0 8.6 -2.1zM851.6 748.9a4.5 2.5 53.8 1 0 5.4 7.3a4.5 2.5 53.8 1 0 -5.4 -7.3zM478.2 508.7a6 2.1 177.9 1 0 -12 .4a6 2.1 177.9 1 0 12 -.4zM897.7 744.8a4.9 2.5 38 1 0 7.7 6a4.9 2.5 38 1 0 -7.7 -6zM643.5 813.9a3.8 2.5 87 1 0 .4 7.6a3.8 2.5 87 1 0 -.4 -7.6zM684.6 251.9a5.5 2.3 -156 1 0 -10 -4.4a5.5 2.3 -156 1 0 10 4.4zM463.8 357.6a4.7 2.2 -174.2 1 0 -9.3 -1a4.7 2.2 -174.2 1 0 9.3 1zM670 697.4a4.9 2.2 5.9 1 0 9.7 1a4.9 2.2 5.9 1 0 -9.7 -1zM536.3 699.6a3.8 2.3 209.5 1 0 -6.6 -3.8a3.8 2.3 209.5 1 0 6.6 3.8zM770.9 247.2a6.3 2.2 -140.1 1 0 -9.7 -8.1a6.3 2.2 -140.1 1 0 9.7 8.1zM841.1 585.2a5.7 2.2 61.6 1 0 5.4 10a5.7 2.2 61.6 1 0 -5.4 -10zM727.6 279.6a5.7 2.3 -137.6 1 0 -8.4 -7.7a5.7 2.3 -137.6 1 0 8.4 7.7zM565.9 317a5.3 2.2 -154.7 1 0 -9.6 -4.5a5.3 2.2 -154.7 1 0 9.6 4.5zM834 326.5a4 2.1 -41.2 1 0 6.1 -5.3a4 2.1 -41.2 1 0 -6.1 5.3zM1002.8 449a3.7 2.1 19.8 1 0 6.9 2.5a3.7 2.1 19.8 1 0 -6.9 -2.5zM472.6 502a6 2.1 175.6 1 0 -12 .9a6 2.1 175.6 1 0 12 -.9zM810.5 280.8a4.5 2.2 -69.5 1 0 3.2 -8.5a4.5 2.2 -69.5 1 0 -3.2 8.5zM833.3 324.4a5.5 2.4 -56.3 1 0 6.1 -9.2a5.5 2.4 -56.3 1 0 -6.1 9.2zM806.5 358a4 2.5 -113.9 1 0 -3.3 -7.4a4 2.5 -113.9 1 0 3.3 7.4zM821.8 690.4a5.9 2.1 9.6 1 0 11.6 2a5.9 2.1 9.6 1 0 -11.6 -2zM832.9 286.8a4.5 2.4 -127.7 1 0 -5.5 -7.1a4.5 2.4 -127.7 1 0 5.5 7.1zM493.4 547.7a5.9 2.5 234.7 1 0 -6.8 -9.6a5.9 2.5 234.7 1 0 6.8 9.6zM528.9 524.5a3.9 2 186.6 1 0 -7.7 -.9a3.9 2 186.6 1 0 7.7 .9zM515.8 654.4a4.3 2.3 135.6 1 0 -6.1 6a4.3 2.3 135.6 1 0 6.1 -6zM936.3 476.7a4.6 2.4 6.7 1 0 9.1 1.1a4.6 2.4 6.7 1 0 -9.1 -1.1zM568.7 760.3a4.9 2.3 132.4 1 0 -6.6 7.2a4.9 2.3 132.4 1 0 6.6 -7.2zM459.1 380.6a3.6 2.1 -145.1 1 0 -5.9 -4.1a3.6 2.1 -145.1 1 0 5.9 4.1zM971 458.5a5.9 2.4 -8.4 1 0 11.6 -1.7a5.9 2.4 -8.4 1 0 -11.6 1.7zM893.4 319.2a5 2.5 -66.7 1 0 3.9 -9.1a5 2.5 -66.7 1 0 -3.9 9.1zM595.8 770.2a5.6 2.4 127.4 1 0 -6.8 8.8a5.6 2.4 127.4 1 0 6.8 -8.8zM819.9 297.9a4.8 2.4 -43.3 1 0 7 -6.6a4.8 2.4 -43.3 1 0 -7 6.6zM598.9 337.1a5.9 2.4 -136.3 1 0 -8.6 -8.2a5.9 2.4 -136.3 1 0 8.6 8.2zM772.1 268.7a5 2.1 -22.4 1 0 9.2 -3.8a5 2.1 -22.4 1 0 -9.2 3.8zM634.5 257.4a4.6 2.3 -100.7 1 0 -1.7 -9a4.6 2.3 -100.7 1 0 1.7 9zM494.8 662.6a6.3 2.4 171.4 1 0 -12.5 1.9a6.3 2.4 171.4 1 0 12.5 -1.9zM488.6 255.6a4.9 2.4 -194.5 1 0 -9.5 2.5a4.9 2.4 -194.5 1 0 9.5 -2.5zM777.2 317.4a5.9 2.5 -107.7 1 0 -3.6 -11.2a5.9 2.5 -107.7 1 0 3.6 11.2zM922.2 610.7a5.7 2.1 -22.3 1 0 10.5 -4.3a5.7 2.1 -22.3 1 0 -10.5 4.3zM521.2 685a6.3 2.4 188.5 1 0 -12.4 -1.9a6.3 2.4 188.5 1 0 12.4 1.9zM643.7 293.8a6.1 2.3 -104.6 1 0 -3.1 -11.9a6.1 2.3 -104.6 1 0 3.1 11.9zM920.3 438a4.5 2.1 4.5 1 0 9 .7a4.5 2.1 4.5 1 0 -9 -.7zM869.6 755.4a6.2 2.5 53.6 1 0 7.3 10a6.2 2.5 53.6 1 0 -7.3 -10zM950.2 393a4.8 2.1 -73.7 1 0 2.7 -9.3a4.8 2.1 -73.7 1 0 -2.7 9.3zM515.8 484.9a3.7 2.5 -166.3 1 0 -7.1 -1.7a3.7 2.5 -166.3 1 0 7.1 1.7zM892.6 678.5a6.4 2.3 19.8 1 0 12 4.3a6.4 2.3 19.8 1 0 -12 -4.3zM782.1 706.9a5 2.4 21 1 0 9.4 3.6a5 2.4 21 1 0 -9.4 -3.6zM456.9 556.2a4.9 2.1 158.8 1 0 -9.2 3.5a4.9 2.1 158.8 1 0 9.2 -3.5zM910.8 576.8a5.4 2.1 105.6 1 0 -2.9 10.4a5.4 2.1 105.6 1 0 2.9 -10.4zM919.5 525.7a4.9 2 -17.6 1 0 9.4 -3a4.9 2 -17.6 1 0 -9.4 3zM496.8 527.3a5.9 2 242.6 1 0 -5.4 -10.5a5.9 2 242.6 1 0 5.4 10.5zM531.7 624.9a4.1 2.3 105.2 1 0 -2.2 8a4.1 2.3 105.2 1 0 2.2 -8zM942.9 555.5a4.9 2.5 -16.6 1 0 9.4 -2.8a4.9 2.5 -16.6 1 0 -9.4 2.8zM841 352.7a4.1 2.1 -51.1 1 0 5.1 -6.4a4.1 2.1 -51.1 1 0 -5.1 6.4zM747.4 312.5a4.8 2.5 -38.2 1 0 7.6 -5.9a4.8 2.5 -38.2 1 0 -7.6 5.9zM906.5 735.6a4.5 2 44.4 1 0 6.4 6.2a4.5 2 44.4 1 0 -6.4 -6.2zM942.1 435.9a5.6 2.5 -76.6 1 0 2.6 -10.9a5.6 2.5 -76.6 1 0 -2.6 10.9zM567.5 653.2a4.5 2.2 112.4 1 0 -3.4 8.2a4.5 2.2 112.4 1 0 3.4 -8.2zM923.3 521.7a4.6 2.2 -.3 1 0 9.2 -.1a4.6 2.2 -.3 1 0 -9.2 .1zM571.9 738.1a3.8 2.2 200.9 1 0 -7.1 -2.7a3.8 2.2 200.9 1 0 7.1 2.7zM909.9 650.9a3.7 2.3 -22.3 1 0 6.9 -2.8a3.7 2.3 -22.3 1 0 -6.9 2.8zM953 539.3a4.3 2.2 -33.5 1 0 7.2 -4.8a4.3 2.2 -33.5 1 0 -7.2 4.8zM986.1 398.6a6.5 2.2 -23.5 1 0 12 -5.2a6.5 2.2 -23.5 1 0 -12 5.2zM960.1 513.8a5.3 2.1 43.8 1 0 7.6 7.3a5.3 2.1 43.8 1 0 -7.6 -7.3zM870.8 398.6a4.1 2.2 -68 1 0 3.1 -7.6a4.1 2.2 -68 1 0 -3.1 7.6zM683.6 269.1a4.1 2.5 -94.9 1 0 -.7 -8.2a4.1 2.5 -94.9 1 0 .7 8.2zM924.5 644.4a5.3 2.2 4 1 0 10.6 .7a5.3 2.2 4 1 0 -10.6 -.7zM599.1 264.7a5.3 2.2 -156.1 1 0 -9.7 -4.3a5.3 2.2 -156.1 1 0 9.7 4.3zM978.1 475.3a5.8 2.5 -73.4 1 0 3.3 -11.1a5.8 2.5 -73.4 1 0 -3.3 11.1zM931.3 508.9a4.7 2.4 -61.4 1 0 4.5 -8.2a4.7 2.4 -61.4 1 0 -4.5 8.2zM431.8 575.3a6 2.1 168.7 1 0 -11.7 2.3a6 2.1 168.7 1 0 11.7 -2.3zM955.3 540.4a6.4 2.3 -68.9 1 0 4.6 -11.9a6.4 2.3 -68.9 1 0 -4.6 11.9zM823.9 703.9a5.5 2.3 54.1 1 0 6.4 8.9a5.5 2.3 54.1 1 0 -6.4 -8.9zM668 714.3a5.9 2.3 148.1 1 0 -10.1 6.3a5.9 2.3 148.1 1 0 10.1 -6.3zM901.7 669.4a4.8 2.2 37.6 1 0 7.6 5.8a4.8 2.2 37.6 1 0 -7.6 -5.8zM924 514.7a6.4 2.2 -32.4 1 0 10.8 -6.8a6.4 2.2 -32.4 1 0 -10.8 6.8zM781.4 260.7a3.7 2.2 -100.9 1 0 -1.4 -7.3a3.7 2.2 -100.9 1 0 1.4 7.3zM594.1 745a5.6 2.3 76.6 1 0 2.6 10.9a5.6 2.3 76.6 1 0 -2.6 -10.9zM879.7 700.1a3.7 2.5 2.1 1 0 7.4 .3a3.7 2.5 2.1 1 0 -7.4 -.3zM568.1 577.5a6.2 2.2 134.5 1 0 -8.7 8.9a6.2 2.2 134.5 1 0 8.7 -8.9zM703.2 257.3a3.9 2.1 -118.2 1 0 -3.7 -6.8a3.9 2.1 -118.2 1 0 3.7 6.8zM766.7 298a6.1 2.1 -19.2 1 0 11.5 -4a6.1 2.1 -19.2 1 0 -11.5 4zM848.1 318.8a3.7 2.1 -67.7 1 0 2.8 -6.9a3.7 2.1 -67.7 1 0 -2.8 6.9zM839.4 371.1a4.3 2.4 -27 1 0 7.7 -3.9a4.3 2.4 -27 1 0 -7.7 3.9zM831.4 308.9a4.4 2.2 -43.7 1 0 6.4 -6.1a4.4 2.2 -43.7 1 0 -6.4 6.1zM474.7 459.7a4.1 2.3 -163 1 0 -7.9 -2.4a4.1 2.3 -163 1 0 7.9 2.4zM638.4 256a6.6 2.4 -100.4 1 0 -2.4 -13a6.6 2.4 -100.4 1 0 2.4 13zM905.6 540.6a4.9 2.3 20.5 1 0 9.2 3.4a4.9 2.3 20.5 1 0 -9.2 -3.4zM696.6 304.5a4.5 2.1 -78.3 1 0 1.8 -8.8a4.5 2.1 -78.3 1 0 -1.8 8.8zM510.6 698.4a7.6 3.3 195.2 1 0 -14.7 -4a7.6 3.3 195.2 1 0 14.7 4zM570.3 733.9a6.8 3.5 133.1 1 0 -9.3 10a6.8 3.5 133.1 1 0 9.3 -10zM543 677a7.1 3.2 202.9 1 0 -13.2 -5.6a7.1 3.2 202.9 1 0 13.2 5.6zM751 243.6a9.4 3.6 -74.7 1 0 4.9 -18.1a9.4 3.6 -74.7 1 0 -4.9 18.1zM755.4 240.4a7.2 3.6 45 1 0 10.2 10.2a7.2 3.6 45 1 0 -10.2 -10.2zM762.6 212.6a9.1 3.6 68.2 1 0 6.7 16.9a9.1 3.6 68.2 1 0 -6.7 -16.9zM777.2 235.4a7.6 3.6 -39.8 1 0 11.7 -9.7a7.6 3.6 -39.8 1 0 -11.7 9.7zM811.8 227.5a10 3.6 -71.6 1 0 6.3 -19a10 3.6 -71.6 1 0 -6.3 19zM839.6 232.3a8.7 3.6 84.3 1 0 1.7 17.4a8.7 3.6 84.3 1 0 -1.7 -17.4zM801 253.3a9.4 4.9 77.5 1 0 4.1 18.4a9.4 4.9 77.5 1 0 -4.1 -18.4zM803.9 302.9a7.3 3.6 56.3 1 0 8.1 12.2a7.3 3.6 56.3 1 0 -8.1 -12.2zM766.4 262.9a5.1 2.3 53.1 1 0 6.1 8.2a5.1 2.3 53.1 1 0 -6.1 -8.2zM776.6 255.6a6.4 3.6 68.2 1 0 4.7 11.9a6.4 3.6 68.2 1 0 -4.7 -11.9zM891.8 308.6a6.2 2.3 33.7 1 0 10.3 6.9a6.2 2.3 33.7 1 0 -10.3 -6.9zM923.6 315.4a10 4.9 73.3 1 0 5.8 19.2a10 4.9 73.3 1 0 -5.8 -19.2zM912.3 357.4a12.1 6 -14 1 0 23.4 -5.9a12.1 6 -14 1 0 -23.4 5.9zM911.9 380a8.8 6 -31 1 0 15.1 -9.1a8.8 6 -31 1 0 -15.1 9.1zM899.8 372.8a7.7 3.6 -29.7 1 0 13.4 -7.7a7.7 3.6 -29.7 1 0 -13.4 7.7zM910.9 346.5a8.9 3.6 73.3 1 0 5.1 17.1a8.9 3.6 73.3 1 0 -5.1 -17.1zM847.7 264.2a7.1 2.3 -26.6 1 0 12.7 -6.3a7.1 2.3 -26.6 1 0 -12.7 6.3zM836.2 277.8a5.4 2.3 -45 1 0 7.7 -7.7a5.4 2.3 -45 1 0 -7.7 7.7zM864.8 264.7a5.5 2.3 31 1 0 9.5 5.7a5.5 2.3 31 1 0 -9.5 -5.7zM866.6 230.2a6.2 2.3 -56.3 1 0 6.9 -10.3a6.2 2.3 -56.3 1 0 -6.9 10.3zM733.3 203.5a7.8 2.3 73.3 1 0 4.5 15a7.8 2.3 73.3 1 0 -4.5 -15zM761.8 199.7a4.8 2.3 63.4 1 0 4.3 8.7a4.8 2.3 63.4 1 0 -4.3 -8.7zM745.7 279.2a4.8 2.3 -26.6 1 0 8.7 -4.3a4.8 2.3 -26.6 1 0 -8.7 4.3zM720.8 277.7a4.8 2.3 63.4 1 0 4.3 8.7a4.8 2.3 63.4 1 0 -4.3 -8.7zM789.8 309.7a7.1 2.3 63.4 1 0 6.3 12.7a7.1 2.3 63.4 1 0 -6.3 -12.7zM794.4 305.9a5.1 2.3 53.1 1 0 6.1 8.2a5.1 2.3 53.1 1 0 -6.1 -8.2zM857.7 389.9a6.9 3.6 -51.3 1 0 8.6 -10.8a6.9 3.6 -51.3 1 0 -8.6 10.8zM961.9 309.4a5.1 2.3 36.9 1 0 8.2 6.1a5.1 2.3 36.9 1 0 -8.2 -6.1zM900.6 341.9a5.1 2.3 126.9 1 0 -6.1 8.2a5.1 2.3 126.9 1 0 6.1 -8.2zM790.8 235.4a8.3 3.6 102.5 1 0 -3.6 16.2a8.3 3.6 102.5 1 0 3.6 -16.2zM798 231.4a7.3 3.6 74.1 1 0 4 14.1a7.3 3.6 74.1 1 0 -4 -14.1zM745.2 227.5a5.8 2.3 71.6 1 0 3.6 10.9a5.8 2.3 71.6 1 0 -3.6 -10.9zM893.9 251.6a5.1 2.3 -36.9 1 0 8.2 -6.1a5.1 2.3 -36.9 1 0 -8.2 6.1zM870.8 283.7a7.1 2.3 63.4 1 0 6.3 12.7a7.1 2.3 63.4 1 0 -6.3 -12.7zM897.5 317.5a5.1 2.3 11.3 1 0 10.1 2a5.1 2.3 11.3 1 0 -10.1 -2zM918.8 344.3a4.8 2.3 -63.4 1 0 4.3 -8.7a4.8 2.3 -63.4 1 0 -4.3 8.7zM906.2 363.8a5.4 2.3 -45 1 0 7.7 -7.7a5.4 2.3 -45 1 0 -7.7 7.7zM912.1 381.3a9.5 6 -33.7 1 0 15.8 -10.5a9.5 6 -33.7 1 0 -15.8 10.5zM922.4 395.6a6.1 2.3 8.1 1 0 12.1 1.7a6.1 2.3 8.1 1 0 -12.1 -1.7zM913.5 445.4a4.7 2.3 14 1 0 9 2.3a4.7 2.3 14 1 0 -9 -2.3zM911.4 453.4a6.7 3.6 9.5 1 0 13.3 2.2a6.7 3.6 9.5 1 0 -13.3 -2.2zM905.4 466.3a8.8 3.6 11.3 1 0 17.3 3.5a8.8 3.6 11.3 1 0 -17.3 -3.5zM926.3 481.4a8.7 3.6 -5.7 1 0 17.4 -1.7a8.7 3.6 -5.7 1 0 -17.4 1.7zM858.3 490.6a8.7 3.6 5.7 1 0 17.4 1.7a8.7 3.6 5.7 1 0 -17.4 -1.7zM871.4 486a4.6 2.3 -8.5 1 0 9.1 -1.4a4.6 2.3 -8.5 1 0 -9.1 1.4zM883.4 495a6.1 2.3 0 1 0 12.2 0a6.1 2.3 0 1 0 -12.2 -0zM895.5 505.5a7.7 2.3 11.3 1 0 15.1 3a7.7 2.3 11.3 1 0 -15.1 -3zM906.4 496a5.6 2.3 0 1 0 11.2 0a5.6 2.3 0 1 0 -11.2 -0zM920.4 495a5.6 2.3 0 1 0 11.2 0a5.6 2.3 0 1 0 -11.2 -0zM885.4 515.7a6.6 2.3 7.1 1 0 13.2 1.6a6.6 2.3 7.1 1 0 -13.2 -1.6zM879.4 523.6a6.1 2.3 8.1 1 0 12.1 1.7a6.1 2.3 8.1 1 0 -12.1 -1.7zM885.5 543.5a7.7 2.3 11.3 1 0 15.1 3a7.7 2.3 11.3 1 0 -15.1 -3zM854 391.2a6.2 3.6 -36.9 1 0 9.9 -7.4a6.2 3.6 -36.9 1 0 -9.9 7.4zM864.8 396.4a4.4 2.3 -33.7 1 0 7.3 -4.9a4.4 2.3 -33.7 1 0 -7.3 4.9zM965.5 392.5a7.7 2.3 -11.3 1 0 15.1 -3a7.7 2.3 -11.3 1 0 -15.1 3zM901.5 372.6a6.7 2.3 -14 1 0 13 -3.3a6.7 2.3 -14 1 0 -13 3.3zM957.4 518.6a5.6 2.3 9.5 1 0 11.1 1.9a5.6 2.3 9.5 1 0 -11.1 -1.9zM954.4 525a4.1 2.3 0 1 0 8.2 0a4.1 2.3 0 1 0 -8.2 -0zM982.4 535a6.1 2.3 0 1 0 12.2 0a6.1 2.3 0 1 0 -12.2 -0zM976.5 502.6a4.7 2.3 -14 1 0 9 -2.3a4.7 2.3 -14 1 0 -9 2.3zM947.5 482.8a4.5 1.1 9.5 1 0 9 1.5a4.5 1.1 9.5 1 0 -9 -1.5zM932.5 456.2a4.5 1.1 -9.5 1 0 9 -1.5a4.5 1.1 -9.5 1 0 -9 1.5zM920.5 473.8a5.5 1.1 7.1 1 0 11 1.4a5.5 1.1 7.1 1 0 -11 -1.4zM894.8 561.6a4.4 2.3 33.7 1 0 7.3 4.9a4.4 2.3 33.7 1 0 -7.3 -4.9zM940.8 557.7a5.5 2.3 31 1 0 9.5 5.7a5.5 2.3 31 1 0 -9.5 -5.7zM960.4 567.6a6.1 2.3 8.1 1 0 12.1 1.7a6.1 2.3 8.1 1 0 -12.1 -1.7zM698.9 698.5a8.9 3.6 73.3 1 0 5.1 17.1a8.9 3.6 73.3 1 0 -5.1 -17.1zM690.6 717.4a6.5 3.6 135 1 0 -9.2 9.2a6.5 3.6 135 1 0 9.2 -9.2zM702.6 678.6a10.2 3.6 67.4 1 0 7.8 18.8a10.2 3.6 67.4 1 0 -7.8 -18.8zM715.9 702.4a9.9 3.6 104 1 0 -4.8 19.2a9.9 3.6 104 1 0 4.8 -19.2zM608.6 679.3a8.2 3.6 83.7 1 0 1.8 16.4a8.2 3.6 83.7 1 0 -1.8 -16.4zM619.5 683.5a7.7 2.3 78.7 1 0 3 15.1a7.7 2.3 78.7 1 0 -3 -15.1zM748.6 653.2a9 3.6 48.8 1 0 11.9 13.6a9 3.6 48.8 1 0 -11.9 -13.6zM738.9 670.5a8.9 3.6 73.3 1 0 5.1 17.1a8.9 3.6 73.3 1 0 -5.1 -17.1zM816.9 668.5a8.9 3.6 73.3 1 0 5.1 17.1a8.9 3.6 73.3 1 0 -5.1 -17.1zM825.9 666.4a7.6 2.3 36.9 1 0 12.2 9.1a7.6 2.3 36.9 1 0 -12.2 -9.1zM791.3 675.5a7.8 2.3 73.3 1 0 4.5 15a7.8 2.3 73.3 1 0 -4.5 -15zM796.4 663a5.8 2.3 51.3 1 0 7.2 9.1a5.8 2.3 51.3 1 0 -7.2 -9.1zM812 696.8a6.2 3.6 36.9 1 0 9.9 7.4a6.2 3.6 36.9 1 0 -9.9 -7.4zM763.4 705.5a6.7 2.3 76 1 0 3.3 13a6.7 2.3 76 1 0 -3.3 -13zM769.6 733.4a5.6 2.3 80.5 1 0 1.9 11.1a5.6 2.3 80.5 1 0 -1.9 -11.1zM773.4 725.5a4.7 2.3 76 1 0 2.3 9a4.7 2.3 76 1 0 -2.3 -9zM829.6 726.2a7.6 3.6 50.2 1 0 9.7 11.7a7.6 3.6 50.2 1 0 -9.7 -11.7zM852.3 744.7a8.2 3.6 63.4 1 0 7.3 14.6a8.2 3.6 63.4 1 0 -7.3 -14.6zM806.2 726.2a5.4 2.3 45 1 0 7.7 7.7a5.4 2.3 45 1 0 -7.7 -7.7zM823.7 754.8a7.1 2.3 26.6 1 0 12.7 6.3a7.1 2.3 26.6 1 0 -12.7 -6.3zM845.8 784.6a6.2 2.3 33.7 1 0 10.3 6.9a6.2 2.3 33.7 1 0 -10.3 -6.9zM622.8 781.7a6 2.3 63.4 1 0 5.3 10.7a6 2.3 63.4 1 0 -5.3 -10.7zM672.4 741.5a4.7 2.3 76 1 0 2.3 9a4.7 2.3 76 1 0 -2.3 -9zM651.6 749.4a5.6 2.3 80.5 1 0 1.9 11.1a5.6 2.3 80.5 1 0 -1.9 -11.1zM667.2 717.5a5.8 2.3 71.6 1 0 3.6 10.9a5.8 2.3 71.6 1 0 -3.6 -10.9zM786.6 757.8a7.3 2.3 58 1 0 7.8 12.4a7.3 2.3 58 1 0 -7.8 -12.4zM800.8 755.7a4.8 2.3 63.4 1 0 4.3 8.7a4.8 2.3 63.4 1 0 -4.3 -8.7zM844.6 697.8a6.2 2.3 56.3 1 0 6.9 10.3a6.2 2.3 56.3 1 0 -6.9 -10.3zM834.6 701.8a6.2 2.3 56.3 1 0 6.9 10.3a6.2 2.3 56.3 1 0 -6.9 -10.3zM857.4 663.6a5.6 2.3 9.5 1 0 11.1 1.9a5.6 2.3 9.5 1 0 -11.1 -1.9zM840.4 643.9a5.1 2.3 53.1 1 0 6.1 8.2a5.1 2.3 53.1 1 0 -6.1 -8.2zM726.8 753.7a4.8 2.3 63.4 1 0 4.3 8.7a4.8 2.3 63.4 1 0 -4.3 -8.7zM642.5 735.5a5.1 2.3 78.7 1 0 2 10.1a5.1 2.3 78.7 1 0 -2 -10.1zM693.3 690.7a6 1.1 63.4 1 0 5.3 10.7a6 1.1 63.4 1 0 -5.3 -10.7zM782.2 691.5a5.8 2.3 71.6 1 0 3.6 10.9a5.8 2.3 71.6 1 0 -3.6 -10.9zM503.3 447.9a8.4 4.9 -11.3 1 0 16.4 -3.3a8.4 4.9 -11.3 1 0 -16.4 3.3zM517.8 350.7a6 2.3 63.4 1 0 5.3 10.7a6 2.3 63.4 1 0 -5.3 -10.7zM552.8 306.6a4.4 2.3 33.7 1 0 7.3 4.9a4.4 2.3 33.7 1 0 -7.3 -4.9zM558.2 325.2a4 2.3 45 1 0 5.7 5.7a4 2.3 45 1 0 -5.7 -5.7zM527.9 346.4a5.1 2.3 36.9 1 0 8.2 6.1a5.1 2.3 36.9 1 0 -8.2 -6.1zM482.7 267.8a4.8 2.3 26.6 1 0 8.7 4.3a4.8 2.3 26.6 1 0 -8.7 -4.3zM518.4 274.5a6.7 2.3 76 1 0 3.3 13a6.7 2.3 76 1 0 -3.3 -13zM556.8 266a8.7 3.6 53.1 1 0 10.4 13.9a8.7 3.6 53.1 1 0 -10.4 -13.9zM569.3 271.7a8.2 3.6 63.4 1 0 7.3 14.6a8.2 3.6 63.4 1 0 -7.3 -14.6zM599.3 273.7a8.2 3.6 63.4 1 0 7.3 14.6a8.2 3.6 63.4 1 0 -7.3 -14.6zM550.9 281.4a5.1 2.3 36.9 1 0 8.2 6.1a5.1 2.3 36.9 1 0 -8.2 -6.1zM477 295.3a6.5 2.3 39.8 1 0 10 8.3a6.5 2.3 39.8 1 0 -10 -8.3zM492.8 308.7a6 2.3 63.4 1 0 5.3 10.7a6 2.3 63.4 1 0 -5.3 -10.7zM597.8 294.7a6 2.3 63.4 1 0 5.3 10.7a6 2.3 63.4 1 0 -5.3 -10.7zM446.5 460.6a6.7 2.3 -14 1 0 13 -3.3a6.7 2.3 -14 1 0 -13 3.3zM472.9 393.4a7.6 2.3 36.9 1 0 12.2 9.1a7.6 2.3 36.9 1 0 -12.2 -9.1zM579.3 415.7a4.8 3.6 63.4 1 0 4.3 8.6a4.8 3.6 63.4 1 0 -4.3 -8.6zM562.3 403.5a5.8 3.6 45 1 0 8.2 8.2a5.8 3.6 45 1 0 -8.2 -8.2zM534.4 401.3a4.7 2.3 45 1 0 6.7 6.7a4.7 2.3 45 1 0 -6.7 -6.7zM538.5 421.5a5.1 2.3 26.6 1 0 9.2 4.6a5.1 2.3 26.6 1 0 -9.2 -4.6zM490.3 412.5a4.3 2.3 26.6 1 0 7.7 3.8a4.3 2.3 26.6 1 0 -7.7 -3.8zM570 444.3a6.7 2.3 21.8 1 0 12.4 4.9a6.7 2.3 21.8 1 0 -12.4 -4.9zM446.5 458.4a7.9 2.3 8.1 1 0 15.7 2.2a7.9 2.3 8.1 1 0 -15.7 -2.2zM526.2 483.9a4.9 2.3 9.5 1 0 9.6 1.6a4.9 2.3 9.5 1 0 -9.6 -1.6zM547.7 500.2a7.5 3.6 11.3 1 0 14.8 3a7.5 3.6 11.3 1 0 -14.8 -3zM556.3 503.6a5.6 2.3 7.1 1 0 11.2 1.4a5.6 2.3 7.1 1 0 -11.2 -1.4zM578.8 484.9a7.1 2.3 4.8 1 0 14.2 1.2a7.1 2.3 4.8 1 0 -14.2 -1.2zM586.4 492.7a5.7 2.3 14 1 0 11.1 2.8a5.7 2.3 14 1 0 -11.1 -2.8zM505.1 509.4a6.4 2.3 -5.7 1 0 12.7 -1.3a6.4 2.3 -5.7 1 0 -12.7 1.3zM533.7 515.5a5.6 2.3 -7.1 1 0 11.2 -1.4a5.6 2.3 -7.1 1 0 -11.2 1.4zM547.3 477.1a4.9 2.3 9.5 1 0 9.6 1.6a4.9 2.3 9.5 1 0 -9.6 -1.6zM590.1 400.5a3.7 2.3 45 1 0 5.2 5.2a3.7 2.3 45 1 0 -5.2 -5.2zM577.3 415.5a5.3 3.6 45 1 0 7.5 7.5a5.3 3.6 45 1 0 -7.5 -7.5zM585.6 444.9a4.8 3.6 45 1 0 6.7 6.7a4.8 3.6 45 1 0 -6.7 -6.7zM546.9 384.4a5.3 2.3 56.3 1 0 5.9 8.8a5.3 2.3 56.3 1 0 -5.9 -8.8zM522.1 395.6a5.3 2.3 33.7 1 0 8.8 5.9a5.3 2.3 33.7 1 0 -8.8 -5.9zM927.6 572.1a6.9 2.3 20.6 1 0 12.9 4.8a6.9 2.3 20.6 1 0 -12.9 -4.8zM919.5 583.4a6.7 2.3 14 1 0 13 3.3a6.7 2.3 14 1 0 -13 -3.3zM919.8 601.2a8.8 3.6 29.1 1 0 15.5 8.6a8.8 3.6 29.1 1 0 -15.5 -8.6zM842.3 584.5a7.7 3.6 7.1 1 0 15.3 1.9a7.7 3.6 7.1 1 0 -15.3 -1.9zM831.7 578.8a4.8 2.3 26.6 1 0 8.7 4.3a4.8 2.3 26.6 1 0 -8.7 -4.3zM877.5 596.3a7.8 2.3 16.7 1 0 15 4.5a7.8 2.3 16.7 1 0 -15 -4.5zM885.9 610.4a5.1 2.3 36.9 1 0 8.2 6.1a5.1 2.3 36.9 1 0 -8.2 -6.1zM976.3 634.6a8.7 3.6 5.7 1 0 17.4 1.7a8.7 3.6 5.7 1 0 -17.4 -1.7zM987.4 625.7a7.6 2.3 5.7 1 0 15.2 1.5a7.6 2.3 5.7 1 0 -15.2 -1.5zM1013.6 623a8 2.3 21.8 1 0 14.8 5.9a8 2.3 21.8 1 0 -14.8 -5.9zM979.5 610.4a4.7 2.3 14 1 0 9 2.3a4.7 2.3 14 1 0 -9 -2.3zM882.9 626.9a7.3 3.6 33.7 1 0 12.2 8.1a7.3 3.6 33.7 1 0 -12.2 -8.1zM867.5 648.8a6.9 3.6 18.4 1 0 13 4.3a6.9 3.6 18.4 1 0 -13 -4.3zM984.7 593.8a3.7 2.3 26.6 1 0 6.7 3.3a3.7 2.3 26.6 1 0 -6.7 -3.3zM905.7 627.8a4.8 2.3 26.6 1 0 8.7 4.3a4.8 2.3 26.6 1 0 -8.7 -4.3zM1017.5 572.2a4.2 2.3 18.4 1 0 7.9 2.6a4.2 2.3 18.4 1 0 -7.9 -2.6zM813.7 588.8a4.8 2.3 26.6 1 0 8.7 4.3a4.8 2.3 26.6 1 0 -8.7 -4.3zM963.5 570.4a4.7 2.3 14 1 0 9 2.3a4.7 2.3 14 1 0 -9 -2.3zM642.4 175.5a4.7 2.3 76 1 0 2.3 9a4.7 2.3 76 1 0 -2.3 -9zM665.5 201.5a5.1 2.3 78.7 1 0 2 10.1a5.1 2.3 78.7 1 0 -2 -10.1zM682.7 207.4a7.6 2.3 84.3 1 0 1.5 15.2a7.6 2.3 84.3 1 0 -1.5 -15.2zM701.2 215.5a5.8 2.3 71.6 1 0 3.6 10.9a5.8 2.3 71.6 1 0 -3.6 -10.9zM574.3 252.5a6.2 2.3 74.1 1 0 3.4 12a6.2 2.3 74.1 1 0 -3.4 -12zM645.6 245.1a6.9 2.3 20.6 1 0 12.9 4.8a6.9 2.3 20.6 1 0 -12.9 -4.8zM640.5 251.5a7.7 2.3 78.7 1 0 3 15.1a7.7 2.3 78.7 1 0 -3 -15.1zM672.7 242.7a7.7 2.3 60.9 1 0 7.5 13.5a7.7 2.3 60.9 1 0 -7.5 -13.5zM688.8 256.4a8.1 2.3 84.8 1 0 1.5 16.2a8.1 2.3 84.8 1 0 -1.5 -16.2zM707.2 265.3a9.9 4.9 80.9 1 0 3.1 19.5a9.9 4.9 80.9 1 0 -3.1 -19.5zM615.4 321.5a6.7 2.3 76 1 0 3.3 13a6.7 2.3 76 1 0 -3.3 -13zM618.4 330a9 2.3 51.3 1 0 11.2 14.1a9 2.3 51.3 1 0 -11.2 -14.1zM677.7 269.4a7.6 2.3 84.3 1 0 1.5 15.2a7.6 2.3 84.3 1 0 -1.5 -15.2zM699 260.6a5.3 2.3 68.2 1 0 3.9 9.8a5.3 2.3 68.2 1 0 -3.9 -9.8zM663.2 323.5a4.2 2.3 71.6 1 0 2.6 7.9a4.2 2.3 71.6 1 0 -2.6 -7.9zM425.4 474.6a5.6 2.3 9.5 1 0 11.1 1.9a5.6 2.3 9.5 1 0 -11.1 -1.9zM412.5 487.2a4.2 2.3 18.4 1 0 7.9 2.6a4.2 2.3 18.4 1 0 -7.9 -2.6zM414.5 507.9a4.2 2.3 14.9 1 0 8 2.1a4.2 2.3 14.9 1 0 -8 -2.1zM421.4 555.8a10.1 2.3 3.8 1 0 20.2 1.3a10.1 2.3 3.8 1 0 -20.2 -1.3zM432.5 528.4a4.7 2.3 14 1 0 9 2.3a4.7 2.3 14 1 0 -9 -2.3zM417.5 524.5a3.6 2.3 11.3 1 0 7.1 1.4a3.6 2.3 11.3 1 0 -7.1 -1.4zM441.6 542.5a5.8 1.1 -20.6 1 0 10.8 -4.1a5.8 1.1 -20.6 1 0 -10.8 4.1zM523.4 541a5.8 2.3 -51.3 1 0 7.2 -9.1a5.8 2.3 -51.3 1 0 -7.2 9.1zM518.4 554.3a7.6 2.3 -5.7 1 0 15.2 -1.5a7.6 2.3 -5.7 1 0 -15.2 1.5zM514.5 582.6a6.7 2.3 -14 1 0 13 -3.3a6.7 2.3 -14 1 0 -13 3.3zM508.5 598.6a6.7 2.3 -14 1 0 13 -3.3a6.7 2.3 -14 1 0 -13 3.3zM488.5 572.6a4.7 2.3 -14 1 0 9 -2.3a4.7 2.3 -14 1 0 -9 2.3zM540.5 609.6a6.7 2.3 -14 1 0 13 -3.3a6.7 2.3 -14 1 0 -13 3.3zM558.8 604.4a6.2 2.3 -33.7 1 0 10.3 -6.9a6.2 2.3 -33.7 1 0 -10.3 6.9zM552.5 629.6a6.7 2.3 -14 1 0 13 -3.3a6.7 2.3 -14 1 0 -13 3.3zM554.5 639.4a4.7 2.3 14 1 0 9 2.3a4.7 2.3 14 1 0 -9 -2.3zM583.5 640.9a6.9 2.3 54.5 1 0 8 11.2a6.9 2.3 54.5 1 0 -8 -11.2zM540.7 645.8a4.8 2.3 26.6 1 0 8.7 4.3a4.8 2.3 26.6 1 0 -8.7 -4.3zM426.4 643.3a6.6 2.3 -7.1 1 0 13.2 -1.6a6.6 2.3 -7.1 1 0 -13.2 1.6zM591.8 612.7a4.8 2.3 63.4 1 0 4.3 8.7a4.8 2.3 63.4 1 0 -4.3 -8.7zM595.2 603.2a4 2.3 45 1 0 5.7 5.7a4 2.3 45 1 0 -5.7 -5.7zM457.5 570.4a5.6 1.1 -14 1 0 10.9 -2.7a5.6 1.1 -14 1 0 -10.9 2.7z"/>
<path fill="#b2c4e2" d="M854.5 614.7a5.6 1.6 69 1 0 4 10.4a5.6 1.6 69 1 0 -4 -10.4zM476.5 603a3.1 1.1 82 1 0 .9 6.2a3.1 1.1 82 1 0 -.9 -6.2zM915.1 467.3a4.5 1.3 -18.8 1 0 8.5 -2.9a4.5 1.3 -18.8 1 0 -8.5 2.9zM455.4 650.9a6.2 1.6 142.7 1 0 -9.9 7.6a6.2 1.6 142.7 1 0 9.9 -7.6zM465.3 365.3a3.5 1.4 -141.1 1 0 -5.4 -4.4a3.5 1.4 -141.1 1 0 5.4 4.4zM676.6 730a6 1 130.2 1 0 -7.7 9.1a6 1 130.2 1 0 7.7 -9.1zM568.3 658.5a6.1 1.1 126.5 1 0 -7.2 9.8a6.1 1.1 126.5 1 0 7.2 -9.8zM522.7 751.3a5.4 1.3 80.9 1 0 1.7 10.6a5.4 1.3 80.9 1 0 -1.7 -10.6zM885.9 264.9a4.1 1.1 -70.4 1 0 2.7 -7.6a4.1 1.1 -70.4 1 0 -2.7 7.6zM431.9 468.5a6.2 1.4 -150.1 1 0 -10.8 -6.2a6.2 1.4 -150.1 1 0 10.8 6.2zM983.3 439a2.5 1.5 33.4 1 0 4.2 2.8a2.5 1.5 33.4 1 0 -4.2 -2.8zM566.6 303.2a3 1.5 -182.1 1 0 -6 .2a3 1.5 -182.1 1 0 6 -.2zM437.1 500.3a3.2 1.6 -177.6 1 0 -6.3 -.3a3.2 1.6 -177.6 1 0 6.3 .3zM967.5 445.1a5.4 1 23.9 1 0 9.8 4.3a5.4 1 23.9 1 0 -9.8 -4.3zM584.6 608.9a3.5 1.5 181.7 1 0 -7 -.2a3.5 1.5 181.7 1 0 7 .2zM579.1 267.3a2.9 1.5 -124.9 1 0 -3.3 -4.8a2.9 1.5 -124.9 1 0 3.3 4.8zM714.1 763.3a5.3 1.1 70.7 1 0 3.5 10.1a5.3 1.1 70.7 1 0 -3.5 -10.1zM752.3 241.5a4.8 1.2 -2.8 1 0 9.6 -.5a4.8 1.2 -2.8 1 0 -9.6 .5zM861.8 304.8a6 1 -12.6 1 0 11.7 -2.6a6 1 -12.6 1 0 -11.7 2.6zM743.2 270.9a6 1 -78.3 1 0 2.4 -11.8a6 1 -78.3 1 0 -2.4 11.8zM740.3 688.4a5.9 1.1 57.7 1 0 6.3 10a5.9 1.1 57.7 1 0 -6.3 -10zM641.3 261.7a3.6 1.1 -129.9 1 0 -4.7 -5.6a3.6 1.1 -129.9 1 0 4.7 5.6zM825.9 231a5.2 1.3 -86.6 1 0 .6 -10.4a5.2 1.3 -86.6 1 0 -.6 10.4zM740.6 812.1a3 1.4 145.4 1 0 -4.9 3.4a3 1.4 145.4 1 0 4.9 -3.4zM1006.7 373.3a6.2 1.6 -4.3 1 0 12.3 -.9a6.2 1.6 -4.3 1 0 -12.3 .9zM626.6 242.3a3.2 1.2 -25.8 1 0 5.7 -2.7a3.2 1.2 -25.8 1 0 -5.7 2.7zM486.2 422.8a3 1 -157.2 1 0 -5.6 -2.4a3 1 -157.2 1 0 5.6 2.4zM443.2 348.2a4 1.2 -115.6 1 0 -3.5 -7.2a4 1.2 -115.6 1 0 3.5 7.2zM576.2 357.2a5.4 1.3 -106.5 1 0 -3 -10.3a5.4 1.3 -106.5 1 0 3 10.3zM456.3 563.4a5.2 1.6 218.2 1 0 -8.2 -6.4a5.2 1.6 218.2 1 0 8.2 6.4zM696.4 252.6a2.6 1.5 -61.7 1 0 2.4 -4.5a2.6 1.5 -61.7 1 0 -2.4 4.5zM890.5 290.6a3.7 1.1 -94.9 1 0 -.6 -7.3a3.7 1.1 -94.9 1 0 .6 7.3zM874.1 267a3.2 1.6 -49.8 1 0 4.2 -4.9a3.2 1.6 -49.8 1 0 -4.2 4.9zM755.4 334.3a5.7 1.2 -70 1 0 3.9 -10.7a5.7 1.2 -70 1 0 -3.9 10.7zM682.6 811.9a3.2 1.7 58.3 1 0 3.3 5.4a3.2 1.7 58.3 1 0 -3.3 -5.4zM510 642.2a3.1 1 124.1 1 0 -3.5 5.1a3.1 1 124.1 1 0 3.5 -5.1zM907.8 478.6a2.7 1 24.1 1 0 4.9 2.2a2.7 1 24.1 1 0 -4.9 -2.2zM966.4 395.1a5.3 1.6 34 1 0 8.8 5.9a5.3 1.6 34 1 0 -8.8 -5.9zM517.6 249.7a3.3 1.2 -187.2 1 0 -6.5 .8a3.3 1.2 -187.2 1 0 6.5 -.8zM418.9 575.8a3.5 1.1 166.1 1 0 -6.8 1.7a3.5 1.1 166.1 1 0 6.8 -1.7zM616 710.7a5.5 1.3 115.2 1 0 -4.7 10a5.5 1.3 115.2 1 0 4.7 -10zM998.8 609.4a5.4 1.5 15.9 1 0 10.3 2.9a5.4 1.5 15.9 1 0 -10.3 -2.9zM915.5 564.9a6.3 1.3 10.3 1 0 12.4 2.3a6.3 1.3 10.3 1 0 -12.4 -2.3zM672.6 220a5.9 1.6 -71.3 1 0 3.8 -11.2a5.9 1.6 -71.3 1 0 -3.8 11.2zM409 596.2a3.3 1.1 120.9 1 0 -3.4 5.7a3.3 1.1 120.9 1 0 3.4 -5.7zM485.8 516.8a3.7 1.2 196.3 1 0 -7.1 -2.1a3.7 1.2 196.3 1 0 7.1 2.1zM802 314.9a5.9 1.3 -32.7 1 0 9.9 -6.3a5.9 1.3 -32.7 1 0 -9.9 6.3zM434.5 699.2a5.6 1.2 164.3 1 0 -10.8 3a5.6 1.2 164.3 1 0 10.8 -3zM895.4 295.3a3.1 1.6 -52.6 1 0 3.8 -5a3.1 1.6 -52.6 1 0 -3.8 5zM438.3 437.3a5.5 1.2 -216.9 1 0 -8.8 6.6a5.5 1.2 -216.9 1 0 8.8 -6.6zM860.6 356.5a3.3 1.6 -73.2 1 0 1.9 -6.3a3.3 1.6 -73.2 1 0 -1.9 6.3zM645.1 758.6a6.3 1.6 79.2 1 0 2.4 12.4a6.3 1.6 79.2 1 0 -2.4 -12.4zM646.2 708.8a3.5 1.1 90.7 1 0 -.1 7a3.5 1.1 90.7 1 0 .1 -7zM694.9 226.3a6.4 1.3 -62.6 1 0 5.9 -11.3a6.4 1.3 -62.6 1 0 -5.9 11.3zM468 489.9a2.8 1.6 -242.1 1 0 -2.6 4.9a2.8 1.6 -242.1 1 0 2.6 -4.9zM894.1 533.2a3.5 1.1 42.8 1 0 5.2 4.8a3.5 1.1 42.8 1 0 -5.2 -4.8zM622.2 320.3a5.4 1.6 -77.8 1 0 2.3 -10.6a5.4 1.6 -77.8 1 0 -2.3 10.6zM902.4 411.7a5 1.6 -45 1 0 7.1 -7.1a5 1.6 -45 1 0 -7.1 7.1zM514 378.5a4.2 1.5 -180.1 1 0 -8.4 0a4.2 1.5 -180.1 1 0 8.4 -0zM827.7 267.8a3.1 1.4 -26.1 1 0 5.6 -2.7a3.1 1.4 -26.1 1 0 -5.6 2.7zM1020.3 424.9a5.4 1.5 36.2 1 0 8.7 6.4a5.4 1.5 36.2 1 0 -8.7 -6.4zM512.7 553.3a5.7 1.1 156.6 1 0 -10.4 4.5a5.7 1.1 156.6 1 0 10.4 -4.5zM994.9 596.5a5.3 1.4 15.2 1 0 10.3 2.8a5.3 1.4 15.2 1 0 -10.3 -2.8zM769.5 196a5.9 1.6 -84.7 1 0 1.1 -11.8a5.9 1.6 -84.7 1 0 -1.1 11.8zM517.1 391.2a6.2 1.7 -124.3 1 0 -7 -10.3a6.2 1.7 -124.3 1 0 7 10.3zM657 761.1a4.5 1.4 131.1 1 0 -6 6.8a4.5 1.4 131.1 1 0 6 -6.8zM539.5 465a5.8 1.2 -149.3 1 0 -10 -5.9a5.8 1.2 -149.3 1 0 10 5.9zM708.6 758.2a3.9 1.5 150.2 1 0 -6.7 3.9a3.9 1.5 150.2 1 0 6.7 -3.9zM919.2 390.7a3 1.4 -9.6 1 0 5.9 -1a3 1.4 -9.6 1 0 -5.9 1zM492.3 321.8a3.5 1.5 -150.6 1 0 -6.1 -3.4a3.5 1.5 -150.6 1 0 6.1 3.4zM574.6 740.8a3.6 1 141.8 1 0 -5.6 4.4a3.6 1 141.8 1 0 5.6 -4.4zM468.9 503.1a5.5 1.4 159.2 1 0 -10.3 3.9a5.5 1.4 159.2 1 0 10.3 -3.9zM579.4 682.2a4.1 1 93.1 1 0 -.4 8.1a4.1 1 93.1 1 0 .4 -8.1zM900.1 478.5a4.6 1.6 -13.8 1 0 8.9 -2.2a4.6 1.6 -13.8 1 0 -8.9 2.2zM563.6 691.6a3 1.2 166.6 1 0 -5.8 1.4a3 1.2 166.6 1 0 5.8 -1.4zM571.4 706.6a4 1.5 97.6 1 0 -1.1 8a4 1.5 97.6 1 0 1.1 -8zM891.6 420.8a3.8 1.4 -17.9 1 0 7.2 -2.3a3.8 1.4 -17.9 1 0 -7.2 2.3zM941.3 526.6a4.6 1.6 -17.2 1 0 8.8 -2.7a4.6 1.6 -17.2 1 0 -8.8 2.7zM895.6 418.8a5.5 1.1 -100 1 0 -1.9 -10.9a5.5 1.1 -100 1 0 1.9 10.9zM871.9 282.4a3.7 1.5 -53.6 1 0 4.4 -5.9a3.7 1.5 -53.6 1 0 -4.4 5.9zM456.3 633.7a2.7 1.4 120 1 0 -2.7 4.7a2.7 1.4 120 1 0 2.7 -4.7zM916.3 574.3a5.8 1.5 -33.9 1 0 9.6 -6.4a5.8 1.5 -33.9 1 0 -9.6 6.4zM967.6 585.9a4.4 1.7 -1.1 1 0 8.7 -.2a4.4 1.7 -1.1 1 0 -8.7 .2zM524.8 378.4a2.6 1.7 -100.9 1 0 -1 -5.2a2.6 1.7 -100.9 1 0 1 5.2zM572.9 676.4a4.3 1.7 87 1 0 .4 8.5a4.3 1.7 87 1 0 -.4 -8.5zM681.8 702a3.5 1.5 97.4 1 0 -.9 6.9a3.5 1.5 97.4 1 0 .9 -6.9zM638 252.3a3.7 1.2 -99.7 1 0 -1.2 -7.2a3.7 1.2 -99.7 1 0 1.2 7.2zM779.6 756.4a4.1 1.3 50.4 1 0 5.2 6.3a4.1 1.3 50.4 1 0 -5.2 -6.3zM984.3 360.5a5.6 1.7 -3.3 1 0 11.1 -.6a5.6 1.7 -3.3 1 0 -11.1 .6zM695.4 719.2a3.6 1.7 61.9 1 0 3.4 6.3a3.6 1.7 61.9 1 0 -3.4 -6.3zM837.1 667.4a5.3 1 61.1 1 0 5.1 9.3a5.3 1 61.1 1 0 -5.1 -9.3zM897.1 436.4a6.2 1.7 81.4 1 0 1.9 12.3a6.2 1.7 81.4 1 0 -1.9 -12.3zM854.2 300.9a2.6 1.4 10.7 1 0 5 1a2.6 1.4 10.7 1 0 -5 -1zM672.9 231.3a5 1.3 -58.9 1 0 5.2 -8.6a5 1.3 -58.9 1 0 -5.2 8.6zM906.6 627.5a5.3 1.4 -13.6 1 0 10.4 -2.5a5.3 1.4 -13.6 1 0 -10.4 2.5zM818.7 296.6a5 1.1 7.7 1 0 10 1.4a5 1.1 7.7 1 0 -10 -1.4zM672.2 736.7a4.7 1.7 80.5 1 0 1.5 9.2a4.7 1.7 80.5 1 0 -1.5 -9.2zM772.1 659a6.3 1.5 96.3 1 0 -1.4 12.4a6.3 1.5 96.3 1 0 1.4 -12.4zM439.7 549.2a4.2 1.6 200.3 1 0 -7.9 -2.9a4.2 1.6 200.3 1 0 7.9 2.9zM917.9 341.3a2.5 1.3 11.1 1 0 4.9 1a2.5 1.3 11.1 1 0 -4.9 -1zM966.5 489.5a3.3 1.2 -37.3 1 0 5.3 -4a3.3 1.2 -37.3 1 0 -5.3 4zM471.4 597a3.1 1.5 189.7 1 0 -6.1 -1a3.1 1.5 189.7 1 0 6.1 1zM389.1 513.2a4.5 1 179.3 1 0 -9.1 .1a4.5 1 179.3 1 0 9.1 -.1zM933.3 399a2.5 1.2 -38.3 1 0 4 -3.2a2.5 1.2 -38.3 1 0 -4 3.2zM779.2 314.4a3.3 1.7 -32.1 1 0 5.7 -3.6a3.3 1.7 -32.1 1 0 -5.7 3.6zM444.8 480.8a3.3 1.6 -222.8 1 0 -4.8 4.4a3.3 1.6 -222.8 1 0 4.8 -4.4zM489.2 329.9a2.9 1.2 -184.7 1 0 -5.7 .5a2.9 1.2 -184.7 1 0 5.7 -.5zM641.3 705.4a4.5 1 102.6 1 0 -1.9 8.7a4.5 1 102.6 1 0 1.9 -8.7zM901.6 405.8a3.7 1.2 11.2 1 0 7.3 1.5a3.7 1.2 11.2 1 0 -7.3 -1.5zM457.1 376.1a6.4 1.6 -132.5 1 0 -8.6 -9.4a6.4 1.6 -132.5 1 0 8.6 9.4zM640.2 746.3a4.4 1.3 121.9 1 0 -4.6 7.5a4.4 1.3 121.9 1 0 4.6 -7.5zM613.5 310.2a3.4 1.3 -155 1 0 -6.2 -2.9a3.4 1.3 -155 1 0 6.2 2.9zM780.5 652.9a5.5 1.4 -12 1 0 10.8 -2.3a5.5 1.4 -12 1 0 -10.8 2.3zM449.8 695.2a5 1.3 78.4 1 0 2 9.8a5 1.3 78.4 1 0 -2 -9.8zM776.2 683.3a3 1 59.2 1 0 3.1 5.2a3 1 59.2 1 0 -3.1 -5.2zM849.8 478.8a4 1.2 -23.3 1 0 7.3 -3.1a4 1.2 -23.3 1 0 -7.3 3.1zM636.7 280.4a3.2 1.2 -97.7 1 0 -.9 -6.4a3.2 1.2 -97.7 1 0 .9 6.4zM779.9 283a6.5 1.2 -66.3 1 0 5.2 -11.8a6.5 1.2 -66.3 1 0 -5.2 11.8zM877.6 505.5a6.5 1.3 -65.5 1 0 5.4 -11.8a6.5 1.3 -65.5 1 0 -5.4 11.8zM505.9 578a6.1 1.6 197.7 1 0 -11.6 -3.7a6.1 1.6 197.7 1 0 11.6 3.7zM848.4 680.3a5.3 1.5 65.8 1 0 4.4 9.7a5.3 1.5 65.8 1 0 -4.4 -9.7zM470.5 577.5a3.4 1.4 256.9 1 0 -1.5 -6.6a3.4 1.4 256.9 1 0 1.5 6.6zM912.8 352.6a6.3 1.5 -35.6 1 0 10.3 -7.3a6.3 1.5 -35.6 1 0 -10.3 7.3zM930.2 493.2a4.1 1.7 -10.1 1 0 8.1 -1.4a4.1 1.7 -10.1 1 0 -8.1 1.4zM890.2 345a3.7 1.2 -7 1 0 7.3 -.9a3.7 1.2 -7 1 0 -7.3 .9zM653.8 811.6a4.3 1.6 94.5 1 0 -.7 8.5a4.3 1.6 94.5 1 0 .7 -8.5zM467.3 501.9a4.7 1.5 170.7 1 0 -9.3 1.5a4.7 1.5 170.7 1 0 9.3 -1.5zM650.1 212.3a5.3 1.4 -121.2 1 0 -5.5 -9.1a5.3 1.4 -121.2 1 0 5.5 9.1zM499.6 732.3a4.9 1 61.7 1 0 4.6 8.6a4.9 1 61.7 1 0 -4.6 -8.6zM455.7 545.5a5.2 1.4 222.2 1 0 -7.7 -7a5.2 1.4 222.2 1 0 7.7 7zM816.4 226.3a4.4 1.5 -78.7 1 0 1.7 -8.7a4.4 1.5 -78.7 1 0 -1.7 8.7zM678.6 811.1a3.6 1.2 163 1 0 -6.8 2.1a3.6 1.2 163 1 0 6.8 -2.1zM740.5 294a3.4 1.2 -84 1 0 .7 -6.8a3.4 1.2 -84 1 0 -.7 6.8zM555.9 701.5a4.4 1.1 79.4 1 0 1.6 8.6a4.4 1.1 79.4 1 0 -1.6 -8.6zM648.8 188.7a4.2 1.7 -62.7 1 0 3.8 -7.5a4.2 1.7 -62.7 1 0 -3.8 7.5zM460.1 606.2a4.6 1.7 184 1 0 -9.2 -.6a4.6 1.7 184 1 0 9.2 .6zM648.8 316.2a6 1.6 -115.1 1 0 -5.1 -10.9a6 1.6 -115.1 1 0 5.1 10.9zM544.1 687.8a3.9 1.4 123.4 1 0 -4.3 6.6a3.9 1.4 123.4 1 0 4.3 -6.6zM530.9 378.2a5.9 1.6 -170.9 1 0 -11.7 -1.9a5.9 1.6 -170.9 1 0 11.7 1.9zM980.2 313.9a2.8 1.5 -2.6 1 0 5.7 -.3a2.8 1.5 -2.6 1 0 -5.7 .3zM1000.7 584.4a4.4 1.2 70 1 0 3 8.3a4.4 1.2 70 1 0 -3 -8.3zM637.1 222.7a4.3 1.6 -172.6 1 0 -8.6 -1.1a4.3 1.6 -172.6 1 0 8.6 1.1zM613.8 215.5a3.3 1.7 -4.1 1 0 6.6 -.5a3.3 1.7 -4.1 1 0 -6.6 .5zM898.6 514a2.8 1 -28.8 1 0 5 -2.7a2.8 1 -28.8 1 0 -5 2.7zM705.9 308.1a3 1.6 -102.1 1 0 -1.3 -5.9a3 1.6 -102.1 1 0 1.3 5.9zM927.7 498.9a3 1.2 7.1 1 0 6 .7a3 1.2 7.1 1 0 -6 -.7zM930.1 528.9a4.1 1.6 -84.4 1 0 .8 -8.1a4.1 1.6 -84.4 1 0 -.8 8.1zM564.5 632.9a5.5 1.2 140.2 1 0 -8.4 7a5.5 1.2 140.2 1 0 8.4 -7zM937.5 505.8a5.8 1.4 40.5 1 0 8.8 7.5a5.8 1.4 40.5 1 0 -8.8 -7.5zM926.9 644a3.9 1.1 7.4 1 0 7.7 1a3.9 1.1 7.4 1 0 -7.7 -1zM630.2 776.8a3.2 1.6 128.8 1 0 -4 5a3.2 1.6 128.8 1 0 4 -5zM533.8 366.2a6.2 1.1 -193.9 1 0 -12 3a6.2 1.1 -193.9 1 0 12 -3zM952 562.8a3.5 1 90.4 1 0 -0 7a3.5 1 90.4 1 0 0 -7zM430.1 537.5a3.6 1.5 137.4 1 0 -5.3 4.9a3.6 1.5 137.4 1 0 5.3 -4.9zM521.8 359.1a5.4 1.2 -108.3 1 0 -3.4 -10.2a5.4 1.2 -108.3 1 0 3.4 10.2zM548.7 600.8a4.3 1.6 162.7 1 0 -8.2 2.5a4.3 1.6 162.7 1 0 8.2 -2.5zM826.2 723.6a6.4 1.4 85 1 0 1.1 12.7a6.4 1.4 85 1 0 -1.1 -12.7zM559.6 622.4a3.7 1.6 145.9 1 0 -6.2 4.2a3.7 1.6 145.9 1 0 6.2 -4.2zM719.7 724.7a5.6 1.5 70.7 1 0 3.7 10.6a5.6 1.5 70.7 1 0 -3.7 -10.6zM873 338.2a3.8 1.2 -74.6 1 0 2 -7.3a3.8 1.2 -74.6 1 0 -2 7.3zM973.8 608.7a2.9 1.2 10.8 1 0 5.7 1.1a2.9 1.2 10.8 1 0 -5.7 -1.1zM734.8 707.1a5.7 1.7 95.4 1 0 -1.1 11.4a5.7 1.7 95.4 1 0 1.1 -11.4zM522.2 429.6a3.1 1.3 -91.7 1 0 -.2 -6.3a3.1 1.3 -91.7 1 0 .2 6.3zM645.7 205.3a2.6 1.1 -150.1 1 0 -4.5 -2.6a2.6 1.1 -150.1 1 0 4.5 2.6zM600 249.2a6.4 1.4 -200.9 1 0 -12 4.6a6.4 1.4 -200.9 1 0 12 -4.6zM459.8 595.7a3.2 1.6 102.7 1 0 -1.4 6.2a3.2 1.6 102.7 1 0 1.4 -6.2zM751.2 681.1a3 1.5 73.5 1 0 1.7 5.7a3 1.5 73.5 1 0 -1.7 -5.7zM722.9 682.9a4.3 1.5 94.1 1 0 -.6 8.5a4.3 1.5 94.1 1 0 .6 -8.5zM549.7 399.5a4.7 1 -215.1 1 0 -7.7 5.4a4.7 1 -215.1 1 0 7.7 -5.4zM903.8 364.5a4.7 1.7 -43.4 1 0 6.8 -6.5a4.7 1.7 -43.4 1 0 -6.8 6.5zM613.8 276.3a6.1 1.1 -115.6 1 0 -5.3 -11a6.1 1.1 -115.6 1 0 5.3 11zM476.1 632.1a5.2 1.2 146.5 1 0 -8.6 5.7a5.2 1.2 146.5 1 0 8.6 -5.7zM961.1 462.9a3 1.4 -36 1 0 4.8 -3.5a3 1.4 -36 1 0 -4.8 3.5zM921.9 542.9a3.6 1.6 31.4 1 0 6.2 3.8a3.6 1.6 31.4 1 0 -6.2 -3.8zM445.3 676.6a4.1 1.4 155.8 1 0 -7.5 3.3a4.1 1.4 155.8 1 0 7.5 -3.3zM515.1 372.2a2.5 1.6 -156.9 1 0 -4.6 -2a2.5 1.6 -156.9 1 0 4.6 2zM596.2 315.9a5.4 1.5 -138.3 1 0 -8.1 -7.2a5.4 1.5 -138.3 1 0 8.1 7.2zM487.2 655a2.8 1.4 144.8 1 0 -4.5 3.2a2.8 1.4 144.8 1 0 4.5 -3.2zM613.1 283.1a2.9 1.5 -113.1 1 0 -2.2 -5.3a2.9 1.5 -113.1 1 0 2.2 5.3zM828.8 245.7a5.8 1.6 -63.3 1 0 5.2 -10.3a5.8 1.6 -63.3 1 0 -5.2 10.3zM946.2 617.7a2.5 1.1 53.2 1 0 3 4a2.5 1.1 53.2 1 0 -3 -4zM517.2 506.3a5 1.6 194.1 1 0 -9.6 -2.4a5 1.6 194.1 1 0 9.6 2.4zM478 648.9a3.3 1.3 171 1 0 -6.5 1a3.3 1.3 171 1 0 6.5 -1zM529.4 342.9a2.6 1.4 -153.5 1 0 -4.6 -2.3a2.6 1.4 -153.5 1 0 4.6 2.3zM423.8 510.8a5.2 1.6 180.7 1 0 -10.4 -.1a5.2 1.6 180.7 1 0 10.4 .1zM377.6 441.9a6.1 1.3 -194.6 1 0 -11.8 3.1a6.1 1.3 -194.6 1 0 11.8 -3.1zM546.4 663.6a2.6 1.2 94.4 1 0 -.4 5.3a2.6 1.2 94.4 1 0 .4 -5.3zM788.9 643.9a5.3 1.7 25.8 1 0 9.6 4.6a5.3 1.7 25.8 1 0 -9.6 -4.6zM735.8 314.9a5.3 1.2 -156.1 1 0 -9.8 -4.3a5.3 1.2 -156.1 1 0 9.8 4.3zM573.6 255.1a5 1.6 -242.7 1 0 -4.6 8.9a5 1.6 -242.7 1 0 4.6 -8.9zM703.3 758.4a4.3 1.7 69.5 1 0 3 8a4.3 1.7 69.5 1 0 -3 -8zM564.7 240.3a4.1 1.7 -148.1 1 0 -7 -4.3a4.1 1.7 -148.1 1 0 7 4.3zM905.4 513.6a2.7 1.6 46 1 0 3.8 3.9a2.7 1.6 46 1 0 -3.8 -3.9zM385.2 412.4a4.7 1.3 -204.9 1 0 -8.5 3.9a4.7 1.3 -204.9 1 0 8.5 -3.9zM897.3 624.2a5.9 1.2 38.4 1 0 9.3 7.4a5.9 1.2 38.4 1 0 -9.3 -7.4zM741.4 266.8a6.2 1.1 -91.4 1 0 -.3 -12.5a6.2 1.1 -91.4 1 0 .3 12.5zM864.4 581.4a6.3 1.2 1.7 1 0 12.7 .4a6.3 1.2 1.7 1 0 -12.7 -.4zM533.2 386.6a3.8 1.7 -163.1 1 0 -7.4 -2.2a3.8 1.7 -163.1 1 0 7.4 2.2zM665.6 729a4.2 1.3 110.5 1 0 -3 7.9a4.2 1.3 110.5 1 0 3 -7.9zM799.2 774.9a4.7 1.2 66.3 1 0 3.7 8.5a4.7 1.2 66.3 1 0 -3.7 -8.5zM423 490.8a5.5 1.1 -172.8 1 0 -11 -1.4a5.5 1.1 -172.8 1 0 11 1.4zM685.1 714.7a6.2 1.5 94.8 1 0 -1 12.5a6.2 1.5 94.8 1 0 1 -12.5zM643.2 747.3a6 1.4 157.2 1 0 -11 4.6a6 1.4 157.2 1 0 11 -4.6zM860.1 285.4a4.7 1.5 -61.1 1 0 4.5 -8.1a4.7 1.5 -61.1 1 0 -4.5 8.1zM554 281a5.7 1.7 -139 1 0 -8.6 -7.5a5.7 1.7 -139 1 0 8.6 7.5zM573 629a6.4 1.3 225.4 1 0 -9 -9.1a6.4 1.3 225.4 1 0 9 9.1zM601.6 187.8a5.8 1.5 -109 1 0 -3.8 -10.9a5.8 1.5 -109 1 0 3.8 10.9zM409.6 405.2a4.3 1.3 -184.9 1 0 -8.6 .7a4.3 1.3 -184.9 1 0 8.6 -.7zM998.4 588.2a6.3 1.5 -14.4 1 0 12.1 -3.1a6.3 1.5 -14.4 1 0 -12.1 3.1zM673.4 746.3a3.6 1.6 90.5 1 0 -.1 7.2a3.6 1.6 90.5 1 0 .1 -7.2zM807.7 718.7a4.9 1.3 61.8 1 0 4.7 8.7a4.9 1.3 61.8 1 0 -4.7 -8.7zM462.3 529.5a3 1.1 172.5 1 0 -5.8 .8a3 1.1 172.5 1 0 5.8 -.8zM876.3 328a3.9 1.6 -47.3 1 0 5.3 -5.7a3.9 1.6 -47.3 1 0 -5.3 5.7zM478.3 682.2a3.5 1.4 142.2 1 0 -5.5 4.3a3.5 1.4 142.2 1 0 5.5 -4.3zM749.1 743.9a4.4 1.6 117.5 1 0 -4 7.7a4.4 1.6 117.5 1 0 4 -7.7zM547.6 283.2a5.2 1 -93.2 1 0 -.6 -10.4a5.2 1 -93.2 1 0 .6 10.4zM589 343a3.8 1.6 -97.8 1 0 -1 -7.6a3.8 1.6 -97.8 1 0 1 7.6zM863.1 651.4a3.9 1.4 18.4 1 0 7.4 2.5a3.9 1.4 18.4 1 0 -7.4 -2.5zM831.3 441.3a4.9 1.6 -89.8 1 0 0 -9.9a4.9 1.6 -89.8 1 0 -0 9.9zM750.5 238.6a4.1 1.1 -55.1 1 0 4.8 -6.8a4.1 1.1 -55.1 1 0 -4.8 6.8zM402.6 515.2a5.8 1.4 203.3 1 0 -10.7 -4.6a5.8 1.4 203.3 1 0 10.7 4.6zM642.7 693.7a4.1 1.6 76.2 1 0 1.9 7.9a4.1 1.6 76.2 1 0 -1.9 -7.9zM529.5 209.6a3.4 1.3 -141 1 0 -5.3 -4.3a3.4 1.3 -141 1 0 5.3 4.3zM972.8 442.1a3.2 1.4 -9.2 1 0 6.3 -1a3.2 1.4 -9.2 1 0 -6.3 1zM512.6 608.4a3 1.5 94.6 1 0 -.5 6a3 1.5 94.6 1 0 .5 -6zM929.2 589.3a5.5 1.5 79 1 0 2.1 10.8a5.5 1.5 79 1 0 -2.1 -10.8zM838.5 289.5a6.2 1.3 -107.2 1 0 -3.7 -11.9a6.2 1.3 -107.2 1 0 3.7 11.9zM547.2 643.3a4.7 1.3 153 1 0 -8.4 4.3a4.7 1.3 153 1 0 8.4 -4.3zM845 610.5a3.9 1.6 39.3 1 0 6 4.9a3.9 1.6 39.3 1 0 -6 -4.9zM960.1 629.2a5.6 1.5 11.5 1 0 11 2.2a5.6 1.5 11.5 1 0 -11 -2.2zM537.1 407.7a4.4 1 -111.3 1 0 -3.2 -8.2a4.4 1 -111.3 1 0 3.2 8.2zM770.3 312.7a5.3 1.6 -49.9 1 0 6.8 -8a5.3 1.6 -49.9 1 0 -6.8 8zM927.6 463a5.6 1.4 3.7 1 0 11.2 .7a5.6 1.4 3.7 1 0 -11.2 -.7zM789.6 794.3a4.9 1.5 57 1 0 5.4 8.3a4.9 1.5 57 1 0 -5.4 -8.3zM970.7 422.2a3.7 1 -22 1 0 6.9 -2.8a3.7 1 -22 1 0 -6.9 2.8zM440 588.6a3.3 1.1 152.4 1 0 -5.8 3a3.3 1.1 152.4 1 0 5.8 -3zM716.8 327a2.6 1 -104.9 1 0 -1.3 -5a2.6 1 -104.9 1 0 1.3 5zM690.9 713.8a6 1.2 96.3 1 0 -1.3 12a6 1.2 96.3 1 0 1.3 -12zM766.8 742.2a4.5 1.2 65.3 1 0 3.7 8.1a4.5 1.2 65.3 1 0 -3.7 -8.1zM570.2 776.2a6.1 1.4 141.6 1 0 -9.6 7.6a6.1 1.4 141.6 1 0 9.6 -7.6zM590.4 283.5a5.9 1.6 -69.4 1 0 4.1 -11a5.9 1.6 -69.4 1 0 -4.1 11zM819.2 672.2a6.5 1.6 91.7 1 0 -.4 12.9a6.5 1.6 91.7 1 0 .4 -12.9zM926.9 644.8a4.6 1.4 119.7 1 0 -4.6 8.1a4.6 1.4 119.7 1 0 4.6 -8.1zM469.3 481.6a5.7 1.5 -210.9 1 0 -9.8 5.9a5.7 1.5 -210.9 1 0 9.8 -5.9zM497 392.3a3 1.6 -95.5 1 0 -.6 -5.9a3 1.6 -95.5 1 0 .6 5.9zM783.1 299.9a3.9 1.2 -45.2 1 0 5.5 -5.5a3.9 1.2 -45.2 1 0 -5.5 5.5zM649.4 718.2a6.2 1.7 104.1 1 0 -3 12a6.2 1.7 104.1 1 0 3 -12zM606.4 335.8a4.8 1 -137.8 1 0 -7.1 -6.4a4.8 1 -137.8 1 0 7.1 6.4zM832.1 674.6a3.2 1.4 50.2 1 0 4.1 5a3.2 1.4 50.2 1 0 -4.1 -5zM776.6 326.5a5.9 1.5 -66.7 1 0 4.7 -10.9a5.9 1.5 -66.7 1 0 -4.7 10.9zM532.5 801.4a5.2 1.7 51.3 1 0 6.5 8.1a5.2 1.7 51.3 1 0 -6.5 -8.1zM851.7 736.4a5.9 1.1 66 1 0 4.8 10.8a5.9 1.1 66 1 0 -4.8 -10.8zM557.2 683.2a5.4 1 131 1 0 -7.1 8.2a5.4 1 131 1 0 7.1 -8.2zM474.2 553.1a3.4 1.2 185.4 1 0 -6.7 -.6a3.4 1.2 185.4 1 0 6.7 .6zM835.1 665.1a6.4 1.1 43.6 1 0 9.3 8.9a6.4 1.1 43.6 1 0 -9.3 -8.9zM924.2 497.6a3.5 1.6 37.4 1 0 5.6 4.3a3.5 1.6 37.4 1 0 -5.6 -4.3zM979.5 467.5a3.8 1.1 50.3 1 0 4.9 5.9a3.8 1.1 50.3 1 0 -4.9 -5.9zM814.9 749.3a2.7 1.5 10.2 1 0 5.3 1a2.7 1.5 10.2 1 0 -5.3 -1zM899.4 291.1a3.5 1.2 -43.1 1 0 5.2 -4.8a3.5 1.2 -43.1 1 0 -5.2 4.8zM725.8 284.4a3.1 1.2 -72.7 1 0 1.8 -5.9a3.1 1.2 -72.7 1 0 -1.8 5.9zM734.7 732.8a5.9 1.2 81.7 1 0 1.7 11.8a5.9 1.2 81.7 1 0 -1.7 -11.8zM885.7 510.9a4.2 1.1 -6.7 1 0 8.3 -1a4.2 1.1 -6.7 1 0 -8.3 1zM480.3 443.7a6.3 1.1 -141.5 1 0 -9.8 -7.8a6.3 1.1 -141.5 1 0 9.8 7.8zM706.7 567.2a5.2 1.1 113.1 1 0 -4.1 9.6a5.2 1.1 113.1 1 0 4.1 -9.6zM487.5 443a5.9 1.1 -193.5 1 0 -11.5 2.8a5.9 1.1 -193.5 1 0 11.5 -2.8zM809.5 348.6a3.4 1.2 -126.6 1 0 -4.1 -5.5a3.4 1.2 -126.6 1 0 4.1 5.5zM739.5 280.9a2.7 1.3 -101.6 1 0 -1.1 -5.3a2.7 1.3 -101.6 1 0 1.1 5.3zM813.6 250.7a2.8 1.7 -91.2 1 0 -.1 -5.7a2.8 1.7 -91.2 1 0 .1 5.7zM816 795.1a5.9 1.3 23.7 1 0 10.9 4.8a5.9 1.3 23.7 1 0 -10.9 -4.8zM967.6 496.4a5.2 1.7 -4.6 1 0 10.3 -.8a5.2 1.7 -4.6 1 0 -10.3 .8zM450.8 577.5a6.2 1.4 171.8 1 0 -12.3 1.8a6.2 1.4 171.8 1 0 12.3 -1.8zM849.7 801.1a3.6 1.3 81.4 1 0 1.1 7.1a3.6 1.3 81.4 1 0 -1.1 -7.1zM744 669.3a4.5 1.5 151.4 1 0 -7.9 4.3a4.5 1.5 151.4 1 0 7.9 -4.3zM574.9 398.4a4.4 1.2 -128.6 1 0 -5.5 -6.9a4.4 1.2 -128.6 1 0 5.5 6.9zM758.3 810.4a4.9 1.1 22.2 1 0 9.1 3.7a4.9 1.1 22.2 1 0 -9.1 -3.7zM525.2 265.5a5.1 1.3 -181.2 1 0 -10.3 .2a5.1 1.3 -181.2 1 0 10.3 -.2zM828.8 718.6a5.5 1.1 82.9 1 0 1.3 10.9a5.5 1.1 82.9 1 0 -1.3 -10.9zM586.9 682.4a3 1.3 158.6 1 0 -5.6 2.2a3 1.3 158.6 1 0 5.6 -2.2zM962.4 557.6a5.3 1 52.2 1 0 6.5 8.4a5.3 1 52.2 1 0 -6.5 -8.4zM964.8 535.9a4.4 1.2 32.3 1 0 7.4 4.7a4.4 1.2 32.3 1 0 -7.4 -4.7zM896.1 715.6a3.3 1.6 83.9 1 0 .7 6.5a3.3 1.6 83.9 1 0 -.7 -6.5zM897.1 395a3.7 1.1 18.7 1 0 7 2.3a3.7 1.1 18.7 1 0 -7 -2.3zM568 297.3a4.6 1.3 -60.1 1 0 4.5 -7.9a4.6 1.3 -60.1 1 0 -4.5 7.9zM525 325a3 1.2 -139.5 1 0 -4.5 -3.9a3 1.2 -139.5 1 0 4.5 3.9zM617.2 236.3a5.7 1 -117.3 1 0 -5.3 -10.2a5.7 1 -117.3 1 0 5.3 10.2zM433.6 291.3a4.1 1.2 -203.9 1 0 -7.6 3.3a4.1 1.2 -203.9 1 0 7.6 -3.3zM950.2 453.5a4.9 1.4 25.3 1 0 8.9 4.2a4.9 1.4 25.3 1 0 -8.9 -4.2zM578 775.2a3.5 1.4 172.1 1 0 -6.9 1a3.5 1.4 172.1 1 0 6.9 -1zM860 687.1a4.1 1.2 10.7 1 0 8.1 1.5a4.1 1.2 10.7 1 0 -8.1 -1.5zM686.7 715.4a3.8 1.3 91.7 1 0 -.2 7.7a3.8 1.3 91.7 1 0 .2 -7.7zM894.7 466.1a5.9 1.3 15.5 1 0 11.3 3.1a5.9 1.3 15.5 1 0 -11.3 -3.1zM455.8 344.3a5.8 1.7 -162.1 1 0 -11.1 -3.6a5.8 1.7 -162.1 1 0 11.1 3.6zM629.5 339.5a3.1 1.3 -129.6 1 0 -4 -4.8a3.1 1.3 -129.6 1 0 4 4.8zM426.3 466.2a6 1.3 -163.7 1 0 -11.5 -3.4a6 1.3 -163.7 1 0 11.5 3.4zM589.3 283.2a6.4 1.5 -96 1 0 -1.4 -12.8a6.4 1.5 -96 1 0 1.4 12.8zM524 638.2a3.3 1.5 188.3 1 0 -6.6 -1a3.3 1.5 188.3 1 0 6.6 1zM546.7 718.9a3.7 1.7 89.8 1 0 0 7.4a3.7 1.7 89.8 1 0 -0 -7.4zM410.4 433.7a4.4 1.5 -184.1 1 0 -8.8 .6a4.4 1.5 -184.1 1 0 8.8 -.6zM839.4 793.9a4.1 1.1 104.9 1 0 -2.1 8a4.1 1.1 104.9 1 0 2.1 -8zM800 653.6a6.2 1.2 57.9 1 0 6.6 10.5a6.2 1.2 57.9 1 0 -6.6 -10.5zM638.4 299.7a5.4 1.7 -98.1 1 0 -1.5 -10.8a5.4 1.7 -98.1 1 0 1.5 10.8zM781.3 346.4a4.8 1.1 -54.4 1 0 5.5 -7.7a4.8 1.1 -54.4 1 0 -5.5 7.7zM611.7 288.5a5.9 1.5 -93.8 1 0 -.8 -11.7a5.9 1.5 -93.8 1 0 .8 11.7zM701.1 727.4a5.2 1.4 12.1 1 0 10.1 2.2a5.2 1.4 12.1 1 0 -10.1 -2.2zM683 821.6a5 1.2 57.5 1 0 5.4 8.5a5 1.2 57.5 1 0 -5.4 -8.5zM903.6 510.9a6.3 1.7 31.6 1 0 10.7 6.6a6.3 1.7 31.6 1 0 -10.7 -6.6zM583.4 683.2a5 1.2 134.1 1 0 -6.9 7.1a5 1.2 134.1 1 0 6.9 -7.1zM752.7 752.6a5.5 1.6 73 1 0 3.2 10.6a5.5 1.6 73 1 0 -3.2 -10.6zM890.3 388.3a4.4 1.3 19.2 1 0 8.2 2.9a4.4 1.3 19.2 1 0 -8.2 -2.9zM749.7 275.3a4.5 1.5 -118.5 1 0 -4.3 -8a4.5 1.5 -118.5 1 0 4.3 8zM565 688.6a3.7 1.3 92.8 1 0 -.4 7.4a3.7 1.3 92.8 1 0 .4 -7.4zM754.5 315.1a2.9 1.6 -133.7 1 0 -4 -4.2a2.9 1.6 -133.7 1 0 4 4.2zM749.4 670.5a4.1 1.5 42.3 1 0 6 5.5a4.1 1.5 42.3 1 0 -6 -5.5zM480.7 616a5.1 1.6 169.1 1 0 -10.1 1.9a5.1 1.6 169.1 1 0 10.1 -1.9zM899.7 257.7a5.4 1.3 -74.2 1 0 2.9 -10.3a5.4 1.3 -74.2 1 0 -2.9 10.3zM681.5 772.1a6 1.3 89.9 1 0 0 12a6 1.3 89.9 1 0 -0 -12zM620.7 351.4a5.7 1.6 -83.7 1 0 1.2 -11.3a5.7 1.6 -83.7 1 0 -1.2 11.3zM734.7 317.5a6.2 1.4 -43.3 1 0 9 -8.5a6.2 1.4 -43.3 1 0 -9 8.5zM450.4 604.1a3.5 1.2 180 1 0 -6.9 0a3.5 1.2 180 1 0 6.9 -0zM931.5 486.9a4.1 1.5 -36.4 1 0 6.6 -4.9a4.1 1.5 -36.4 1 0 -6.6 4.9zM605.9 682.8a3.6 1.2 50.9 1 0 4.5 5.6a3.6 1.2 50.9 1 0 -4.5 -5.6zM474 606.6a5.6 1.2 124.4 1 0 -6.3 9.3a5.6 1.2 124.4 1 0 6.3 -9.3zM644.7 722a3.2 1.1 85 1 0 .6 6.5a3.2 1.1 85 1 0 -.6 -6.5zM1023.7 556a3.1 1.2 -11.4 1 0 6.1 -1.2a3.1 1.2 -11.4 1 0 -6.1 1.2zM604.1 716.5a5.3 1.2 96.4 1 0 -1.2 10.5a5.3 1.2 96.4 1 0 1.2 -10.5zM889.9 426.8a3.3 1.7 29.9 1 0 5.7 3.3a3.3 1.7 29.9 1 0 -5.7 -3.3zM742.9 273.8a2.5 1.2 -87.6 1 0 .2 -5a2.5 1.2 -87.6 1 0 -.2 5zM898.6 512.8a3 1.1 .3 1 0 6 0a3 1.1 .3 1 0 -6 -0zM735.5 755.2a5.8 1.5 85.2 1 0 1 11.5a5.8 1.5 85.2 1 0 -1 -11.5zM779.1 338.6a6.5 1.6 -29.4 1 0 11.3 -6.4a6.5 1.6 -29.4 1 0 -11.3 6.4zM870.4 336.8a3.2 1.5 -50.7 1 0 4.1 -5a3.2 1.5 -50.7 1 0 -4.1 5zM680 722a5.6 1 55.8 1 0 6.3 9.3a5.6 1 55.8 1 0 -6.3 -9.3zM613.6 199.9a5.3 1.4 -122.6 1 0 -5.7 -8.9a5.3 1.4 -122.6 1 0 5.7 8.9zM877.4 657.2a4.4 1.2 63.8 1 0 3.9 7.9a4.4 1.2 63.8 1 0 -3.9 -7.9zM917 575.4a2.8 1.2 5 1 0 5.5 .5a2.8 1.2 5 1 0 -5.5 -.5zM529 243.7a3.7 1 -130.8 1 0 -4.8 -5.5a3.7 1 -130.8 1 0 4.8 5.5zM890.1 577.2a2.8 1.6 12.5 1 0 5.5 1.2a2.8 1.6 12.5 1 0 -5.5 -1.2zM720.7 713.7a5.7 1.2 41.8 1 0 8.5 7.6a5.7 1.2 41.8 1 0 -8.5 -7.6zM504.8 596.1a4.5 2.5 133.9 1 0 -6.3 6.5a4.5 2.5 133.9 1 0 6.3 -6.5zM511.6 627.8a6.5 2 64 1 0 5.7 11.6a6.5 2 64 1 0 -5.7 -11.6zM874.8 647.4a4.1 2 75.9 1 0 2 8a4.1 2 75.9 1 0 -2 -8zM539.4 698.3a4.1 2.1 188 1 0 -8.1 -1.1a4.1 2.1 188 1 0 8.1 1.1zM863.2 290.7a4 2.2 -44.7 1 0 5.8 -5.7a4 2.2 -44.7 1 0 -5.8 5.7zM640.8 322.1a6.5 2.5 -89.5 1 0 .1 -13a6.5 2.5 -89.5 1 0 -.1 13zM968.6 589.3a4.3 2.5 22.9 1 0 7.9 3.3a4.3 2.5 22.9 1 0 -7.9 -3.3zM537.5 702.2a4.1 2.5 116.4 1 0 -3.7 7.4a4.1 2.5 116.4 1 0 3.7 -7.4zM566.3 370a4.3 2.2 -171.3 1 0 -8.4 -1.3a4.3 2.2 -171.3 1 0 8.4 1.3zM890.6 491a3.9 2.5 -6.6 1 0 7.8 -.9a3.9 2.5 -6.6 1 0 -7.8 .9zM664 673.5a4.8 2 49.7 1 0 6.2 7.2a4.8 2 49.7 1 0 -6.2 -7.2zM538.5 557.6a4.3 2.2 166.6 1 0 -8.4 2a4.3 2.2 166.6 1 0 8.4 -2zM996.9 460a4.2 2.2 14.4 1 0 8.2 2.1a4.2 2.2 14.4 1 0 -8.2 -2.1zM771 324.8a4.4 2.2 -50.5 1 0 5.6 -6.8a4.4 2.2 -50.5 1 0 -5.6 6.8zM622.1 684.2a5 2 132 1 0 -6.7 7.5a5 2 132 1 0 6.7 -7.5zM799.5 276a4.4 2.3 -105.7 1 0 -2.4 -8.5a4.4 2.3 -105.7 1 0 2.4 8.5zM699.4 312.5a5.8 2.5 -130.8 1 0 -7.6 -8.9a5.8 2.5 -130.8 1 0 7.6 8.9zM487.5 474.3a5.2 2 -181.7 1 0 -10.5 .3a5.2 2 -181.7 1 0 10.5 -.3zM647.5 244.3a4.6 2.2 -128.2 1 0 -5.7 -7.3a4.6 2.2 -128.2 1 0 5.7 7.3zM398.5 390.8a5.8 2.5 -184.6 1 0 -11.5 .9a5.8 2.5 -184.6 1 0 11.5 -.9zM555.3 670.3a5.4 2.2 80.6 1 0 1.8 10.6a5.4 2.2 80.6 1 0 -1.8 -10.6zM810 782.1a3.9 2 107.1 1 0 -2.3 7.4a3.9 2 107.1 1 0 2.3 -7.4zM859.5 290.7a6.2 2.4 -27.6 1 0 11 -5.7a6.2 2.4 -27.6 1 0 -11 5.7zM445.8 518.2a3.7 2.1 216.5 1 0 -5.9 -4.4a3.7 2.1 216.5 1 0 5.9 4.4zM523.2 686.1a6.5 2.2 127.4 1 0 -7.9 10.3a6.5 2.2 127.4 1 0 7.9 -10.3zM884.4 646.1a5.9 2.4 48.7 1 0 7.8 8.9a5.9 2.4 48.7 1 0 -7.8 -8.9zM920.4 488.3a4.5 2.5 -19.7 1 0 8.4 -3a4.5 2.5 -19.7 1 0 -8.4 3zM546.5 195.9a5.9 2.5 -78.2 1 0 2.4 -11.6a5.9 2.5 -78.2 1 0 -2.4 11.6zM462.9 588.6a5.3 2.5 138 1 0 -7.8 7a5.3 2.5 138 1 0 7.8 -7zM756.4 823.3a6.6 2.2 62.4 1 0 6.1 11.6a6.6 2.2 62.4 1 0 -6.1 -11.6zM944.4 632.4a4.8 2.5 116.7 1 0 -4.4 8.6a4.8 2.5 116.7 1 0 4.4 -8.6zM575.1 350.8a6.2 2.1 -146.4 1 0 -10.3 -6.9a6.2 2.1 -146.4 1 0 10.3 6.9zM907.2 464a3.9 2.3 -19.8 1 0 7.3 -2.6a3.9 2.3 -19.8 1 0 -7.3 2.6zM554.3 736.7a6.1 2.2 61.2 1 0 5.9 10.8a6.1 2.2 61.2 1 0 -5.9 -10.8zM815.9 329.6a6.2 2.1 -32.6 1 0 10.4 -6.7a6.2 2.1 -32.6 1 0 -10.4 6.7zM907.5 726.7a5.4 2.4 16.2 1 0 10.4 3a5.4 2.4 16.2 1 0 -10.4 -3zM682.1 784.1a4.3 2.5 99.2 1 0 -1.4 8.4a4.3 2.5 99.2 1 0 1.4 -8.4zM727.6 769.4a5.2 2.1 43 1 0 7.6 7.1a5.2 2.1 43 1 0 -7.6 -7.1zM773.1 827a5.9 2.4 20.2 1 0 11 4.1a5.9 2.4 20.2 1 0 -11 -4.1zM884.6 524.6a5.5 2.3 -42.1 1 0 8.1 -7.4a5.5 2.3 -42.1 1 0 -8.1 7.4zM721.5 272.8a5.3 2.5 -53.4 1 0 6.3 -8.5a5.3 2.5 -53.4 1 0 -6.3 8.5zM513.7 414.5a5 2.1 -198 1 0 -9.6 3.1a5 2.1 -198 1 0 9.6 -3.1zM838.4 644.3a6 2.3 69.7 1 0 4.2 11.3a6 2.3 69.7 1 0 -4.2 -11.3zM580.8 352.5a4.6 2 -133.8 1 0 -6.4 -6.7a4.6 2 -133.8 1 0 6.4 6.7zM446.8 569.7a6.3 2.3 124.5 1 0 -7.2 10.4a6.3 2.3 124.5 1 0 7.2 -10.4zM512.3 652.3a6 2.2 140.4 1 0 -9.3 7.7a6 2.2 140.4 1 0 9.3 -7.7zM450.4 574.6a5.7 2.2 135.4 1 0 -8.1 8a5.7 2.2 135.4 1 0 8.1 -8zM949 458.5a6.1 2.2 14.7 1 0 11.7 3.1a6.1 2.2 14.7 1 0 -11.7 -3.1zM838.7 295.6a5.5 2.4 -58.9 1 0 5.7 -9.4a5.5 2.4 -58.9 1 0 -5.7 9.4zM433.2 352.4a3.8 2.5 -152.6 1 0 -6.8 -3.5a3.8 2.5 -152.6 1 0 6.8 3.5zM890.6 393.2a5.1 2.5 -18.7 1 0 9.6 -3.3a5.1 2.5 -18.7 1 0 -9.6 3.3zM587.8 816.1a4.7 2.3 42.3 1 0 6.9 6.3a4.7 2.3 42.3 1 0 -6.9 -6.3zM730.5 749a5.4 2.3 71.1 1 0 3.5 10.3a5.4 2.3 71.1 1 0 -3.5 -10.3zM453.2 582.8a4.2 2.1 197.7 1 0 -8.1 -2.6a4.2 2.1 197.7 1 0 8.1 2.6zM493 592.9a5.5 2.1 184.9 1 0 -11 -.9a5.5 2.1 184.9 1 0 11 .9zM496.1 522.7a5.7 2 120.4 1 0 -5.8 9.8a5.7 2 120.4 1 0 5.8 -9.8zM489.2 411.4a4.8 2.3 -157.1 1 0 -8.8 -3.7a4.8 2.3 -157.1 1 0 8.8 3.7zM572 810.1a3.9 2.2 64 1 0 3.4 6.9a3.9 2.2 64 1 0 -3.4 -6.9zM517 455.3a4.8 2.1 -151.5 1 0 -8.4 -4.6a4.8 2.1 -151.5 1 0 8.4 4.6zM749.3 268.9a4.1 2.5 -72.3 1 0 2.5 -7.8a4.1 2.5 -72.3 1 0 -2.5 7.8zM479.4 429.5a6.1 2.4 -140.7 1 0 -9.5 -7.8a6.1 2.4 -140.7 1 0 9.5 7.8zM946.3 506.6a5.8 2.1 49.8 1 0 7.5 8.9a5.8 2.1 49.8 1 0 -7.5 -8.9zM802.3 730.8a4.3 2.5 18.3 1 0 8.1 2.7a4.3 2.5 18.3 1 0 -8.1 -2.7zM606.1 684.6a6.4 2 164.3 1 0 -12.3 3.5a6.4 2 164.3 1 0 12.3 -3.5zM948.1 529.3a4.1 2 -76.5 1 0 1.9 -8.1a4.1 2 -76.5 1 0 -1.9 8.1zM459.1 603.6a6.1 2.1 177.3 1 0 -12.2 .6a6.1 2.1 177.3 1 0 12.2 -.6zM873.1 305.8a3.6 2.2 -73.2 1 0 2.1 -6.9a3.6 2.2 -73.2 1 0 -2.1 6.9zM550.4 319.5a5 2.3 -152.2 1 0 -8.9 -4.7a5 2.3 -152.2 1 0 8.9 4.7zM915.4 533.6a6.4 2.4 20.1 1 0 12 4.4a6.4 2.4 20.1 1 0 -12 -4.4zM774.2 180.1a3.6 2.4 -102.8 1 0 -1.6 -7.1a3.6 2.4 -102.8 1 0 1.6 7.1zM555.1 697.8a4.8 2 103.6 1 0 -2.3 9.4a4.8 2 103.6 1 0 2.3 -9.4zM581.3 292.4a6.3 2.2 -62.4 1 0 5.8 -11.2a6.3 2.2 -62.4 1 0 -5.8 11.2zM565.6 748.6a6.5 2.1 121.2 1 0 -6.7 11.1a6.5 2.1 121.2 1 0 6.7 -11.1zM879.3 723.8a6.1 2.4 70.8 1 0 4 11.5a6.1 2.4 70.8 1 0 -4 -11.5zM573.8 703.4a5.8 2.1 107.3 1 0 -3.5 11.2a5.8 2.1 107.3 1 0 3.5 -11.2zM897.3 457.6a4.1 2.5 37.5 1 0 6.4 4.9a4.1 2.5 37.5 1 0 -6.4 -4.9zM777.4 287.1a4.1 2.5 -110.1 1 0 -2.8 -7.7a4.1 2.5 -110.1 1 0 2.8 7.7zM589.7 727.7a3.6 2.4 118.3 1 0 -3.4 6.4a3.6 2.4 118.3 1 0 3.4 -6.4zM500 617.6a6.5 2.2 157.9 1 0 -12 4.9a6.5 2.2 157.9 1 0 12 -4.9zM463.7 376.1a5.9 2.1 -187.3 1 0 -11.8 1.5a5.9 2.1 -187.3 1 0 11.8 -1.5zM824.4 273.6a5.4 2.5 -78 1 0 2.3 -10.6a5.4 2.5 -78 1 0 -2.3 10.6zM542.9 525.4a4.4 2.5 150.8 1 0 -7.7 4.3a4.4 2.5 150.8 1 0 7.7 -4.3zM758.9 653a3.8 2.2 25.4 1 0 6.8 3.2a3.8 2.2 25.4 1 0 -6.8 -3.2zM547.2 653.8a5.5 2.3 174.2 1 0 -10.9 1.1a5.5 2.3 174.2 1 0 10.9 -1.1zM585.7 244.7a3.6 2.4 -34.8 1 0 6 -4.2a3.6 2.4 -34.8 1 0 -6 4.2zM830.1 589.2a4.8 2.4 37.5 1 0 7.6 5.9a4.8 2.4 37.5 1 0 -7.6 -5.9zM624.7 685.7a6.6 2.3 72.5 1 0 3.9 12.5a6.6 2.3 72.5 1 0 -3.9 -12.5zM742.4 276.6a6.3 2.5 -67.6 1 0 4.8 -11.6a6.3 2.5 -67.6 1 0 -4.8 11.6zM960.7 428.3a6.4 2.5 37.5 1 0 10.1 7.8a6.4 2.5 37.5 1 0 -10.1 -7.8zM541.9 245.6a5.1 2.1 -128.3 1 0 -6.3 -8a5.1 2.1 -128.3 1 0 6.3 8zM563.5 359.8a5.4 2.3 -109.2 1 0 -3.6 -10.3a5.4 2.3 -109.2 1 0 3.6 10.3zM676.8 772a5.1 2.1 136.8 1 0 -7.4 6.9a5.1 2.1 136.8 1 0 7.4 -6.9zM568.1 726.1a4.8 2.2 98.2 1 0 -1.4 9.5a4.8 2.2 98.2 1 0 1.4 -9.5zM549.9 397.1a5.2 2.5 -155.9 1 0 -9.5 -4.2a5.2 2.5 -155.9 1 0 9.5 4.2zM519.1 339.5a4.8 2.5 -122.8 1 0 -5.2 -8.1a4.8 2.5 -122.8 1 0 5.2 8.1zM517.7 323.4a4.4 2 -129.7 1 0 -5.6 -6.7a4.4 2 -129.7 1 0 5.6 6.7zM953.9 506.1a6.2 2.5 -5.7 1 0 12.4 -1.2a6.2 2.5 -5.7 1 0 -12.4 1.2zM571.5 274.7a3.7 2.2 -124.8 1 0 -4.2 -6a3.7 2.2 -124.8 1 0 4.2 6zM840.4 274.6a4.2 2.1 -47.7 1 0 5.7 -6.2a4.2 2.1 -47.7 1 0 -5.7 6.2zM933.6 668.6a4.2 2.5 131.5 1 0 -5.6 6.3a4.2 2.5 131.5 1 0 5.6 -6.3zM691.6 251.9a5.2 2.3 -39.1 1 0 8.1 -6.6a5.2 2.3 -39.1 1 0 -8.1 6.6zM731.2 746.5a4 2.4 67.4 1 0 3.1 7.4a4 2.4 67.4 1 0 -3.1 -7.4zM531 602.2a5.8 2.3 173.8 1 0 -11.6 1.2a5.8 2.3 173.8 1 0 11.6 -1.2zM749.8 751.2a5.5 2.2 48 1 0 7.3 8.1a5.5 2.2 48 1 0 -7.3 -8.1zM437.1 444.1a5.2 2.4 -110 1 0 -3.6 -9.8a5.2 2.4 -110 1 0 3.6 9.8zM822 263.3a4.9 2.4 -61.2 1 0 4.7 -8.6a4.9 2.4 -61.2 1 0 -4.7 8.6zM564 677.1a6.5 3.5 196.1 1 0 -12.4 -3.6a6.5 3.5 196.1 1 0 12.4 3.6zM869.9 728.2a6.2 3.6 6.9 1 0 12.3 1.5a6.2 3.6 6.9 1 0 -12.3 -1.5zM598.2 692.1a5.4 3.3 74.9 1 0 2.8 10.5a5.4 3.3 74.9 1 0 -2.8 -10.5zM534 680.1a5.8 3.4 201.5 1 0 -10.8 -4.3a5.8 3.4 201.5 1 0 10.8 4.3zM467.5 666.2a7.2 3.6 150.9 1 0 -12.5 7a7.2 3.6 150.9 1 0 12.5 -7zM499.5 685.8a5.6 3.5 95.2 1 0 -1 11.1a5.6 3.5 95.2 1 0 1 -11.1zM569.9 656.5a6.4 3.4 68.4 1 0 4.7 11.8a6.4 3.4 68.4 1 0 -4.7 -11.8zM528.5 720.4a6.3 3.4 91.8 1 0 -.4 12.6a6.3 3.4 91.8 1 0 .4 -12.6zM545.2 718.7a6.8 3.5 154.9 1 0 -12.2 5.7a6.8 3.5 154.9 1 0 12.2 -5.7zM509.9 685.8a5.5 3.4 155.5 1 0 -10 4.5a5.5 3.4 155.5 1 0 10 -4.5zM594 703.7a6.9 3.6 181.3 1 0 -13.9 -.3a6.9 3.6 181.3 1 0 13.9 .3zM761.4 246.3a8.4 4.9 -15.9 1 0 16.2 -4.6a8.4 4.9 -15.9 1 0 -16.2 4.6zM767.7 231.3a5.9 3.6 26.6 1 0 10.6 5.3a5.9 3.6 26.6 1 0 -10.6 -5.3zM777.7 228.2a4.8 2.3 -26.6 1 0 8.7 -4.3a4.8 2.3 -26.6 1 0 -8.7 4.3zM778.8 251.9a6.6 3.6 -31 1 0 11.3 -6.8a6.6 3.6 -31 1 0 -11.3 6.8zM783.7 261.9a6.9 3.6 -51.3 1 0 8.6 -10.8a6.9 3.6 -51.3 1 0 -8.6 10.8zM799.2 240.4a7.6 3.6 -39.8 1 0 11.7 -9.7a7.6 3.6 -39.8 1 0 -11.7 9.7zM818.4 240.6a7.9 3.6 -45 1 0 11.2 -11.2a7.9 3.6 -45 1 0 -11.2 11.2zM768.6 273.4a6.4 3.6 -21.8 1 0 11.9 -4.7a6.4 3.6 -21.8 1 0 -11.9 4.7zM783.4 272.6a5.8 3.6 -45 1 0 8.2 -8.2a5.8 3.6 -45 1 0 -8.2 8.2zM840.4 249.7a8.8 3.6 -11.3 1 0 17.3 -3.5a8.8 3.6 -11.3 1 0 -17.3 3.5zM872.3 274.6a8.7 3.6 5.7 1 0 17.4 1.7a8.7 3.6 5.7 1 0 -17.4 -1.7zM860.9 286.1a5.5 3.6 -33.7 1 0 9.2 -6.1a5.5 3.6 -33.7 1 0 -9.2 6.1zM879.4 305.4a10 4.9 -16.7 1 0 19.2 -5.8a10 4.9 -16.7 1 0 -19.2 5.8zM917.3 346.2a7.8 4.9 9.5 1 0 15.5 2.6a7.8 4.9 9.5 1 0 -15.5 -2.6zM925.6 372.8a7.6 3.6 -50.2 1 0 9.7 -11.7a7.6 3.6 -50.2 1 0 -9.7 11.7zM898.4 352.6a5.1 3.6 -45 1 0 7.2 -7.2a5.1 3.6 -45 1 0 -7.2 7.2zM809.2 317.4a7.6 3.6 -39.8 1 0 11.7 -9.7a7.6 3.6 -39.8 1 0 -11.7 9.7zM813.4 304.6a6.5 3.6 -45 1 0 9.2 -9.2a6.5 3.6 -45 1 0 -9.2 9.2zM829.2 273.8a5.4 2.3 -45 1 0 7.7 -7.7a5.4 2.3 -45 1 0 -7.7 7.7zM943.4 282.7a7.6 2.3 5.7 1 0 15.2 1.5a7.6 2.3 5.7 1 0 -15.2 -1.5zM945.4 297.3a6.6 2.3 -7.1 1 0 13.2 -1.6a6.6 2.3 -7.1 1 0 -13.2 1.6zM923.7 307.2a4.8 2.3 -26.6 1 0 8.7 -4.3a4.8 2.3 -26.6 1 0 -8.7 4.3zM738.4 296.1a5.1 2.3 -53.1 1 0 6.1 -8.2a5.1 2.3 -53.1 1 0 -6.1 8.2zM729.2 280.5a4.2 2.3 -71.6 1 0 2.6 -7.9a4.2 2.3 -71.6 1 0 -2.6 7.9zM853.4 380.4a5.1 3.6 45 1 0 7.2 7.2a5.1 3.6 45 1 0 -7.2 -7.2zM928.4 383.7a11.8 3.6 -10.6 1 0 23.3 -4.4a11.8 3.6 -10.6 1 0 -23.3 4.4zM849.5 220.6a6.7 2.3 -14 1 0 13 -3.3a6.7 2.3 -14 1 0 -13 3.3zM828.2 352.5a4.2 2.3 71.6 1 0 2.6 7.9a4.2 2.3 71.6 1 0 -2.6 -7.9zM785.8 346.4a4.4 2.3 -33.7 1 0 7.3 -4.9a4.4 2.3 -33.7 1 0 -7.3 4.9zM732.2 231.8a5.4 2.3 -45 1 0 7.7 -7.7a5.4 2.3 -45 1 0 -7.7 7.7zM830.6 281.8a6.2 2.3 56.3 1 0 6.9 10.3a6.2 2.3 56.3 1 0 -6.9 -10.3zM846.2 295.8a5.4 2.3 -45 1 0 7.7 -7.7a5.4 2.3 -45 1 0 -7.7 7.7zM885.7 326.8a4.8 2.3 26.6 1 0 8.7 4.3a4.8 2.3 26.6 1 0 -8.7 -4.3zM904.6 241a5.3 2.3 -21.8 1 0 9.8 -3.9a5.3 2.3 -21.8 1 0 -9.8 3.9zM934.4 382.7a8.8 3.6 -11.3 1 0 17.3 -3.5a8.8 3.6 -11.3 1 0 -17.3 3.5zM928.3 440.5a7.7 3.6 7.1 1 0 15.3 1.9a7.7 3.6 7.1 1 0 -15.3 -1.9zM945.4 447.7a7.6 2.3 5.7 1 0 15.2 1.5a7.6 2.3 5.7 1 0 -15.2 -1.5zM886.4 462a7.6 2.3 0 1 0 15.2 0a7.6 2.3 0 1 0 -15.2 -0zM934.3 462a6.2 3.6 0 1 0 12.4 0a6.2 3.6 0 1 0 -12.4 -0zM893.4 491a7.3 3.6 -15.9 1 0 14.1 -4a7.3 3.6 -15.9 1 0 -14.1 4zM904.3 501.5a7.7 3.6 7.1 1 0 15.3 1.9a7.7 3.6 7.1 1 0 -15.3 -1.9zM914.4 510.7a8.8 3.6 -11.3 1 0 17.3 -3.5a8.8 3.6 -11.3 1 0 -17.3 3.5zM926.4 484.6a6.1 2.3 8.1 1 0 12.1 1.7a6.1 2.3 8.1 1 0 -12.1 -1.7zM954.4 478.3a8.8 3.6 11.3 1 0 17.3 3.5a8.8 3.6 11.3 1 0 -17.3 -3.5zM983.4 479a6.6 2.3 0 1 0 13.2 0a6.6 2.3 0 1 0 -13.2 -0zM941.7 492.8a7.1 2.3 26.6 1 0 12.7 6.3a7.1 2.3 26.6 1 0 -12.7 -6.3zM879.4 527.8a8.6 2.3 4.8 1 0 17.2 1.4a8.6 2.3 4.8 1 0 -17.2 -1.4zM880.3 537.6a8.7 3.6 5.7 1 0 17.4 1.7a8.7 3.6 5.7 1 0 -17.4 -1.7zM897.6 544a5.3 2.3 21.8 1 0 9.8 3.9a5.3 2.3 21.8 1 0 -9.8 -3.9zM973.4 546a7.6 2.3 0 1 0 15.2 0a7.6 2.3 0 1 0 -15.2 -0zM941.4 530a6.6 2.3 0 1 0 13.2 0a6.6 2.3 0 1 0 -13.2 -0zM997.4 505.7a7.6 2.3 5.7 1 0 15.2 1.5a7.6 2.3 5.7 1 0 -15.2 -1.5zM1015.6 407a5.3 2.3 -21.8 1 0 9.8 -3.9a5.3 2.3 -21.8 1 0 -9.8 3.9zM962.6 512.5a4.7 1.1 -18.4 1 0 8.8 -2.9a4.7 1.1 -18.4 1 0 -8.8 2.9zM883.4 499.7a6.6 2.3 7.1 1 0 13.2 1.6a6.6 2.3 7.1 1 0 -13.2 -1.6zM906.4 557.7a7.1 2.3 6.3 1 0 14.2 1.6a7.1 2.3 6.3 1 0 -14.2 -1.6zM854.2 385.8a4 2.3 -45 1 0 5.7 -5.7a4 2.3 -45 1 0 -5.7 5.7zM903.8 454.6a4.4 2.3 33.7 1 0 7.3 4.9a4.4 2.3 33.7 1 0 -7.3 -4.9zM981.5 441.6a4.7 2.3 -14 1 0 9 -2.3a4.7 2.3 -14 1 0 -9 2.3zM613.9 682.5a8.9 3.6 73.3 1 0 5.1 17.1a8.9 3.6 73.3 1 0 -5.1 -17.1zM602.8 694.5a6.9 3.6 71.6 1 0 4.3 13a6.9 3.6 71.6 1 0 -4.3 -13zM628.8 674.3a7.1 2.3 -63.4 1 0 6.3 -12.7a7.1 2.3 -63.4 1 0 -6.3 12.7zM653.4 679.5a4.7 2.3 76 1 0 2.3 9a4.7 2.3 76 1 0 -2.3 -9zM686.6 667.4a5.6 2.3 80.5 1 0 1.9 11.1a5.6 2.3 80.5 1 0 -1.9 -11.1zM672.3 716.7a7.1 3.6 63.4 1 0 6.3 12.6a7.1 3.6 63.4 1 0 -6.3 -12.6zM694.8 705.7a6 2.3 63.4 1 0 5.3 10.7a6 2.3 63.4 1 0 -5.3 -10.7zM716.6 669.8a6.2 2.3 56.3 1 0 6.9 10.3a6.2 2.3 56.3 1 0 -6.9 -10.3zM786.3 678.7a8.2 3.6 63.4 1 0 7.3 14.6a8.2 3.6 63.4 1 0 -7.3 -14.6zM821.9 669.7a9.3 4.9 63.4 1 0 8.3 16.6a9.3 4.9 63.4 1 0 -8.3 -16.6zM810.8 681.7a6 2.3 63.4 1 0 5.3 10.7a6 2.3 63.4 1 0 -5.3 -10.7zM838.7 650.3a7.1 3.6 26.6 1 0 12.6 6.3a7.1 3.6 26.6 1 0 -12.6 -6.3zM863.5 655.4a4.7 2.3 14 1 0 9 2.3a4.7 2.3 14 1 0 -9 -2.3zM759.8 663.7a4.8 2.3 63.4 1 0 4.3 8.7a4.8 2.3 63.4 1 0 -4.3 -8.7zM747.4 673.5a4.7 2.3 76 1 0 2.3 9a4.7 2.3 76 1 0 -2.3 -9zM782.8 699.4a4.4 2.3 -33.7 1 0 7.3 -4.9a4.4 2.3 -33.7 1 0 -7.3 4.9zM806.6 733.2a8.3 3.6 49.4 1 0 10.8 12.6a8.3 3.6 49.4 1 0 -10.8 -12.6zM821.1 752.4a5.8 3.6 76 1 0 2.8 11.2a5.8 3.6 76 1 0 -2.8 -11.2zM814.6 760.3a8.7 3.6 84.3 1 0 1.7 17.4a8.7 3.6 84.3 1 0 -1.7 -17.4zM836.4 753.9a5.1 2.3 53.1 1 0 6.1 8.2a5.1 2.3 53.1 1 0 -6.1 -8.2zM825.4 731.5a4.7 2.3 76 1 0 2.3 9a4.7 2.3 76 1 0 -2.3 -9zM664.8 741.7a4.8 2.3 63.4 1 0 4.3 8.7a4.8 2.3 63.4 1 0 -4.3 -8.7zM682.2 745.5a5.8 2.3 71.6 1 0 3.6 10.9a5.8 2.3 71.6 1 0 -3.6 -10.9zM731.8 757.7a4.8 2.3 63.4 1 0 4.3 8.7a4.8 2.3 63.4 1 0 -4.3 -8.7zM808.4 783.5a4.7 2.3 76 1 0 2.3 9a4.7 2.3 76 1 0 -2.3 -9zM793.4 803.5a4.7 2.3 76 1 0 2.3 9a4.7 2.3 76 1 0 -2.3 -9zM822.2 797.5a5.8 2.3 71.6 1 0 3.6 10.9a5.8 2.3 71.6 1 0 -3.6 -10.9zM719.6 697.8a6.2 2.3 56.3 1 0 6.9 10.3a6.2 2.3 56.3 1 0 -6.9 -10.3zM644.2 761.5a5.8 2.3 71.6 1 0 3.6 10.9a5.8 2.3 71.6 1 0 -3.6 -10.9zM637.2 785.5a5.8 2.3 71.6 1 0 3.6 10.9a5.8 2.3 71.6 1 0 -3.6 -10.9zM609.8 775.7a4.8 2.3 63.4 1 0 4.3 8.7a4.8 2.3 63.4 1 0 -4.3 -8.7zM749.2 726.5a4.5 1.1 99.5 1 0 -1.5 9a4.5 1.1 99.5 1 0 1.5 -9zM662.2 717.5a5.8 2.3 71.6 1 0 3.6 10.9a5.8 2.3 71.6 1 0 -3.6 -10.9zM454.4 346.4a7.9 3.6 45 1 0 11.2 11.2a7.9 3.6 45 1 0 -11.2 -11.2zM466.4 362.4a7.9 3.6 45 1 0 11.2 11.2a7.9 3.6 45 1 0 -11.2 -11.2zM450.4 338.4a6.5 3.6 45 1 0 9.2 9.2a6.5 3.6 45 1 0 -9.2 -9.2zM473.9 374a8.4 3.6 32 1 0 14.3 8.9a8.4 3.6 32 1 0 -14.3 -8.9zM456.7 352.9a8.2 4.9 26.6 1 0 14.6 7.3a8.2 4.9 26.6 1 0 -14.6 -7.3zM450.8 281.5a6.9 3.6 71.6 1 0 4.3 13a6.9 3.6 71.6 1 0 -4.3 -13zM518.7 272.1a6.9 3.6 51.3 1 0 8.6 10.8a6.9 3.6 51.3 1 0 -8.6 -10.8zM517.2 299.8a7.7 3.6 60.3 1 0 7.7 13.4a7.7 3.6 60.3 1 0 -7.7 -13.4zM495 293.3a6.5 2.3 39.8 1 0 10 8.3a6.5 2.3 39.8 1 0 -10 -8.3zM539.6 268.2a7.6 3.6 50.2 1 0 9.7 11.7a7.6 3.6 50.2 1 0 -9.7 -11.7zM560 286.8a6.2 3.6 36.9 1 0 9.9 7.4a6.2 3.6 36.9 1 0 -9.9 -7.4zM567.9 290.9a7.3 3.6 33.7 1 0 12.2 8.1a7.3 3.6 33.7 1 0 -12.2 -8.1zM548.8 327.1a6.6 3.6 31 1 0 11.3 6.8a6.6 3.6 31 1 0 -11.3 -6.8zM551.6 308.8a4.4 2.3 56.3 1 0 4.9 7.3a4.4 2.3 56.3 1 0 -4.9 -7.3zM582.4 324a5.8 2.3 51.3 1 0 7.2 9.1a5.8 2.3 51.3 1 0 -7.2 -9.1zM522.4 339.4a5.8 3.6 45 1 0 8.2 8.2a5.8 3.6 45 1 0 -8.2 -8.2zM532.8 338a6.2 3.6 53.1 1 0 7.4 9.9a6.2 3.6 53.1 1 0 -7.4 -9.9zM545.1 363.8a9.5 3.6 59 1 0 9.8 16.3a9.5 3.6 59 1 0 -9.8 -16.3zM549.4 382.9a7.6 2.3 53.1 1 0 9.1 12.2a7.6 2.3 53.1 1 0 -9.1 -12.2zM508.5 384.4a6.7 2.3 14 1 0 13 3.3a6.7 2.3 14 1 0 -13 -3.3zM528.8 387.6a6.2 2.3 33.7 1 0 10.3 6.9a6.2 2.3 33.7 1 0 -10.3 -6.9zM540 417.4a5.8 2.3 38.7 1 0 9.1 7.2a5.8 2.3 38.7 1 0 -9.1 -7.2zM530.7 421.1a6.9 3.6 51.3 1 0 8.6 10.8a6.9 3.6 51.3 1 0 -8.6 -10.8zM371.6 397.6a9.1 3.6 21.8 1 0 16.9 6.7a9.1 3.6 21.8 1 0 -16.9 -6.7zM399.7 417.3a8.2 3.6 26.6 1 0 14.6 7.3a8.2 3.6 26.6 1 0 -14.6 -7.3zM418.6 424.1a6.9 2.3 20.6 1 0 12.9 4.8a6.9 2.3 20.6 1 0 -12.9 -4.8zM437.5 431.8a10 3.6 18.4 1 0 19 6.3a10 3.6 18.4 1 0 -19 -6.3zM386.5 438.2a5.8 2.3 18.4 1 0 10.9 3.6a5.8 2.3 18.4 1 0 -10.9 -3.6zM455.2 375.2a8.3 2.3 45 1 0 11.7 11.7a8.3 2.3 45 1 0 -11.7 -11.7zM467.6 294.8a6.2 2.3 56.3 1 0 6.9 10.3a6.2 2.3 56.3 1 0 -6.9 -10.3zM526.5 422.7a7.5 3.6 53.1 1 0 9 11.9a7.5 3.6 53.1 1 0 -9 -11.9zM539 416.5a7.1 3.6 26.6 1 0 12.6 6.3a7.1 3.6 26.6 1 0 -12.6 -6.3zM549.5 434.4a5.8 2.3 45 1 0 8.2 8.2a5.8 2.3 45 1 0 -8.2 -8.2zM558 442.6a6 2.3 26.6 1 0 10.7 5.3a6 2.3 26.6 1 0 -10.7 -5.3zM548.8 450.5a6.5 2.3 16.7 1 0 12.5 3.8a6.5 2.3 16.7 1 0 -12.5 -3.8zM564.5 450.2a5.8 2.3 45 1 0 8.2 8.2a5.8 2.3 45 1 0 -8.2 -8.2zM512.7 384.4a5.7 2.3 14 1 0 11.1 2.8a5.7 2.3 14 1 0 -11.1 -2.8zM526.8 388.2a7.8 3.6 21.8 1 0 14.4 5.8a7.8 3.6 21.8 1 0 -14.4 -5.8zM543.1 395.6a5.3 2.3 33.7 1 0 8.8 5.9a5.3 2.3 33.7 1 0 -8.8 -5.9zM549.1 371.6a7.5 3.6 53.1 1 0 9 11.9a7.5 3.6 53.1 1 0 -9 -11.9zM556.6 377.6a7.5 3.6 53.1 1 0 9 11.9a7.5 3.6 53.1 1 0 -9 -11.9zM555 391.4a6 2.3 26.6 1 0 10.7 5.3a6 2.3 26.6 1 0 -10.7 -5.3zM565.7 394.1a5.3 2.3 33.7 1 0 8.8 5.9a5.3 2.3 33.7 1 0 -8.8 -5.9zM525.4 375.7a4.7 2.3 45 1 0 6.7 6.7a4.7 2.3 45 1 0 -6.7 -6.7zM500.9 414a6 2.3 26.6 1 0 10.7 5.3a6 2.3 26.6 1 0 -10.7 -5.3zM497.7 394.7a5.8 2.3 20.6 1 0 10.9 4.1a5.8 2.3 20.6 1 0 -10.9 -4.1zM479.5 374.9a9 3.6 45 1 0 12.8 12.8a9 3.6 45 1 0 -12.8 -12.8zM470.6 397.8a8.9 2.3 17.4 1 0 17 5.3a8.9 2.3 17.4 1 0 -17 -5.3zM440.5 433.9a7.4 2.3 18.4 1 0 14 4.7a7.4 2.3 18.4 1 0 -14 -4.7zM551.8 471.7a7.3 2.3 14 1 0 14.1 3.5a7.3 2.3 14 1 0 -14.1 -3.5zM557.9 494.1a6.5 2.3 16.7 1 0 12.5 3.8a6.5 2.3 16.7 1 0 -12.5 -3.8zM556.4 507.5a5.8 2.3 20.6 1 0 10.9 4.1a5.8 2.3 20.6 1 0 -10.9 -4.1zM589.5 474.6a6.5 2.3 16.7 1 0 12.5 3.8a6.5 2.3 16.7 1 0 -12.5 -3.8zM440.6 515a5.8 2.3 20.6 1 0 10.9 4.1a5.8 2.3 20.6 1 0 -10.9 -4.1zM582.1 451.6a6 2.3 26.6 1 0 10.7 5.3a6 2.3 26.6 1 0 -10.7 -5.3zM521.9 411a6 2.3 26.6 1 0 10.7 5.3a6 2.3 26.6 1 0 -10.7 -5.3zM573.8 405.5a6.4 2.3 53.1 1 0 7.6 10.2a6.4 2.3 53.1 1 0 -7.6 -10.2zM842.4 577.4a9.8 3.6 9.5 1 0 19.3 3.2a9.8 3.6 9.5 1 0 -19.3 -3.2zM969.5 655.4a6.7 2.3 14 1 0 13 3.3a6.7 2.3 14 1 0 -13 -3.3zM888.9 623.9a7.3 3.6 33.7 1 0 12.2 8.1a7.3 3.6 33.7 1 0 -12.2 -8.1zM875.9 638.9a7.3 3.6 56.3 1 0 8.1 12.2a7.3 3.6 56.3 1 0 -8.1 -12.2zM903.9 652.4a7.6 2.3 36.9 1 0 12.2 9.1a7.6 2.3 36.9 1 0 -12.2 -9.1zM937.7 665.8a6 2.3 26.6 1 0 10.7 5.3a6 2.3 26.6 1 0 -10.7 -5.3zM939.2 705.6a7.6 3.6 39.8 1 0 11.7 9.7a7.6 3.6 39.8 1 0 -11.7 -9.7zM1015.2 574.2a5.4 2.3 45 1 0 7.7 7.7a5.4 2.3 45 1 0 -7.7 -7.7zM953.7 570.8a7.1 2.3 26.6 1 0 12.7 6.3a7.1 2.3 26.6 1 0 -12.7 -6.3zM893.5 571.4a4.7 2.3 14 1 0 9 2.3a4.7 2.3 14 1 0 -9 -2.3zM568.6 197.3a8.2 3.6 83.7 1 0 1.8 16.4a8.2 3.6 83.7 1 0 -1.8 -16.4zM534.5 218.3a7.7 3.6 82.9 1 0 1.9 15.3a7.7 3.6 82.9 1 0 -1.9 -15.3zM566.6 254.3a8.7 3.6 84.3 1 0 1.7 17.4a8.7 3.6 84.3 1 0 -1.7 -17.4zM602.5 240.3a7.7 3.6 82.9 1 0 1.9 15.3a7.7 3.6 82.9 1 0 -1.9 -15.3zM586.7 246.3a9.7 3.6 85.2 1 0 1.6 19.4a9.7 3.6 85.2 1 0 -1.6 -19.4zM619.3 258.4a8.8 3.6 78.7 1 0 3.5 17.3a8.8 3.6 78.7 1 0 -3.5 -17.3zM626.5 240.3a7.7 3.6 82.9 1 0 1.9 15.3a7.7 3.6 82.9 1 0 -1.9 -15.3zM630.7 262.5a8 3.6 69.4 1 0 5.6 14.9a8 3.6 69.4 1 0 -5.6 -14.9zM647.3 252.4a8.8 3.6 78.7 1 0 3.5 17.3a8.8 3.6 78.7 1 0 -3.5 -17.3zM666.5 241.3a7.2 3.6 81.9 1 0 2 14.3a7.2 3.6 81.9 1 0 -2 -14.3zM686.1 250.4a7.8 3.6 76 1 0 3.8 15.2a7.8 3.6 76 1 0 -3.8 -15.2zM711.5 270.3a7.7 3.6 82.9 1 0 1.9 15.3a7.7 3.6 82.9 1 0 -1.9 -15.3zM713.9 196.5a8.9 3.6 73.3 1 0 5.1 17.1a8.9 3.6 73.3 1 0 -5.1 -17.1zM627.5 197.3a7.2 3.6 81.9 1 0 2 14.3a7.2 3.6 81.9 1 0 -2 -14.3zM647.5 201.5a5.1 2.3 78.7 1 0 2 10.1a5.1 2.3 78.7 1 0 -2 -10.1zM672.5 176.3a7.7 3.6 82.9 1 0 1.9 15.3a7.7 3.6 82.9 1 0 -1.9 -15.3zM634.7 177.4a6.6 2.3 82.9 1 0 1.6 13.2a6.6 2.3 82.9 1 0 -1.6 -13.2zM691.5 196.5a5.1 2.3 78.7 1 0 2 10.1a5.1 2.3 78.7 1 0 -2 -10.1zM558.5 182.5a5.1 2.3 78.7 1 0 2 10.1a5.1 2.3 78.7 1 0 -2 -10.1zM625.9 322.9a7.3 3.6 56.3 1 0 8.1 12.2a7.3 3.6 56.3 1 0 -8.1 -12.2zM666.6 319.4a5.6 2.3 80.5 1 0 1.9 11.1a5.6 2.3 80.5 1 0 -1.9 -11.1zM422.6 477a6.4 2.3 23.2 1 0 11.8 5a6.4 2.3 23.2 1 0 -11.8 -5zM390.6 492a8 2.3 21.8 1 0 14.8 5.9a8 2.3 21.8 1 0 -14.8 -5.9zM398.5 512.2a5.8 2.3 18.4 1 0 10.9 3.6a5.8 2.3 18.4 1 0 -10.9 -3.6zM518.4 522.8a10.6 2.3 3.6 1 0 21.2 1.3a10.6 2.3 3.6 1 0 -21.2 -1.3zM438.4 548.7a6.6 2.3 7.1 1 0 13.2 1.6a6.6 2.3 7.1 1 0 -13.2 -1.6zM458.4 553.7a6.6 2.3 7.1 1 0 13.2 1.6a6.6 2.3 7.1 1 0 -13.2 -1.6zM421.4 562.6a6.1 2.3 8.1 1 0 12.1 1.7a6.1 2.3 8.1 1 0 -12.1 -1.7zM443.5 567.6a4.7 2.3 -14 1 0 9 -2.3a4.7 2.3 -14 1 0 -9 2.3zM434.5 579.8a5.8 2.3 -18.4 1 0 10.9 -3.6a5.8 2.3 -18.4 1 0 -10.9 3.6zM430.7 586.2a4.8 2.3 -26.6 1 0 8.7 -4.3a4.8 2.3 -26.6 1 0 -8.7 4.3zM416.5 587.6a4.7 2.3 -14 1 0 9 -2.3a4.7 2.3 -14 1 0 -9 2.3zM456.5 583.5a5.1 2.3 -11.3 1 0 10.1 -2a5.1 2.3 -11.3 1 0 -10.1 2zM402.5 601.3a7.8 2.3 16.7 1 0 15 4.5a7.8 2.3 16.7 1 0 -15 -4.5zM426.4 608.6a5.6 2.3 9.5 1 0 11.1 1.9a5.6 2.3 9.5 1 0 -11.1 -1.9zM421.4 617.3a6.6 2.3 -7.1 1 0 13.2 -1.6a6.6 2.3 -7.1 1 0 -13.2 1.6zM448.4 633.6a8.7 2.3 9.5 1 0 17.1 2.9a8.7 2.3 9.5 1 0 -17.1 -2.9zM432.4 649.4a5.6 2.3 -9.5 1 0 11.1 -1.9a5.6 2.3 -9.5 1 0 -11.1 1.9zM530.4 593.3a6.6 2.3 -7.1 1 0 13.2 -1.6a6.6 2.3 -7.1 1 0 -13.2 1.6zM510.4 576.3a6.6 2.3 -7.1 1 0 13.2 -1.6a6.6 2.3 -7.1 1 0 -13.2 1.6zM522.7 620.2a4.8 2.3 -26.6 1 0 8.7 -4.3a4.8 2.3 -26.6 1 0 -8.7 4.3zM534.8 630.3a5.5 2.3 -31 1 0 9.5 -5.7a5.5 2.3 -31 1 0 -9.5 5.7zM543.5 603.6a4.7 2.3 -14 1 0 9 -2.3a4.7 2.3 -14 1 0 -9 2.3zM567.4 633.4a6.1 2.3 -8.1 1 0 12.1 -1.7a6.1 2.3 -8.1 1 0 -12.1 1.7zM574.4 638.4a5.6 2.3 -9.5 1 0 11.1 -1.9a5.6 2.3 -9.5 1 0 -11.1 1.9zM561.2 640.2a4 2.3 45 1 0 5.7 5.7a4 2.3 45 1 0 -5.7 -5.7zM549.5 559.8a4.2 2.3 -18.4 1 0 7.9 -2.6a4.2 2.3 -18.4 1 0 -7.9 2.6zM466.7 622.2a3.7 2.3 -26.6 1 0 6.7 -3.3a3.7 2.3 -26.6 1 0 -6.7 3.3z"/>
<path stroke="#f3cda6" stroke-width="9.4" d="M454 328Q460 335 464 337.2Q468 339.4 472.5 341.2Q477 343 482 343.5Q487 344 493 342"/>
<path stroke="#f3cda6" stroke-width="7.6" d="M828 216Q840 213 852 211M933 425Q944 424 955 425M906 479Q914 482 922 485M691 728Q693 738 698 745M808 670Q816 678 822 683M466 342Q472 353 475.5 358Q479 363 483.5 367Q488 371 498 378.6M499 355Q505 361 508.5 362.5Q512 364 521 367"/>
<path stroke="#b2c4e2" stroke-width="7.6" d="M807 271Q816 267 820 265Q824 263 829 261M898 323Q906 324 912 322M452 344Q460 353 464.5 359Q469 365 475 371Q481 377 493 385M920 593Q930 596 940 601"/>
<path stroke="#f3cda6" stroke-width="6.4" d="M788 230Q794 220 802 214M811 250Q815 260 818 264M808 271.6Q816 270.4 824 268.4M814 276Q816 286 814 296M881 295Q886 286 892 283M906 330Q912 328 918 337M938 402Q947 395 952 385M930 436Q938 432 941 427M895 484Q902 476 906 473M957 463Q966 461 974 462M758 678Q762 688 770 696M714 770Q717 778 716 786M476 354Q483 358 486 361.5Q489 365 497 374M434 277Q438 287 440 292.5Q442 298 444.5 304Q447 310 453 323M463 443Q475 448 482 449Q489 450 496 449.3Q503 448.6 509 447.3Q515 446 529 439.4M474.6 392.6Q482.1 395.6 489.6 400.1M970 618Q978 620 986 626M958 637Q966 638 974 640M595 264Q600 274 606 284"/>
<path stroke="#b2c4e2" stroke-width="6.4" d="M744 217Q752 210 755 202M826 246Q829 254 828 261M856 274Q862 267 864 263M915 315Q922 313 923 318M918 388Q928 386 940 390M918 402Q926 400 936 405M940 413Q948 417 954 419M944 555Q952 554 962 553M776 676Q781 682 784 686M463 315Q469 323 473 331M485 329Q493 331 498 335M926 576Q936 580 944 584M956 618Q966 622 971 625Q976 628 985 632M950 640Q958 648 966 654M694 258Q697 268 700 278"/>
<path stroke="#b2c4e2" stroke-width="5.0" d="M968 439Q974 435 979 432M413 551Q423 550 435 551"/>
<path stroke="#f3cda6" stroke-width="5.0" d="M610 240Q616 246 618 250M401 547Q411 545 421 543M419 610Q425 606 430 605Q435 604 441 601M567 631Q575 627 581 623"/>
</g>
<filter id="nb3" x="-3%" y="-3%" width="106%" height="106%" color-interpolation-filters="sRGB"><feTurbulence type="fractalNoise" baseFrequency="0.05" numOctaves="2" seed="5" result="t"/><feDisplacementMap in="SourceGraphic" in2="t" scale="7" xChannelSelector="R" yChannelSelector="G" result="d"/><feGaussianBlur in="d" stdDeviation="0.8"/></filter>
<g filter="url(#nb3)" fill="none" stroke-linecap="round" stroke-linejoin="round">
<path fill="#e27e1e" d="M763.7 275.9a4.5 1.3 -44.2 1 0 6.5 -6.3a4.5 1.3 -44.2 1 0 -6.5 6.3zM564.3 342a4.7 1.3 -192.8 1 0 -9.1 2.1a4.7 1.3 -192.8 1 0 9.1 -2.1zM898.8 590.5a4.7 1.5 -42.4 1 0 7 -6.4a4.7 1.5 -42.4 1 0 -7 6.4zM463.4 280.7a5.5 1.6 -149.9 1 0 -9.4 -5.5a5.5 1.6 -149.9 1 0 9.4 5.5zM616.2 817.1a4.6 1.5 138.7 1 0 -6.9 6a4.6 1.5 138.7 1 0 6.9 -6zM846.7 299.7a4.8 1.6 -6.9 1 0 9.4 -1.1a4.8 1.6 -6.9 1 0 -9.4 1.1zM447.6 431.4a3.7 1.5 -211.2 1 0 -6.3 3.8a3.7 1.5 -211.2 1 0 6.3 -3.8zM859.7 621.3a3 1.3 48 1 0 4 4.5a3 1.3 48 1 0 -4 -4.5zM780.7 308.2a4.2 1.1 -20.5 1 0 7.8 -2.9a4.2 1.1 -20.5 1 0 -7.8 2.9zM543.7 627.7a5.2 1.5 107.3 1 0 -3.1 10a5.2 1.5 107.3 1 0 3.1 -10zM575 695.5a4 1.1 127.3 1 0 -4.8 6.3a4 1.1 127.3 1 0 4.8 -6.3zM503.7 290.1a5.2 1.1 -159.6 1 0 -9.7 -3.6a5.2 1.1 -159.6 1 0 9.7 3.6zM903.9 507.4a2.7 1.5 59.4 1 0 2.8 4.7a2.7 1.5 59.4 1 0 -2.8 -4.7zM545.1 659.6a2.8 1.4 114.5 1 0 -2.3 5a2.8 1.4 114.5 1 0 2.3 -5zM852.1 629.1a5.3 1.1 53.6 1 0 6.3 8.5a5.3 1.1 53.6 1 0 -6.3 -8.5zM933.2 554.2a5.2 1.1 79.6 1 0 1.9 10.2a5.2 1.1 79.6 1 0 -1.9 -10.2zM895.4 513.3a5 1.5 57.5 1 0 5.4 8.5a5 1.5 57.5 1 0 -5.4 -8.5zM933.1 406.1a4.9 1.3 50.2 1 0 6.3 7.6a4.9 1.3 50.2 1 0 -6.3 -7.6zM929.9 501.7a4.6 1.5 45.9 1 0 6.4 6.6a4.6 1.5 45.9 1 0 -6.4 -6.6zM590.1 311.3a3.7 1.3 -114.9 1 0 -3.1 -6.6a3.7 1.3 -114.9 1 0 3.1 6.6zM772.9 223a3.2 1.1 -35.1 1 0 5.2 -3.6a3.2 1.1 -35.1 1 0 -5.2 3.6zM780.8 696.3a5.2 1.1 74.1 1 0 2.8 9.9a5.2 1.1 74.1 1 0 -2.8 -9.9zM531.9 337.1a4.2 1.4 -151.8 1 0 -7.3 -3.9a4.2 1.4 -151.8 1 0 7.3 3.9zM812.5 306.2a4 1.2 -54.4 1 0 4.6 -6.5a4 1.2 -54.4 1 0 -4.6 6.5zM517.4 693.6a3.7 1.3 155.8 1 0 -6.7 3a3.7 1.3 155.8 1 0 6.7 -3zM912.2 450.7a4.2 1.1 -48.8 1 0 5.5 -6.3a4.2 1.1 -48.8 1 0 -5.5 6.3zM533.9 683.8a2.9 1.4 49.8 1 0 3.8 4.5a2.9 1.4 49.8 1 0 -3.8 -4.5zM723.4 299.9a3.4 1.1 -114.7 1 0 -2.9 -6.3a3.4 1.1 -114.7 1 0 2.9 6.3zM829.4 319.4a4.7 1.4 -84.8 1 0 .9 -9.4a4.7 1.4 -84.8 1 0 -.9 9.4zM790.1 688.2a3.4 1.3 64.1 1 0 3 6.2a3.4 1.3 64.1 1 0 -3 -6.2zM507.5 406.1a3.9 1.1 -153.1 1 0 -6.9 -3.5a3.9 1.1 -153.1 1 0 6.9 3.5zM433.9 604a2.9 1.4 216.7 1 0 -4.7 -3.5a2.9 1.4 216.7 1 0 4.7 3.5zM897.9 480.3a4.9 1.2 20.1 1 0 9.2 3.4a4.9 1.2 20.1 1 0 -9.2 -3.4zM803.5 283.3a4.4 1.6 -1.6 1 0 8.9 -.2a4.4 1.6 -1.6 1 0 -8.9 .2zM838.4 325.2a4.5 1.1 -81.5 1 0 1.3 -9a4.5 1.1 -81.5 1 0 -1.3 9zM823.1 313.5a4.4 1.3 -65.8 1 0 3.6 -8a4.4 1.3 -65.8 1 0 -3.6 8zM520.5 674.4a3.3 1.4 166.4 1 0 -6.5 1.6a3.3 1.4 166.4 1 0 6.5 -1.6zM852.2 749.8a3.4 1.5 53.8 1 0 4.1 5.5a3.4 1.5 53.8 1 0 -4.1 -5.5zM477.1 508.7a4.9 1.1 177.9 1 0 -9.8 .4a4.9 1.1 177.9 1 0 9.8 -.4zM898.6 745.5a3.8 1.6 38 1 0 6 4.7a3.8 1.6 38 1 0 -6 -4.7zM643.6 815a2.7 1.6 87 1 0 .3 5.4a2.7 1.6 87 1 0 -.3 -5.4zM683.6 251.4a4.4 1.4 -156 1 0 -8 -3.5a4.4 1.4 -156 1 0 8 3.5zM462.7 357.5a3.6 1.2 -174.2 1 0 -7.1 -.7a3.6 1.2 -174.2 1 0 7.1 .7zM671.1 697.5a3.8 1.2 5.9 1 0 7.5 .8a3.8 1.2 5.9 1 0 -7.5 -.8zM535.3 699.1a2.7 1.4 209.5 1 0 -4.7 -2.7a2.7 1.4 209.5 1 0 4.7 2.7zM770.1 246.5a5.2 1.3 -140.1 1 0 -8 -6.7a5.2 1.3 -140.1 1 0 8 6.7zM841.6 586.2a4.6 1.2 61.6 1 0 4.4 8.1a4.6 1.2 61.6 1 0 -4.4 -8.1zM726.8 278.9a4.6 1.3 -137.6 1 0 -6.8 -6.2a4.6 1.3 -137.6 1 0 6.8 6.2zM564.9 316.5a4.2 1.2 -154.7 1 0 -7.6 -3.6a4.2 1.2 -154.7 1 0 7.6 3.6zM834.9 325.7a2.9 1.2 -41.2 1 0 4.4 -3.9a2.9 1.2 -41.2 1 0 -4.4 3.9zM1003.8 449.4a2.6 1.2 19.8 1 0 4.9 1.8a2.6 1.2 19.8 1 0 -4.9 -1.8zM471.5 502.1a4.9 1.2 175.6 1 0 -9.8 .8a4.9 1.2 175.6 1 0 9.8 -.8zM810.9 279.7a3.4 1.3 -69.5 1 0 2.4 -6.4a3.4 1.3 -69.5 1 0 -2.4 6.4zM833.9 323.5a4.4 1.5 -56.3 1 0 4.9 -7.4a4.4 1.5 -56.3 1 0 -4.9 7.4zM806 357a2.9 1.5 -113.9 1 0 -2.4 -5.4a2.9 1.5 -113.9 1 0 2.4 5.4zM822.8 690.6a4.8 1.2 9.6 1 0 9.5 1.6a4.8 1.2 9.6 1 0 -9.5 -1.6zM832.2 286a3.4 1.5 -127.7 1 0 -4.1 -5.3a3.4 1.5 -127.7 1 0 4.1 5.3zM492.8 546.8a4.8 1.5 234.7 1 0 -5.5 -7.8a4.8 1.5 234.7 1 0 5.5 7.8zM527.8 524.4a2.8 1.1 186.6 1 0 -5.5 -.6a2.8 1.1 186.6 1 0 5.5 .6zM515 655.2a3.2 1.4 135.6 1 0 -4.5 4.4a3.2 1.4 135.6 1 0 4.5 -4.4zM937.4 476.9a3.5 1.5 6.7 1 0 7 .8a3.5 1.5 6.7 1 0 -7 -.8zM568 761.1a3.8 1.3 132.4 1 0 -5.1 5.6a3.8 1.3 132.4 1 0 5.1 -5.6zM458.2 379.9a2.5 1.2 -145.1 1 0 -4.1 -2.9a2.5 1.2 -145.1 1 0 4.1 2.9zM972.1 458.3a4.8 1.4 -8.4 1 0 9.4 -1.4a4.8 1.4 -8.4 1 0 -9.4 1.4zM893.9 318.2a3.9 1.6 -66.7 1 0 3.1 -7.1a3.9 1.6 -66.7 1 0 -3.1 7.1zM595.1 771.1a4.5 1.5 127.4 1 0 -5.4 7.1a4.5 1.5 127.4 1 0 5.4 -7.1zM820.7 297.1a3.7 1.5 -43.3 1 0 5.4 -5.1a3.7 1.5 -43.3 1 0 -5.4 5.1zM598.1 336.4a4.8 1.5 -136.3 1 0 -7 -6.6a4.8 1.5 -136.3 1 0 7 6.6zM773.1 268.3a3.9 1.2 -22.4 1 0 7.1 -2.9a3.9 1.2 -22.4 1 0 -7.1 2.9zM634.3 256.3a3.5 1.3 -100.7 1 0 -1.3 -6.8a3.5 1.3 -100.7 1 0 1.3 6.8zM493.7 662.7a5.2 1.4 171.4 1 0 -10.3 1.6a5.2 1.4 171.4 1 0 10.3 -1.6zM487.5 255.9a3.8 1.5 -194.5 1 0 -7.4 1.9a3.8 1.5 -194.5 1 0 7.4 -1.9zM776.9 316.3a4.8 1.6 -107.7 1 0 -2.9 -9.1a4.8 1.6 -107.7 1 0 2.9 9.1zM923.2 610.2a4.6 1.2 -22.3 1 0 8.4 -3.5a4.6 1.2 -22.3 1 0 -8.4 3.5zM520.2 684.8a5.2 1.4 188.5 1 0 -10.2 -1.5a5.2 1.4 188.5 1 0 10.2 1.5zM643.4 292.7a5 1.4 -104.6 1 0 -2.5 -9.7a5 1.4 -104.6 1 0 2.5 9.7zM921.4 438.1a3.4 1.2 4.5 1 0 6.8 .5a3.4 1.2 4.5 1 0 -6.8 -.5zM870.2 756.3a5.1 1.6 53.6 1 0 6 8.2a5.1 1.6 53.6 1 0 -6 -8.2zM950.5 391.9a3.7 1.1 -73.7 1 0 2.1 -7.1a3.7 1.1 -73.7 1 0 -2.1 7.1zM514.7 484.6a2.6 1.6 -166.3 1 0 -5 -1.2a2.6 1.6 -166.3 1 0 5 1.2zM893.6 678.9a5.3 1.4 19.8 1 0 9.9 3.6a5.3 1.4 19.8 1 0 -9.9 -3.6zM783.1 707.3a3.9 1.5 21 1 0 7.3 2.8a3.9 1.5 21 1 0 -7.3 -2.8zM455.9 556.6a3.8 1.2 158.8 1 0 -7.1 2.8a3.8 1.2 158.8 1 0 7.1 -2.8zM910.5 577.9a4.3 1.2 105.6 1 0 -2.3 8.3a4.3 1.2 105.6 1 0 2.3 -8.3zM920.5 525.3a3.8 1.1 -17.6 1 0 7.3 -2.3a3.8 1.1 -17.6 1 0 -7.3 2.3zM496.3 526.3a4.8 1.1 242.6 1 0 -4.4 -8.6a4.8 1.1 242.6 1 0 4.4 8.6zM531.4 626a3 1.3 105.2 1 0 -1.6 5.9a3 1.3 105.2 1 0 1.6 -5.9zM943.9 555.2a3.8 1.6 -16.6 1 0 7.2 -2.2a3.8 1.6 -16.6 1 0 -7.2 2.2zM841.7 351.9a3 1.1 -51.1 1 0 3.8 -4.6a3 1.1 -51.1 1 0 -3.8 4.6zM748.3 311.9a3.7 1.5 -38.2 1 0 5.8 -4.6a3.7 1.5 -38.2 1 0 -5.8 4.6zM907.2 736.3a3.4 1.1 44.4 1 0 4.8 4.7a3.4 1.1 44.4 1 0 -4.8 -4.7zM942.3 434.8a4.5 1.5 -76.6 1 0 2.1 -8.8a4.5 1.5 -76.6 1 0 -2.1 8.8zM567.1 654.2a3.4 1.2 112.4 1 0 -2.6 6.2a3.4 1.2 112.4 1 0 2.6 -6.2zM924.4 521.7a3.5 1.3 -.3 1 0 7 -0a3.5 1.3 -.3 1 0 -7 0zM570.9 737.8a2.7 1.2 200.9 1 0 -5 -1.9a2.7 1.2 200.9 1 0 5 1.9zM910.9 650.5a2.6 1.4 -22.3 1 0 4.8 -2a2.6 1.4 -22.3 1 0 -4.8 2zM953.9 538.7a3.2 1.3 -33.5 1 0 5.4 -3.6a3.2 1.3 -33.5 1 0 -5.4 3.6zM987.1 398.1a5.4 1.3 -23.5 1 0 10 -4.3a5.4 1.3 -23.5 1 0 -10 4.3zM960.9 514.6a4.2 1.1 43.8 1 0 6 5.8a4.2 1.1 43.8 1 0 -6 -5.8zM871.2 397.6a3 1.3 -68 1 0 2.2 -5.6a3 1.3 -68 1 0 -2.2 5.6zM683.5 268a3 1.6 -94.9 1 0 -.5 -6a3 1.6 -94.9 1 0 .5 6zM925.6 644.5a4.2 1.2 4 1 0 8.4 .6a4.2 1.2 4 1 0 -8.4 -.6zM598.1 264.2a4.2 1.3 -156.1 1 0 -7.7 -3.4a4.2 1.3 -156.1 1 0 7.7 3.4zM978.4 474.2a4.7 1.5 -73.4 1 0 2.7 -9a4.7 1.5 -73.4 1 0 -2.7 9zM931.8 508a3.6 1.5 -61.4 1 0 3.4 -6.3a3.6 1.5 -61.4 1 0 -3.4 6.3zM430.7 575.5a4.9 1.2 168.7 1 0 -9.6 1.9a4.9 1.2 168.7 1 0 9.6 -1.9zM955.7 539.4a5.3 1.4 -68.9 1 0 3.8 -9.8a5.3 1.4 -68.9 1 0 -3.8 9.8zM824.5 704.8a4.4 1.3 54.1 1 0 5.1 7.1a4.4 1.3 54.1 1 0 -5.1 -7.1zM667.1 714.9a4.8 1.3 148.1 1 0 -8.2 5.1a4.8 1.3 148.1 1 0 8.2 -5.1zM902.6 670.1a3.7 1.3 37.6 1 0 5.9 4.5a3.7 1.3 37.6 1 0 -5.9 -4.5zM925 514.1a5.3 1.3 -32.4 1 0 8.9 -5.7a5.3 1.3 -32.4 1 0 -8.9 5.7zM781.2 259.7a2.6 1.2 -100.9 1 0 -1 -5.2a2.6 1.2 -100.9 1 0 1 5.2zM594.3 746.1a4.5 1.4 76.6 1 0 2.1 8.8a4.5 1.4 76.6 1 0 -2.1 -8.8zM880.8 700.1a2.6 1.6 2.1 1 0 5.2 .2a2.6 1.6 2.1 1 0 -5.2 -.2zM567.3 578.3a5.1 1.2 134.5 1 0 -7.2 7.3a5.1 1.2 134.5 1 0 7.2 -7.3zM702.7 256.4a2.8 1.2 -118.2 1 0 -2.6 -4.9a2.8 1.2 -118.2 1 0 2.6 4.9zM767.7 297.6a5 1.1 -19.2 1 0 9.5 -3.3a5 1.1 -19.2 1 0 -9.5 3.3zM848.5 317.8a2.6 1.2 -67.7 1 0 2 -4.9a2.6 1.2 -67.7 1 0 -2 4.9zM840.4 370.6a3.2 1.5 -27 1 0 5.8 -2.9a3.2 1.5 -27 1 0 -5.8 2.9zM832.2 308.2a3.3 1.2 -43.7 1 0 4.8 -4.6a3.3 1.2 -43.7 1 0 -4.8 4.6zM473.7 459.4a3 1.4 -163 1 0 -5.8 -1.8a3 1.4 -163 1 0 5.8 1.8zM638.2 254.9a5.5 1.5 -100.4 1 0 -2 -10.8a5.5 1.5 -100.4 1 0 2 10.8zM906.7 541a3.8 1.4 20.5 1 0 7.1 2.7a3.8 1.4 20.5 1 0 -7.1 -2.7zM696.8 303.4a3.4 1.1 -78.3 1 0 1.4 -6.6a3.4 1.1 -78.3 1 0 -1.4 6.6zM509.5 698.1a6.5 2.3 195.2 1 0 -12.6 -3.4a6.5 2.3 195.2 1 0 12.6 3.4zM569.6 734.7a5.7 2.5 133.1 1 0 -7.8 8.4a5.7 2.5 133.1 1 0 7.8 -8.4zM542 676.6a6 2.2 202.9 1 0 -11.1 -4.7a6 2.2 202.9 1 0 11.1 4.7zM751.3 242.5a8.3 2.7 -74.7 1 0 4.4 -16a8.3 2.7 -74.7 1 0 -4.4 16zM756.2 241.2a6.1 2.7 45 1 0 8.7 8.7a6.1 2.7 45 1 0 -8.7 -8.7zM763 213.6a8 2.7 68.2 1 0 5.9 14.8a8 2.7 68.2 1 0 -5.9 -14.8zM778 234.7a6.5 2.7 -39.8 1 0 10 -8.3a6.5 2.7 -39.8 1 0 -10 8.3zM812.2 226.5a8.9 2.7 -71.6 1 0 5.6 -16.9a8.9 2.7 -71.6 1 0 -5.6 16.9zM839.7 233.4a7.6 2.7 84.3 1 0 1.5 15.2a7.6 2.7 84.3 1 0 -1.5 -15.2zM801.2 254.4a8.3 4 77.5 1 0 3.6 16.2a8.3 4 77.5 1 0 -3.6 -16.2zM804.6 303.8a6.2 2.7 56.3 1 0 6.9 10.3a6.2 2.7 56.3 1 0 -6.9 -10.3zM767.1 263.8a4 1.4 53.1 1 0 4.8 6.4a4 1.4 53.1 1 0 -4.8 -6.4zM777 256.6a5.3 2.7 68.2 1 0 3.9 9.8a5.3 2.7 68.2 1 0 -3.9 -9.8zM892.8 309.2a5.1 1.4 33.7 1 0 8.5 5.7a5.1 1.4 33.7 1 0 -8.5 -5.7zM923.9 316.5a8.9 4 73.3 1 0 5.1 17.1a8.9 4 73.3 1 0 -5.1 -17.1zM913.3 357.2a11 5.1 -14 1 0 21.3 -5.3a11 5.1 -14 1 0 -21.3 5.3zM912.9 379.5a7.7 5.1 -31 1 0 13.2 -7.9a7.7 5.1 -31 1 0 -13.2 7.9zM900.7 372.3a6.6 2.7 -29.7 1 0 11.5 -6.6a6.6 2.7 -29.7 1 0 -11.5 6.6zM911.3 347.5a7.8 2.7 73.3 1 0 4.5 15a7.8 2.7 73.3 1 0 -4.5 -15zM848.7 263.7a6 1.4 -26.6 1 0 10.7 -5.3a6 1.4 -26.6 1 0 -10.7 5.3zM836.9 277.1a4.3 1.4 -45 1 0 6.1 -6.1a4.3 1.4 -45 1 0 -6.1 6.1zM865.7 265.2a4.4 1.4 31 1 0 7.6 4.5a4.4 1.4 31 1 0 -7.6 -4.5zM867.2 229.2a5.1 1.4 -56.3 1 0 5.7 -8.5a5.1 1.4 -56.3 1 0 -5.7 8.5zM733.6 204.6a6.7 1.4 73.3 1 0 3.9 12.9a6.7 1.4 73.3 1 0 -3.9 -12.9zM762.3 200.7a3.7 1.4 63.4 1 0 3.3 6.7a3.7 1.4 63.4 1 0 -3.3 -6.7zM746.7 278.7a3.7 1.4 -26.6 1 0 6.7 -3.3a3.7 1.4 -26.6 1 0 -6.7 3.3zM721.3 278.7a3.7 1.4 63.4 1 0 3.3 6.7a3.7 1.4 63.4 1 0 -3.3 -6.7zM790.3 310.7a6 1.4 63.4 1 0 5.3 10.7a6 1.4 63.4 1 0 -5.3 -10.7zM795.1 306.8a4 1.4 53.1 1 0 4.8 6.4a4 1.4 53.1 1 0 -4.8 -6.4zM858.4 389a5.8 2.7 -51.3 1 0 7.2 -9.1a5.8 2.7 -51.3 1 0 -7.2 9.1zM962.8 310.1a4 1.4 36.9 1 0 6.4 4.8a4 1.4 36.9 1 0 -6.4 -4.8zM899.9 342.8a4 1.4 126.9 1 0 -4.8 6.4a4 1.4 126.9 1 0 4.8 -6.4zM790.6 236.5a7.2 2.7 102.5 1 0 -3.1 14.1a7.2 2.7 102.5 1 0 3.1 -14.1zM798.3 232.5a6.2 2.7 74.1 1 0 3.4 12a6.2 2.7 74.1 1 0 -3.4 -12zM745.5 228.6a4.7 1.4 71.6 1 0 2.9 8.8a4.7 1.4 71.6 1 0 -2.9 -8.8zM894.8 250.9a4 1.4 -36.9 1 0 6.4 -4.8a4 1.4 -36.9 1 0 -6.4 4.8zM871.3 284.7a6 1.4 63.4 1 0 5.3 10.7a6 1.4 63.4 1 0 -5.3 -10.7zM898.5 317.7a4 1.4 11.3 1 0 7.9 1.6a4 1.4 11.3 1 0 -7.9 -1.6zM919.3 343.3a3.7 1.4 -63.4 1 0 3.3 -6.7a3.7 1.4 -63.4 1 0 -3.3 6.7zM906.9 363.1a4.3 1.4 -45 1 0 6.1 -6.1a4.3 1.4 -45 1 0 -6.1 6.1zM913 380.7a8.4 5.1 -33.7 1 0 14 -9.3a8.4 5.1 -33.7 1 0 -14 9.3zM923.5 395.8a5 1.4 8.1 1 0 10 1.4a5 1.4 8.1 1 0 -10 -1.4zM914.5 445.6a3.6 1.4 14 1 0 6.9 1.7a3.6 1.4 14 1 0 -6.9 -1.7zM912.4 453.6a5.6 2.7 9.5 1 0 11.1 1.9a5.6 2.7 9.5 1 0 -11.1 -1.9zM906.5 466.5a7.7 2.7 11.3 1 0 15.1 3a7.7 2.7 11.3 1 0 -15.1 -3zM927.4 481.3a7.6 2.7 -5.7 1 0 15.2 -1.5a7.6 2.7 -5.7 1 0 -15.2 1.5zM859.4 490.7a7.6 2.7 5.7 1 0 15.2 1.5a7.6 2.7 5.7 1 0 -15.2 -1.5zM872.5 485.8a3.5 1.4 -8.5 1 0 7 -1a3.5 1.4 -8.5 1 0 -7 1zM884.5 495a5 1.4 0 1 0 10 0a5 1.4 0 1 0 -10 -0zM896.5 505.7a6.6 1.4 11.3 1 0 12.9 2.6a6.6 1.4 11.3 1 0 -12.9 -2.6zM907.5 496a4.5 1.4 0 1 0 9 0a4.5 1.4 0 1 0 -9 -0zM921.5 495a4.5 1.4 0 1 0 9 0a4.5 1.4 0 1 0 -9 -0zM886.5 515.8a5.5 1.4 7.1 1 0 11 1.4a5.5 1.4 7.1 1 0 -11 -1.4zM880.5 523.8a5 1.4 8.1 1 0 10 1.4a5 1.4 8.1 1 0 -10 -1.4zM886.5 543.7a6.6 1.4 11.3 1 0 12.9 2.6a6.6 1.4 11.3 1 0 -12.9 -2.6zM854.9 390.6a5.1 2.7 -36.9 1 0 8.2 -6.1a5.1 2.7 -36.9 1 0 -8.2 6.1zM865.8 395.8a3.3 1.4 -33.7 1 0 5.5 -3.7a3.3 1.4 -33.7 1 0 -5.5 3.7zM966.5 392.3a6.6 1.4 -11.3 1 0 12.9 -2.6a6.6 1.4 -11.3 1 0 -12.9 2.6zM902.5 372.4a5.6 1.4 -14 1 0 10.9 -2.7a5.6 1.4 -14 1 0 -10.9 2.7zM958.5 518.8a4.5 1.4 9.5 1 0 9 1.5a4.5 1.4 9.5 1 0 -9 -1.5zM955.5 525a3 1.4 0 1 0 6 0a3 1.4 0 1 0 -6 -0zM983.5 535a5 1.4 0 1 0 10 0a5 1.4 0 1 0 -10 -0zM977.5 502.4a3.6 1.4 -14 1 0 6.9 -1.7a3.6 1.4 -14 1 0 -6.9 1.7zM895.8 562.2a3.3 1.4 33.7 1 0 5.5 3.7a3.3 1.4 33.7 1 0 -5.5 -3.7zM941.7 558.2a4.4 1.4 31 1 0 7.6 4.5a4.4 1.4 31 1 0 -7.6 -4.5zM961.5 567.8a5 1.4 8.1 1 0 10 1.4a5 1.4 8.1 1 0 -10 -1.4zM699.3 699.5a7.8 2.7 73.3 1 0 4.5 15a7.8 2.7 73.3 1 0 -4.5 -15zM689.8 718.2a5.4 2.7 135 1 0 -7.7 7.7a5.4 2.7 135 1 0 7.7 -7.7zM703 679.6a9.1 2.7 67.4 1 0 7 16.8a9.1 2.7 67.4 1 0 -7 -16.8zM715.6 703.5a8.8 2.7 104 1 0 -4.3 17a8.8 2.7 104 1 0 4.3 -17zM608.7 680.4a7.1 2.7 83.7 1 0 1.6 14.2a7.1 2.7 83.7 1 0 -1.6 -14.2zM619.7 684.5a6.6 1.4 78.7 1 0 2.6 12.9a6.6 1.4 78.7 1 0 -2.6 -12.9zM749.3 654a7.9 2.7 48.8 1 0 10.4 11.9a7.9 2.7 48.8 1 0 -10.4 -11.9zM739.3 671.5a7.8 2.7 73.3 1 0 4.5 15a7.8 2.7 73.3 1 0 -4.5 -15zM817.3 669.5a7.8 2.7 73.3 1 0 4.5 15a7.8 2.7 73.3 1 0 -4.5 -15zM826.8 667.1a6.5 1.4 36.9 1 0 10.4 7.8a6.5 1.4 36.9 1 0 -10.4 -7.8zM791.6 676.6a6.7 1.4 73.3 1 0 3.9 12.9a6.7 1.4 73.3 1 0 -3.9 -12.9zM797.1 663.8a4.7 1.4 51.3 1 0 5.9 7.3a4.7 1.4 51.3 1 0 -5.9 -7.3zM812.9 697.4a5.1 2.7 36.9 1 0 8.2 6.1a5.1 2.7 36.9 1 0 -8.2 -6.1zM763.6 706.5a5.6 1.4 76 1 0 2.7 10.9a5.6 1.4 76 1 0 -2.7 -10.9zM769.8 734.5a4.5 1.4 80.5 1 0 1.5 9a4.5 1.4 80.5 1 0 -1.5 -9zM773.6 726.5a3.6 1.4 76 1 0 1.7 6.9a3.6 1.4 76 1 0 -1.7 -6.9zM830.3 727a6.5 2.7 50.2 1 0 8.3 10a6.5 2.7 50.2 1 0 -8.3 -10zM852.8 745.7a7.1 2.7 63.4 1 0 6.3 12.7a7.1 2.7 63.4 1 0 -6.3 -12.7zM806.9 726.9a4.3 1.4 45 1 0 6.1 6.1a4.3 1.4 45 1 0 -6.1 -6.1zM824.7 755.3a6 1.4 26.6 1 0 10.7 5.3a6 1.4 26.6 1 0 -10.7 -5.3zM846.8 785.2a5.1 1.4 33.7 1 0 8.5 5.7a5.1 1.4 33.7 1 0 -8.5 -5.7zM623.3 782.7a4.9 1.4 63.4 1 0 4.3 8.7a4.9 1.4 63.4 1 0 -4.3 -8.7zM672.6 742.5a3.6 1.4 76 1 0 1.7 6.9a3.6 1.4 76 1 0 -1.7 -6.9zM651.8 750.5a4.5 1.4 80.5 1 0 1.5 9a4.5 1.4 80.5 1 0 -1.5 -9zM667.5 718.6a4.7 1.4 71.6 1 0 2.9 8.8a4.7 1.4 71.6 1 0 -2.9 -8.8zM787.2 758.7a6.2 1.4 58 1 0 6.6 10.5a6.2 1.4 58 1 0 -6.6 -10.5zM801.3 756.7a3.7 1.4 63.4 1 0 3.3 6.7a3.7 1.4 63.4 1 0 -3.3 -6.7zM845.2 698.8a5.1 1.4 56.3 1 0 5.7 8.5a5.1 1.4 56.3 1 0 -5.7 -8.5zM835.2 702.8a5.1 1.4 56.3 1 0 5.7 8.5a5.1 1.4 56.3 1 0 -5.7 -8.5zM858.5 663.8a4.5 1.4 9.5 1 0 9 1.5a4.5 1.4 9.5 1 0 -9 -1.5zM841.1 644.8a4 1.4 53.1 1 0 4.8 6.4a4 1.4 53.1 1 0 -4.8 -6.4zM727.3 754.7a3.7 1.4 63.4 1 0 3.3 6.7a3.7 1.4 63.4 1 0 -3.3 -6.7zM642.7 736.5a4 1.4 78.7 1 0 1.6 7.9a4 1.4 78.7 1 0 -1.6 -7.9zM782.5 692.6a4.7 1.4 71.6 1 0 2.9 8.8a4.7 1.4 71.6 1 0 -2.9 -8.8zM504.4 447.7a7.3 4 -11.3 1 0 14.3 -2.9a7.3 4 -11.3 1 0 -14.3 2.9zM518.3 351.7a4.9 1.4 63.4 1 0 4.3 8.7a4.9 1.4 63.4 1 0 -4.3 -8.7zM553.8 307.2a3.3 1.4 33.7 1 0 5.5 3.7a3.3 1.4 33.7 1 0 -5.5 -3.7zM558.9 325.9a2.9 1.4 45 1 0 4.1 4.1a2.9 1.4 45 1 0 -4.1 -4.1zM528.8 347.1a4 1.4 36.9 1 0 6.4 4.8a4 1.4 36.9 1 0 -6.4 -4.8zM483.7 268.3a3.7 1.4 26.6 1 0 6.7 3.3a3.7 1.4 26.6 1 0 -6.7 -3.3zM518.6 275.5a5.6 1.4 76 1 0 2.7 10.9a5.6 1.4 76 1 0 -2.7 -10.9zM557.4 266.9a7.6 2.7 53.1 1 0 9.1 12.2a7.6 2.7 53.1 1 0 -9.1 -12.2zM569.8 272.7a7.1 2.7 63.4 1 0 6.3 12.7a7.1 2.7 63.4 1 0 -6.3 -12.7zM599.8 274.7a7.1 2.7 63.4 1 0 6.3 12.7a7.1 2.7 63.4 1 0 -6.3 -12.7zM551.8 282.1a4 1.4 36.9 1 0 6.4 4.8a4 1.4 36.9 1 0 -6.4 -4.8zM477.8 296a5.4 1.4 39.8 1 0 8.3 6.9a5.4 1.4 39.8 1 0 -8.3 -6.9zM493.3 309.7a4.9 1.4 63.4 1 0 4.3 8.7a4.9 1.4 63.4 1 0 -4.3 -8.7zM598.3 295.7a4.9 1.4 63.4 1 0 4.3 8.7a4.9 1.4 63.4 1 0 -4.3 -8.7zM447.5 460.4a5.6 1.4 -14 1 0 10.9 -2.7a5.6 1.4 -14 1 0 -10.9 2.7zM473.8 394.1a6.5 1.4 36.9 1 0 10.4 7.8a6.5 1.4 36.9 1 0 -10.4 -7.8zM579.8 416.7a3.7 2.7 63.4 1 0 3.3 6.7a3.7 2.7 63.4 1 0 -3.3 -6.7zM563 404.3a4.7 2.7 45 1 0 6.7 6.7a4.7 2.7 45 1 0 -6.7 -6.7zM535.2 402a3.6 1.4 45 1 0 5.1 5.1a3.6 1.4 45 1 0 -5.1 -5.1zM539.5 422a4 1.4 26.6 1 0 7.2 3.6a4 1.4 26.6 1 0 -7.2 -3.6zM491.3 413a3.2 1.4 26.6 1 0 5.7 2.8a3.2 1.4 26.6 1 0 -5.7 -2.8zM571 444.7a5.6 1.4 21.8 1 0 10.3 4.1a5.6 1.4 21.8 1 0 -10.3 -4.1zM447.5 458.5a6.8 1.4 8.1 1 0 13.5 1.9a6.8 1.4 8.1 1 0 -13.5 -1.9zM527.3 484.1a3.8 1.4 9.5 1 0 7.5 1.2a3.8 1.4 9.5 1 0 -7.5 -1.2zM548.8 500.4a6.4 2.7 11.3 1 0 12.6 2.5a6.4 2.7 11.3 1 0 -12.6 -2.5zM557.4 503.7a4.5 1.4 7.1 1 0 9 1.1a4.5 1.4 7.1 1 0 -9 -1.1zM579.9 485a6 1.4 4.8 1 0 12 1a6 1.4 4.8 1 0 -12 -1zM587.5 493a4.6 1.4 14 1 0 8.9 2.2a4.6 1.4 14 1 0 -8.9 -2.2zM506.2 509.3a5.3 1.4 -5.7 1 0 10.5 -1.1a5.3 1.4 -5.7 1 0 -10.5 1.1zM534.8 515.4a4.5 1.4 -7.1 1 0 9 -1.1a4.5 1.4 -7.1 1 0 -9 1.1zM548.3 477.3a3.8 1.4 9.5 1 0 7.5 1.2a3.8 1.4 9.5 1 0 -7.5 -1.2zM590.9 401.3a2.6 1.4 45 1 0 3.6 3.6a2.6 1.4 45 1 0 -3.6 -3.6zM578.1 416.3a4.2 2.7 45 1 0 5.9 5.9a4.2 2.7 45 1 0 -5.9 -5.9zM586.3 445.6a3.7 2.7 45 1 0 5.2 5.2a3.7 2.7 45 1 0 -5.2 -5.2zM547.5 385.3a4.2 1.4 56.3 1 0 4.7 7a4.2 1.4 56.3 1 0 -4.7 -7zM523 396.2a4.2 1.4 33.7 1 0 7 4.7a4.2 1.4 33.7 1 0 -7 -4.7zM928.6 572.5a5.8 1.4 20.6 1 0 10.8 4.1a5.8 1.4 20.6 1 0 -10.8 -4.1zM920.5 583.6a5.6 1.4 14 1 0 10.9 2.7a5.6 1.4 14 1 0 -10.9 -2.7zM920.7 601.7a7.7 2.7 29.1 1 0 13.5 7.5a7.7 2.7 29.1 1 0 -13.5 -7.5zM843.4 584.7a6.6 2.7 7.1 1 0 13.2 1.6a6.6 2.7 7.1 1 0 -13.2 -1.6zM832.7 579.3a3.7 1.4 26.6 1 0 6.7 3.3a3.7 1.4 26.6 1 0 -6.7 -3.3zM878.6 596.6a6.7 1.4 16.7 1 0 12.9 3.9a6.7 1.4 16.7 1 0 -12.9 -3.9zM886.8 611.1a4 1.4 36.9 1 0 6.4 4.8a4 1.4 36.9 1 0 -6.4 -4.8zM977.4 634.7a7.6 2.7 5.7 1 0 15.2 1.5a7.6 2.7 5.7 1 0 -15.2 -1.5zM988.5 625.9a6.5 1.4 5.7 1 0 13 1.3a6.5 1.4 5.7 1 0 -13 -1.3zM1014.6 623.4a6.9 1.4 21.8 1 0 12.8 5.1a6.9 1.4 21.8 1 0 -12.8 -5.1zM980.5 610.6a3.6 1.4 14 1 0 6.9 1.7a3.6 1.4 14 1 0 -6.9 -1.7zM883.8 627.6a6.2 2.7 33.7 1 0 10.3 6.9a6.2 2.7 33.7 1 0 -10.3 -6.9zM868.5 649.2a5.8 2.7 18.4 1 0 10.9 3.6a5.8 2.7 18.4 1 0 -10.9 -3.6zM985.7 594.3a2.6 1.4 26.6 1 0 4.7 2.3a2.6 1.4 26.6 1 0 -4.7 -2.3zM906.7 628.3a3.7 1.4 26.6 1 0 6.7 3.3a3.7 1.4 26.6 1 0 -6.7 -3.3zM1018.6 572.5a3.1 1.4 18.4 1 0 5.8 1.9a3.1 1.4 18.4 1 0 -5.8 -1.9zM814.7 589.3a3.7 1.4 26.6 1 0 6.7 3.3a3.7 1.4 26.6 1 0 -6.7 -3.3zM964.5 570.6a3.6 1.4 14 1 0 6.9 1.7a3.6 1.4 14 1 0 -6.9 -1.7zM642.6 176.5a3.6 1.4 76 1 0 1.7 6.9a3.6 1.4 76 1 0 -1.7 -6.9zM665.7 202.5a4 1.4 78.7 1 0 1.6 7.9a4 1.4 78.7 1 0 -1.6 -7.9zM682.9 208.5a6.5 1.4 84.3 1 0 1.3 13a6.5 1.4 84.3 1 0 -1.3 -13zM701.5 216.6a4.7 1.4 71.6 1 0 2.9 8.8a4.7 1.4 71.6 1 0 -2.9 -8.8zM574.6 253.6a5.1 1.4 74.1 1 0 2.8 9.9a5.1 1.4 74.1 1 0 -2.8 -9.9zM646.6 245.5a5.8 1.4 20.6 1 0 10.8 4.1a5.8 1.4 20.6 1 0 -10.8 -4.1zM640.7 252.5a6.6 1.4 78.7 1 0 2.6 12.9a6.6 1.4 78.7 1 0 -2.6 -12.9zM673.3 243.7a6.6 1.4 60.9 1 0 6.5 11.6a6.6 1.4 60.9 1 0 -6.5 -11.6zM688.9 257.5a7 1.4 84.8 1 0 1.3 14a7 1.4 84.8 1 0 -1.3 -14zM707.4 266.3a8.8 4 80.9 1 0 2.8 17.3a8.8 4 80.9 1 0 -2.8 -17.3zM615.6 322.5a5.6 1.4 76 1 0 2.7 10.9a5.6 1.4 76 1 0 -2.7 -10.9zM619.1 330.8a7.9 1.4 51.3 1 0 9.9 12.3a7.9 1.4 51.3 1 0 -9.9 -12.3zM677.9 270.5a6.5 1.4 84.3 1 0 1.3 13a6.5 1.4 84.3 1 0 -1.3 -13zM699.4 261.6a4.2 1.4 68.2 1 0 3.1 7.8a4.2 1.4 68.2 1 0 -3.1 -7.8zM663.5 324.6a3.1 1.4 71.6 1 0 1.9 5.8a3.1 1.4 71.6 1 0 -1.9 -5.8zM426.5 474.8a4.5 1.4 9.5 1 0 9 1.5a4.5 1.4 9.5 1 0 -9 -1.5zM413.6 487.5a3.1 1.4 18.4 1 0 5.8 1.9a3.1 1.4 18.4 1 0 -5.8 -1.9zM415.6 508.2a3.1 1.4 14.9 1 0 5.9 1.6a3.1 1.4 14.9 1 0 -5.9 -1.6zM422.5 555.9a9 1.4 3.8 1 0 18 1.2a9 1.4 3.8 1 0 -18 -1.2zM433.5 528.6a3.6 1.4 14 1 0 6.9 1.7a3.6 1.4 14 1 0 -6.9 -1.7zM418.5 524.7a2.5 1.4 11.3 1 0 4.9 1a2.5 1.4 11.3 1 0 -4.9 -1zM524.1 540.2a4.7 1.4 -51.3 1 0 5.9 -7.3a4.7 1.4 -51.3 1 0 -5.9 7.3zM519.5 554.1a6.5 1.4 -5.7 1 0 13 -1.3a6.5 1.4 -5.7 1 0 -13 1.3zM515.5 582.4a5.6 1.4 -14 1 0 10.9 -2.7a5.6 1.4 -14 1 0 -10.9 2.7zM509.5 598.4a5.6 1.4 -14 1 0 10.9 -2.7a5.6 1.4 -14 1 0 -10.9 2.7zM489.5 572.4a3.6 1.4 -14 1 0 6.9 -1.7a3.6 1.4 -14 1 0 -6.9 1.7zM541.5 609.4a5.6 1.4 -14 1 0 10.9 -2.7a5.6 1.4 -14 1 0 -10.9 2.7zM559.8 603.8a5.1 1.4 -33.7 1 0 8.5 -5.7a5.1 1.4 -33.7 1 0 -8.5 5.7zM553.5 629.4a5.6 1.4 -14 1 0 10.9 -2.7a5.6 1.4 -14 1 0 -10.9 2.7zM555.5 639.6a3.6 1.4 14 1 0 6.9 1.7a3.6 1.4 14 1 0 -6.9 -1.7zM584.1 641.8a5.8 1.4 54.5 1 0 6.7 9.4a5.8 1.4 54.5 1 0 -6.7 -9.4zM541.7 646.3a3.7 1.4 26.6 1 0 6.7 3.3a3.7 1.4 26.6 1 0 -6.7 -3.3zM427.5 643.2a5.5 1.4 -7.1 1 0 11 -1.4a5.5 1.4 -7.1 1 0 -11 1.4zM592.3 613.7a3.7 1.4 63.4 1 0 3.3 6.7a3.7 1.4 63.4 1 0 -3.3 -6.7zM595.9 603.9a2.9 1.4 45 1 0 4.1 4.1a2.9 1.4 45 1 0 -4.1 -4.1z"/>
<path fill="#6c84b2" d="M504 596.9a3.4 1.6 133.9 1 0 -4.7 4.9a3.4 1.6 133.9 1 0 4.7 -4.9zM512.1 628.8a5.4 1.1 64 1 0 4.7 9.6a5.4 1.1 64 1 0 -4.7 -9.6zM875.1 648.5a3 1.1 75.9 1 0 1.5 5.9a3 1.1 75.9 1 0 -1.5 -5.9zM538.3 698.2a3 1.2 188 1 0 -5.9 -.8a3 1.2 188 1 0 5.9 .8zM864 290a2.9 1.2 -44.7 1 0 4.2 -4.1a2.9 1.2 -44.7 1 0 -4.2 4.1zM640.8 321a5.4 1.5 -89.5 1 0 .1 -10.8a5.4 1.5 -89.5 1 0 -.1 10.8zM969.6 589.7a3.2 1.5 22.9 1 0 5.8 2.5a3.2 1.5 22.9 1 0 -5.8 -2.5zM537.1 703.2a3 1.5 116.4 1 0 -2.7 5.4a3 1.5 116.4 1 0 2.7 -5.4zM565.2 369.8a3.2 1.2 -171.3 1 0 -6.3 -1a3.2 1.2 -171.3 1 0 6.3 1zM891.7 490.9a2.8 1.6 -6.6 1 0 5.6 -.6a2.8 1.6 -6.6 1 0 -5.6 .6zM664.7 674.3a3.7 1.1 49.7 1 0 4.7 5.6a3.7 1.1 49.7 1 0 -4.7 -5.6zM537.4 557.8a3.2 1.3 166.6 1 0 -6.2 1.5a3.2 1.3 166.6 1 0 6.2 -1.5zM998 460.3a3.1 1.2 14.4 1 0 6.1 1.6a3.1 1.2 14.4 1 0 -6.1 -1.6zM771.7 323.9a3.3 1.2 -50.5 1 0 4.2 -5.1a3.3 1.2 -50.5 1 0 -4.2 5.1zM621.3 685a3.9 1.1 132 1 0 -5.3 5.8a3.9 1.1 132 1 0 5.3 -5.8zM799.2 275a3.3 1.3 -105.7 1 0 -1.8 -6.4a3.3 1.3 -105.7 1 0 1.8 6.4zM698.7 311.7a4.7 1.6 -130.8 1 0 -6.2 -7.2a4.7 1.6 -130.8 1 0 6.2 7.2zM486.4 474.3a4.1 1.1 -181.7 1 0 -8.3 .3a4.1 1.1 -181.7 1 0 8.3 -.3zM646.8 243.4a3.5 1.3 -128.2 1 0 -4.4 -5.6a3.5 1.3 -128.2 1 0 4.4 5.6zM397.4 390.9a4.7 1.6 -184.6 1 0 -9.3 .8a4.7 1.6 -184.6 1 0 9.3 -.8zM555.5 671.4a4.3 1.2 80.6 1 0 1.4 8.5a4.3 1.2 80.6 1 0 -1.4 -8.5zM809.7 783.2a2.8 1.1 107.1 1 0 -1.6 5.3a2.8 1.1 107.1 1 0 1.6 -5.3zM860.5 290.2a5.1 1.4 -27.6 1 0 9 -4.7a5.1 1.4 -27.6 1 0 -9 4.7zM444.9 517.6a2.6 1.1 216.5 1 0 -4.1 -3.1a2.6 1.1 216.5 1 0 4.1 3.1zM522.5 686.9a5.4 1.2 127.4 1 0 -6.5 8.5a5.4 1.2 127.4 1 0 6.5 -8.5zM885.1 646.9a4.8 1.5 48.7 1 0 6.4 7.3a4.8 1.5 48.7 1 0 -6.4 -7.3zM921.4 488a3.4 1.5 -19.7 1 0 6.3 -2.3a3.4 1.5 -19.7 1 0 -6.3 2.3zM546.7 194.8a4.8 1.6 -78.2 1 0 2 -9.5a4.8 1.6 -78.2 1 0 -2 9.5zM462.1 589.3a4.2 1.5 138 1 0 -6.2 5.6a4.2 1.5 138 1 0 6.2 -5.6zM756.9 824.2a5.5 1.3 62.4 1 0 5.1 9.7a5.5 1.3 62.4 1 0 -5.1 -9.7zM943.9 633.4a3.7 1.6 116.7 1 0 -3.4 6.7a3.7 1.6 116.7 1 0 3.4 -6.7zM574.2 350.2a5.1 1.1 -146.4 1 0 -8.5 -5.6a5.1 1.1 -146.4 1 0 8.5 5.6zM908.2 463.6a2.8 1.4 -19.8 1 0 5.2 -1.9a2.8 1.4 -19.8 1 0 -5.2 1.9zM554.8 737.6a5 1.2 61.2 1 0 4.9 8.8a5 1.2 61.2 1 0 -4.9 -8.8zM816.8 329a5.1 1.2 -32.6 1 0 8.6 -5.5a5.1 1.2 -32.6 1 0 -8.6 5.5zM908.6 727a4.3 1.5 16.2 1 0 8.3 2.4a4.3 1.5 16.2 1 0 -8.3 -2.4zM681.9 785.2a3.2 1.5 99.2 1 0 -1 6.2a3.2 1.5 99.2 1 0 1 -6.2zM728.4 770.1a4.1 1.2 43 1 0 6 5.6a4.1 1.2 43 1 0 -6 -5.6zM774.2 827.3a4.8 1.5 20.2 1 0 8.9 3.3a4.8 1.5 20.2 1 0 -8.9 -3.3zM885.4 523.9a4.4 1.3 -42.1 1 0 6.5 -5.9a4.4 1.3 -42.1 1 0 -6.5 5.9zM722.1 271.9a4.2 1.5 -53.4 1 0 5 -6.7a4.2 1.5 -53.4 1 0 -5 6.7zM512.6 414.9a3.9 1.1 -198 1 0 -7.5 2.4a3.9 1.1 -198 1 0 7.5 -2.4zM838.8 645.3a4.9 1.4 69.7 1 0 3.4 9.3a4.9 1.4 69.7 1 0 -3.4 -9.3zM580 351.7a3.5 1.1 -133.8 1 0 -4.9 -5.1a3.5 1.1 -133.8 1 0 4.9 5.1zM446.2 570.6a5.2 1.3 124.5 1 0 -5.9 8.6a5.2 1.3 124.5 1 0 5.9 -8.6zM511.5 653a4.9 1.2 140.4 1 0 -7.6 6.3a4.9 1.2 140.4 1 0 7.6 -6.3zM449.6 575.4a4.6 1.2 135.4 1 0 -6.5 6.4a4.6 1.2 135.4 1 0 6.5 -6.4zM950 458.8a5 1.2 14.7 1 0 9.6 2.5a5 1.2 14.7 1 0 -9.6 -2.5zM839.3 294.7a4.4 1.4 -58.9 1 0 4.5 -7.5a4.4 1.4 -58.9 1 0 -4.5 7.5zM432.2 351.9a2.7 1.5 -152.6 1 0 -4.8 -2.5a2.7 1.5 -152.6 1 0 4.8 2.5zM891.6 392.9a4 1.6 -18.7 1 0 7.5 -2.6a4 1.6 -18.7 1 0 -7.5 2.6zM588.6 816.8a3.6 1.4 42.3 1 0 5.3 4.8a3.6 1.4 42.3 1 0 -5.3 -4.8zM730.8 750a4.3 1.3 71.1 1 0 2.8 8.2a4.3 1.3 71.1 1 0 -2.8 -8.2zM452.1 582.5a3.1 1.2 197.7 1 0 -6 -1.9a3.1 1.2 197.7 1 0 6 1.9zM491.9 592.8a4.4 1.2 184.9 1 0 -8.8 -.8a4.4 1.2 184.9 1 0 8.8 .8zM495.6 523.7a4.6 1.1 120.4 1 0 -4.7 7.9a4.6 1.1 120.4 1 0 4.7 -7.9zM488.2 411a3.7 1.3 -157.1 1 0 -6.8 -2.9a3.7 1.3 -157.1 1 0 6.8 2.9zM572.4 811.1a2.8 1.2 64 1 0 2.4 5a2.8 1.2 64 1 0 -2.4 -5zM516 454.8a3.7 1.2 -151.5 1 0 -6.5 -3.5a3.7 1.2 -151.5 1 0 6.5 3.5zM749.6 267.9a3 1.6 -72.3 1 0 1.8 -5.7a3 1.6 -72.3 1 0 -1.8 5.7zM478.6 428.8a5 1.4 -140.7 1 0 -7.8 -6.4a5 1.4 -140.7 1 0 7.8 6.4zM947.1 507.4a4.7 1.2 49.8 1 0 6.1 7.2a4.7 1.2 49.8 1 0 -6.1 -7.2zM803.4 731.1a3.2 1.6 18.3 1 0 6.1 2a3.2 1.6 18.3 1 0 -6.1 -2zM605 684.9a5.3 1.1 164.3 1 0 -10.2 2.9a5.3 1.1 164.3 1 0 10.2 -2.9zM948.3 528.3a3 1.1 -76.5 1 0 1.4 -5.9a3 1.1 -76.5 1 0 -1.4 5.9zM458 603.7a5 1.2 177.3 1 0 -10 .5a5 1.2 177.3 1 0 10 -.5zM873.4 304.8a2.5 1.2 -73.2 1 0 1.4 -4.8a2.5 1.2 -73.2 1 0 -1.4 4.8zM549.4 319a3.9 1.4 -152.2 1 0 -7 -3.7a3.9 1.4 -152.2 1 0 7 3.7zM916.4 533.9a5.3 1.5 20.1 1 0 9.9 3.6a5.3 1.5 20.1 1 0 -9.9 -3.6zM774 179a2.5 1.4 -102.8 1 0 -1.1 -4.9a2.5 1.4 -102.8 1 0 1.1 4.9zM554.8 698.9a3.7 1.1 103.6 1 0 -1.8 7.3a3.7 1.1 103.6 1 0 1.8 -7.3zM581.8 291.5a5.2 1.2 -62.4 1 0 4.8 -9.2a5.2 1.2 -62.4 1 0 -4.8 9.2zM565 749.5a5.4 1.1 121.2 1 0 -5.6 9.2a5.4 1.1 121.2 1 0 5.6 -9.2zM879.7 724.8a5 1.4 70.8 1 0 3.3 9.5a5 1.4 70.8 1 0 -3.3 -9.5zM573.5 704.5a4.7 1.1 107.3 1 0 -2.8 9.1a4.7 1.1 107.3 1 0 2.8 -9.1zM898.2 458.3a3 1.5 37.5 1 0 4.7 3.6a3 1.5 37.5 1 0 -4.7 -3.6zM777 286.1a3 1.5 -110.1 1 0 -2.1 -5.6a3 1.5 -110.1 1 0 2.1 5.6zM589.2 728.6a2.5 1.4 118.3 1 0 -2.4 4.4a2.5 1.4 118.3 1 0 2.4 -4.4zM499 618a5.4 1.2 157.9 1 0 -9.9 4a5.4 1.2 157.9 1 0 9.9 -4zM462.6 376.2a4.8 1.1 -187.3 1 0 -9.6 1.2a4.8 1.1 -187.3 1 0 9.6 -1.2zM824.6 272.5a4.3 1.6 -78 1 0 1.8 -8.5a4.3 1.6 -78 1 0 -1.8 8.5zM542 525.9a3.3 1.6 150.8 1 0 -5.8 3.2a3.3 1.6 150.8 1 0 5.8 -3.2zM759.9 653.5a2.7 1.2 25.4 1 0 4.8 2.3a2.7 1.2 25.4 1 0 -4.8 -2.3zM546.1 654a4.4 1.3 174.2 1 0 -8.7 .9a4.4 1.3 174.2 1 0 8.7 -.9zM586.6 244a2.5 1.4 -34.8 1 0 4.2 -2.9a2.5 1.4 -34.8 1 0 -4.2 2.9zM831 589.9a3.7 1.4 37.5 1 0 5.9 4.5a3.7 1.4 37.5 1 0 -5.9 -4.5zM625 686.8a5.5 1.4 72.5 1 0 3.3 10.4a5.5 1.4 72.5 1 0 -3.3 -10.4zM742.8 275.6a5.2 1.6 -67.6 1 0 3.9 -9.5a5.2 1.6 -67.6 1 0 -3.9 9.5zM961.6 429a5.3 1.5 37.5 1 0 8.4 6.4a5.3 1.5 37.5 1 0 -8.4 -6.4zM541.2 244.8a4 1.1 -128.3 1 0 -4.9 -6.3a4 1.1 -128.3 1 0 4.9 6.3zM563.2 358.8a4.3 1.3 -109.2 1 0 -2.9 -8.2a4.3 1.3 -109.2 1 0 2.9 8.2zM676 772.8a4 1.1 136.8 1 0 -5.8 5.4a4 1.1 136.8 1 0 5.8 -5.4zM568 727.2a3.7 1.2 98.2 1 0 -1.1 7.4a3.7 1.2 98.2 1 0 1.1 -7.4zM548.9 396.6a4.1 1.6 -155.9 1 0 -7.5 -3.3a4.1 1.6 -155.9 1 0 7.5 3.3zM518.5 338.6a3.7 1.6 -122.8 1 0 -4 -6.2a3.7 1.6 -122.8 1 0 4 6.2zM517 322.6a3.3 1.1 -129.7 1 0 -4.2 -5a3.3 1.1 -129.7 1 0 4.2 5zM955 506a5.1 1.5 -5.7 1 0 10.2 -1a5.1 1.5 -5.7 1 0 -10.2 1zM570.9 273.8a2.6 1.3 -124.8 1 0 -2.9 -4.2a2.6 1.3 -124.8 1 0 2.9 4.2zM841.2 273.8a3.1 1.1 -47.7 1 0 4.2 -4.6a3.1 1.1 -47.7 1 0 -4.2 4.6zM932.8 669.4a3.1 1.6 131.5 1 0 -4.1 4.6a3.1 1.6 131.5 1 0 4.1 -4.6zM692.5 251.2a4.1 1.4 -39.1 1 0 6.4 -5.2a4.1 1.4 -39.1 1 0 -6.4 5.2zM731.6 747.5a2.9 1.5 67.4 1 0 2.2 5.4a2.9 1.5 67.4 1 0 -2.2 -5.4zM529.9 602.4a4.7 1.3 173.8 1 0 -9.4 1a4.7 1.3 173.8 1 0 9.4 -1zM750.6 752a4.4 1.2 48 1 0 5.8 6.5a4.4 1.2 48 1 0 -5.8 -6.5zM436.8 443.1a4.1 1.4 -110 1 0 -2.8 -7.7a4.1 1.4 -110 1 0 2.8 7.7zM822.5 262.4a3.8 1.5 -61.2 1 0 3.7 -6.6a3.8 1.5 -61.2 1 0 -3.7 6.6zM563 676.8a5.4 2.5 196.1 1 0 -10.3 -3a5.4 2.5 196.1 1 0 10.3 3zM871 728.4a5.1 2.6 6.9 1 0 10.1 1.2a5.1 2.6 6.9 1 0 -10.1 -1.2zM598.5 693.2a4.3 2.4 74.9 1 0 2.3 8.3a4.3 2.4 74.9 1 0 -2.3 -8.3zM533 679.7a4.7 2.5 201.5 1 0 -8.8 -3.4a4.7 2.5 201.5 1 0 8.8 3.4zM466.6 666.7a6.1 2.6 150.9 1 0 -10.6 5.9a6.1 2.6 150.9 1 0 10.6 -5.9zM499.4 686.9a4.5 2.6 95.2 1 0 -.8 8.9a4.5 2.6 95.2 1 0 .8 -8.9zM570.3 657.5a5.3 2.5 68.4 1 0 3.9 9.8a5.3 2.5 68.4 1 0 -3.9 -9.8zM528.5 721.5a5.2 2.4 91.8 1 0 -.3 10.4a5.2 2.4 91.8 1 0 .3 -10.4zM544.2 719.2a5.7 2.5 154.9 1 0 -10.3 4.8a5.7 2.5 154.9 1 0 10.3 -4.8zM508.9 686.3a4.4 2.4 155.5 1 0 -8 3.6a4.4 2.4 155.5 1 0 8 -3.6zM592.9 703.7a5.8 2.6 181.3 1 0 -11.7 -.3a5.8 2.6 181.3 1 0 11.7 .3zM762.4 246a7.3 4 -15.9 1 0 14.1 -4a7.3 4 -15.9 1 0 -14.1 4zM768.7 231.8a4.8 2.7 26.6 1 0 8.7 4.3a4.8 2.7 26.6 1 0 -8.7 -4.3zM778.7 227.7a3.7 1.4 -26.6 1 0 6.7 -3.3a3.7 1.4 -26.6 1 0 -6.7 3.3zM779.8 251.3a5.5 2.7 -31 1 0 9.5 -5.7a5.5 2.7 -31 1 0 -9.5 5.7zM784.4 261a5.8 2.7 -51.3 1 0 7.2 -9.1a5.8 2.7 -51.3 1 0 -7.2 9.1zM800 239.7a6.5 2.7 -39.8 1 0 10 -8.3a6.5 2.7 -39.8 1 0 -10 8.3zM819.2 239.8a6.8 2.7 -45 1 0 9.7 -9.7a6.8 2.7 -45 1 0 -9.7 9.7zM769.6 273a5.3 2.7 -21.8 1 0 9.8 -3.9a5.3 2.7 -21.8 1 0 -9.8 3.9zM784.2 271.8a4.7 2.7 -45 1 0 6.7 -6.7a4.7 2.7 -45 1 0 -6.7 6.7zM841.5 249.5a7.7 2.7 -11.3 1 0 15.1 -3a7.7 2.7 -11.3 1 0 -15.1 3zM873.4 274.7a7.6 2.7 5.7 1 0 15.2 1.5a7.6 2.7 5.7 1 0 -15.2 -1.5zM861.8 285.4a4.4 2.7 -33.7 1 0 7.3 -4.9a4.4 2.7 -33.7 1 0 -7.3 4.9zM880.5 305.1a8.9 4 -16.7 1 0 17.1 -5.1a8.9 4 -16.7 1 0 -17.1 5.1zM918.4 346.4a6.7 4 9.5 1 0 13.3 2.2a6.7 4 9.5 1 0 -13.3 -2.2zM926.3 372a6.5 2.7 -50.2 1 0 8.3 -10a6.5 2.7 -50.2 1 0 -8.3 10zM899.2 351.8a4 2.7 -45 1 0 5.7 -5.7a4 2.7 -45 1 0 -5.7 5.7zM810 316.7a6.5 2.7 -39.8 1 0 10 -8.3a6.5 2.7 -39.8 1 0 -10 8.3zM814.2 303.8a5.4 2.7 -45 1 0 7.7 -7.7a5.4 2.7 -45 1 0 -7.7 7.7zM829.9 273.1a4.3 1.4 -45 1 0 6.1 -6.1a4.3 1.4 -45 1 0 -6.1 6.1zM944.5 282.9a6.5 1.4 5.7 1 0 13 1.3a6.5 1.4 5.7 1 0 -13 -1.3zM946.5 297.2a5.5 1.4 -7.1 1 0 11 -1.4a5.5 1.4 -7.1 1 0 -11 1.4zM924.7 306.7a3.7 1.4 -26.6 1 0 6.7 -3.3a3.7 1.4 -26.6 1 0 -6.7 3.3zM739.1 295.2a4 1.4 -53.1 1 0 4.8 -6.4a4 1.4 -53.1 1 0 -4.8 6.4zM729.5 279.4a3.1 1.4 -71.6 1 0 1.9 -5.8a3.1 1.4 -71.6 1 0 -1.9 5.8zM854.2 381.2a4 2.7 45 1 0 5.7 5.7a4 2.7 45 1 0 -5.7 -5.7zM929.4 383.5a10.7 2.7 -10.6 1 0 21.1 -4a10.7 2.7 -10.6 1 0 -21.1 4zM850.5 220.4a5.6 1.4 -14 1 0 10.9 -2.7a5.6 1.4 -14 1 0 -10.9 2.7zM828.5 353.6a3.1 1.4 71.6 1 0 1.9 5.8a3.1 1.4 71.6 1 0 -1.9 -5.8zM786.8 345.8a3.3 1.4 -33.7 1 0 5.5 -3.7a3.3 1.4 -33.7 1 0 -5.5 3.7zM732.9 231.1a4.3 1.4 -45 1 0 6.1 -6.1a4.3 1.4 -45 1 0 -6.1 6.1zM831.2 282.8a5.1 1.4 56.3 1 0 5.7 8.5a5.1 1.4 56.3 1 0 -5.7 -8.5zM846.9 295.1a4.3 1.4 -45 1 0 6.1 -6.1a4.3 1.4 -45 1 0 -6.1 6.1zM886.7 327.3a3.7 1.4 26.6 1 0 6.7 3.3a3.7 1.4 26.6 1 0 -6.7 -3.3zM905.6 240.6a4.2 1.4 -21.8 1 0 7.8 -3.1a4.2 1.4 -21.8 1 0 -7.8 3.1zM935.5 382.5a7.7 2.7 -11.3 1 0 15.1 -3a7.7 2.7 -11.3 1 0 -15.1 3zM929.4 440.7a6.6 2.7 7.1 1 0 13.2 1.6a6.6 2.7 7.1 1 0 -13.2 -1.6zM946.5 447.9a6.5 1.4 5.7 1 0 13 1.3a6.5 1.4 5.7 1 0 -13 -1.3zM887.5 462a6.5 1.4 0 1 0 13 0a6.5 1.4 0 1 0 -13 -0zM935.4 462a5.1 2.7 0 1 0 10.2 0a5.1 2.7 0 1 0 -10.2 -0zM894.5 490.7a6.2 2.7 -15.9 1 0 12 -3.4a6.2 2.7 -15.9 1 0 -12 3.4zM905.4 501.7a6.6 2.7 7.1 1 0 13.2 1.6a6.6 2.7 7.1 1 0 -13.2 -1.6zM915.5 510.5a7.7 2.7 -11.3 1 0 15.1 -3a7.7 2.7 -11.3 1 0 -15.1 3zM927.5 484.8a5 1.4 8.1 1 0 10 1.4a5 1.4 8.1 1 0 -10 -1.4zM955.5 478.5a7.7 2.7 11.3 1 0 15.1 3a7.7 2.7 11.3 1 0 -15.1 -3zM984.5 479a5.5 1.4 0 1 0 11 0a5.5 1.4 0 1 0 -11 -0zM942.7 493.3a6 1.4 26.6 1 0 10.7 5.3a6 1.4 26.6 1 0 -10.7 -5.3zM880.5 527.9a7.5 1.4 4.8 1 0 15 1.2a7.5 1.4 4.8 1 0 -15 -1.2zM881.4 537.7a7.6 2.7 5.7 1 0 15.2 1.5a7.6 2.7 5.7 1 0 -15.2 -1.5zM898.6 544.4a4.2 1.4 21.8 1 0 7.8 3.1a4.2 1.4 21.8 1 0 -7.8 -3.1zM974.5 546a6.5 1.4 0 1 0 13 0a6.5 1.4 0 1 0 -13 -0zM942.5 530a5.5 1.4 0 1 0 11 0a5.5 1.4 0 1 0 -11 -0zM998.5 505.9a6.5 1.4 5.7 1 0 13 1.3a6.5 1.4 5.7 1 0 -13 -1.3zM1016.6 406.6a4.2 1.4 -21.8 1 0 7.8 -3.1a4.2 1.4 -21.8 1 0 -7.8 3.1zM884.5 499.8a5.5 1.4 7.1 1 0 11 1.4a5.5 1.4 7.1 1 0 -11 -1.4zM907.5 557.8a6 1.4 6.3 1 0 12 1.3a6 1.4 6.3 1 0 -12 -1.3zM854.9 385.1a2.9 1.4 -45 1 0 4.1 -4.1a2.9 1.4 -45 1 0 -4.1 4.1zM904.8 455.2a3.3 1.4 33.7 1 0 5.5 3.7a3.3 1.4 33.7 1 0 -5.5 -3.7zM982.5 441.4a3.6 1.4 -14 1 0 6.9 -1.7a3.6 1.4 -14 1 0 -6.9 1.7zM614.3 683.5a7.8 2.7 73.3 1 0 4.5 15a7.8 2.7 73.3 1 0 -4.5 -15zM603.2 695.5a5.8 2.7 71.6 1 0 3.6 10.9a5.8 2.7 71.6 1 0 -3.6 -10.9zM629.3 673.3a6 1.4 -63.4 1 0 5.3 -10.7a6 1.4 -63.4 1 0 -5.3 10.7zM653.6 680.5a3.6 1.4 76 1 0 1.7 6.9a3.6 1.4 76 1 0 -1.7 -6.9zM686.8 668.5a4.5 1.4 80.5 1 0 1.5 9a4.5 1.4 80.5 1 0 -1.5 -9zM672.8 717.7a6 2.7 63.4 1 0 5.3 10.7a6 2.7 63.4 1 0 -5.3 -10.7zM695.3 706.7a4.9 1.4 63.4 1 0 4.3 8.7a4.9 1.4 63.4 1 0 -4.3 -8.7zM717.2 670.8a5.1 1.4 56.3 1 0 5.7 8.5a5.1 1.4 56.3 1 0 -5.7 -8.5zM786.8 679.7a7.1 2.7 63.4 1 0 6.3 12.7a7.1 2.7 63.4 1 0 -6.3 -12.7zM822.3 670.7a8.2 4 63.4 1 0 7.3 14.6a8.2 4 63.4 1 0 -7.3 -14.6zM811.3 682.7a4.9 1.4 63.4 1 0 4.3 8.7a4.9 1.4 63.4 1 0 -4.3 -8.7zM839.7 650.8a6 2.7 26.6 1 0 10.7 5.3a6 2.7 26.6 1 0 -10.7 -5.3zM864.5 655.6a3.6 1.4 14 1 0 6.9 1.7a3.6 1.4 14 1 0 -6.9 -1.7zM760.3 664.7a3.7 1.4 63.4 1 0 3.3 6.7a3.7 1.4 63.4 1 0 -3.3 -6.7zM747.6 674.5a3.6 1.4 76 1 0 1.7 6.9a3.6 1.4 76 1 0 -1.7 -6.9zM783.8 698.8a3.3 1.4 -33.7 1 0 5.5 -3.7a3.3 1.4 -33.7 1 0 -5.5 3.7zM807.3 734a7.2 2.7 49.4 1 0 9.4 10.9a7.2 2.7 49.4 1 0 -9.4 -10.9zM821.4 753.5a4.7 2.7 76 1 0 2.3 9a4.7 2.7 76 1 0 -2.3 -9zM814.7 761.4a7.6 2.7 84.3 1 0 1.5 15.2a7.6 2.7 84.3 1 0 -1.5 -15.2zM837.1 754.8a4 1.4 53.1 1 0 4.8 6.4a4 1.4 53.1 1 0 -4.8 -6.4zM825.6 732.5a3.6 1.4 76 1 0 1.7 6.9a3.6 1.4 76 1 0 -1.7 -6.9zM665.3 742.7a3.7 1.4 63.4 1 0 3.3 6.7a3.7 1.4 63.4 1 0 -3.3 -6.7zM682.5 746.6a4.7 1.4 71.6 1 0 2.9 8.8a4.7 1.4 71.6 1 0 -2.9 -8.8zM732.3 758.7a3.7 1.4 63.4 1 0 3.3 6.7a3.7 1.4 63.4 1 0 -3.3 -6.7zM808.6 784.5a3.6 1.4 76 1 0 1.7 6.9a3.6 1.4 76 1 0 -1.7 -6.9zM793.6 804.5a3.6 1.4 76 1 0 1.7 6.9a3.6 1.4 76 1 0 -1.7 -6.9zM822.5 798.6a4.7 1.4 71.6 1 0 2.9 8.8a4.7 1.4 71.6 1 0 -2.9 -8.8zM720.2 698.8a5.1 1.4 56.3 1 0 5.7 8.5a5.1 1.4 56.3 1 0 -5.7 -8.5zM644.5 762.6a4.7 1.4 71.6 1 0 2.9 8.8a4.7 1.4 71.6 1 0 -2.9 -8.8zM637.5 786.6a4.7 1.4 71.6 1 0 2.9 8.8a4.7 1.4 71.6 1 0 -2.9 -8.8zM610.3 776.7a3.7 1.4 63.4 1 0 3.3 6.7a3.7 1.4 63.4 1 0 -3.3 -6.7zM662.5 718.6a4.7 1.4 71.6 1 0 2.9 8.8a4.7 1.4 71.6 1 0 -2.9 -8.8zM455.2 347.2a6.8 2.7 45 1 0 9.7 9.7a6.8 2.7 45 1 0 -9.7 -9.7zM467.2 363.2a6.8 2.7 45 1 0 9.7 9.7a6.8 2.7 45 1 0 -9.7 -9.7zM451.2 339.2a5.4 2.7 45 1 0 7.7 7.7a5.4 2.7 45 1 0 -7.7 -7.7zM474.8 374.6a7.3 2.7 32 1 0 12.4 7.8a7.3 2.7 32 1 0 -12.4 -7.8zM457.7 353.3a7.1 4 26.6 1 0 12.6 6.3a7.1 4 26.6 1 0 -12.6 -6.3zM451.2 282.5a5.8 2.7 71.6 1 0 3.6 10.9a5.8 2.7 71.6 1 0 -3.6 -10.9zM519.4 273a5.8 2.7 51.3 1 0 7.2 9.1a5.8 2.7 51.3 1 0 -7.2 -9.1zM517.7 300.7a6.6 2.7 60.3 1 0 6.6 11.5a6.6 2.7 60.3 1 0 -6.6 -11.5zM495.8 294a5.4 1.4 39.8 1 0 8.3 6.9a5.4 1.4 39.8 1 0 -8.3 -6.9zM540.3 269a6.5 2.7 50.2 1 0 8.3 10a6.5 2.7 50.2 1 0 -8.3 -10zM560.9 287.4a5.1 2.7 36.9 1 0 8.2 6.1a5.1 2.7 36.9 1 0 -8.2 -6.1zM568.8 291.6a6.2 2.7 33.7 1 0 10.3 6.9a6.2 2.7 33.7 1 0 -10.3 -6.9zM549.8 327.7a5.5 2.7 31 1 0 9.5 5.7a5.5 2.7 31 1 0 -9.5 -5.7zM552.2 309.8a3.3 1.4 56.3 1 0 3.7 5.5a3.3 1.4 56.3 1 0 -3.7 -5.5zM583.1 324.8a4.7 1.4 51.3 1 0 5.9 7.3a4.7 1.4 51.3 1 0 -5.9 -7.3zM523.2 340.2a4.7 2.7 45 1 0 6.7 6.7a4.7 2.7 45 1 0 -6.7 -6.7zM533.4 338.9a5.1 2.7 53.1 1 0 6.1 8.2a5.1 2.7 53.1 1 0 -6.1 -8.2zM545.7 364.8a8.4 2.7 59 1 0 8.7 14.5a8.4 2.7 59 1 0 -8.7 -14.5zM550.1 383.8a6.5 1.4 53.1 1 0 7.8 10.4a6.5 1.4 53.1 1 0 -7.8 -10.4zM509.5 384.6a5.6 1.4 14 1 0 10.9 2.7a5.6 1.4 14 1 0 -10.9 -2.7zM529.8 388.2a5.1 1.4 33.7 1 0 8.5 5.7a5.1 1.4 33.7 1 0 -8.5 -5.7zM540.8 418.1a4.7 1.4 38.7 1 0 7.3 5.9a4.7 1.4 38.7 1 0 -7.3 -5.9zM531.4 422a5.8 2.7 51.3 1 0 7.2 9.1a5.8 2.7 51.3 1 0 -7.2 -9.1zM372.6 398a8 2.7 21.8 1 0 14.8 5.9a8 2.7 21.8 1 0 -14.8 -5.9zM400.7 417.8a7.1 2.7 26.6 1 0 12.7 6.3a7.1 2.7 26.6 1 0 -12.7 -6.3zM419.6 424.5a5.8 1.4 20.6 1 0 10.8 4.1a5.8 1.4 20.6 1 0 -10.8 -4.1zM438.5 432.2a8.9 2.7 18.4 1 0 16.9 5.6a8.9 2.7 18.4 1 0 -16.9 -5.6zM387.6 438.5a4.7 1.4 18.4 1 0 8.8 2.9a4.7 1.4 18.4 1 0 -8.8 -2.9zM455.9 375.9a7.2 1.4 45 1 0 10.1 10.1a7.2 1.4 45 1 0 -10.1 -10.1zM468.2 295.8a5.1 1.4 56.3 1 0 5.7 8.5a5.1 1.4 56.3 1 0 -5.7 -8.5zM527.2 423.6a6.4 2.7 53.1 1 0 7.6 10.2a6.4 2.7 53.1 1 0 -7.6 -10.2zM540 417a6 2.7 26.6 1 0 10.7 5.3a6 2.7 26.6 1 0 -10.7 -5.3zM550.3 435.1a4.7 1.4 45 1 0 6.6 6.6a4.7 1.4 45 1 0 -6.6 -6.6zM559 443a4.9 1.4 26.6 1 0 8.7 4.4a4.9 1.4 26.6 1 0 -8.7 -4.4zM549.9 450.8a5.4 1.4 16.7 1 0 10.4 3.1a5.4 1.4 16.7 1 0 -10.4 -3.1zM565.3 450.9a4.7 1.4 45 1 0 6.6 6.6a4.7 1.4 45 1 0 -6.6 -6.6zM513.8 384.7a4.6 1.4 14 1 0 8.9 2.2a4.6 1.4 14 1 0 -8.9 -2.2zM527.9 388.6a6.7 2.7 21.8 1 0 12.4 4.9a6.7 2.7 21.8 1 0 -12.4 -4.9zM544.1 396.2a4.2 1.4 33.7 1 0 7 4.7a4.2 1.4 33.7 1 0 -7 -4.7zM549.8 372.4a6.4 2.7 53.1 1 0 7.6 10.2a6.4 2.7 53.1 1 0 -7.6 -10.2zM557.3 378.5a6.4 2.7 53.1 1 0 7.6 10.2a6.4 2.7 53.1 1 0 -7.6 -10.2zM556 391.9a4.9 1.4 26.6 1 0 8.7 4.4a4.9 1.4 26.6 1 0 -8.7 -4.4zM566.6 394.7a4.2 1.4 33.7 1 0 7 4.7a4.2 1.4 33.7 1 0 -7 -4.7zM526.2 376.5a3.6 1.4 45 1 0 5.1 5.1a3.6 1.4 45 1 0 -5.1 -5.1zM501.8 414.5a4.9 1.4 26.6 1 0 8.7 4.4a4.9 1.4 26.6 1 0 -8.7 -4.4zM498.8 395a4.7 1.4 20.6 1 0 8.8 3.3a4.7 1.4 20.6 1 0 -8.8 -3.3zM480.3 375.7a7.9 2.7 45 1 0 11.2 11.2a7.9 2.7 45 1 0 -11.2 -11.2zM471.7 398.1a7.8 1.4 17.4 1 0 14.9 4.7a7.8 1.4 17.4 1 0 -14.9 -4.7zM441.6 434.2a6.3 1.4 18.4 1 0 11.9 4a6.3 1.4 18.4 1 0 -11.9 -4zM552.9 471.9a6.2 1.4 14 1 0 11.9 3a6.2 1.4 14 1 0 -11.9 -3zM558.9 494.4a5.4 1.4 16.7 1 0 10.4 3.1a5.4 1.4 16.7 1 0 -10.4 -3.1zM557.4 507.9a4.7 1.4 20.6 1 0 8.8 3.3a4.7 1.4 20.6 1 0 -8.8 -3.3zM590.5 474.9a5.4 1.4 16.7 1 0 10.4 3.1a5.4 1.4 16.7 1 0 -10.4 -3.1zM441.6 515.4a4.7 1.4 20.6 1 0 8.8 3.3a4.7 1.4 20.6 1 0 -8.8 -3.3zM583.1 452.1a4.9 1.4 26.6 1 0 8.7 4.4a4.9 1.4 26.6 1 0 -8.7 -4.4zM522.9 411.5a4.9 1.4 26.6 1 0 8.7 4.4a4.9 1.4 26.6 1 0 -8.7 -4.4zM574.5 406.4a5.3 1.4 53.1 1 0 6.3 8.4a5.3 1.4 53.1 1 0 -6.3 -8.4zM843.4 577.6a8.7 2.7 9.5 1 0 17.1 2.9a8.7 2.7 9.5 1 0 -17.1 -2.9zM970.5 655.6a5.6 1.4 14 1 0 10.9 2.7a5.6 1.4 14 1 0 -10.9 -2.7zM889.8 624.6a6.2 2.7 33.7 1 0 10.3 6.9a6.2 2.7 33.7 1 0 -10.3 -6.9zM876.6 639.8a6.2 2.7 56.3 1 0 6.9 10.3a6.2 2.7 56.3 1 0 -6.9 -10.3zM904.8 653.1a6.5 1.4 36.9 1 0 10.4 7.8a6.5 1.4 36.9 1 0 -10.4 -7.8zM938.7 666.3a4.9 1.4 26.6 1 0 8.7 4.3a4.9 1.4 26.6 1 0 -8.7 -4.3zM940 706.3a6.5 2.7 39.8 1 0 10 8.3a6.5 2.7 39.8 1 0 -10 -8.3zM1015.9 574.9a4.3 1.4 45 1 0 6.1 6.1a4.3 1.4 45 1 0 -6.1 -6.1zM954.7 571.3a6 1.4 26.6 1 0 10.7 5.3a6 1.4 26.6 1 0 -10.7 -5.3zM894.5 571.6a3.6 1.4 14 1 0 6.9 1.7a3.6 1.4 14 1 0 -6.9 -1.7zM568.7 198.4a7.1 2.7 83.7 1 0 1.6 14.2a7.1 2.7 83.7 1 0 -1.6 -14.2zM534.7 219.4a6.6 2.7 82.9 1 0 1.6 13.2a6.6 2.7 82.9 1 0 -1.6 -13.2zM566.7 255.4a7.6 2.7 84.3 1 0 1.5 15.2a7.6 2.7 84.3 1 0 -1.5 -15.2zM602.7 241.4a6.6 2.7 82.9 1 0 1.6 13.2a6.6 2.7 82.9 1 0 -1.6 -13.2zM586.8 247.4a8.6 2.7 85.2 1 0 1.4 17.2a8.6 2.7 85.2 1 0 -1.4 -17.2zM619.5 259.5a7.7 2.7 78.7 1 0 3 15.1a7.7 2.7 78.7 1 0 -3 -15.1zM626.7 241.4a6.6 2.7 82.9 1 0 1.6 13.2a6.6 2.7 82.9 1 0 -1.6 -13.2zM631.1 263.6a6.9 2.7 69.4 1 0 4.8 12.9a6.9 2.7 69.4 1 0 -4.8 -12.9zM647.5 253.5a7.7 2.7 78.7 1 0 3 15.1a7.7 2.7 78.7 1 0 -3 -15.1zM666.6 242.4a6.1 2.7 81.9 1 0 1.7 12.1a6.1 2.7 81.9 1 0 -1.7 -12.1zM686.4 251.5a6.7 2.7 76 1 0 3.3 13a6.7 2.7 76 1 0 -3.3 -13zM711.7 271.4a6.6 2.7 82.9 1 0 1.6 13.2a6.6 2.7 82.9 1 0 -1.6 -13.2zM714.3 197.5a7.8 2.7 73.3 1 0 4.5 15a7.8 2.7 73.3 1 0 -4.5 -15zM627.6 198.4a6.1 2.7 81.9 1 0 1.7 12.1a6.1 2.7 81.9 1 0 -1.7 -12.1zM647.7 202.5a4 1.4 78.7 1 0 1.6 7.9a4 1.4 78.7 1 0 -1.6 -7.9zM672.7 177.4a6.6 2.7 82.9 1 0 1.6 13.2a6.6 2.7 82.9 1 0 -1.6 -13.2zM634.8 178.5a5.5 1.4 82.9 1 0 1.4 11a5.5 1.4 82.9 1 0 -1.4 -11zM691.7 197.5a4 1.4 78.7 1 0 1.6 7.9a4 1.4 78.7 1 0 -1.6 -7.9zM558.7 183.5a4 1.4 78.7 1 0 1.6 7.9a4 1.4 78.7 1 0 -1.6 -7.9zM626.6 323.8a6.2 2.7 56.3 1 0 6.9 10.3a6.2 2.7 56.3 1 0 -6.9 -10.3zM666.8 320.5a4.5 1.4 80.5 1 0 1.5 9a4.5 1.4 80.5 1 0 -1.5 -9zM423.6 477.4a5.3 1.4 23.2 1 0 9.8 4.2a5.3 1.4 23.2 1 0 -9.8 -4.2zM391.6 492.4a6.9 1.4 21.8 1 0 12.8 5.1a6.9 1.4 21.8 1 0 -12.8 -5.1zM399.6 512.5a4.7 1.4 18.4 1 0 8.8 2.9a4.7 1.4 18.4 1 0 -8.8 -2.9zM519.5 522.9a9.5 1.4 3.6 1 0 19 1.2a9.5 1.4 3.6 1 0 -19 -1.2zM439.5 548.8a5.5 1.4 7.1 1 0 11 1.4a5.5 1.4 7.1 1 0 -11 -1.4zM459.5 553.8a5.5 1.4 7.1 1 0 11 1.4a5.5 1.4 7.1 1 0 -11 -1.4zM422.5 562.8a5 1.4 8.1 1 0 10 1.4a5 1.4 8.1 1 0 -10 -1.4zM444.5 567.4a3.6 1.4 -14 1 0 6.9 -1.7a3.6 1.4 -14 1 0 -6.9 1.7zM435.6 579.5a4.7 1.4 -18.4 1 0 8.8 -2.9a4.7 1.4 -18.4 1 0 -8.8 2.9zM431.7 585.7a3.7 1.4 -26.6 1 0 6.7 -3.3a3.7 1.4 -26.6 1 0 -6.7 3.3zM417.5 587.4a3.6 1.4 -14 1 0 6.9 -1.7a3.6 1.4 -14 1 0 -6.9 1.7zM457.5 583.3a4 1.4 -11.3 1 0 7.9 -1.6a4 1.4 -11.3 1 0 -7.9 1.6zM403.6 601.6a6.7 1.4 16.7 1 0 12.9 3.9a6.7 1.4 16.7 1 0 -12.9 -3.9zM427.5 608.8a4.5 1.4 9.5 1 0 9 1.5a4.5 1.4 9.5 1 0 -9 -1.5zM422.5 617.2a5.5 1.4 -7.1 1 0 11 -1.4a5.5 1.4 -7.1 1 0 -11 1.4zM449.5 633.8a7.6 1.4 9.5 1 0 15 2.5a7.6 1.4 9.5 1 0 -15 -2.5zM433.5 649.2a4.5 1.4 -9.5 1 0 9 -1.5a4.5 1.4 -9.5 1 0 -9 1.5zM531.5 593.2a5.5 1.4 -7.1 1 0 11 -1.4a5.5 1.4 -7.1 1 0 -11 1.4zM511.5 576.2a5.5 1.4 -7.1 1 0 11 -1.4a5.5 1.4 -7.1 1 0 -11 1.4zM523.7 619.7a3.7 1.4 -26.6 1 0 6.7 -3.3a3.7 1.4 -26.6 1 0 -6.7 3.3zM535.7 629.8a4.4 1.4 -31 1 0 7.6 -4.5a4.4 1.4 -31 1 0 -7.6 4.5zM544.5 603.4a3.6 1.4 -14 1 0 6.9 -1.7a3.6 1.4 -14 1 0 -6.9 1.7zM568.5 633.2a5 1.4 -8.1 1 0 10 -1.4a5 1.4 -8.1 1 0 -10 1.4zM575.5 638.2a4.5 1.4 -9.5 1 0 9 -1.5a4.5 1.4 -9.5 1 0 -9 1.5zM561.9 640.9a2.9 1.4 45 1 0 4.1 4.1a2.9 1.4 45 1 0 -4.1 -4.1zM550.6 559.5a3.1 1.4 -18.4 1 0 5.8 -1.9a3.1 1.4 -18.4 1 0 -5.8 1.9zM467.7 621.7a2.6 1.4 -26.6 1 0 4.7 -2.3a2.6 1.4 -26.6 1 0 -4.7 2.3z"/>
<path stroke="#e27e1e" stroke-width="8.6" d="M454 328Q460 335 464 337.2Q468 339.4 472.5 341.2Q477 343 482 343.5Q487 344 493 342"/>
<path stroke="#e27e1e" stroke-width="6.4" d="M828 216Q840 213 852 211M933 425Q944 424 955 425M906 479Q914 482 922 485M691 728Q693 738 698 745M808 670Q816 678 822 683M466 342Q472 353 475.5 358Q479 363 483.5 367Q488 371 498 378.6M499 355Q505 361 508.5 362.5Q512 364 521 367"/>
<path stroke="#6c84b2" stroke-width="6.4" d="M807 271Q816 267 820 265Q824 263 829 261M898 323Q906 324 912 322M452 344Q460 353 464.5 359Q469 365 475 371Q481 377 493 385M920 593Q930 596 940 601"/>
<path stroke="#e27e1e" stroke-width="5.0" d="M788 230Q794 220 802 214M811 250Q815 260 818 264M808 271.6Q816 270.4 824 268.4M814 276Q816 286 814 296M881 295Q886 286 892 283M906 330Q912 328 918 337M938 402Q947 395 952 385M930 436Q938 432 941 427M895 484Q902 476 906 473M957 463Q966 461 974 462M758 678Q762 688 770 696M714 770Q717 778 716 786M476 354Q483 358 486 361.5Q489 365 497 374M434 277Q438 287 440 292.5Q442 298 444.5 304Q447 310 453 323M463 443Q475 448 482 449Q489 450 496 449.3Q503 448.6 509 447.3Q515 446 529 439.4M474.6 392.6Q482.1 395.6 489.6 400.1M970 618Q978 620 986 626M958 637Q966 638 974 640M595 264Q600 274 606 284"/>
<path stroke="#6c84b2" stroke-width="5.0" d="M744 217Q752 210 755 202M826 246Q829 254 828 261M856 274Q862 267 864 263M915 315Q922 313 923 318M918 388Q928 386 940 390M918 402Q926 400 936 405M940 413Q948 417 954 419M944 555Q952 554 962 553M776 676Q781 682 784 686M463 315Q469 323 473 331M485 329Q493 331 498 335M926 576Q936 580 944 584M956 618Q966 622 971 625Q976 628 985 632M950 640Q958 648 966 654M694 258Q697 268 700 278"/>
<path stroke="#6c84b2" stroke-width="3.5" d="M968 439Q974 435 979 432M413 551Q423 550 435 551"/>
<path stroke="#e27e1e" stroke-width="3.5" d="M610 240Q616 246 618 250M401 547Q411 545 421 543M419 610Q425 606 430 605Q435 604 441 601M567 631Q575 627 581 623"/>
</g>
<filter id="nb4" x="-3%" y="-3%" width="106%" height="106%" color-interpolation-filters="sRGB"><feTurbulence type="fractalNoise" baseFrequency="0.05" numOctaves="2" seed="5" result="t"/><feDisplacementMap in="SourceGraphic" in2="t" scale="7" xChannelSelector="R" yChannelSelector="G" result="d"/><feGaussianBlur in="d" stdDeviation="0.7"/></filter>
<g filter="url(#nb4)" fill="none" stroke-linecap="round" stroke-linejoin="round">
<path fill="#ea480c" d="M508.4 697.8a5.4 1.4 195.2 1 0 -10.5 -2.8a5.4 1.4 195.2 1 0 10.5 2.8zM568.8 735.5a4.6 1.6 133.1 1 0 -6.3 6.8a4.6 1.6 133.1 1 0 6.3 -6.8zM541 676.1a4.9 1.3 202.9 1 0 -9.1 -3.8a4.9 1.3 202.9 1 0 9.1 3.8zM751.6 241.4a7.2 1.8 -74.7 1 0 3.8 -13.9a7.2 1.8 -74.7 1 0 -3.8 13.9zM756.9 241.9a5 1.8 45 1 0 7.1 7.1a5 1.8 45 1 0 -7.1 -7.1zM763.4 214.6a6.9 1.8 68.2 1 0 5.1 12.8a6.9 1.8 68.2 1 0 -5.1 -12.8zM778.8 234a5.4 1.8 -39.8 1 0 8.3 -6.9a5.4 1.8 -39.8 1 0 -8.3 6.9zM812.5 225.4a7.8 1.8 -71.6 1 0 4.9 -14.8a7.8 1.8 -71.6 1 0 -4.9 14.8zM839.9 234.5a6.5 1.8 84.3 1 0 1.3 13a6.5 1.8 84.3 1 0 -1.3 -13zM801.4 255.5a7.2 3 77.5 1 0 3.1 14.1a7.2 3 77.5 1 0 -3.1 -14.1zM805.2 304.8a5.1 1.8 56.3 1 0 5.7 8.5a5.1 1.8 56.3 1 0 -5.7 -8.5zM777.4 257.6a4.2 1.8 68.2 1 0 3.1 7.8a4.2 1.8 68.2 1 0 -3.1 -7.8zM924.3 317.5a7.8 3 73.3 1 0 4.5 15a7.8 3 73.3 1 0 -4.5 -15zM914.4 356.9a9.9 4.2 -14 1 0 19.2 -4.8a9.9 4.2 -14 1 0 -19.2 4.8zM913.8 378.9a6.6 4.2 -31 1 0 11.3 -6.8a6.6 4.2 -31 1 0 -11.3 6.8zM901.7 371.7a5.5 1.8 -29.7 1 0 9.6 -5.5a5.5 1.8 -29.7 1 0 -9.6 5.5zM911.6 348.6a6.7 1.8 73.3 1 0 3.9 12.9a6.7 1.8 73.3 1 0 -3.9 -12.9zM859.1 388.2a4.7 1.8 -51.3 1 0 5.9 -7.3a4.7 1.8 -51.3 1 0 -5.9 7.3zM790.3 237.5a6.1 1.8 102.5 1 0 -2.7 11.9a6.1 1.8 102.5 1 0 2.7 -11.9zM798.6 233.6a5.1 1.8 74.1 1 0 2.8 9.9a5.1 1.8 74.1 1 0 -2.8 -9.9zM913.9 380.1a7.3 4.2 -33.7 1 0 12.2 -8.1a7.3 4.2 -33.7 1 0 -12.2 8.1zM913.5 453.8a4.5 1.8 9.5 1 0 9 1.5a4.5 1.8 9.5 1 0 -9 -1.5zM907.5 466.7a6.6 1.8 11.3 1 0 12.9 2.6a6.6 1.8 11.3 1 0 -12.9 -2.6zM928.5 481.1a6.5 1.8 -5.7 1 0 13 -1.3a6.5 1.8 -5.7 1 0 -13 1.3zM860.5 490.9a6.5 1.8 5.7 1 0 13 1.3a6.5 1.8 5.7 1 0 -13 -1.3zM855.8 389.9a4 1.8 -36.9 1 0 6.4 -4.8a4 1.8 -36.9 1 0 -6.4 4.8zM699.6 700.6a6.7 1.8 73.3 1 0 3.9 12.9a6.7 1.8 73.3 1 0 -3.9 -12.9zM689.1 718.9a4.3 1.8 135 1 0 -6.1 6.1a4.3 1.8 135 1 0 6.1 -6.1zM703.4 680.6a8 1.8 67.4 1 0 6.2 14.8a8 1.8 67.4 1 0 -6.2 -14.8zM715.4 704.5a7.7 1.8 104 1 0 -3.7 14.9a7.7 1.8 104 1 0 3.7 -14.9zM608.8 681.5a6 1.8 83.7 1 0 1.3 12a6 1.8 83.7 1 0 -1.3 -12zM750 654.9a6.8 1.8 48.8 1 0 9 10.3a6.8 1.8 48.8 1 0 -9 -10.3zM739.6 672.6a6.7 1.8 73.3 1 0 3.9 12.9a6.7 1.8 73.3 1 0 -3.9 -12.9zM817.6 670.6a6.7 1.8 73.3 1 0 3.9 12.9a6.7 1.8 73.3 1 0 -3.9 -12.9zM813.8 698.1a4 1.8 36.9 1 0 6.4 4.8a4 1.8 36.9 1 0 -6.4 -4.8zM831 727.8a5.4 1.8 50.2 1 0 6.9 8.3a5.4 1.8 50.2 1 0 -6.9 -8.3zM853.3 746.7a6 1.8 63.4 1 0 5.3 10.7a6 1.8 63.4 1 0 -5.3 -10.7zM505.5 447.5a6.2 3 -11.3 1 0 12.1 -2.4a6.2 3 -11.3 1 0 -12.1 2.4zM558.1 267.8a6.5 1.8 53.1 1 0 7.8 10.4a6.5 1.8 53.1 1 0 -7.8 -10.4zM570.3 273.7a6 1.8 63.4 1 0 5.3 10.7a6 1.8 63.4 1 0 -5.3 -10.7zM600.3 275.7a6 1.8 63.4 1 0 5.3 10.7a6 1.8 63.4 1 0 -5.3 -10.7zM580.3 417.7a2.6 1.8 63.4 1 0 2.3 4.7a2.6 1.8 63.4 1 0 -2.3 -4.7zM563.8 405a3.6 1.8 45 1 0 5.1 5.1a3.6 1.8 45 1 0 -5.1 -5.1zM549.9 500.6a5.3 1.8 11.3 1 0 10.5 2.1a5.3 1.8 11.3 1 0 -10.5 -2.1zM578.9 417.1a3.1 1.8 45 1 0 4.4 4.4a3.1 1.8 45 1 0 -4.4 -4.4zM587.1 446.4a2.6 1.8 45 1 0 3.6 3.6a2.6 1.8 45 1 0 -3.6 -3.6zM921.7 602.3a6.6 1.8 29.1 1 0 11.6 6.5a6.6 1.8 29.1 1 0 -11.6 -6.5zM844.5 584.8a5.5 1.8 7.1 1 0 11 1.4a5.5 1.8 7.1 1 0 -11 -1.4zM978.5 634.9a6.5 1.8 5.7 1 0 13 1.3a6.5 1.8 5.7 1 0 -13 -1.3zM884.8 628.2a5.1 1.8 33.7 1 0 8.5 5.7a5.1 1.8 33.7 1 0 -8.5 -5.7zM869.6 649.5a4.7 1.8 18.4 1 0 8.8 2.9a4.7 1.8 18.4 1 0 -8.8 -2.9zM707.6 267.4a7.7 3 80.9 1 0 2.4 15.1a7.7 3 80.9 1 0 -2.4 -15.1z"/>
<path fill="#384e80" d="M561.9 676.5a4.3 1.6 196.1 1 0 -8.2 -2.4a4.3 1.6 196.1 1 0 8.2 2.4zM872.1 728.5a4 1.7 6.9 1 0 7.9 1a4 1.7 6.9 1 0 -7.9 -1zM598.8 694.2a3.2 1.4 74.9 1 0 1.7 6.2a3.2 1.4 74.9 1 0 -1.7 -6.2zM531.9 679.3a3.6 1.5 201.5 1 0 -6.7 -2.6a3.6 1.5 201.5 1 0 6.7 2.6zM465.6 667.2a5 1.7 150.9 1 0 -8.7 4.8a5 1.7 150.9 1 0 8.7 -4.8zM499.3 688a3.4 1.6 95.2 1 0 -.6 6.7a3.4 1.6 95.2 1 0 .6 -6.7zM570.7 658.5a4.2 1.5 68.4 1 0 3.1 7.7a4.2 1.5 68.4 1 0 -3.1 -7.7zM528.5 722.6a4.1 1.5 91.8 1 0 -.3 8.2a4.1 1.5 91.8 1 0 .3 -8.2zM543.2 719.6a4.6 1.6 154.9 1 0 -8.3 3.9a4.6 1.6 154.9 1 0 8.3 -3.9zM507.9 686.7a3.3 1.5 155.5 1 0 -6 2.7a3.3 1.5 155.5 1 0 6 -2.7zM591.8 703.7a4.7 1.7 181.3 1 0 -9.5 -.2a4.7 1.7 181.3 1 0 9.5 .2zM763.5 245.7a6.2 3 -15.9 1 0 12 -3.4a6.2 3 -15.9 1 0 -12 3.4zM769.7 232.3a3.7 1.8 26.6 1 0 6.7 3.3a3.7 1.8 26.6 1 0 -6.7 -3.3zM780.7 250.8a4.4 1.8 -31 1 0 7.6 -4.5a4.4 1.8 -31 1 0 -7.6 4.5zM785.1 260.2a4.7 1.8 -51.3 1 0 5.9 -7.3a4.7 1.8 -51.3 1 0 -5.9 7.3zM800.8 239a5.4 1.8 -39.8 1 0 8.3 -6.9a5.4 1.8 -39.8 1 0 -8.3 6.9zM819.9 239.1a5.7 1.8 -45 1 0 8.1 -8.1a5.7 1.8 -45 1 0 -8.1 8.1zM770.6 272.6a4.2 1.8 -21.8 1 0 7.8 -3.1a4.2 1.8 -21.8 1 0 -7.8 3.1zM784.9 271.1a3.6 1.8 -45 1 0 5.1 -5.1a3.6 1.8 -45 1 0 -5.1 5.1zM842.5 249.3a6.6 1.8 -11.3 1 0 12.9 -2.6a6.6 1.8 -11.3 1 0 -12.9 2.6zM874.5 274.9a6.5 1.8 5.7 1 0 13 1.3a6.5 1.8 5.7 1 0 -13 -1.3zM862.8 284.8a3.3 1.8 -33.7 1 0 5.5 -3.7a3.3 1.8 -33.7 1 0 -5.5 3.7zM881.5 304.7a7.8 3 -16.7 1 0 15 -4.5a7.8 3 -16.7 1 0 -15 4.5zM919.4 346.6a5.6 3 9.5 1 0 11.1 1.9a5.6 3 9.5 1 0 -11.1 -1.9zM927 371.2a5.4 1.8 -50.2 1 0 6.9 -8.3a5.4 1.8 -50.2 1 0 -6.9 8.3zM899.9 351.1a2.9 1.8 -45 1 0 4.1 -4.1a2.9 1.8 -45 1 0 -4.1 4.1zM810.8 316a5.4 1.8 -39.8 1 0 8.3 -6.9a5.4 1.8 -39.8 1 0 -8.3 6.9zM814.9 303.1a4.3 1.8 -45 1 0 6.1 -6.1a4.3 1.8 -45 1 0 -6.1 6.1zM854.9 381.9a2.9 1.8 45 1 0 4.1 4.1a2.9 1.8 45 1 0 -4.1 -4.1zM930.5 383.3a9.6 1.8 -10.6 1 0 18.9 -3.6a9.6 1.8 -10.6 1 0 -18.9 3.6zM936.5 382.3a6.6 1.8 -11.3 1 0 12.9 -2.6a6.6 1.8 -11.3 1 0 -12.9 2.6zM930.5 440.8a5.5 1.8 7.1 1 0 11 1.4a5.5 1.8 7.1 1 0 -11 -1.4zM936.5 462a4 1.8 0 1 0 8 0a4 1.8 0 1 0 -8 -0zM895.6 490.4a5.1 1.8 -15.9 1 0 9.9 -2.8a5.1 1.8 -15.9 1 0 -9.9 2.8zM906.5 501.8a5.5 1.8 7.1 1 0 11 1.4a5.5 1.8 7.1 1 0 -11 -1.4zM916.5 510.3a6.6 1.8 -11.3 1 0 12.9 -2.6a6.6 1.8 -11.3 1 0 -12.9 2.6zM956.5 478.7a6.6 1.8 11.3 1 0 12.9 2.6a6.6 1.8 11.3 1 0 -12.9 -2.6zM882.5 537.9a6.5 1.8 5.7 1 0 13 1.3a6.5 1.8 5.7 1 0 -13 -1.3zM614.6 684.6a6.7 1.8 73.3 1 0 3.9 12.9a6.7 1.8 73.3 1 0 -3.9 -12.9zM603.5 696.6a4.7 1.8 71.6 1 0 2.9 8.8a4.7 1.8 71.6 1 0 -2.9 -8.8zM673.3 718.7a4.9 1.8 63.4 1 0 4.3 8.7a4.9 1.8 63.4 1 0 -4.3 -8.7zM787.3 680.7a6 1.8 63.4 1 0 5.3 10.7a6 1.8 63.4 1 0 -5.3 -10.7zM822.8 671.7a7.1 3 63.4 1 0 6.3 12.7a7.1 3 63.4 1 0 -6.3 -12.7zM840.7 651.3a4.9 1.8 26.6 1 0 8.7 4.3a4.9 1.8 26.6 1 0 -8.7 -4.3zM808 734.9a6.1 1.8 49.4 1 0 8 9.3a6.1 1.8 49.4 1 0 -8 -9.3zM821.6 754.5a3.6 1.8 76 1 0 1.7 6.9a3.6 1.8 76 1 0 -1.7 -6.9zM814.9 762.5a6.5 1.8 84.3 1 0 1.3 13a6.5 1.8 84.3 1 0 -1.3 -13zM455.9 347.9a5.7 1.8 45 1 0 8.1 8.1a5.7 1.8 45 1 0 -8.1 -8.1zM467.9 363.9a5.7 1.8 45 1 0 8.1 8.1a5.7 1.8 45 1 0 -8.1 -8.1zM451.9 339.9a4.3 1.8 45 1 0 6.1 6.1a4.3 1.8 45 1 0 -6.1 -6.1zM475.7 375.2a6.2 1.8 32 1 0 10.5 6.6a6.2 1.8 32 1 0 -10.5 -6.6zM458.7 353.8a6 3 26.6 1 0 10.7 5.3a6 3 26.6 1 0 -10.7 -5.3zM451.5 283.6a4.7 1.8 71.6 1 0 2.9 8.8a4.7 1.8 71.6 1 0 -2.9 -8.8zM520.1 273.8a4.7 1.8 51.3 1 0 5.9 7.3a4.7 1.8 51.3 1 0 -5.9 -7.3zM518.3 301.7a5.5 1.8 60.3 1 0 5.5 9.6a5.5 1.8 60.3 1 0 -5.5 -9.6zM541 269.8a5.4 1.8 50.2 1 0 6.9 8.3a5.4 1.8 50.2 1 0 -6.9 -8.3zM561.8 288.1a4 1.8 36.9 1 0 6.4 4.8a4 1.8 36.9 1 0 -6.4 -4.8zM569.8 292.2a5.1 1.8 33.7 1 0 8.5 5.7a5.1 1.8 33.7 1 0 -8.5 -5.7zM550.7 328.2a4.4 1.8 31 1 0 7.6 4.5a4.4 1.8 31 1 0 -7.6 -4.5zM523.9 340.9a3.6 1.8 45 1 0 5.1 5.1a3.6 1.8 45 1 0 -5.1 -5.1zM534.1 339.8a4 1.8 53.1 1 0 4.8 6.4a4 1.8 53.1 1 0 -4.8 -6.4zM546.2 365.7a7.3 1.8 59 1 0 7.5 12.6a7.3 1.8 59 1 0 -7.5 -12.6zM532.1 422.8a4.7 1.8 51.3 1 0 5.9 7.3a4.7 1.8 51.3 1 0 -5.9 -7.3zM373.6 398.4a6.9 1.8 21.8 1 0 12.8 5.1a6.9 1.8 21.8 1 0 -12.8 -5.1zM401.7 418.3a6 1.8 26.6 1 0 10.7 5.3a6 1.8 26.6 1 0 -10.7 -5.3zM439.6 432.5a7.8 1.8 18.4 1 0 14.8 4.9a7.8 1.8 18.4 1 0 -14.8 -4.9zM527.9 424.5a5.3 1.8 53.1 1 0 6.3 8.4a5.3 1.8 53.1 1 0 -6.3 -8.4zM541 417.5a4.9 1.8 26.6 1 0 8.7 4.4a4.9 1.8 26.6 1 0 -8.7 -4.4zM528.9 389a5.6 1.8 21.8 1 0 10.3 4.1a5.6 1.8 21.8 1 0 -10.3 -4.1zM550.4 373.3a5.3 1.8 53.1 1 0 6.3 8.4a5.3 1.8 53.1 1 0 -6.3 -8.4zM557.9 379.3a5.3 1.8 53.1 1 0 6.3 8.4a5.3 1.8 53.1 1 0 -6.3 -8.4zM481.1 376.5a6.8 1.8 45 1 0 9.6 9.6a6.8 1.8 45 1 0 -9.6 -9.6zM844.5 577.8a7.6 1.8 9.5 1 0 15 2.5a7.6 1.8 9.5 1 0 -15 -2.5zM890.8 625.2a5.1 1.8 33.7 1 0 8.5 5.7a5.1 1.8 33.7 1 0 -8.5 -5.7zM877.2 640.8a5.1 1.8 56.3 1 0 5.7 8.5a5.1 1.8 56.3 1 0 -5.7 -8.5zM940.8 707a5.4 1.8 39.8 1 0 8.3 6.9a5.4 1.8 39.8 1 0 -8.3 -6.9zM568.8 199.5a6 1.8 83.7 1 0 1.3 12a6 1.8 83.7 1 0 -1.3 -12zM534.8 220.5a5.5 1.8 82.9 1 0 1.4 11a5.5 1.8 82.9 1 0 -1.4 -11zM566.9 256.5a6.5 1.8 84.3 1 0 1.3 13a6.5 1.8 84.3 1 0 -1.3 -13zM602.8 242.5a5.5 1.8 82.9 1 0 1.4 11a5.5 1.8 82.9 1 0 -1.4 -11zM586.9 248.5a7.5 1.8 85.2 1 0 1.2 15a7.5 1.8 85.2 1 0 -1.2 -15zM619.7 260.5a6.6 1.8 78.7 1 0 2.6 12.9a6.6 1.8 78.7 1 0 -2.6 -12.9zM626.8 242.5a5.5 1.8 82.9 1 0 1.4 11a5.5 1.8 82.9 1 0 -1.4 -11zM631.5 264.6a5.8 1.8 69.4 1 0 4.1 10.8a5.8 1.8 69.4 1 0 -4.1 -10.8zM647.7 254.5a6.6 1.8 78.7 1 0 2.6 12.9a6.6 1.8 78.7 1 0 -2.6 -12.9zM666.8 243.5a5 1.8 81.9 1 0 1.4 10a5 1.8 81.9 1 0 -1.4 -10zM686.6 252.5a5.6 1.8 76 1 0 2.7 10.9a5.6 1.8 76 1 0 -2.7 -10.9zM711.8 272.5a5.5 1.8 82.9 1 0 1.4 11a5.5 1.8 82.9 1 0 -1.4 -11zM714.6 198.6a6.7 1.8 73.3 1 0 3.9 12.9a6.7 1.8 73.3 1 0 -3.9 -12.9zM627.8 199.5a5 1.8 81.9 1 0 1.4 10a5 1.8 81.9 1 0 -1.4 -10zM672.8 178.5a5.5 1.8 82.9 1 0 1.4 11a5.5 1.8 82.9 1 0 -1.4 -11zM627.2 324.8a5.1 1.8 56.3 1 0 5.7 8.5a5.1 1.8 56.3 1 0 -5.7 -8.5z"/>
<path stroke="#ea480c" stroke-width="7.6" d="M454 328Q460 335 464 337.2Q468 339.4 472.5 341.2Q477 343 482 343.5Q487 344 493 342"/>
<path stroke="#ea480c" stroke-width="5.0" d="M828 216Q840 213 852 211M933 425Q944 424 955 425M906 479Q914 482 922 485M691 728Q693 738 698 745M808 670Q816 678 822 683M466 342Q472 353 475.5 358Q479 363 483.5 367Q488 371 498 378.6M499 355Q505 361 508.5 362.5Q512 364 521 367"/>
<path stroke="#384e80" stroke-width="5.0" d="M807 271Q816 267 820 265Q824 263 829 261M898 323Q906 324 912 322M920 593Q930 596 940 601"/>
<path stroke="#ea480c" stroke-width="3.5" d="M788 230Q794 220 802 214M811 250Q815 260 818 264M808 271.6Q816 270.4 824 268.4M814 276Q816 286 814 296M881 295Q886 286 892 283M906 330Q912 328 918 337M938 402Q947 395 952 385M930 436Q938 432 941 427M895 484Q902 476 906 473M957 463Q966 461 974 462M758 678Q762 688 770 696M714 770Q717 778 716 786M476 354Q483 358 486 361.5Q489 365 497 374M434 277Q438 287 440 292.5Q442 298 444.5 304Q447 310 453 323M463 443Q475 448 482 449Q489 450 496 449.3Q503 448.6 509 447.3Q515 446 529 439.4M474.6 392.6Q482.1 395.6 489.6 400.1M970 618Q978 620 986 626M958 637Q966 638 974 640M595 264Q600 274 606 284"/>
<path stroke="#384e80" stroke-width="3.5" d="M744 217Q752 210 755 202M826 246Q829 254 828 261M856 274Q862 267 864 263M915 315Q922 313 923 318M918 388Q928 386 940 390M918 402Q926 400 936 405M940 413Q948 417 954 419M944 555Q952 554 962 553M776 676Q781 682 784 686M463 315Q469 323 473 331M485 329Q493 331 498 335M926 576Q936 580 944 584M956 618Q966 622 971 625Q976 628 985 632M950 640Q958 648 966 654M694 258Q697 268 700 278"/>
</g>
<filter id="nb5" x="-3%" y="-3%" width="106%" height="106%" color-interpolation-filters="sRGB"><feTurbulence type="fractalNoise" baseFrequency="0.05" numOctaves="2" seed="5" result="t"/><feDisplacementMap in="SourceGraphic" in2="t" scale="7" xChannelSelector="R" yChannelSelector="G" result="d"/><feGaussianBlur in="d" stdDeviation="0.6"/></filter>
<g filter="url(#nb5)" fill="none" stroke-linecap="round" stroke-linejoin="round">
<path fill="#ef1410" d="M801.7 256.5a6.1 2.1 77.5 1 0 2.7 11.9a6.1 2.1 77.5 1 0 -2.7 -11.9zM924.6 318.6a6.7 2.1 73.3 1 0 3.9 12.9a6.7 2.1 73.3 1 0 -3.9 -12.9zM915.5 356.6a8.8 3.2 -14 1 0 17 -4.3a8.8 3.2 -14 1 0 -17 4.3zM914.8 378.3a5.5 3.2 -31 1 0 9.5 -5.7a5.5 3.2 -31 1 0 -9.5 5.7zM914.8 379.4a6.2 3.2 -33.7 1 0 10.3 -6.9a6.2 3.2 -33.7 1 0 -10.3 6.9zM506.5 447.3a5.1 2.1 -11.3 1 0 9.9 -2a5.1 2.1 -11.3 1 0 -9.9 2zM707.8 268.5a6.6 2.1 80.9 1 0 2.1 13a6.6 2.1 80.9 1 0 -2.1 -13z"/>
<path fill="#2a3148" d="M764.6 245.4a5.1 2.1 -15.9 1 0 9.9 -2.8a5.1 2.1 -15.9 1 0 -9.9 2.8zM882.6 304.4a6.7 2.1 -16.7 1 0 12.9 -3.9a6.7 2.1 -16.7 1 0 -12.9 3.9zM920.5 346.8a4.5 2.1 9.5 1 0 9 1.5a4.5 2.1 9.5 1 0 -9 -1.5zM823.3 672.7a6 2.1 63.4 1 0 5.3 10.7a6 2.1 63.4 1 0 -5.3 -10.7zM459.7 354.3a4.9 2.1 26.6 1 0 8.7 4.3a4.9 2.1 26.6 1 0 -8.7 -4.3z"/>
<path stroke="#ef1410" stroke-width="6.4" d="M454 328Q460 335 464 337.2Q468 339.4 472.5 341.2Q477 343 482 343.5Q487 344 493 342"/>
<path stroke="#ef1410" stroke-width="3.5" d="M828 216Q840 213 852 211M933 425Q944 424 955 425M906 479Q914 482 922 485M691 728Q693 738 698 745M808 670Q816 678 822 683M466 342Q472 353 475.5 358Q479 363 483.5 367Q488 371 498 378.6M499 355Q505 361 508.5 362.5Q512 364 521 367"/>
<path stroke="#2a3148" stroke-width="3.5" d="M807 271Q816 267 820 265Q824 263 829 261M898 323Q906 324 912 322M920 593Q930 596 940 601"/>
</g>
<filter id="nb6" x="-3%" y="-3%" width="106%" height="106%" color-interpolation-filters="sRGB"><feTurbulence type="fractalNoise" baseFrequency="0.05" numOctaves="2" seed="5" result="t"/><feDisplacementMap in="SourceGraphic" in2="t" scale="7" xChannelSelector="R" yChannelSelector="G" result="d"/><feGaussianBlur in="d" stdDeviation="0.5"/></filter>
<g filter="url(#nb6)" fill="none" stroke-linecap="round" stroke-linejoin="round">
<path fill="#c40f22" d="M916.5 356.4a7.7 2.2 -14 1 0 14.9 -3.7a7.7 2.2 -14 1 0 -14.9 3.7zM915.7 377.8a4.4 2.2 -31 1 0 7.6 -4.5a4.4 2.2 -31 1 0 -7.6 4.5zM915.8 378.8a5.1 2.2 -33.7 1 0 8.5 -5.7a5.1 2.2 -33.7 1 0 -8.5 5.7z"/>
<path stroke="#c40f22" stroke-width="5.0" d="M454 328Q460 335 464 337.2Q468 339.4 472.5 341.2Q477 343 482 343.5Q487 344 493 342"/>
</g>
<filter id="nb7" x="-3%" y="-3%" width="106%" height="106%" color-interpolation-filters="sRGB"><feTurbulence type="fractalNoise" baseFrequency="0.05" numOctaves="2" seed="5" result="t"/><feDisplacementMap in="SourceGraphic" in2="t" scale="7" xChannelSelector="R" yChannelSelector="G" result="d"/><feGaussianBlur in="d" stdDeviation="0.5"/></filter>
<g filter="url(#nb7)" fill="none" stroke-linecap="round" stroke-linejoin="round">
<path stroke="#9a1030" stroke-width="3.5" d="M454 328Q460 335 464 337.2Q468 339.4 472.5 341.2Q477 343 482 343.5Q487 344 493 342"/>
</g>

<path d="M586.2 430 L605 421.2 L630 415 L650 411.2 L672.5 403.8 L680 406.2 L670 425 L665 445 L655 460 L640 470 L630 467.5 L622.5 456.2 L605 451.2 L588.8 440Z" fill="#efefef" opacity="0.92" filter="url(#b2)"/>
<path d="M809.0 206.9L739.3 398.6" stroke="#fff" stroke-width="0.8" opacity="0.9"/>
<path d="M679 544.6 L682 543 L685 539 L687 535 L688.4 531 L688 527 L689 524.6 L692 525 L695 527.4 L698 530.6 L701 534 L705 537 L709 540 L713 544 L716 548 L718.4 552 L720 556 L719.6 560 L717 563 L710 564.4 L700 564.6 L690 563.6 L682 562 L678 559 L677 554 L675.6 549 L674 545 L676 544Z" fill="#fff"/>
<path d="M647 559 L643 556 L641 552 L638 549 L634 548 L630 549 L627 550.6 L628 548 L626 545 L624 542 L628 541 L630 538 L629 535 L626 536 L623 535 L625 533 L626 529 L624 527 L621 528 L619 525 L620 521 L619 517 L617 514 L615 512 L612 513 L610 516 L607 521 L605 518 L605.6 514 L607 510 L608 505 L609 500" fill="none" stroke="#fff" stroke-width="3.5" stroke-linejoin="round"/>
<path d="M652.5 459 L660 455 L663.8 456.2 L657.5 460Z" fill="#fff" stroke="#fff" stroke-width="1.5"/>
<path d="M627.5 553.8 L635 552.5 L636.2 556.2 L628.8 557Z" fill="#fff" stroke="#fff" stroke-width="1.5"/>
<path d="M432.4 276.4 L435 283 L437 291 L437.4 297 L440 303 L442 309 L442.6 315 L440.6 320 L437 324 L433 328 L429 330.6 L426 332 L427.4 334 L432 333 L436 331.4 L439 335 L444 334 L447 337 L449 342 L450 347 L449.4 353 L447 359 L445 364 L444.4 367 L448 369 L452 372 L454.6 375 L454 379 L451 382 L449 384.4 L453 386.4 L457.6 387 L458.4 383 L461 383 L462.4 386 L461.6 389 L465 392 L469 395 L471 399 L471.4 403 L474 407 L478 407.4 L482 405 L485 406 L487.6 408 L488.6 413 L492 418 L496 422 L500 425 L505 426 L511 427 L517 426 L522 424 L525.6 421.4 L526.6 424 L525 428 L523.6 433 L521 437 L517 441 L512 444 L507 446 L504 448 L500 447 L496 446 L492 448 L488 446 L484 444 L479 443 L475 441 L472 439 L469 441 L466 440.6 L463 437 L460 434 L457 432 L453 431 L449 430 L445 428 L441 426 L439 423 L435 422 L431 421 L425 419 L419 416 L413 413 L407 409 L401 405 L395 401 L389 398 L383 396 L377 394.6 L371 393 L367 391.4 L329 378.8 L336.2 358.9 L344.5 339.4 L353.8 320.3 L364.2 301.8 L375.5 283.9 L387.8 266.6 L401 250Z" fill="none" stroke="#fff" stroke-width="3.2" stroke-linejoin="round" opacity="0.85"/>
<path d="M805.1 166.1 L805.9 171.1 L806.9 177.1 L806.3 183.1 L805.6 185.1 L803.6 185.6 L804.1 189.1 L804.6 193.1 L805.1 195.1 L807.1 197.2 L808.6 200.7 L811.1 202.2 L814.6 201.2 L818.1 202 L821.1 203 L824.1 202.4 L827.1 203.7 L830.1 204.2 L833.2 206.2 L836.2 208.4 L840.2 209.2 L844.2 210.2 L848.2 211.2 L851.2 211.4 L855.2 210.7 L860.2 209.2 L865.3 207.2 L870.3 205.2 L875.3 203.7 L879.3 202.2 L881.8 200.7 L902.8 165.5 L882.3 154 L861.1 143.8 L839.3 134.9 L817 127.3Z" fill="none" stroke="#fff" stroke-width="3.2" stroke-linejoin="round" opacity="0.85"/>
<path d="M859.6 817.4 L858.4 809 L857 799 L858 789 L857.6 781 L856 773 L853.6 766 L852.4 762 L855 759 L859 756 L861 751 L862.4 746 L865 744 L869 745 L873 747 L874.4 742 L877 738 L881 736 L886 734 L892 733 L896 732.6 L900 734.6 L903 737.4 L907 738 L909.6 736 L911.2 738 L913 741 L916 740 L918 737 L920 741 L922.4 746 L924.4 748.4 L924 741 L923.6 734 L925 730.6 L929 731.6 L934 733.4 L939 734 L942 736 L946 734 L950 732 L954 730 L959 727.4 L963 723 L966 718 L967.6 712 L970 706 L973.6 701 L976 695 L975 688 L974 682 L976 676 L979.6 670 L982 664 L982.4 657 L981.6 652 L984 647 L988 643.4 L993 641 L996 642 L998 645 L1002 647.4 L1008 649.4 L1015 650 L1021.6 649.4 L1058.1 666.2 L1049.1 684.4 L1039.1 702.2 L1028.3 719.5 L1016.6 736.2 L1004 752.2 L990.7 767.6 L976.5 782.2 L961.6 796.1 L946 809.2 L929.8 821.5 L912.9 832.9 L895.4 843.4 L877.5 853Z" fill="none" stroke="#fff" stroke-width="3.2" stroke-linejoin="round" opacity="0.85"/>
<path d="M843 726 L844.4 722.4 L848 720.6 L852.4 722 L856 725 L860 728.6 L863 731.6 L860 732.6 L856 733 L853.6 735 L851 738 L848 739 L845.6 736 L844 731Z" fill="none" stroke="#fff" stroke-width="3.2" stroke-linejoin="round" opacity="0.85"/>
<path d="M746.2 741 L749.2 740 L752.2 740.5 L755.2 741.2 L758.2 741.2 L759.7 742.5 L759.2 745 L758.2 748.1 L757.2 750.6 L755.2 753.6 L753.2 755.9 L750.7 758.1 L748.7 760.1 L746.7 762.1 L745.2 764.1 L744.2 766.6 L743.7 769.1 L742.7 771.1 L740.7 773.1 L739.7 775.6 L738.7 778.1 L737.7 779.9 L735.7 779.1 L733.7 777.6 L731.7 778.6 L730.1 777.1 L728.9 775.6 L729.1 773.1 L730.6 770.1 L732.2 767.1 L733.7 764.6 L734.2 762.1 L735.7 760.6 L737.7 758.6 L739.2 756.6 L740.2 754.1 L740.7 751.1 L741.7 748.1 L743.2 745 L744.7 742.5Z" fill="none" stroke="#fff" stroke-width="3.2" stroke-linejoin="round" opacity="0.85"/>
<path d="M724.1 776.1 L725.6 776.6 L726.3 778.1 L725.6 781.2 L725.1 784.2 L726.6 786.2 L729.1 787.4 L731.2 788.2 L733 789.7 L732.2 791.7 L730.1 792.7 L729.1 795.2 L728.6 797.7 L728.1 800.2 L729.1 803.2 L730.1 805.2 L732.2 807.7 L734.2 810.2 L736.2 812.7 L738.2 815.8 L740.2 818.8 L741.4 820.8 L739.7 819.8 L737.2 817.8 L734.7 816.3 L732.2 813.7 L730.1 810.2 L728.6 807.2 L727.6 805.2 L726.1 805.7 L725.6 808.2 L724.1 807.2 L723.6 804.7 L722.6 802.2 L720.6 800.7 L718.6 800.2 L716.1 800.7 L713.6 801.7 L711.1 802.7 L709.3 802.2 L709.6 799.7 L710.6 797.2 L711.6 794.7 L713.6 793.2 L715.6 791.7 L716.6 789.2 L717.6 786.7 L718.6 784.2 L719.6 781.7 L720.6 779.1 L722.1 777.1Z" fill="none" stroke="#fff" stroke-width="3.2" stroke-linejoin="round" opacity="0.85"/>
<path d="M516 397 L518 393 L520.6 389 L522.6 388.6 L523 393 L521 397 L518 399.4Z" fill="none" stroke="#fff" stroke-width="3.2" stroke-linejoin="round" opacity="0.85"/>
<path d="M432.4 276.4 L435 283 L437 291 L437.4 297 L440 303 L442 309 L442.6 315 L440.6 320 L437 324 L433 328 L429 330.6 L426 332 L427.4 334 L432 333 L436 331.4 L439 335 L444 334 L447 337 L449 342 L450 347 L449.4 353 L447 359 L445 364 L444.4 367 L448 369 L452 372 L454.6 375 L454 379 L451 382 L449 384.4 L453 386.4 L457.6 387 L458.4 383 L461 383 L462.4 386 L461.6 389 L465 392 L469 395 L471 399 L471.4 403 L474 407 L478 407.4 L482 405 L485 406 L487.6 408 L488.6 413 L492 418 L496 422 L500 425 L505 426 L511 427 L517 426 L522 424 L525.6 421.4 L526.6 424 L525 428 L523.6 433 L521 437 L517 441 L512 444 L507 446 L504 448 L500 447 L496 446 L492 448 L488 446 L484 444 L479 443 L475 441 L472 439 L469 441 L466 440.6 L463 437 L460 434 L457 432 L453 431 L449 430 L445 428 L441 426 L439 423 L435 422 L431 421 L425 419 L419 416 L413 413 L407 409 L401 405 L395 401 L389 398 L383 396 L377 394.6 L371 393 L367 391.4 L329 378.8 L336.2 358.9 L344.5 339.4 L353.8 320.3 L364.2 301.8 L375.5 283.9 L387.8 266.6 L401 250Z" fill="#808080" stroke="#000" stroke-width="1.1" stroke-linejoin="round"/>
<path d="M805.1 166.1 L805.9 171.1 L806.9 177.1 L806.3 183.1 L805.6 185.1 L803.6 185.6 L804.1 189.1 L804.6 193.1 L805.1 195.1 L807.1 197.2 L808.6 200.7 L811.1 202.2 L814.6 201.2 L818.1 202 L821.1 203 L824.1 202.4 L827.1 203.7 L830.1 204.2 L833.2 206.2 L836.2 208.4 L840.2 209.2 L844.2 210.2 L848.2 211.2 L851.2 211.4 L855.2 210.7 L860.2 209.2 L865.3 207.2 L870.3 205.2 L875.3 203.7 L879.3 202.2 L881.8 200.7 L902.8 165.5 L882.3 154 L861.1 143.8 L839.3 134.9 L817 127.3Z" fill="#808080" stroke="#000" stroke-width="1.1" stroke-linejoin="round"/>
<path d="M859.6 817.4 L858.4 809 L857 799 L858 789 L857.6 781 L856 773 L853.6 766 L852.4 762 L855 759 L859 756 L861 751 L862.4 746 L865 744 L869 745 L873 747 L874.4 742 L877 738 L881 736 L886 734 L892 733 L896 732.6 L900 734.6 L903 737.4 L907 738 L909.6 736 L911.2 738 L913 741 L916 740 L918 737 L920 741 L922.4 746 L924.4 748.4 L924 741 L923.6 734 L925 730.6 L929 731.6 L934 733.4 L939 734 L942 736 L946 734 L950 732 L954 730 L959 727.4 L963 723 L966 718 L967.6 712 L970 706 L973.6 701 L976 695 L975 688 L974 682 L976 676 L979.6 670 L982 664 L982.4 657 L981.6 652 L984 647 L988 643.4 L993 641 L996 642 L998 645 L1002 647.4 L1008 649.4 L1015 650 L1021.6 649.4 L1058.1 666.2 L1049.1 684.4 L1039.1 702.2 L1028.3 719.5 L1016.6 736.2 L1004 752.2 L990.7 767.6 L976.5 782.2 L961.6 796.1 L946 809.2 L929.8 821.5 L912.9 832.9 L895.4 843.4 L877.5 853Z" fill="#808080" stroke="#000" stroke-width="1.1" stroke-linejoin="round"/>
<path d="M706 400.6 L710 398 L716 397 L722 398 L728 399.4 L734 401.4 L740 403.4 L746 405 L752 406.6 L758 408.6 L762 409.4 L763.6 406.6 L765.6 407.4 L766.4 412 L768.4 416 L772 417.4 L776 415.4 L781 414.6 L786 417 L790 420 L794 422.6 L797 424.6 L800 422 L804 421.4 L807 424 L808.6 428 L808 433 L809 438 L809.6 443 L811 449 L812 455 L813 460 L809 462 L805 464 L802 466.6 L803 469 L807 470.6 L810 474 L813 477.4 L817 480.6 L821 485 L824 490 L826 496 L827.4 503 L828 510 L827.6 517 L827 525 L825 533 L822.4 540 L822 542 L820 546 L821 550 L819 555 L816 559 L812 562 L810 566 L807 570 L805 574 L804 579 L801 581 L798 583 L797 587 L795 591 L792 594 L788 597 L784 599 L780 601 L776 602 L772 601.6 L767 602.4 L762 603.6 L758 605 L754 605.6 L750 605 L746 603 L742 601 L737 600 L732 599.4 L727 598.4 L722 597.6 L718.4 596 L719 592 L721 588 L723 583 L724 578 L723.6 573 L722 568 L720 564 L718 561.6 L719 559 L720 556 L719 551 L717 546 L714 542 L711 539 L707 536 L702 534 L698 530.6 L695 527.4 L692 525 L689 524.6 L688 527 L688.4 531 L687 535 L685 539 L682 543 L679 544.6 L676 544 L674 545 L675.6 549 L677 554 L678 559 L677 563 L675 566 L673 565 L671 562 L668 560.6 L664 562 L660 564 L656 562.6 L652 561 L647 559 L643 556 L641 552 L638 549 L634 548 L630 549 L627 550.6 L628 548 L626 545 L624 542 L628 541 L630 538 L629 535 L626 536 L623 535 L625 533 L626 529 L624 527 L621 528 L619 525 L620 521 L619 517 L617 514 L615 512 L612 513 L610 516 L607 521 L605 518 L605.6 514 L607 510 L608 505 L609 500 L610 495 L609.9 495.3 L610.3 491.3 L610.9 488.2 L611.3 485.2 L610.1 483.7 L610.6 481.7 L612.1 479.7 L614.1 478.2 L615.6 476.7 L616.4 474.2 L616.7 471.2 L616.2 468.2 L615.1 466.2 L613.6 464.7 L611.1 463.7 L608.1 463.2 L605.1 463 L602.1 463.2 L600.1 462.2 L599.6 459.7 L598.6 457.2 L597.1 455.1 L595.1 454.3 L592.6 454.1 L590.6 455.1 L589.6 457.2 L589.6 459.2 L588.1 458.7 L586.6 457.7 L586.1 456.2 L587.1 454.6 L588.6 453.6 L588.1 452.1 L586.6 451.1 L585.1 449.6 L584.1 448.1 L583.1 446.1 L582.1 443.6 L581 441.1 L580 438.6 L579 436.6 L578.5 434.1 L578.8 431.1 L579.2 428.1 L579.5 425.1 L580 422.1 L581 420 L581.5 419.8 L582.6 420 L583.6 421.5 L583.1 424.1 L582.1 426.1 L583.6 427.6 L583.6 429.6 L582.3 431.1 L582.6 433.6 L583.3 436.1 L584.6 439.1 L586.1 441.6 L587.9 443.6 L589.6 445.6 L590.1 447.6 L591.1 449.6 L592.6 451.1 L595.1 452.1 L597.6 452.3 L599.6 451.1 L602.1 450.6 L605.1 451.1 L608.1 452.1 L611.1 452.9 L614.1 454.1 L617.2 455.6 L620.2 456.7 L623.2 458.2 L625.7 459.7 L627.7 461.2 L629.7 463.2 L631.2 465.2 L632.7 466.7 L634.2 468.2 L635.2 470.2 L636.4 473.2 L637.4 475.2 L638.7 473.2 L640 470.7 L641.7 468.2 L644.2 466.2 L647.2 465 L650.3 464 L653.3 463 L656.3 462 L658.8 460.2 L660.8 458.2 L662.8 455.1 L664.3 451.1 L665.3 447.1 L665.8 443.1 L666.8 439.1 L668.3 434.1 L669.3 429.1 L670.3 425.1 L672.3 421 L674.3 417.5 L676.8 414 L679.3 410.5 L681.8 407.5 L678 413 L680.4 410 L682.4 407.4 L681.6 404.6 L683.6 403.4 L685.6 405 L688 404.6 L688 401.4 L690 400.6 L693 402 L695.6 401 L695.6 397.4 L697.6 396.6 L699 399.4 L700 402.6 L703 402Z" fill="#808080" stroke="#000" stroke-width="1.1" stroke-linejoin="round"/>
<path d="M594.1 465.2 L596.1 464.4 L599.1 464.2 L602.1 464.2 L605.1 464.4 L608.1 465 L610.6 466.2 L612.1 468.2 L612.6 470.7 L612.1 473.2 L610.6 474.7 L608.6 476 L606.6 477.2 L604.6 478 L602.9 477.4 L603.3 475.2 L604.1 472.7 L604.3 470.2 L603.6 468.2 L601.6 467.4 L599.1 467.2 L596.6 467 L594.6 466.4Z" fill="#808080" stroke="#000" stroke-width="1.1" stroke-linejoin="round"/>
<path d="M843 726 L844.4 722.4 L848 720.6 L852.4 722 L856 725 L860 728.6 L863 731.6 L860 732.6 L856 733 L853.6 735 L851 738 L848 739 L845.6 736 L844 731Z" fill="#808080" stroke="#000" stroke-width="1.1" stroke-linejoin="round"/>
<path d="M746.2 741 L749.2 740 L752.2 740.5 L755.2 741.2 L758.2 741.2 L759.7 742.5 L759.2 745 L758.2 748.1 L757.2 750.6 L755.2 753.6 L753.2 755.9 L750.7 758.1 L748.7 760.1 L746.7 762.1 L745.2 764.1 L744.2 766.6 L743.7 769.1 L742.7 771.1 L740.7 773.1 L739.7 775.6 L738.7 778.1 L737.7 779.9 L735.7 779.1 L733.7 777.6 L731.7 778.6 L730.1 777.1 L728.9 775.6 L729.1 773.1 L730.6 770.1 L732.2 767.1 L733.7 764.6 L734.2 762.1 L735.7 760.6 L737.7 758.6 L739.2 756.6 L740.2 754.1 L740.7 751.1 L741.7 748.1 L743.2 745 L744.7 742.5Z" fill="#808080" stroke="#000" stroke-width="1.1" stroke-linejoin="round"/>
<path d="M724.1 776.1 L725.6 776.6 L726.3 778.1 L725.6 781.2 L725.1 784.2 L726.6 786.2 L729.1 787.4 L731.2 788.2 L733 789.7 L732.2 791.7 L730.1 792.7 L729.1 795.2 L728.6 797.7 L728.1 800.2 L729.1 803.2 L730.1 805.2 L732.2 807.7 L734.2 810.2 L736.2 812.7 L738.2 815.8 L740.2 818.8 L741.4 820.8 L739.7 819.8 L737.2 817.8 L734.7 816.3 L732.2 813.7 L730.1 810.2 L728.6 807.2 L727.6 805.2 L726.1 805.7 L725.6 808.2 L724.1 807.2 L723.6 804.7 L722.6 802.2 L720.6 800.7 L718.6 800.2 L716.1 800.7 L713.6 801.7 L711.1 802.7 L709.3 802.2 L709.6 799.7 L710.6 797.2 L711.6 794.7 L713.6 793.2 L715.6 791.7 L716.6 789.2 L717.6 786.7 L718.6 784.2 L719.6 781.7 L720.6 779.1 L722.1 777.1Z" fill="#808080" stroke="#000" stroke-width="1.1" stroke-linejoin="round"/>
<path d="M516 397 L518 393 L520.6 389 L522.6 388.6 L523 393 L521 397 L518 399.4Z" fill="#808080" stroke="#000" stroke-width="1.1" stroke-linejoin="round"/>
<path d="M910.6 733 L912 729.4 L914.4 728 L915.4 729.4 L913.6 732.6Z" fill="#808080" stroke="#000" stroke-width="1.1" stroke-linejoin="round"/>
<path d="M580 345.4 L587 344.2 L587.4 345.6 L581 346.8Z" fill="#222" stroke="#000" stroke-width="0.8"/>
<path d="M683.2 559 L684 554 L685.6 552.6 L686 555 L684.8 559.4Z" fill="#808080" stroke="#000" stroke-width="1.1" stroke-linejoin="round"/>
<path d="M714.4 567 L716.4 566 L717.6 567.4 L716 569Z" fill="#808080" stroke="#000" stroke-width="1.1" stroke-linejoin="round"/>
<path d="M596.6 474.2 L597.1 472.7 L598.6 472.2 L599.9 473.2 L600.1 475 L598.9 476.2 L597.3 475.8Z" fill="#808080" stroke="#000" stroke-width="1.1" stroke-linejoin="round"/>
<path d="M911 421 L913 422.4 L915 420 L916 422.4 L914.4 424.4 L915.6 427 L913 426.4 L911.6 424Z" fill="#1a1a1a" stroke="#000" stroke-width="0.5"/>
<path d="M571.2 422.6 L572.2 422.3 L572.6 430.1 L571.4 430.3Z" fill="#1a1a1a" stroke="#000" stroke-width="0.5"/>
<path d="M576.8 438.1 L578 437.9 L578.2 439.6 L577 439.9Z" fill="#1a1a1a" stroke="#000" stroke-width="0.5"/>
<path d="M585 389.8 L588 389 L588.4 391 L585.6 391.8Z" fill="#1a1a1a" stroke="#000" stroke-width="0.5"/>
<path d="M684.4 761.2 L687.6 760.4 L688 763.2 L685.2 763.6Z" fill="#1a1a1a" stroke="#000" stroke-width="0.5"/>
<path d="M750.2 736.2 L751.7 735.5 L752.4 739 L751 739.2Z" fill="#1a1a1a" stroke="#000" stroke-width="0.5"/>
<path d="M507 428 L508 434 L512 435 L510 439 L514 441 L511 444 L505 445" fill="none" stroke="#000" stroke-width="0.7"/>
<path d="M508 434 L515 432 L519 435 L517 439" fill="none" stroke="#000" stroke-width="0.7"/>
<g fill="none" stroke="#1c1c1c" stroke-width="1.25" stroke-dasharray="1.25 2.75" opacity="0.93">
<circle cx="701.5" cy="502.3" r="311.0"/><circle cx="701.5" cy="502.3" r="234.3"/><circle cx="701.5" cy="502.3" r="163.5"/><circle cx="701.5" cy="502.3" r="96.7"/><circle cx="701.5" cy="502.3" r="32.0"/><path d="M701.5 502.3L701.5 149.9M701.5 502.3L877.7 197.1M701.5 502.3L1006.7 326.1M701.5 502.3L1053.9 502.3M701.5 502.3L1006.7 678.5M701.5 502.3L877.7 807.5M701.5 502.3L701.5 854.7M701.5 502.3L525.3 807.5M701.5 502.3L396.3 678.5M701.5 502.3L349.1 502.3M701.5 502.3L396.3 326.1M701.5 502.3L525.3 197.1"/>
</g>
</g>
<circle cx="701.5" cy="502.3" r="352.4" fill="none" stroke="#000" stroke-width="1.05"/>
<path d="M701.5 502.3l0.0 -8.0M701.5 502.3l4.0 -6.9M701.5 502.3l6.9 -4.0M701.5 502.3l8.0 -0.0M701.5 502.3l6.9 4.0M701.5 502.3l4.0 6.9M701.5 502.3l0.0 8.0M701.5 502.3l-4.0 6.9M701.5 502.3l-6.9 4.0M701.5 502.3l-8.0 0.0M701.5 502.3l-6.9 -4.0M701.5 502.3l-4.0 -6.9" stroke="#000" stroke-width="0.95"/>
<path d="M701.5 502.3V534.3" stroke="#000" stroke-width="1"/>
<path d="M693.5 534.3H706.5M690 599.0H704M687 665.8H701.5M684 736.6H696.5M680.5 813.3H692.5" stroke="#000" stroke-width="1"/>
<path d="M701.5 149.9L701.5 142.9M877.7 197.1L881.2 191.1M1006.7 326.1L1012.7 322.6M1053.9 502.3L1060.9 502.3M1006.7 678.5L1012.7 682.0M877.7 807.5L881.2 813.5M701.5 854.7L701.5 861.7M525.3 807.5L521.8 813.5M396.3 678.5L390.3 682.0M349.1 502.3L342.1 502.3M396.3 326.1L390.3 322.6M525.3 197.1L521.8 191.1" stroke="#000" stroke-width="1"/>
<g font-size="16.7" fill="#000" text-anchor="middle">
<text transform="translate(703.5 138.7) rotate(0)">0<tspan dx="0.5" dy="-7.8" font-size="13.4">o</tspan></text>
<text transform="translate(885.0 188.4) rotate(30)">30<tspan dx="0.5" dy="-7.8" font-size="13.4">o</tspan><tspan dx="0.7" dy="7.8">E</tspan></text>
<text transform="translate(1017.4 322.2) rotate(60)">60<tspan dx="0.5" dy="-7.8" font-size="13.4">o</tspan><tspan dx="0.7" dy="7.8">E</tspan></text>
<text transform="translate(1065.1 504.3) rotate(90)">90<tspan dx="0.5" dy="-7.8" font-size="13.4">o</tspan><tspan dx="0.7" dy="7.8">E</tspan></text>
<text transform="translate(1033.6 691.7) rotate(-60)">120<tspan dx="0.5" dy="-7.8" font-size="13.4">o</tspan><tspan dx="0.7" dy="7.8">E</tspan></text>
<text transform="translate(894.4 832.4) rotate(-30)">150<tspan dx="0.5" dy="-7.8" font-size="13.4">o</tspan><tspan dx="0.7" dy="7.8">E</tspan></text>
<text transform="translate(703.5 884.6) rotate(0)">180<tspan dx="0.5" dy="-7.8" font-size="13.4">o</tspan><tspan dx="0.7" dy="7.8">W</tspan></text>
<text transform="translate(512.1 834.4) rotate(30)">150<tspan dx="0.5" dy="-7.8" font-size="13.4">o</tspan><tspan dx="0.7" dy="7.8">W</tspan></text>
<text transform="translate(371.4 695.2) rotate(60)">120<tspan dx="0.5" dy="-7.8" font-size="13.4">o</tspan><tspan dx="0.7" dy="7.8">W</tspan></text>
<text transform="translate(337.9 500.3) rotate(-90)">90<tspan dx="0.5" dy="-7.8" font-size="13.4">o</tspan><tspan dx="0.7" dy="7.8">W</tspan></text>
<text transform="translate(387.6 318.8) rotate(-60)">60<tspan dx="0.5" dy="-7.8" font-size="13.4">o</tspan><tspan dx="0.7" dy="7.8">W</tspan></text>
<text transform="translate(521.4 186.4) rotate(-30)">30<tspan dx="0.5" dy="-7.8" font-size="13.4">o</tspan><tspan dx="0.7" dy="7.8">W</tspan></text>
</g>
<g font-size="16.7" fill="#000">
<text x="715.5" y="544.5">84<tspan dx="0.5" dy="-7.8" font-size="13.4">o</tspan><tspan dx="0.7" dy="7.8">S</tspan></text>
<text x="714.0" y="610.5">72<tspan dx="0.5" dy="-7.8" font-size="13.4">o</tspan><tspan dx="0.7" dy="7.8">S</tspan></text>
<text x="708.5" y="676.2">60<tspan dx="0.5" dy="-7.8" font-size="13.4">o</tspan><tspan dx="0.7" dy="7.8">S</tspan></text>
<text x="705.4" y="746.8">48<tspan dx="0.5" dy="-7.8" font-size="13.4">o</tspan><tspan dx="0.7" dy="7.8">S</tspan></text>
<text x="701.3" y="824.3">36<tspan dx="0.5" dy="-7.8" font-size="13.4">o</tspan><tspan dx="0.7" dy="7.8">S</tspan></text>
</g>
<text x="705.9" y="68.1" font-size="31.4" font-weight="bold" text-anchor="middle" fill="#000">AVHRR Zonal Sea Surface Temperature Gradient</text>
<text x="701.8" y="107.9" font-size="25.4" font-weight="bold" text-anchor="middle" fill="#000">2011-03-18</text>
<rect x="375.5" y="911.2" width="659.5" height="19.199999999999932" fill="url(#cb)" stroke="#262626" stroke-width="0.9"/>
<path d="M485.4 930.4v-6M595.3 930.4v-6M705.2 930.4v-6M815.2 930.4v-6M925.1 930.4v-6" stroke="#262626" stroke-width="0.9"/>
<g font-size="17" fill="#262626" text-anchor="middle">
<text x="375.5" y="955.8">-0.06</text><text x="485.4" y="955.8">-0.04</text><text x="595.3" y="955.8">-0.02</text><text x="705.2" y="955.8">0</text><text x="815.2" y="955.8">0.02</text><text x="925.1" y="955.8">0.04</text><text x="1035.0" y="955.8">0.06</text>
<text x="705.9" y="978.9">°C/km</text>
</g>
</svg>
</body></html>
